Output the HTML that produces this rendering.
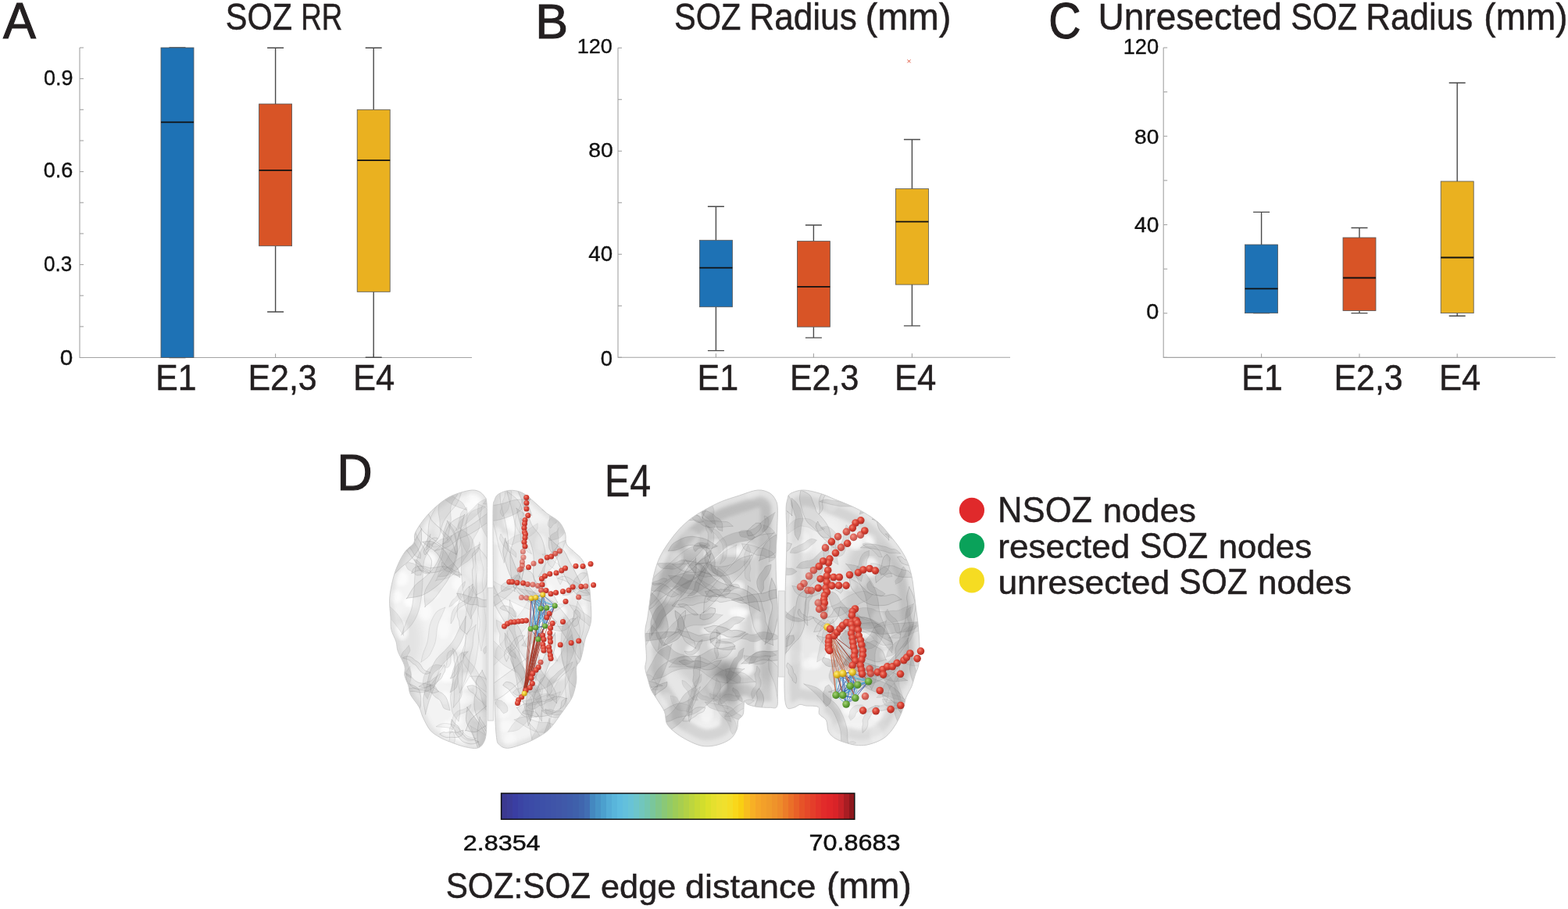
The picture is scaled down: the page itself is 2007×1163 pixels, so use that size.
<!DOCTYPE html>
<html><head><meta charset="utf-8"><title>Figure</title>
<style>html,body{margin:0;padding:0;background:#fff;overflow:hidden}svg{display:block}text{font-family:'Liberation Sans', 'DejaVu Sans', sans-serif;stroke:currentColor;stroke-width:0.5px;paint-order:stroke}</style>
</head><body>
<svg width="2007" height="1163" viewBox="0 0 2007 1163">
<rect width="2007" height="1163" fill="#fff"/>
<defs>
<clipPath id="cb1l"><path d="M601.0 627.4C606.6 626.5 609.3 627.2 612.5 628.5C615.7 629.8 618.2 632.5 620.0 635.0C621.8 637.5 622.4 636.3 623.0 643.6C623.6 650.9 623.5 665.9 623.6 678.6C623.7 691.3 623.6 703.1 623.5 720.0C623.4 736.9 623.1 758.3 623.0 780.0C622.9 801.7 623.0 830.0 623.0 850.0C623.0 870.0 623.1 885.5 623.0 900.0C622.9 914.5 623.1 928.5 622.4 937.0C621.6 945.5 620.5 947.6 618.5 951.0C616.5 954.4 614.6 956.4 610.7 957.2C606.8 958.0 601.0 956.9 595.3 955.6C589.6 954.3 582.1 951.5 576.7 949.4C571.3 947.3 567.2 945.9 562.8 943.3C558.4 940.7 554.0 938.4 550.4 934.0C546.8 929.6 543.3 921.9 541.0 917.0C538.7 912.1 539.0 909.3 536.4 904.6C533.8 899.9 527.9 893.6 525.6 889.0C523.3 884.4 523.8 880.8 522.5 876.7C521.2 872.6 518.7 868.4 517.9 864.3C517.1 860.2 519.3 857.2 517.9 852.0C516.5 846.8 511.1 838.5 509.3 833.3C507.5 828.1 508.4 825.6 507.0 821.0C505.6 816.4 502.0 810.7 500.8 805.5C499.6 800.3 500.4 796.6 500.0 790.0C499.6 783.4 498.2 774.0 498.7 766.0C499.1 758.0 501.0 749.3 502.7 742.2C504.4 735.1 506.4 729.3 509.0 723.2C511.6 717.1 515.1 710.5 518.6 705.7C522.1 700.9 527.7 698.5 529.8 694.5C531.9 690.5 529.0 687.1 531.4 681.8C533.8 676.5 539.0 668.8 544.0 662.7C549.0 656.6 555.8 650.0 561.6 645.2C567.4 640.4 572.4 637.0 579.0 634.0C585.6 631.0 595.4 628.3 601.0 627.4Z"/></clipPath>
<clipPath id="cb1r"><path d="M651.8 627.4C656.8 627.0 662.4 627.7 667.7 630.1C673.0 632.5 678.3 637.6 683.6 642.0C688.9 646.4 694.2 652.1 699.5 656.4C704.8 660.6 711.4 663.3 715.4 667.5C719.4 671.7 721.8 677.0 723.4 681.8C725.0 686.6 723.1 692.1 725.0 696.1C726.9 700.1 731.1 702.2 734.5 705.7C737.9 709.2 742.7 712.0 745.6 716.8C748.5 721.6 750.4 727.4 752.0 734.3C753.6 741.2 754.4 748.8 755.2 758.1C756.0 767.4 757.0 782.3 756.8 790.0C756.6 797.7 755.3 799.9 754.0 804.5C752.7 809.1 750.5 812.7 749.1 817.6C747.7 822.5 746.9 829.4 745.8 834.0C744.7 838.6 744.0 842.1 742.6 845.4C741.2 848.6 738.5 849.1 737.7 853.5C736.9 857.9 738.5 865.2 737.7 871.5C736.9 877.8 735.0 885.5 732.8 891.0C730.6 896.5 727.3 900.1 724.6 904.2C721.9 908.3 719.1 911.8 716.4 915.6C713.7 919.4 711.2 923.4 708.2 927.0C705.2 930.6 702.8 933.7 698.4 937.0C694.0 940.3 687.4 944.0 682.0 946.7C676.6 949.4 671.2 951.4 665.8 953.2C660.4 955.0 653.8 957.3 649.4 957.3C645.0 957.3 641.9 955.5 639.6 953.2C637.3 950.9 636.6 952.3 635.5 943.4C634.4 934.5 633.6 915.6 633.0 900.0C632.4 884.4 632.2 866.7 632.0 850.0C631.8 833.3 631.6 825.0 631.5 800.0C631.4 775.0 631.2 725.0 631.1 700.0C631.0 675.0 630.8 660.0 631.1 650.0C631.4 640.0 631.9 642.9 633.0 640.0C634.1 637.1 634.4 634.6 637.5 632.5C640.6 630.4 646.8 627.8 651.8 627.4Z"/></clipPath>
<clipPath id="cb2l"><path d="M969.8 627.0C976.2 626.5 981.3 628.6 985.2 630.8C989.1 633.0 991.3 636.7 993.0 640.1C994.7 643.5 995.0 644.0 995.3 651.0C995.5 658.0 994.9 671.6 994.5 681.9C994.1 692.2 993.1 702.6 993.0 712.9C992.9 723.2 993.3 733.5 993.7 743.8C994.1 754.1 994.9 762.1 995.3 774.8C995.7 787.5 996.0 802.0 996.0 820.0C996.0 838.0 995.5 868.9 995.3 882.9C995.0 896.9 996.2 900.1 994.5 903.8C992.8 907.5 989.4 905.2 985.3 905.3C981.2 905.4 974.4 905.1 969.8 904.5C965.1 903.9 960.2 902.4 957.4 901.4C954.5 900.4 953.7 896.2 952.7 898.3C951.7 900.4 952.5 909.9 951.2 913.8C949.9 917.7 946.3 918.5 945.0 921.6C943.7 924.7 945.0 928.5 943.5 932.4C942.0 936.3 939.6 941.4 935.7 944.8C931.8 948.1 925.9 950.8 920.2 952.5C914.5 954.2 907.6 955.3 901.7 954.8C895.8 954.3 890.5 952.1 884.6 949.4C878.7 946.7 871.2 942.5 866.1 938.6C861.0 934.7 856.3 930.9 853.7 926.2C851.1 921.6 852.7 915.9 850.6 910.7C848.5 905.5 844.1 899.8 841.3 895.2C838.5 890.6 835.5 887.0 833.6 882.9C831.7 878.8 831.0 875.1 829.7 870.5C828.4 865.9 826.2 859.9 825.8 855.0C825.4 850.1 827.4 848.8 827.4 841.1C827.4 833.4 825.5 817.1 825.8 808.6C826.0 800.1 827.9 796.9 828.9 790.0C829.9 783.1 831.0 774.7 832.0 767.0C833.0 759.3 833.8 750.8 835.1 743.8C836.4 736.8 838.0 730.9 839.8 725.2C841.6 719.5 843.2 715.2 846.0 709.8C848.8 704.4 852.9 698.1 856.8 692.7C860.7 687.3 864.6 682.2 869.2 677.3C873.8 672.4 879.2 667.4 884.6 663.3C890.0 659.2 895.2 656.1 901.7 652.5C908.2 648.9 915.8 644.8 923.3 641.7C930.8 638.6 938.8 636.4 946.5 633.9C954.2 631.4 963.3 627.5 969.8 627.0Z"/></clipPath>
<clipPath id="cb2r"><path d="M1028.3 627.0C1034.8 627.0 1043.7 629.6 1050.5 631.6C1057.3 633.6 1062.8 636.5 1068.9 639.0C1075.1 641.5 1081.2 643.6 1087.4 646.4C1093.6 649.2 1099.7 652.0 1105.9 655.7C1112.1 659.4 1118.9 663.7 1124.4 668.6C1130.0 673.5 1134.6 679.7 1139.2 685.2C1143.8 690.8 1148.4 696.4 1152.1 701.9C1155.8 707.4 1158.9 712.6 1161.4 718.5C1163.9 724.4 1165.5 730.8 1166.9 737.0C1168.3 743.2 1168.8 748.7 1169.7 755.5C1170.6 762.3 1171.5 770.3 1172.4 777.7C1173.3 785.1 1174.4 791.1 1175.2 799.8C1176.0 808.5 1177.0 821.6 1177.1 830.0C1177.2 838.4 1176.9 844.5 1176.0 850.0C1175.1 855.5 1173.0 858.4 1171.5 863.0C1170.0 867.6 1169.0 872.8 1167.1 877.7C1165.1 882.6 1161.5 887.9 1159.8 892.3C1158.1 896.7 1158.4 899.6 1156.9 904.0C1155.4 908.4 1153.4 913.7 1151.0 918.6C1148.6 923.5 1145.7 928.8 1142.3 933.2C1138.9 937.6 1135.5 941.7 1130.6 944.9C1125.7 948.1 1118.5 950.8 1113.1 952.2C1107.7 953.7 1103.3 953.9 1098.4 953.6C1093.5 953.4 1088.7 952.2 1083.8 950.7C1078.9 949.2 1073.1 947.3 1069.2 944.9C1065.3 942.5 1062.5 940.0 1060.5 936.1C1058.5 932.2 1059.5 925.2 1057.5 921.5C1055.5 917.8 1050.4 916.6 1048.7 913.8C1047.0 911.0 1050.0 906.3 1047.2 904.5C1044.4 902.7 1035.6 903.5 1031.7 903.0C1027.8 902.5 1026.5 901.0 1023.9 901.4C1021.3 901.8 1019.0 904.8 1016.2 905.3C1013.4 905.8 1008.9 908.7 1006.9 904.5C1004.9 900.3 1004.3 894.1 1004.0 880.0C1003.7 865.9 1005.0 840.8 1005.2 820.0C1005.4 799.2 1005.1 771.2 1005.2 755.5C1005.4 739.8 1005.8 737.1 1006.1 726.0C1006.4 714.9 1007.0 701.3 1007.0 689.0C1007.0 676.7 1006.0 660.3 1006.1 652.0C1006.2 643.7 1007.0 642.4 1007.9 639.0C1008.8 635.6 1008.2 633.6 1011.6 631.6C1015.0 629.6 1021.8 627.0 1028.3 627.0Z"/></clipPath>
<radialGradient id="gr" cx="0.38" cy="0.35" r="0.7"><stop offset="0" stop-color="#f28a78"/><stop offset="0.45" stop-color="#dc4436"/><stop offset="1" stop-color="#a82a22"/></radialGradient>
<radialGradient id="gg" cx="0.38" cy="0.35" r="0.7"><stop offset="0" stop-color="#a8d47a"/><stop offset="0.5" stop-color="#6aa83c"/><stop offset="1" stop-color="#3f7a22"/></radialGradient>
<radialGradient id="gy" cx="0.38" cy="0.35" r="0.7"><stop offset="0" stop-color="#fff08a"/><stop offset="0.5" stop-color="#e9c42a"/><stop offset="1" stop-color="#b08a10"/></radialGradient>
<filter id="blur1" x="-5%" y="-5%" width="110%" height="110%"><feGaussianBlur stdDeviation="2"/></filter>
<filter id="blur2" x="-10%" y="-10%" width="120%" height="120%"><feGaussianBlur stdDeviation="5"/></filter>
<filter id="blur3" x="-30%" y="-30%" width="160%" height="160%"><feGaussianBlur stdDeviation="6"/></filter>
</defs>
<path d="M601.0 627.4C606.6 626.5 609.3 627.2 612.5 628.5C615.7 629.8 618.2 632.5 620.0 635.0C621.8 637.5 622.4 636.3 623.0 643.6C623.6 650.9 623.5 665.9 623.6 678.6C623.7 691.3 623.6 703.1 623.5 720.0C623.4 736.9 623.1 758.3 623.0 780.0C622.9 801.7 623.0 830.0 623.0 850.0C623.0 870.0 623.1 885.5 623.0 900.0C622.9 914.5 623.1 928.5 622.4 937.0C621.6 945.5 620.5 947.6 618.5 951.0C616.5 954.4 614.6 956.4 610.7 957.2C606.8 958.0 601.0 956.9 595.3 955.6C589.6 954.3 582.1 951.5 576.7 949.4C571.3 947.3 567.2 945.9 562.8 943.3C558.4 940.7 554.0 938.4 550.4 934.0C546.8 929.6 543.3 921.9 541.0 917.0C538.7 912.1 539.0 909.3 536.4 904.6C533.8 899.9 527.9 893.6 525.6 889.0C523.3 884.4 523.8 880.8 522.5 876.7C521.2 872.6 518.7 868.4 517.9 864.3C517.1 860.2 519.3 857.2 517.9 852.0C516.5 846.8 511.1 838.5 509.3 833.3C507.5 828.1 508.4 825.6 507.0 821.0C505.6 816.4 502.0 810.7 500.8 805.5C499.6 800.3 500.4 796.6 500.0 790.0C499.6 783.4 498.2 774.0 498.7 766.0C499.1 758.0 501.0 749.3 502.7 742.2C504.4 735.1 506.4 729.3 509.0 723.2C511.6 717.1 515.1 710.5 518.6 705.7C522.1 700.9 527.7 698.5 529.8 694.5C531.9 690.5 529.0 687.1 531.4 681.8C533.8 676.5 539.0 668.8 544.0 662.7C549.0 656.6 555.8 650.0 561.6 645.2C567.4 640.4 572.4 637.0 579.0 634.0C585.6 631.0 595.4 628.3 601.0 627.4Z" fill="#f3f3f3"/>
<g clip-path="url(#cb1l)">
<ellipse cx="575" cy="705" rx="25" ry="18" fill="#777" opacity="0.12" filter="url(#blur3)"/>
<ellipse cx="525" cy="820" rx="16" ry="35" fill="#777" opacity="0.12" filter="url(#blur3)"/>
<ellipse cx="585" cy="850" rx="20" ry="22" fill="#777" opacity="0.1" filter="url(#blur3)"/>
<ellipse cx="610" cy="905" rx="12" ry="35" fill="#777" opacity="0.15" filter="url(#blur3)"/>
<ellipse cx="571.3" cy="691.6" rx="13.7" ry="13.4" fill="#fff" opacity="0.58" filter="url(#blur1)"/>
<ellipse cx="581.6" cy="698.1" rx="7.8" ry="8.3" fill="#fff" opacity="0.69" filter="url(#blur1)"/>
<ellipse cx="544.5" cy="783.0" rx="8.6" ry="11.1" fill="#fff" opacity="0.55" filter="url(#blur1)"/>
<ellipse cx="524.7" cy="769.3" rx="8.4" ry="6.9" fill="#fff" opacity="0.75" filter="url(#blur1)"/>
<ellipse cx="583.7" cy="846.6" rx="13.1" ry="9.2" fill="#fff" opacity="0.54" filter="url(#blur1)"/>
<ellipse cx="551.5" cy="760.8" rx="11.4" ry="6.1" fill="#fff" opacity="0.58" filter="url(#blur1)"/>
<ellipse cx="565.5" cy="741.4" rx="6.2" ry="11.6" fill="#fff" opacity="0.35" filter="url(#blur1)"/>
<ellipse cx="569.2" cy="678.0" rx="6.3" ry="7.4" fill="#fff" opacity="0.38" filter="url(#blur1)"/>
<ellipse cx="589.7" cy="747.0" rx="11.2" ry="9.8" fill="#fff" opacity="0.59" filter="url(#blur1)"/>
<ellipse cx="608.1" cy="730.1" rx="13.0" ry="11.5" fill="#fff" opacity="0.68" filter="url(#blur1)"/>
<ellipse cx="616.9" cy="916.2" rx="12.7" ry="7.0" fill="#fff" opacity="0.70" filter="url(#blur1)"/>
<ellipse cx="595.4" cy="894.3" rx="12.3" ry="7.1" fill="#fff" opacity="0.44" filter="url(#blur1)"/>
<ellipse cx="597.7" cy="870.9" rx="13.1" ry="9.6" fill="#fff" opacity="0.79" filter="url(#blur1)"/>
<ellipse cx="609.2" cy="738.7" rx="6.5" ry="10.4" fill="#fff" opacity="0.69" filter="url(#blur1)"/>
<ellipse cx="533.5" cy="899.3" rx="6.7" ry="13.5" fill="#fff" opacity="0.47" filter="url(#blur1)"/>
<ellipse cx="621.2" cy="924.6" rx="8.6" ry="6.8" fill="#fff" opacity="0.67" filter="url(#blur1)"/>
<ellipse cx="609.6" cy="631.4" rx="11.1" ry="12.9" fill="#fff" opacity="0.57" filter="url(#blur1)"/>
<ellipse cx="569.8" cy="892.6" rx="7.9" ry="8.2" fill="#fff" opacity="0.67" filter="url(#blur1)"/>
<ellipse cx="567.7" cy="804.0" rx="8.7" ry="13.5" fill="#fff" opacity="0.49" filter="url(#blur1)"/>
<ellipse cx="583.5" cy="922.3" rx="9.2" ry="6.4" fill="#fff" opacity="0.46" filter="url(#blur1)"/>
<ellipse cx="513.7" cy="740.4" rx="9.0" ry="9.6" fill="#fff" opacity="0.68" filter="url(#blur1)"/>
<ellipse cx="583.2" cy="854.1" rx="8.9" ry="11.3" fill="#fff" opacity="0.62" filter="url(#blur1)"/>
<ellipse cx="514.6" cy="807.4" rx="8.5" ry="11.4" fill="#fff" opacity="0.71" filter="url(#blur1)"/>
<ellipse cx="528.8" cy="770.9" rx="9.6" ry="8.4" fill="#fff" opacity="0.37" filter="url(#blur1)"/>
<ellipse cx="591.1" cy="772.1" rx="11.3" ry="8.2" fill="#fff" opacity="0.70" filter="url(#blur1)"/>
<ellipse cx="617.5" cy="882.4" rx="9.7" ry="13.9" fill="#fff" opacity="0.80" filter="url(#blur1)"/>
<ellipse cx="506.0" cy="763.2" rx="9.6" ry="8.2" fill="#fff" opacity="0.65" filter="url(#blur1)"/>
<ellipse cx="605.8" cy="647.7" rx="11.5" ry="8.1" fill="#fff" opacity="0.66" filter="url(#blur1)"/>
<ellipse cx="585.0" cy="949.5" rx="12.4" ry="8.7" fill="#fff" opacity="0.71" filter="url(#blur1)"/>
<ellipse cx="550.8" cy="714.9" rx="7.9" ry="7.7" fill="#fff" opacity="0.74" filter="url(#blur1)"/>
<ellipse cx="589.9" cy="821.1" rx="11.3" ry="13.2" fill="#fff" opacity="0.57" filter="url(#blur1)"/>
<ellipse cx="563.2" cy="863.3" rx="13.3" ry="10.1" fill="#fff" opacity="0.46" filter="url(#blur1)"/>
<ellipse cx="572.7" cy="935.7" rx="8.7" ry="13.4" fill="#fff" opacity="0.79" filter="url(#blur1)"/>
<ellipse cx="570.8" cy="786.0" rx="7.0" ry="6.9" fill="#fff" opacity="0.37" filter="url(#blur1)"/>
<ellipse cx="575.1" cy="862.4" rx="13.9" ry="10.8" fill="#fff" opacity="0.84" filter="url(#blur1)"/>
<ellipse cx="549.0" cy="671.6" rx="6.5" ry="8.3" fill="#fff" opacity="0.61" filter="url(#blur1)"/>
<ellipse cx="621.9" cy="725.4" rx="7.9" ry="11.8" fill="#fff" opacity="0.54" filter="url(#blur1)"/>
<ellipse cx="568.4" cy="677.3" rx="12.8" ry="13.4" fill="#fff" opacity="0.72" filter="url(#blur1)"/>
<ellipse cx="615.6" cy="737.1" rx="6.3" ry="8.4" fill="#fff" opacity="0.79" filter="url(#blur1)"/>
<ellipse cx="557.3" cy="693.5" rx="7.2" ry="7.3" fill="#fff" opacity="0.57" filter="url(#blur1)"/>
<path d="M601.0 627.4C606.6 626.5 609.3 627.2 612.5 628.5C615.7 629.8 618.2 632.5 620.0 635.0C621.8 637.5 622.4 636.3 623.0 643.6C623.6 650.9 623.5 665.9 623.6 678.6C623.7 691.3 623.6 703.1 623.5 720.0C623.4 736.9 623.1 758.3 623.0 780.0C622.9 801.7 623.0 830.0 623.0 850.0C623.0 870.0 623.1 885.5 623.0 900.0C622.9 914.5 623.1 928.5 622.4 937.0C621.6 945.5 620.5 947.6 618.5 951.0C616.5 954.4 614.6 956.4 610.7 957.2C606.8 958.0 601.0 956.9 595.3 955.6C589.6 954.3 582.1 951.5 576.7 949.4C571.3 947.3 567.2 945.9 562.8 943.3C558.4 940.7 554.0 938.4 550.4 934.0C546.8 929.6 543.3 921.9 541.0 917.0C538.7 912.1 539.0 909.3 536.4 904.6C533.8 899.9 527.9 893.6 525.6 889.0C523.3 884.4 523.8 880.8 522.5 876.7C521.2 872.6 518.7 868.4 517.9 864.3C517.1 860.2 519.3 857.2 517.9 852.0C516.5 846.8 511.1 838.5 509.3 833.3C507.5 828.1 508.4 825.6 507.0 821.0C505.6 816.4 502.0 810.7 500.8 805.5C499.6 800.3 500.4 796.6 500.0 790.0C499.6 783.4 498.2 774.0 498.7 766.0C499.1 758.0 501.0 749.3 502.7 742.2C504.4 735.1 506.4 729.3 509.0 723.2C511.6 717.1 515.1 710.5 518.6 705.7C522.1 700.9 527.7 698.5 529.8 694.5C531.9 690.5 529.0 687.1 531.4 681.8C533.8 676.5 539.0 668.8 544.0 662.7C549.0 656.6 555.8 650.0 561.6 645.2C567.4 640.4 572.4 637.0 579.0 634.0C585.6 631.0 595.4 628.3 601.0 627.4Z" fill="none" stroke="#888" stroke-opacity="0.15" stroke-width="10" filter="url(#blur1)"/>
<path d="M614.0 918.9C613.4 921.8 611.3 930.5 611.0 936.0C610.7 941.6 610.8 946.6 612.4 952.2C613.9 957.7 618.5 964.0 620.3 969.1C622.0 974.2 621.0 977.9 622.8 982.9C624.6 988.0 628.6 994.2 631.1 999.3C633.6 1004.4 635.8 1008.8 637.9 1013.5C640.0 1018.3 641.1 1023.1 643.5 1027.9C646.0 1032.6 650.9 1039.7 652.5 1042.0C654.1 1044.4 652.5 1044.9 653.1 1041.9C653.6 1038.9 655.9 1029.9 655.7 1024.2C655.5 1018.4 653.5 1012.9 651.8 1007.5C650.2 1002.1 647.8 996.5 645.7 991.8C643.6 987.2 641.0 984.4 639.2 979.4C637.3 974.3 636.7 966.4 634.8 961.4C632.8 956.5 629.2 954.3 627.4 949.7C625.5 945.1 625.6 938.9 623.5 933.7C621.4 928.6 616.2 921.4 614.6 918.9C613.0 916.4 614.6 916.1 614.0 918.9Z" fill="#8a8a8a" fill-opacity="0.10" stroke="#858585" stroke-opacity="0.41" stroke-width="0.7"/>
<path d="M616.2 831.0C616.9 828.2 618.6 819.5 619.6 813.9C620.7 808.3 622.4 803.3 622.5 797.5C622.6 791.8 620.7 785.2 620.3 779.4C619.8 773.6 620.2 768.5 619.8 762.9C619.3 757.2 617.5 751.1 617.4 745.5C617.3 740.0 619.5 735.3 619.1 729.7C618.7 724.0 615.9 717.5 615.1 711.8C614.2 706.1 614.2 698.3 613.9 695.5C613.6 692.8 614.2 692.5 613.3 695.5C612.3 698.4 608.6 707.6 608.2 713.1C607.8 718.7 610.9 723.1 610.9 728.7C611.0 734.3 608.6 740.9 608.6 746.7C608.5 752.4 610.2 757.5 610.6 763.2C611.1 768.9 610.8 775.2 611.4 780.8C612.1 786.3 614.1 790.9 614.3 796.4C614.5 801.9 612.4 808.1 612.7 813.8C612.9 819.5 615.0 828.0 615.6 830.8C616.2 833.7 615.5 833.8 616.2 831.0Z" fill="#8a8a8a" fill-opacity="0.07" stroke="#858585" stroke-opacity="0.18" stroke-width="0.7"/>
<path d="M602.8 929.9C603.6 932.7 605.6 941.2 608.3 946.0C611.0 950.8 616.1 954.4 619.0 958.6C621.9 962.7 622.7 966.8 625.8 971.1C628.9 975.3 634.0 979.9 637.6 984.0C641.2 988.1 644.8 991.7 647.4 995.7C650.1 999.8 650.6 1003.9 653.7 1008.2C656.8 1012.4 660.9 1018.1 665.8 1021.2C670.7 1024.3 680.2 1026.0 683.2 1026.9C686.2 1027.8 684.8 1028.7 683.6 1026.4C682.3 1024.1 678.2 1017.3 675.5 1013.1C672.8 1009.0 669.8 1006.4 667.3 1001.8C664.7 997.2 662.9 990.3 659.9 985.5C657.0 980.6 653.0 976.5 649.6 972.7C646.2 968.8 642.9 966.6 639.6 962.5C636.2 958.4 633.2 952.1 629.6 948.0C626.0 943.9 622.4 941.1 618.0 938.0C613.6 934.9 605.8 930.9 603.3 929.6C600.7 928.2 601.9 927.2 602.8 929.9Z" fill="#8a8a8a" fill-opacity="0.09" stroke="#858585" stroke-opacity="0.25" stroke-width="0.7"/>
<path d="M608.1 800.6C606.3 802.2 600.3 806.4 598.1 810.4C595.8 814.5 595.9 820.6 594.7 825.0C593.4 829.5 591.6 832.7 590.5 837.1C589.4 841.5 589.1 846.8 588.3 851.2C587.4 855.7 586.5 859.7 585.4 863.9C584.3 868.1 582.3 871.8 581.7 876.3C581.0 880.9 581.5 886.5 581.4 891.1C581.2 895.7 580.6 901.7 580.5 903.8C580.5 906.0 579.5 906.1 581.1 904.0C582.7 902.0 588.4 895.8 590.1 891.7C591.9 887.6 590.5 883.8 591.6 879.6C592.6 875.4 595.0 870.9 596.3 866.5C597.7 862.0 598.8 857.2 599.6 852.9C600.5 848.5 600.4 844.7 601.3 840.4C602.2 836.0 604.2 831.0 605.0 826.7C605.7 822.4 605.2 819.0 605.8 814.7C606.4 810.4 608.3 803.2 608.7 800.8C609.0 798.5 609.9 799.0 608.1 800.6Z" fill="#8a8a8a" fill-opacity="0.07" stroke="#858585" stroke-opacity="0.31" stroke-width="0.7"/>
<path d="M593.5 659.4C590.8 660.9 581.8 664.1 577.7 668.3C573.6 672.5 570.9 678.7 568.8 684.5C566.8 690.4 566.9 698.1 565.5 703.6C564.1 709.1 562.7 713.2 560.6 717.5C558.5 721.8 555.9 725.7 552.9 729.3C549.9 733.0 546.5 736.1 542.8 739.4C539.2 742.7 534.6 745.1 531.0 749.3C527.4 753.5 522.9 762.0 521.4 764.6C519.9 767.3 518.7 765.6 521.7 765.1C524.8 764.7 534.1 763.9 539.7 761.8C545.3 759.7 550.3 756.3 555.3 752.7C560.2 749.0 565.4 744.7 569.5 739.9C573.5 735.1 577.1 729.3 579.7 723.7C582.3 718.0 584.1 711.1 585.0 705.8C586.0 700.5 584.7 696.5 585.5 691.8C586.3 687.1 588.4 682.8 589.9 677.5C591.3 672.1 593.5 662.7 594.1 659.7C594.7 656.7 596.3 658.0 593.5 659.4Z" fill="#8a8a8a" fill-opacity="0.14" stroke="#858585" stroke-opacity="0.40" stroke-width="0.7"/>
<path d="M612.3 645.5C612.1 647.1 611.4 652.2 611.5 654.9C611.6 657.6 612.3 659.3 612.9 661.6C613.5 663.9 614.3 666.5 615.0 668.8C615.8 671.2 616.1 673.4 617.2 675.8C618.2 678.3 620.0 681.3 621.2 683.6C622.5 686.0 623.8 688.1 624.7 690.1C625.5 692.1 625.5 693.7 626.4 695.7C627.4 697.7 629.7 701.2 630.5 702.3C631.3 703.4 629.8 703.8 631.1 702.4C632.3 701.0 636.8 696.9 637.9 693.9C638.9 690.9 637.8 687.3 637.3 684.4C636.7 681.6 635.4 679.1 634.5 676.9C633.6 674.7 632.6 673.3 631.6 671.1C630.7 668.8 630.0 666.0 629.0 663.6C628.0 661.1 627.0 658.9 625.7 656.5C624.4 654.0 623.6 650.9 621.4 649.0C619.3 647.1 614.4 645.9 612.8 645.3C611.3 644.7 612.5 643.9 612.3 645.5Z" fill="#8a8a8a" fill-opacity="0.14" stroke="#858585" stroke-opacity="0.21" stroke-width="0.7"/>
<path d="M516.5 811.8C516.5 809.5 517.3 802.4 516.0 798.1C514.7 793.7 511.7 789.5 508.8 785.7C505.9 782.0 502.0 778.8 498.6 775.7C495.1 772.5 491.2 770.0 488.2 767.1C485.3 764.1 483.9 760.8 480.7 757.8C477.5 754.8 472.5 752.1 469.2 749.2C465.9 746.3 464.6 742.6 460.9 740.4C457.1 738.2 449.1 736.6 446.7 735.9C444.2 735.2 445.1 734.7 446.3 736.4C447.6 738.1 451.4 742.6 454.1 746.1C456.8 749.6 459.7 754.4 462.7 757.5C465.7 760.6 468.9 761.8 471.9 764.9C474.9 768.0 477.7 772.9 480.9 776.1C484.1 779.2 487.7 781.5 490.9 784.1C494.1 786.7 497.3 788.8 500.1 791.6C502.9 794.5 505.0 797.6 507.6 801.0C510.3 804.4 514.5 810.2 515.9 812.0C517.4 813.8 516.5 814.2 516.5 811.8Z" fill="#8a8a8a" fill-opacity="0.13" stroke="#858585" stroke-opacity="0.18" stroke-width="0.7"/>
<path d="M538.6 678.3C537.0 680.9 532.6 689.5 529.2 694.3C525.9 699.0 522.6 703.0 518.6 706.8C514.6 710.5 509.8 713.0 505.3 716.8C500.9 720.5 496.3 725.3 491.7 729.2C487.2 733.0 482.3 735.6 478.0 739.8C473.6 744.1 469.0 749.3 465.6 754.7C462.2 760.1 460.4 766.9 457.6 772.4C454.9 777.9 450.6 784.8 449.3 787.4C448.0 790.0 446.9 789.6 449.8 787.8C452.6 786.0 462.2 781.0 466.2 776.7C470.3 772.4 471.1 766.6 474.3 762.1C477.5 757.6 481.1 753.6 485.4 749.6C489.8 745.7 495.7 742.3 500.3 738.4C504.9 734.5 508.6 730.5 513.1 726.3C517.7 722.2 523.6 718.4 527.8 713.5C532.0 708.7 536.6 702.8 538.5 697.0C540.4 691.1 539.2 681.5 539.2 678.4C539.3 675.3 540.3 675.6 538.6 678.3Z" fill="#8a8a8a" fill-opacity="0.16" stroke="#858585" stroke-opacity="0.43" stroke-width="0.7"/>
<path d="M547.0 702.0C549.5 699.8 557.8 694.1 561.0 688.8C564.3 683.4 564.3 675.1 566.7 669.7C569.0 664.4 571.9 660.9 575.0 656.6C578.1 652.2 582.5 649.0 585.3 643.5C588.2 637.9 590.9 630.1 592.1 623.3C593.2 616.5 592.6 609.2 592.3 602.7C592.1 596.2 591.4 590.2 590.7 584.3C590.0 578.3 588.8 569.9 588.4 567.0C587.9 564.1 589.8 563.9 587.8 566.8C585.8 569.8 578.4 578.6 576.2 584.5C574.1 590.4 575.4 596.6 575.1 602.2C574.8 607.7 575.1 612.7 574.3 617.7C573.4 622.7 572.7 627.0 570.1 632.0C567.5 637.0 562.0 641.9 558.6 647.7C555.3 653.4 551.5 660.4 549.8 666.2C548.0 672.0 548.6 676.6 548.0 682.5C547.4 688.5 546.6 698.7 546.4 701.9C546.3 705.1 544.6 704.2 547.0 702.0Z" fill="#8a8a8a" fill-opacity="0.09" stroke="#858585" stroke-opacity="0.31" stroke-width="0.7"/>
<path d="M614.0 696.4C612.6 697.1 608.6 699.4 606.2 700.9C603.9 702.3 602.0 703.5 599.8 705.1C597.7 706.8 595.4 709.3 593.3 710.9C591.1 712.5 589.0 713.1 586.8 714.7C584.6 716.3 582.1 718.8 579.9 720.6C577.7 722.4 575.7 723.7 573.5 725.5C571.4 727.2 569.1 728.9 567.1 730.8C565.0 732.8 562.3 735.9 561.4 737.1C560.5 738.2 560.0 737.7 561.6 737.6C563.3 737.6 568.4 737.6 571.2 736.7C574.0 735.8 576.0 733.9 578.4 732.4C580.9 730.8 583.6 729.2 585.8 727.6C588.0 725.9 589.5 724.3 591.8 722.6C594.0 720.9 597.3 719.3 599.5 717.5C601.8 715.7 603.1 713.7 605.2 711.7C607.2 709.7 610.2 707.8 611.8 705.3C613.4 702.8 614.2 698.1 614.5 696.7C614.9 695.2 615.4 695.7 614.0 696.4Z" fill="#8a8a8a" fill-opacity="0.14" stroke="#858585" stroke-opacity="0.28" stroke-width="0.7"/>
<path d="M597.5 810.8C598.5 809.3 601.7 804.4 602.8 801.7C603.9 799.0 604.2 797.5 604.2 794.7C604.2 791.9 603.0 787.5 602.9 784.9C602.9 782.3 603.3 781.0 603.7 779.1C604.1 777.2 604.8 775.5 605.5 773.5C606.1 771.5 607.1 769.5 607.8 767.1C608.5 764.6 610.3 762.2 609.9 759.0C609.5 755.9 606.2 750.1 605.3 748.3C604.4 746.5 606.0 747.3 604.7 748.2C603.4 749.0 599.2 751.4 597.2 753.4C595.3 755.4 594.2 757.6 592.8 760.1C591.3 762.6 589.6 765.3 588.3 768.4C587.1 771.4 585.9 774.9 585.4 778.3C584.9 781.7 585.1 786.0 585.4 788.7C585.8 791.4 587.0 792.2 587.6 794.7C588.2 797.3 587.6 801.2 589.1 803.9C590.6 806.6 595.5 809.7 596.9 810.8C598.3 812.0 596.5 812.3 597.5 810.8Z" fill="#8a8a8a" fill-opacity="0.08" stroke="#858585" stroke-opacity="0.32" stroke-width="0.7"/>
<path d="M593.1 837.1C593.1 839.0 592.5 845.0 593.7 848.6C594.9 852.2 598.4 855.5 600.3 858.7C602.2 861.9 603.3 864.8 605.2 867.9C607.2 871.0 610.2 874.2 611.8 877.3C613.5 880.4 614.0 883.2 614.9 886.4C615.8 889.6 616.2 893.0 617.3 896.5C618.3 899.9 619.1 904.1 621.3 907.2C623.6 910.3 629.3 913.9 631.0 915.2C632.7 916.4 632.0 916.5 631.5 914.8C631.0 913.1 629.2 908.3 628.3 905.0C627.3 901.7 626.5 898.4 625.7 894.8C624.9 891.2 624.7 887.2 623.7 883.3C622.6 879.5 621.3 875.1 619.5 871.7C617.8 868.4 615.3 866.3 613.2 863.3C611.2 860.3 609.3 856.4 607.1 853.5C605.0 850.7 602.8 848.9 600.5 846.1C598.3 843.3 594.9 838.4 593.7 836.9C592.5 835.4 593.1 835.1 593.1 837.1Z" fill="#8a8a8a" fill-opacity="0.10" stroke="#858585" stroke-opacity="0.27" stroke-width="0.7"/>
<path d="M600.6 752.0C600.3 755.0 599.8 764.5 599.1 770.0C598.5 775.5 597.4 779.6 596.6 784.8C595.9 790.1 594.9 795.8 594.8 801.7C594.7 807.5 596.0 814.3 595.9 819.8C595.8 825.4 594.8 829.8 594.1 835.1C593.4 840.3 593.1 846.4 591.8 851.4C590.4 856.5 586.7 859.8 586.2 865.3C585.6 870.9 587.9 881.4 588.3 884.7C588.8 887.9 587.3 887.1 588.9 884.8C590.5 882.5 594.7 876.0 597.7 870.9C600.7 865.8 604.7 859.8 606.8 854.1C608.9 848.5 609.5 843.0 610.5 837.1C611.5 831.1 612.6 824.2 612.8 818.5C612.9 812.8 611.4 808.3 611.3 802.9C611.1 797.4 611.9 791.8 611.9 785.8C611.9 779.8 613.3 772.3 611.5 766.7C609.7 761.1 603.0 754.4 601.2 751.9C599.4 749.5 601.0 749.0 600.6 752.0Z" fill="#8a8a8a" fill-opacity="0.06" stroke="#858585" stroke-opacity="0.23" stroke-width="0.7"/>
<path d="M550.8 730.6C551.1 728.2 553.3 721.0 552.3 716.7C551.3 712.5 546.9 708.7 544.7 705.3C542.6 701.8 541.4 699.2 539.6 696.0C537.7 692.8 534.9 689.2 533.5 686.2C532.0 683.1 532.2 680.9 531.0 677.6C529.7 674.3 528.5 670.1 526.1 666.4C523.7 662.8 520.4 658.0 516.5 655.6C512.5 653.2 504.6 652.4 502.2 651.9C499.8 651.3 501.5 650.1 501.8 652.3C502.1 654.5 503.0 661.6 504.1 665.0C505.3 668.5 507.4 669.7 508.7 672.8C509.9 675.8 510.5 679.5 511.8 683.6C513.0 687.7 514.4 693.4 516.2 697.4C518.1 701.3 520.4 703.8 522.9 707.2C525.3 710.5 528.1 714.6 530.6 717.4C533.2 720.1 535.1 721.4 538.3 723.7C541.6 725.9 548.1 729.6 550.2 730.8C552.3 731.9 550.4 732.9 550.8 730.6Z" fill="#8a8a8a" fill-opacity="0.08" stroke="#858585" stroke-opacity="0.40" stroke-width="0.7"/>
<path d="M596.6 651.8C595.9 650.3 593.9 645.5 591.7 643.2C589.4 640.9 585.8 639.6 583.3 637.8C580.8 636.0 578.9 634.2 576.6 632.4C574.3 630.5 572.1 628.5 569.5 626.7C566.8 625.0 563.5 623.5 560.8 621.9C558.0 620.4 556.0 618.6 553.0 617.4C550.0 616.3 546.2 615.2 542.8 615.1C539.4 615.0 534.4 616.5 532.7 616.9C531.1 617.3 531.3 616.6 532.6 617.5C534.0 618.4 538.2 621.1 540.8 622.3C543.4 623.5 545.7 623.6 548.3 624.9C550.8 626.3 553.6 628.7 556.1 630.3C558.6 631.9 561.0 632.8 563.5 634.5C566.0 636.1 568.3 638.2 570.9 640.1C573.5 641.9 576.4 644.1 579.1 645.6C581.7 647.1 584.1 647.9 586.9 649.0C589.7 650.1 594.5 651.6 596.1 652.1C597.7 652.6 597.4 653.3 596.6 651.8Z" fill="#8a8a8a" fill-opacity="0.15" stroke="#858585" stroke-opacity="0.29" stroke-width="0.7"/>
<path d="M588.4 738.0C588.2 736.5 587.8 731.8 586.6 729.1C585.5 726.4 583.2 724.3 581.4 722.0C579.7 719.7 577.6 717.7 576.1 715.6C574.5 713.4 573.6 711.4 572.1 709.1C570.6 706.9 569.0 704.4 566.9 702.3C564.9 700.2 562.2 698.1 559.6 696.4C557.0 694.8 554.3 693.1 551.3 692.6C548.3 692.0 543.3 693.1 541.6 693.3C540.0 693.5 540.4 693.0 541.5 693.9C542.5 694.8 545.7 697.5 547.8 699.0C549.8 700.5 552.1 701.7 554.0 703.1C555.9 704.6 557.7 706.0 559.4 707.9C561.0 709.7 562.4 712.1 564.0 714.4C565.6 716.7 567.3 719.6 569.1 721.9C570.9 724.1 572.9 725.8 574.8 727.7C576.7 729.6 578.3 731.4 580.5 733.1C582.6 734.9 586.5 737.3 587.8 738.2C589.1 739.0 588.6 739.5 588.4 738.0Z" fill="#8a8a8a" fill-opacity="0.15" stroke="#858585" stroke-opacity="0.44" stroke-width="0.7"/>
<path d="M573.0 689.7C573.5 687.4 575.0 680.2 575.7 676.1C576.4 671.9 577.1 669.0 577.3 664.9C577.4 660.8 576.2 655.2 576.6 651.4C577.0 647.5 578.2 644.7 579.6 641.7C581.1 638.6 583.6 636.9 585.3 633.2C586.9 629.4 588.1 623.3 589.5 619.2C591.0 615.1 592.9 612.6 594.1 608.7C595.2 604.7 596.1 597.9 596.5 595.7C596.8 593.4 598.2 594.1 596.0 595.3C593.8 596.5 586.8 599.7 583.4 602.9C580.0 606.1 577.7 611.0 575.8 614.6C573.9 618.3 574.0 621.0 572.0 624.8C570.1 628.7 565.9 633.2 564.1 637.8C562.3 642.5 561.3 648.4 561.0 652.8C560.8 657.3 562.3 660.3 562.8 664.6C563.3 668.9 562.3 674.6 563.9 678.9C565.5 683.1 570.9 688.2 572.5 690.0C574.0 691.8 572.4 692.0 573.0 689.7Z" fill="#8a8a8a" fill-opacity="0.14" stroke="#858585" stroke-opacity="0.26" stroke-width="0.7"/>
<path d="M602.8 865.8C604.0 867.5 607.7 873.1 610.3 875.9C613.0 878.8 615.6 880.6 618.7 882.9C621.7 885.1 625.6 887.2 628.7 889.3C631.7 891.5 633.9 893.7 637.0 895.8C640.0 898.0 643.7 900.2 646.9 902.3C650.2 904.4 653.7 906.2 656.5 908.3C659.3 910.4 660.1 913.6 663.7 915.1C667.2 916.6 675.3 917.0 677.7 917.3C680.1 917.5 678.9 918.4 678.0 916.7C677.1 915.1 674.6 910.7 672.3 907.4C670.0 904.2 667.2 900.0 664.3 897.1C661.5 894.2 658.2 892.2 655.1 890.0C652.1 887.8 649.3 886.0 646.1 883.7C642.9 881.5 639.4 878.6 636.1 876.5C632.8 874.5 629.7 873.3 626.3 871.5C622.9 869.7 619.6 866.8 615.7 865.7C611.8 864.7 605.2 865.2 603.0 865.2C600.9 865.2 601.6 864.0 602.8 865.8Z" fill="#8a8a8a" fill-opacity="0.07" stroke="#858585" stroke-opacity="0.32" stroke-width="0.7"/>
<path d="M589.6 677.3C589.6 680.0 589.7 688.4 589.9 693.2C590.1 698.0 590.9 701.6 591.0 705.9C591.1 710.1 590.5 714.2 590.5 718.7C590.4 723.2 590.2 728.1 590.5 733.0C590.7 737.9 591.4 743.1 591.8 747.9C592.3 752.8 592.6 757.3 593.3 762.1C594.0 766.8 594.4 771.8 595.9 776.5C597.3 781.2 601.0 788.0 602.1 790.3C603.3 792.6 601.4 792.8 602.7 790.3C604.1 787.8 608.8 780.2 610.1 775.4C611.3 770.5 610.3 765.9 610.3 761.1C610.3 756.3 610.4 751.2 610.2 746.5C610.0 741.8 609.5 737.4 609.3 732.7C609.1 728.0 609.1 723.3 608.9 718.2C608.6 713.2 608.7 707.5 607.6 702.3C606.6 697.1 605.6 691.0 602.7 686.8C599.7 682.6 592.3 678.5 590.1 676.9C587.9 675.4 589.6 674.6 589.6 677.3Z" fill="#8a8a8a" fill-opacity="0.13" stroke="#858585" stroke-opacity="0.25" stroke-width="0.7"/>
<path d="M568.9 777.5C567.3 778.2 562.3 779.8 559.8 782.0C557.3 784.2 555.5 787.5 553.9 790.6C552.2 793.6 551.0 797.0 550.1 800.4C549.2 803.8 549.0 807.5 548.6 810.8C548.1 814.1 548.0 817.3 547.3 820.2C546.7 823.1 545.6 825.5 544.6 828.2C543.6 831.0 542.2 833.8 541.3 836.7C540.4 839.7 539.5 844.5 539.2 846.1C538.9 847.8 538.2 847.5 539.7 846.5C541.2 845.5 546.1 842.6 548.3 840.1C550.6 837.6 551.8 834.5 553.3 831.4C554.8 828.3 556.3 824.8 557.2 821.6C558.1 818.3 558.2 815.1 558.6 812.1C559.0 809.1 559.0 806.3 559.5 803.5C560.1 800.7 560.8 797.9 561.8 795.2C562.8 792.5 564.2 790.2 565.5 787.3C566.8 784.4 568.9 779.5 569.4 777.9C570.0 776.2 570.5 776.8 568.9 777.5Z" fill="#8a8a8a" fill-opacity="0.08" stroke="#858585" stroke-opacity="0.25" stroke-width="0.7"/>
<path d="M525.1 876.0C524.5 877.8 522.8 883.7 522.2 886.7C521.7 889.7 522.0 891.5 521.7 893.8C521.3 896.1 520.7 898.2 520.1 900.4C519.4 902.6 518.3 904.2 517.8 907.1C517.2 909.9 516.8 914.1 516.8 917.5C516.8 920.9 516.8 924.1 517.8 927.5C518.8 930.9 520.6 935.1 522.7 937.9C524.8 940.7 529.1 943.1 530.5 944.1C531.9 945.1 530.2 945.9 531.1 944.0C532.0 942.1 535.5 935.8 536.1 932.9C536.8 930.0 535.1 929.1 534.9 926.8C534.7 924.6 535.0 921.8 535.2 919.3C535.3 916.9 535.4 915.2 535.9 912.3C536.5 909.4 538.1 905.6 538.5 902.1C538.9 898.6 539.1 894.8 538.6 891.2C538.1 887.7 537.5 883.6 535.4 881.0C533.2 878.4 527.3 876.5 525.5 875.6C523.8 874.8 525.6 874.1 525.1 876.0Z" fill="#8a8a8a" fill-opacity="0.16" stroke="#858585" stroke-opacity="0.35" stroke-width="0.7"/>
<path d="M598.2 906.3C597.9 909.0 595.8 917.5 596.8 922.8C597.8 928.2 602.0 933.4 604.2 938.2C606.4 943.1 608.4 947.4 610.0 951.9C611.6 956.5 613.0 961.2 613.9 965.8C614.7 970.4 615.3 975.1 615.2 979.6C615.0 984.1 614.0 988.3 612.8 992.6C611.6 997.0 609.2 1000.8 608.0 1005.6C606.8 1010.4 605.9 1018.8 605.5 1021.4C605.2 1024.1 603.8 1023.5 606.1 1021.7C608.3 1020.0 615.6 1015.1 619.1 1010.7C622.6 1006.3 625.2 1000.9 627.1 995.5C629.1 990.1 630.5 983.9 630.8 978.1C631.2 972.4 630.4 966.6 629.3 961.1C628.2 955.6 626.3 950.3 624.2 945.2C622.2 940.2 619.4 935.2 616.8 930.9C614.2 926.6 611.6 923.6 608.6 919.5C605.6 915.4 600.5 908.5 598.8 906.3C597.1 904.1 598.5 903.5 598.2 906.3Z" fill="#8a8a8a" fill-opacity="0.14" stroke="#858585" stroke-opacity="0.44" stroke-width="0.7"/>
<path d="M515.1 811.0C517.1 809.1 523.7 803.5 527.0 799.0C530.3 794.5 533.0 789.3 535.0 783.9C537.0 778.5 538.0 772.4 539.0 766.7C539.9 760.9 540.3 755.2 540.7 749.6C541.1 744.0 541.0 738.3 541.3 732.8C541.7 727.3 541.7 721.7 543.0 716.7C544.2 711.7 547.6 708.0 548.9 702.8C550.1 697.5 550.4 688.3 550.6 685.4C550.8 682.5 551.5 682.9 550.0 685.2C548.5 687.5 544.4 694.4 541.7 699.4C538.9 704.5 535.4 710.1 533.6 715.6C531.9 721.0 531.8 726.8 531.2 732.3C530.7 737.9 530.7 743.3 530.3 748.7C530.0 754.1 529.7 759.4 529.0 764.7C528.4 769.9 527.9 774.9 526.5 779.9C525.0 784.9 522.3 789.6 520.3 794.8C518.3 799.9 515.4 808.1 514.5 810.8C513.6 813.5 513.0 813.0 515.1 811.0Z" fill="#8a8a8a" fill-opacity="0.13" stroke="#858585" stroke-opacity="0.30" stroke-width="0.7"/>
<path d="M591.0 845.7C589.6 847.0 585.3 850.3 583.6 853.3C582.0 856.3 581.9 860.5 581.3 863.8C580.6 867.2 580.3 870.3 579.7 873.5C579.2 876.6 578.7 879.7 578.1 882.8C577.6 885.9 576.6 888.8 576.5 892.2C576.4 895.6 577.2 899.9 577.7 903.4C578.2 906.9 578.2 910.0 579.7 913.1C581.1 916.2 585.2 920.6 586.5 922.0C587.7 923.5 586.7 923.5 587.0 921.9C587.4 920.2 588.5 915.3 588.7 912.1C588.9 908.8 588.6 905.4 588.5 902.5C588.3 899.5 587.7 897.3 588.0 894.3C588.2 891.4 589.4 887.9 589.9 884.7C590.5 881.4 591.0 878.1 591.3 874.8C591.7 871.6 591.9 868.3 592.0 865.2C592.1 862.2 592.2 859.7 592.2 856.5C592.1 853.2 591.8 847.6 591.6 845.8C591.3 844.0 592.3 844.5 591.0 845.7Z" fill="#8a8a8a" fill-opacity="0.11" stroke="#858585" stroke-opacity="0.30" stroke-width="0.7"/>
<path d="M524.2 853.4C523.1 854.9 519.5 859.3 517.8 862.3C516.2 865.3 515.5 868.5 514.1 871.5C512.8 874.4 511.3 877.0 509.8 879.8C508.2 882.6 506.6 885.4 505.0 888.3C503.4 891.2 502.1 894.9 500.3 897.3C498.5 899.7 496.5 901.2 494.3 902.8C492.0 904.3 489.4 905.0 486.7 906.6C484.1 908.2 479.9 911.3 478.5 912.4C477.2 913.4 476.7 912.5 478.6 912.9C480.6 913.3 486.5 915.2 490.2 914.8C494.0 914.4 497.9 912.7 501.3 910.6C504.6 908.6 508.0 905.5 510.3 902.7C512.6 899.9 513.6 896.8 515.2 893.8C516.8 890.8 518.6 887.8 520.1 884.6C521.6 881.4 523.1 877.9 524.2 874.6C525.3 871.2 526.4 867.9 526.5 864.4C526.6 860.9 525.2 855.4 524.8 853.6C524.4 851.8 525.4 852.0 524.2 853.4Z" fill="#8a8a8a" fill-opacity="0.14" stroke="#858585" stroke-opacity="0.19" stroke-width="0.7"/>
<path d="M616.8 858.7C615.5 860.7 610.7 866.4 609.6 870.6C608.4 874.8 610.3 880.3 609.9 884.1C609.5 888.0 607.6 889.7 607.2 893.7C606.8 897.6 606.6 903.2 607.6 907.9C608.6 912.7 611.0 917.9 613.2 922.2C615.4 926.5 618.6 930.0 620.9 933.5C623.1 937.0 624.0 940.2 626.8 943.2C629.6 946.2 635.8 950.3 637.7 951.6C639.7 953.0 638.0 953.8 638.3 951.4C638.6 949.0 639.9 941.8 639.4 937.3C638.8 932.9 636.6 928.5 634.9 924.8C633.3 921.1 631.2 918.2 629.7 915.3C628.2 912.3 626.6 910.0 625.8 906.9C625.0 903.8 624.7 900.8 624.8 896.7C624.9 892.5 626.5 886.3 626.3 882.0C626.0 877.8 624.9 875.1 623.4 871.2C621.9 867.3 618.5 860.7 617.4 858.6C616.3 856.5 618.1 856.7 616.8 858.7Z" fill="#8a8a8a" fill-opacity="0.13" stroke="#858585" stroke-opacity="0.40" stroke-width="0.7"/>
<path d="M616.1 649.2C613.7 650.3 605.4 652.3 602.0 656.0C598.5 659.7 597.7 667.3 595.5 671.4C593.2 675.4 590.5 676.4 588.5 680.6C586.5 684.8 585.5 692.6 583.6 696.7C581.7 700.8 579.5 701.4 577.3 705.1C575.1 708.7 572.9 714.5 570.6 718.4C568.4 722.3 565.8 724.7 563.8 728.6C561.7 732.5 559.3 739.7 558.5 742.0C557.7 744.3 556.1 743.0 558.9 742.4C561.7 741.9 570.9 741.0 575.5 738.5C580.1 736.0 583.6 731.1 586.6 727.4C589.7 723.7 590.8 720.6 593.6 716.4C596.4 712.1 601.3 706.1 603.2 701.9C605.2 697.6 603.8 695.2 605.4 691.0C607.1 686.8 611.6 680.8 613.1 676.5C614.6 672.2 613.8 669.6 614.4 665.1C615.0 660.5 616.4 652.0 616.7 649.3C617.0 646.7 618.6 648.1 616.1 649.2Z" fill="#8a8a8a" fill-opacity="0.11" stroke="#858585" stroke-opacity="0.24" stroke-width="0.7"/>
<path d="M596.8 934.6C598.7 935.0 604.8 937.1 608.3 936.5C611.7 936.0 614.6 932.9 617.3 931.3C620.1 929.7 622.3 928.6 624.8 926.9C627.4 925.1 630.1 922.8 632.6 920.9C635.0 919.0 637.3 916.9 639.5 915.5C641.6 914.1 643.2 913.8 645.5 912.7C647.7 911.6 650.8 911.3 653.1 908.9C655.5 906.5 658.5 900.2 659.5 898.4C660.5 896.5 661.1 898.5 659.3 897.8C657.5 897.2 652.2 894.7 648.8 894.4C645.4 894.1 642.4 895.0 638.9 895.9C635.4 896.8 631.0 898.2 627.8 899.8C624.6 901.4 622.3 903.5 620.0 905.3C617.6 907.2 615.8 908.9 613.5 910.9C611.2 912.9 608.2 915.1 606.0 917.1C603.9 919.2 602.4 920.5 600.8 923.3C599.2 926.2 597.0 932.4 596.3 934.2C595.6 936.1 594.8 934.3 596.8 934.6Z" fill="#8a8a8a" fill-opacity="0.08" stroke="#858585" stroke-opacity="0.46" stroke-width="0.7"/>
<path d="M583.1 708.0C582.3 705.1 580.6 695.9 577.7 690.9C574.7 685.9 569.5 682.1 565.5 678.0C561.4 674.0 556.4 670.5 553.3 666.6C550.2 662.6 549.5 658.7 546.6 654.3C543.8 650.0 538.6 644.9 536.2 640.4C533.8 635.9 533.7 632.1 532.2 627.4C530.7 622.6 529.3 617.0 527.2 612.0C525.0 606.9 520.9 599.5 519.5 597.0C518.1 594.5 519.8 594.0 518.9 597.0C517.9 600.0 514.3 609.3 513.9 615.1C513.5 621.0 515.2 626.1 516.6 632.0C517.9 638.0 519.6 645.5 522.0 650.8C524.5 656.1 528.0 658.8 531.3 663.6C534.5 668.4 537.9 675.4 541.7 679.8C545.6 684.2 550.4 686.9 554.6 690.1C558.8 693.4 562.4 696.5 567.1 699.5C571.7 702.5 579.9 706.8 582.6 708.2C585.2 709.6 583.9 710.9 583.1 708.0Z" fill="#8a8a8a" fill-opacity="0.07" stroke="#858585" stroke-opacity="0.44" stroke-width="0.7"/>
<path d="M572.5 667.8C571.6 670.4 568.3 678.1 567.4 682.9C566.6 687.8 567.5 692.5 567.3 697.1C567.1 701.7 567.2 706.6 566.3 710.6C565.3 714.5 563.2 716.9 561.6 720.8C559.9 724.7 558.3 729.9 556.4 733.9C554.4 737.9 552.1 740.9 550.0 745.0C547.8 749.0 544.5 753.1 543.5 758.1C542.6 763.2 544.0 772.3 544.2 775.2C544.4 778.1 542.8 777.0 544.7 775.4C546.7 773.8 552.6 769.3 556.0 765.7C559.3 762.2 561.7 758.4 564.6 754.3C567.6 750.2 571.2 745.6 573.7 741.1C576.2 736.7 577.7 732.7 579.6 727.6C581.5 722.6 584.2 716.3 585.1 710.9C585.9 705.6 585.1 700.5 584.6 695.6C584.1 690.6 583.8 685.7 581.9 681.0C580.0 676.4 574.6 669.8 573.1 667.6C571.5 665.4 573.5 665.3 572.5 667.8Z" fill="#8a8a8a" fill-opacity="0.15" stroke="#858585" stroke-opacity="0.34" stroke-width="0.7"/>
<path d="M558.1 704.3C560.8 703.6 568.8 702.0 573.5 699.5C578.3 697.1 582.4 692.3 586.9 689.7C591.4 687.1 596.0 686.3 600.6 683.9C605.2 681.4 610.2 678.3 614.7 675.2C619.2 672.2 623.4 668.6 627.7 665.4C632.0 662.2 636.0 658.3 640.4 656.0C644.9 653.7 649.6 653.8 654.3 651.8C659.0 649.8 666.4 645.4 668.7 644.1C671.1 642.7 671.3 643.3 668.6 643.5C665.8 643.6 657.9 644.0 652.4 644.9C646.9 645.8 640.6 646.9 635.6 649.1C630.5 651.3 626.5 655.0 622.2 658.1C617.9 661.1 614.0 664.4 609.8 667.3C605.5 670.3 601.5 673.0 596.8 675.6C592.1 678.2 586.0 680.2 581.6 683.1C577.1 686.0 574.1 689.8 570.1 693.3C566.1 696.8 559.7 702.1 557.7 703.9C555.7 705.8 555.5 705.1 558.1 704.3Z" fill="#8a8a8a" fill-opacity="0.10" stroke="#858585" stroke-opacity="0.34" stroke-width="0.7"/>
<path d="M584.3 678.2C586.0 677.2 591.3 674.1 594.5 671.8C597.7 669.5 600.3 667.2 603.3 664.7C606.2 662.3 609.2 659.7 612.1 657.1C615.0 654.5 617.7 651.1 620.6 649.1C623.6 647.2 626.6 646.4 629.9 645.4C633.2 644.3 636.8 643.4 640.4 642.7C643.9 642.0 647.5 642.1 651.3 641.2C655.0 640.3 660.7 638.0 662.6 637.2C664.5 636.5 664.6 637.2 662.6 636.7C660.6 636.1 654.7 634.3 650.7 633.9C646.7 633.5 642.5 633.8 638.4 634.2C634.3 634.7 630.3 635.5 626.2 636.8C622.2 638.1 617.5 640.0 614.1 642.2C610.7 644.4 608.5 647.5 605.7 650.2C603.0 652.9 600.2 655.5 597.4 658.3C594.6 661.1 591.3 663.7 589.0 666.9C586.8 670.2 584.6 676.0 583.8 677.9C583.0 679.7 582.5 679.2 584.3 678.2Z" fill="#8a8a8a" fill-opacity="0.14" stroke="#858585" stroke-opacity="0.18" stroke-width="0.7"/>
<path d="M612.3 701.3C610.9 702.5 605.9 705.6 604.8 708.5C603.6 711.3 605.3 715.7 605.5 718.5C605.7 721.3 606.1 723.4 605.9 725.3C605.7 727.1 604.7 727.3 604.5 729.6C604.3 731.9 604.6 736.2 604.7 738.9C604.8 741.6 605.1 743.8 605.1 745.9C605.0 747.9 603.8 748.7 604.5 751.2C605.2 753.7 608.3 759.1 609.2 760.7C610.1 762.3 608.2 761.7 609.8 760.9C611.4 760.1 616.5 758.2 618.6 755.8C620.8 753.5 621.9 749.6 622.8 746.7C623.7 743.9 623.7 740.9 623.9 738.6C624.1 736.3 623.7 735.5 623.9 732.7C624.0 730.0 625.0 725.2 624.8 722.1C624.6 718.9 623.6 716.1 622.7 713.9C621.8 711.8 621.2 711.3 619.6 709.2C618.0 707.1 614.1 702.6 612.9 701.2C611.6 699.9 613.6 700.1 612.3 701.3Z" fill="#8a8a8a" fill-opacity="0.06" stroke="#858585" stroke-opacity="0.34" stroke-width="0.7"/>
<path d="M595.6 790.1C594.1 792.6 589.9 800.4 587.3 805.4C584.7 810.4 582.9 815.6 579.9 820.0C577.0 824.5 573.3 828.0 569.7 832.0C566.1 835.9 561.5 839.0 558.2 843.8C555.0 848.6 552.1 854.8 550.1 860.5C548.1 866.2 547.5 872.5 546.1 878.0C544.7 883.6 542.0 888.3 541.7 894.0C541.4 899.7 543.9 909.1 544.4 912.1C545.0 915.2 544.2 914.8 545.0 912.2C545.8 909.6 547.6 901.8 549.3 896.5C551.1 891.2 553.7 885.5 555.4 880.3C557.1 875.0 557.7 869.8 559.4 864.9C561.1 860.1 562.8 855.5 565.8 851.1C568.9 846.6 573.9 842.9 577.7 838.4C581.5 833.9 585.8 829.0 588.7 823.9C591.5 818.8 593.7 813.2 595.0 807.6C596.2 802.0 596.0 793.2 596.1 790.3C596.2 787.4 597.0 787.6 595.6 790.1Z" fill="#8a8a8a" fill-opacity="0.16" stroke="#858585" stroke-opacity="0.32" stroke-width="0.7"/>
<path d="M622.5 903.7C623.1 902.9 625.5 900.6 625.7 898.8C625.9 897.0 624.6 894.6 623.7 892.9C622.8 891.1 621.1 889.7 620.0 888.3C618.9 887.0 617.8 886.1 616.9 885.0C615.9 883.9 615.6 882.9 614.3 881.8C613.0 880.8 610.6 879.4 608.9 878.6C607.3 877.7 606.2 876.9 604.4 876.8C602.7 876.8 599.5 877.8 598.4 878.1C597.4 878.4 597.8 877.8 598.2 878.7C598.6 879.6 599.7 882.2 600.7 883.4C601.7 884.7 603.2 885.5 604.2 886.2C605.2 886.9 605.8 886.8 606.7 887.8C607.6 888.7 608.7 890.7 609.8 891.9C610.9 893.1 612.1 894.2 613.1 895.1C614.1 895.9 615.0 896.4 615.8 897.1C616.7 897.8 617.1 898.2 618.2 899.3C619.2 900.4 621.2 902.8 621.9 903.6C622.6 904.3 621.9 904.5 622.5 903.7Z" fill="#8a8a8a" fill-opacity="0.09" stroke="#858585" stroke-opacity="0.37" stroke-width="0.7"/>
<path d="M578.9 936.0C578.3 936.6 576.3 938.1 575.7 939.4C575.2 940.7 575.6 942.6 575.5 944.0C575.4 945.3 575.4 946.6 575.1 947.5C574.8 948.4 574.1 948.4 573.6 949.3C573.1 950.2 572.3 951.2 571.8 952.6C571.4 953.9 570.8 955.8 570.9 957.4C570.9 959.1 571.6 961.1 572.3 962.5C573.0 963.9 574.5 965.2 575.1 965.8C575.7 966.3 575.3 966.4 575.7 965.7C576.1 964.9 577.4 962.4 577.7 961.2C578.0 960.1 577.3 959.7 577.3 958.8C577.4 958.0 577.5 957.1 578.0 956.1C578.5 955.1 579.3 954.1 580.0 952.7C580.7 951.3 581.9 949.3 582.2 947.7C582.5 946.2 582.2 944.7 582.1 943.5C581.9 942.3 581.7 941.6 581.3 940.4C580.8 939.1 579.9 936.9 579.5 936.1C579.1 935.4 579.5 935.5 578.9 936.0Z" fill="#8a8a8a" fill-opacity="0.06" stroke="#858585" stroke-opacity="0.25" stroke-width="0.7"/>
<path d="M598.1 833.9C596.8 834.1 592.7 834.0 590.6 835.4C588.5 836.8 586.7 839.9 585.4 842.4C584.2 844.8 583.8 847.8 582.9 850.2C582.0 852.5 581.0 854.2 580.2 856.5C579.5 858.9 578.7 861.6 578.5 864.3C578.4 866.9 579.3 870.2 579.2 872.6C579.1 875.0 578.6 876.7 578.1 878.8C577.6 880.9 576.6 884.0 576.3 885.1C576.1 886.3 575.6 886.3 576.8 885.5C578.1 884.7 582.2 882.4 583.8 880.1C585.3 877.9 585.7 874.5 586.1 872.1C586.4 869.7 585.6 868.0 585.8 865.9C585.9 863.7 586.5 861.6 587.2 859.3C588.0 857.1 589.3 854.4 590.0 852.2C590.7 849.9 590.7 847.9 591.3 845.9C591.9 843.9 592.5 842.3 593.7 840.3C594.9 838.4 597.9 835.3 598.6 834.2C599.4 833.1 599.4 833.7 598.1 833.9Z" fill="#8a8a8a" fill-opacity="0.16" stroke="#858585" stroke-opacity="0.31" stroke-width="0.7"/>
<path d="M577.6 797.3C578.3 796.3 580.2 793.2 581.1 791.0C582.1 788.9 582.3 786.3 583.3 784.3C584.3 782.3 585.5 780.6 586.9 779.1C588.3 777.6 590.1 776.5 591.9 775.4C593.7 774.2 595.8 773.6 597.7 772.1C599.5 770.6 601.5 768.4 602.8 766.2C604.1 764.0 604.9 761.3 605.3 758.8C605.7 756.3 605.4 752.6 605.3 751.4C605.2 750.1 605.3 750.2 604.7 751.2C604.1 752.3 602.6 755.5 601.7 757.5C600.8 759.5 600.5 761.5 599.4 763.3C598.4 765.0 597.1 766.6 595.3 767.9C593.6 769.3 590.9 770.1 588.9 771.5C586.8 773.0 584.5 774.6 582.9 776.5C581.2 778.5 579.9 780.9 579.0 783.1C578.1 785.4 577.8 787.6 577.5 789.9C577.2 792.3 577.0 795.9 577.0 797.1C577.0 798.3 576.9 798.3 577.6 797.3Z" fill="#8a8a8a" fill-opacity="0.10" stroke="#858585" stroke-opacity="0.25" stroke-width="0.7"/>
<path d="M578.1 921.2C577.9 922.4 576.8 925.7 577.5 927.8C578.1 929.9 581.1 931.9 582.0 933.6C582.9 935.4 582.1 936.6 583.1 938.4C584.0 940.1 586.3 942.4 587.7 944.1C589.2 945.8 590.1 947.4 592.0 948.6C593.8 949.8 596.8 950.8 599.1 951.4C601.4 951.9 603.7 952.2 605.9 951.9C608.1 951.5 611.3 949.9 612.4 949.4C613.4 948.9 613.3 949.3 612.3 948.8C611.4 948.4 608.4 947.2 606.6 946.6C604.7 946.0 602.9 945.9 601.2 945.5C599.6 945.1 598.3 945.1 596.9 944.1C595.5 943.1 594.1 940.9 592.9 939.6C591.6 938.2 590.5 937.9 589.4 936.2C588.4 934.4 587.7 930.9 586.5 929.3C585.4 927.7 583.9 927.7 582.6 926.3C581.3 925.0 579.4 922.0 578.7 921.1C577.9 920.3 578.3 920.1 578.1 921.2Z" fill="#8a8a8a" fill-opacity="0.12" stroke="#858585" stroke-opacity="0.41" stroke-width="0.7"/>
<path d="M575.5 776.2C576.3 775.8 578.6 774.7 579.8 773.7C581.1 772.7 582.0 771.1 583.1 770.1C584.2 769.1 585.5 768.9 586.6 767.7C587.7 766.5 588.9 764.5 589.6 762.8C590.3 761.1 590.2 759.0 590.7 757.4C591.1 755.8 591.5 754.6 592.2 753.3C592.8 752.1 593.9 751.2 594.4 749.7C595.0 748.3 595.3 745.4 595.4 744.5C595.4 743.6 595.5 743.8 594.8 744.3C594.2 744.8 592.5 746.3 591.4 747.5C590.2 748.8 589.0 750.2 588.1 751.7C587.2 753.2 586.5 755.1 586.0 756.5C585.6 758.0 585.7 759.2 585.4 760.5C585.0 761.7 584.7 762.8 583.7 763.9C582.7 765.1 580.7 766.1 579.6 767.4C578.5 768.6 577.8 769.8 577.0 771.2C576.2 772.7 575.2 775.1 575.0 775.9C574.7 776.7 574.7 776.6 575.5 776.2Z" fill="#8a8a8a" fill-opacity="0.13" stroke="#858585" stroke-opacity="0.19" stroke-width="0.7"/>
<path d="M547.3 893.9C547.9 892.8 549.3 889.1 550.0 887.0C550.8 884.9 551.7 883.7 551.7 881.4C551.6 879.0 549.9 875.1 549.8 873.0C549.7 870.9 550.6 870.2 551.2 868.7C551.8 867.1 552.5 865.2 553.4 863.6C554.3 862.1 555.4 860.6 556.7 859.4C557.9 858.2 559.4 857.6 560.9 856.4C562.4 855.3 564.9 853.1 565.7 852.3C566.5 851.6 567.0 852.1 565.6 851.8C564.2 851.4 560.0 850.0 557.4 850.4C554.9 850.8 552.3 852.5 550.2 854.1C548.2 855.7 546.5 857.9 545.2 860.1C543.8 862.2 542.8 864.5 542.1 867.1C541.5 869.8 541.0 873.7 541.3 875.8C541.5 878.0 543.2 878.1 543.5 880.1C543.8 882.0 542.5 885.2 543.0 887.5C543.6 889.8 546.0 892.7 546.8 893.7C547.5 894.8 546.8 895.0 547.3 893.9Z" fill="#8a8a8a" fill-opacity="0.16" stroke="#858585" stroke-opacity="0.18" stroke-width="0.7"/>
<path d="M550.4 876.2C550.5 877.2 550.9 880.4 551.3 882.1C551.6 883.9 551.6 884.9 552.6 886.5C553.5 888.0 555.1 890.1 556.7 891.5C558.3 892.9 560.8 893.9 562.1 895.0C563.3 896.1 563.6 896.9 564.3 898.0C564.9 899.1 565.2 900.3 565.9 901.7C566.6 903.0 566.9 905.1 568.4 906.3C570.0 907.4 574.2 908.3 575.4 908.6C576.6 909.0 575.9 909.0 575.8 908.2C575.7 907.4 575.2 905.3 574.8 903.7C574.4 902.1 574.0 900.4 573.4 898.6C572.8 896.7 572.2 894.4 571.0 892.5C569.9 890.7 568.0 888.5 566.6 887.4C565.3 886.2 564.1 886.2 563.0 885.4C561.8 884.7 560.9 884.2 559.8 882.9C558.8 881.7 558.1 879.0 556.5 877.8C555.0 876.6 551.8 876.0 550.8 875.7C549.7 875.4 550.3 875.1 550.4 876.2Z" fill="#8a8a8a" fill-opacity="0.14" stroke="#858585" stroke-opacity="0.33" stroke-width="0.7"/>
<path d="M620.5 836.4C621.1 835.9 622.7 833.9 623.5 833.1C624.4 832.3 625.0 831.9 625.7 831.6C626.5 831.3 627.0 831.9 628.1 831.3C629.1 830.7 630.8 828.9 631.8 828.0C632.9 827.1 633.6 826.5 634.4 825.9C635.3 825.3 636.2 824.9 637.1 824.4C638.1 823.8 639.2 823.6 640.2 822.7C641.1 821.8 642.3 819.6 642.7 818.9C643.1 818.1 643.2 818.5 642.4 818.3C641.7 818.2 639.7 817.8 638.3 817.9C637.0 818.0 635.7 818.4 634.4 818.9C633.0 819.4 631.6 820.0 630.4 820.7C629.2 821.5 627.9 822.5 627.1 823.2C626.3 824.0 626.6 824.5 625.6 825.2C624.5 826.0 622.2 826.6 621.0 827.7C619.8 828.9 618.6 830.7 618.5 832.1C618.3 833.4 619.6 835.4 620.0 836.1C620.3 836.8 619.9 836.9 620.5 836.4Z" fill="#8a8a8a" fill-opacity="0.16" stroke="#858585" stroke-opacity="0.20" stroke-width="0.7"/>
<path d="M568.3 851.1C567.7 852.0 566.1 854.7 565.1 856.2C564.0 857.8 563.1 858.7 562.1 860.2C561.2 861.7 560.3 864.0 559.2 865.2C558.1 866.4 556.9 866.5 555.5 867.6C554.1 868.6 552.5 870.5 551.1 871.4C549.6 872.2 548.4 871.9 546.8 872.5C545.2 873.2 543.1 874.2 541.4 875.2C539.7 876.1 537.4 877.4 536.7 878.0C535.9 878.6 535.6 878.3 536.7 878.6C537.8 878.9 541.3 879.8 543.2 879.7C545.2 879.6 546.4 878.7 548.4 878.1C550.4 877.5 553.2 877.0 555.0 876.1C556.9 875.2 557.7 874.0 559.3 872.6C560.9 871.3 563.4 869.7 564.7 868.1C566.0 866.5 566.3 864.9 567.1 863.1C568.0 861.3 569.6 859.2 569.9 857.2C570.2 855.2 569.2 852.2 568.9 851.2C568.6 850.2 568.9 850.3 568.3 851.1Z" fill="#8a8a8a" fill-opacity="0.13" stroke="#858585" stroke-opacity="0.35" stroke-width="0.7"/>
<path d="M538.2 713.8C538.3 712.9 538.8 710.2 538.4 708.7C538.1 707.2 536.5 706.0 535.9 704.8C535.4 703.6 535.7 702.9 535.1 701.7C534.5 700.5 533.2 698.7 532.4 697.5C531.6 696.2 530.8 695.2 530.1 694.0C529.4 692.9 528.9 691.9 528.1 690.7C527.2 689.6 526.0 688.1 524.8 687.1C523.6 686.2 521.8 685.3 521.0 684.9C520.3 684.6 520.7 684.1 520.5 685.1C520.2 686.1 519.5 689.4 519.6 690.9C519.7 692.4 520.7 693.0 521.3 694.2C521.9 695.5 522.5 697.1 523.2 698.4C523.9 699.7 524.7 701.1 525.5 702.2C526.2 703.2 526.8 703.7 527.6 705.0C528.3 706.2 529.2 708.4 530.1 709.6C531.0 710.8 531.7 711.4 533.0 712.2C534.3 713.0 537.0 714.0 537.8 714.3C538.7 714.5 538.1 714.7 538.2 713.8Z" fill="#8a8a8a" fill-opacity="0.12" stroke="#858585" stroke-opacity="0.33" stroke-width="0.7"/>
<path d="M527.5 733.5C528.5 733.1 531.4 731.2 533.1 730.6C534.9 730.0 536.3 729.8 537.9 729.8C539.5 729.9 540.9 730.4 542.5 730.9C544.1 731.4 545.5 732.5 547.5 732.7C549.5 733.0 552.4 732.8 554.7 732.6C556.9 732.3 558.8 731.9 560.9 731.4C562.9 730.8 564.9 730.2 566.8 729.3C568.7 728.5 571.2 726.7 572.1 726.1C572.9 725.4 573.0 725.7 572.0 725.5C570.9 725.2 567.5 724.6 565.5 724.6C563.5 724.6 561.8 725.4 560.0 725.6C558.1 725.9 556.1 726.1 554.4 726.3C552.6 726.5 551.4 727.0 549.6 726.7C547.8 726.4 545.6 725.1 543.3 724.7C541.0 724.3 538.4 723.9 536.1 724.3C533.8 724.7 531.0 725.8 529.5 727.2C528.0 728.7 527.4 732.0 527.0 733.1C526.7 734.1 526.4 733.9 527.5 733.5Z" fill="#8a8a8a" fill-opacity="0.11" stroke="#858585" stroke-opacity="0.39" stroke-width="0.7"/>
<path d="M544.4 709.5C545.0 709.0 546.3 707.3 547.0 706.5C547.7 705.6 548.1 705.2 548.8 704.6C549.4 703.9 550.2 703.3 550.9 702.5C551.6 701.6 552.5 700.6 553.0 699.4C553.6 698.2 553.9 696.2 554.3 695.2C554.8 694.3 555.2 694.3 555.8 693.7C556.4 693.2 557.2 692.8 557.9 692.0C558.6 691.2 559.6 689.6 559.9 689.0C560.2 688.4 560.4 688.6 559.6 688.4C558.9 688.3 556.6 687.7 555.3 688.0C554.0 688.3 552.8 689.1 551.6 690.0C550.5 690.9 549.2 692.6 548.6 693.6C547.9 694.6 548.3 695.1 547.9 696.0C547.6 696.8 547.0 697.6 546.3 698.6C545.6 699.6 544.6 700.6 544.0 701.7C543.3 702.9 542.3 704.5 542.3 705.7C542.3 707.0 543.5 708.8 543.8 709.4C544.2 710.1 543.9 710.0 544.4 709.5Z" fill="#8a8a8a" fill-opacity="0.09" stroke="#858585" stroke-opacity="0.38" stroke-width="0.7"/>
<path d="M602.2 901.8C601.3 902.4 598.9 904.5 597.3 905.5C595.7 906.5 594.2 907.2 592.4 907.8C590.7 908.4 588.8 908.3 587.0 909.3C585.2 910.3 583.0 912.0 581.6 913.8C580.2 915.7 579.4 918.2 578.8 920.4C578.1 922.6 578.3 925.0 577.8 926.9C577.3 928.8 576.0 929.9 575.6 931.9C575.1 933.8 575.2 937.3 575.2 938.4C575.2 939.6 575.1 939.4 575.8 938.6C576.4 937.8 577.9 935.4 579.0 933.6C580.1 931.7 581.5 929.6 582.2 927.7C582.9 925.8 582.8 923.9 583.2 922.2C583.7 920.5 584.0 918.8 584.9 917.5C585.8 916.1 586.9 914.8 588.5 913.8C590.1 912.9 592.7 912.7 594.7 911.7C596.6 910.7 599.0 909.5 600.3 907.9C601.7 906.3 602.5 903.0 602.8 902.0C603.1 901.0 603.2 901.2 602.2 901.8Z" fill="#8a8a8a" fill-opacity="0.11" stroke="#858585" stroke-opacity="0.20" stroke-width="0.7"/>
<path d="M550.3 860.2C549.4 859.8 546.6 859.1 545.1 858.4C543.7 857.6 542.6 856.9 541.6 855.8C540.6 854.8 540.2 853.5 539.4 852.2C538.5 850.9 537.7 849.3 536.3 848.0C534.9 846.8 532.6 845.8 531.1 844.7C529.7 843.6 529.1 842.5 527.6 841.6C526.0 840.7 523.9 839.5 521.9 839.5C520.0 839.5 516.9 841.1 515.9 841.5C514.9 842.0 515.2 841.9 516.0 842.1C516.7 842.4 519.0 842.7 520.4 843.2C521.8 843.7 523.0 844.1 524.4 845.0C525.7 846.0 527.2 848.0 528.5 849.0C529.8 850.0 531.0 850.1 532.2 851.1C533.3 852.2 534.1 853.8 535.3 855.3C536.5 856.8 537.8 858.8 539.4 860.0C541.0 861.2 543.2 862.2 545.0 862.4C546.8 862.5 549.4 861.2 550.3 860.8C551.2 860.5 551.2 860.6 550.3 860.2Z" fill="#8a8a8a" fill-opacity="0.11" stroke="#858585" stroke-opacity="0.38" stroke-width="0.7"/>
<path d="M561.0 884.3C560.1 883.5 557.3 881.1 555.7 879.8C554.1 878.6 553.0 877.7 551.2 876.9C549.4 876.0 547.1 875.0 544.9 874.5C542.7 874.0 539.7 874.2 537.8 873.8C535.8 873.4 534.7 872.8 533.4 872.0C532.0 871.3 530.6 870.3 529.4 869.2C528.2 868.1 527.6 866.8 526.1 865.6C524.7 864.4 521.8 862.6 520.8 862.0C519.9 861.5 520.4 861.0 520.3 862.3C520.2 863.6 519.7 867.5 520.4 869.8C521.0 872.1 522.7 874.2 524.3 876.0C525.9 877.8 528.0 879.4 530.1 880.6C532.2 881.8 535.1 882.7 537.1 883.2C539.2 883.6 540.5 883.0 542.2 883.3C543.9 883.5 545.6 883.9 547.6 884.5C549.6 885.1 552.0 886.8 554.2 886.8C556.4 886.9 559.7 885.3 560.8 884.9C562.0 884.5 561.8 885.1 561.0 884.3Z" fill="#8a8a8a" fill-opacity="0.12" stroke="#858585" stroke-opacity="0.33" stroke-width="0.7"/>
<path d="M585.1 759.8C585.6 761.0 586.9 764.8 588.5 766.6C590.2 768.3 592.8 769.3 595.0 770.5C597.1 771.6 599.0 772.9 601.5 773.4C604.0 774.0 608.0 773.4 610.1 773.8C612.3 774.3 612.2 775.7 614.3 776.1C616.5 776.5 620.5 776.4 623.1 776.2C625.8 776.0 628.1 776.4 630.2 775.0C632.4 773.7 635.1 769.3 636.0 768.0C636.9 766.8 636.7 767.6 635.7 767.5C634.6 767.4 631.8 767.6 629.7 767.6C627.6 767.5 625.1 767.4 623.2 767.3C621.2 767.3 620.5 767.9 618.3 767.4C616.1 766.9 612.2 764.5 610.0 764.1C607.8 763.6 606.9 764.8 605.0 764.6C603.1 764.3 600.8 763.2 598.8 762.5C596.8 761.8 595.2 761.0 592.9 760.5C590.6 759.9 586.5 759.4 585.2 759.2C583.9 759.1 584.5 758.6 585.1 759.8Z" fill="#8a8a8a" fill-opacity="0.14" stroke="#858585" stroke-opacity="0.36" stroke-width="0.7"/>
<path d="M570.9 854.2C571.5 854.1 573.3 853.9 574.2 853.1C575.0 852.4 575.4 850.9 575.9 849.9C576.4 848.9 576.9 848.2 577.0 847.1C577.2 845.9 576.9 844.2 576.9 843.1C576.9 842.0 577.0 841.4 577.0 840.5C577.1 839.6 577.1 838.7 577.3 837.8C577.4 837.0 577.8 836.3 577.9 835.5C578.1 834.6 578.2 833.2 578.2 832.7C578.2 832.2 578.4 832.1 577.8 832.3C577.1 832.5 575.1 833.2 574.3 834.0C573.4 834.9 573.1 836.1 572.8 837.2C572.4 838.2 572.3 839.2 572.1 840.3C572.0 841.4 571.9 842.7 572.0 843.6C572.0 844.4 572.5 844.7 572.4 845.5C572.4 846.2 571.8 847.4 571.6 848.2C571.5 849.1 571.5 849.6 571.3 850.5C571.1 851.4 570.6 853.1 570.6 853.7C570.5 854.3 570.3 854.3 570.9 854.2Z" fill="#8a8a8a" fill-opacity="0.06" stroke="#858585" stroke-opacity="0.27" stroke-width="0.7"/>
<path d="M563.4 861.9C562.4 862.7 559.8 865.3 558.2 867.1C556.7 869.0 555.6 871.2 554.1 873.0C552.7 874.9 551.2 876.8 549.4 878.0C547.7 879.2 545.7 879.7 543.6 880.3C541.6 880.9 539.2 881.5 537.1 881.5C535.0 881.5 533.3 880.2 530.9 880.2C528.6 880.2 525.5 880.3 523.1 881.3C520.8 882.3 517.9 885.4 516.9 886.3C515.9 887.3 516.1 887.1 517.2 886.9C518.3 886.6 521.4 885.4 523.6 885.0C525.7 884.6 527.6 884.3 530.0 884.5C532.4 884.6 535.4 886.0 537.9 886.1C540.5 886.1 543.1 885.5 545.6 884.6C548.0 883.8 550.8 882.6 552.9 881.1C554.9 879.5 556.4 877.3 557.8 875.3C559.2 873.4 560.3 871.3 561.3 869.1C562.3 866.9 563.6 863.4 563.9 862.2C564.2 861.0 564.3 861.1 563.4 861.9Z" fill="#8a8a8a" fill-opacity="0.12" stroke="#858585" stroke-opacity="0.35" stroke-width="0.7"/>
<path d="M522.8 826.4C522.0 827.2 520.1 829.7 519.0 831.0C517.8 832.3 516.9 832.7 515.9 834.2C515.0 835.7 513.8 837.8 513.3 839.9C512.9 842.0 513.0 844.8 513.4 847.0C513.7 849.2 514.8 851.2 515.4 853.1C516.0 854.9 516.4 856.4 517.2 858.1C518.0 859.8 518.9 861.8 520.2 863.3C521.6 864.8 524.4 866.4 525.3 866.9C526.2 867.5 525.8 867.7 525.8 866.6C525.9 865.6 525.9 862.5 525.6 860.7C525.3 859.0 524.4 857.8 523.9 856.1C523.4 854.4 523.0 852.3 522.5 850.7C522.1 849.1 521.4 847.8 521.1 846.4C520.7 845.1 520.2 844.0 520.4 842.6C520.5 841.2 521.0 839.8 521.7 838.1C522.5 836.4 524.5 834.3 524.8 832.3C525.0 830.3 523.7 827.2 523.3 826.2C523.0 825.2 523.5 825.6 522.8 826.4Z" fill="#8a8a8a" fill-opacity="0.16" stroke="#858585" stroke-opacity="0.25" stroke-width="0.7"/>
<path d="M549.7 733.2C549.3 732.6 548.0 731.3 547.1 730.6C546.2 729.9 545.0 729.7 544.2 729.2C543.4 728.6 542.9 728.0 542.2 727.3C541.5 726.6 540.4 725.9 539.9 725.2C539.3 724.5 539.5 723.8 539.0 723.0C538.5 722.1 537.6 720.9 536.9 720.0C536.1 719.1 535.6 718.2 534.7 717.5C533.7 716.8 531.8 716.1 531.1 716.0C530.4 715.8 530.6 715.8 530.7 716.4C530.8 717.0 531.3 718.6 531.7 719.6C532.2 720.6 532.8 721.5 533.4 722.4C533.9 723.3 534.3 723.8 534.9 724.9C535.5 725.9 536.1 727.7 536.8 728.7C537.6 729.7 538.5 730.1 539.4 730.9C540.4 731.6 541.6 732.6 542.7 733.1C543.7 733.6 544.7 733.9 545.9 734.0C547.0 734.1 548.8 733.9 549.5 733.7C550.1 733.6 550.1 733.7 549.7 733.2Z" fill="#8a8a8a" fill-opacity="0.14" stroke="#858585" stroke-opacity="0.34" stroke-width="0.7"/>
<path d="M619.3 644.7C620.6 644.8 624.2 645.4 626.3 644.6C628.4 643.7 630.4 641.4 631.9 639.5C633.5 637.6 634.5 634.9 635.8 633.2C637.0 631.5 638.1 630.6 639.5 629.4C640.8 628.1 642.4 627.6 643.8 625.9C645.2 624.1 647.0 621.4 647.7 618.8C648.4 616.3 647.8 612.9 647.8 610.7C647.8 608.4 647.8 606.1 647.7 605.1C647.6 604.1 648.3 603.9 647.2 604.8C646.1 605.7 642.1 608.7 641.0 610.4C639.9 612.1 641.0 613.5 640.6 614.9C640.2 616.4 639.7 617.6 638.4 619.0C637.1 620.5 634.5 621.8 632.8 623.5C631.1 625.1 629.2 627.4 628.1 629.1C626.9 630.9 626.7 632.5 625.9 634.1C625.1 635.7 624.3 636.8 623.1 638.5C621.9 640.2 619.5 643.3 618.9 644.3C618.2 645.4 618.1 644.7 619.3 644.7Z" fill="#8a8a8a" fill-opacity="0.10" stroke="#858585" stroke-opacity="0.28" stroke-width="0.7"/>
<path d="M519.4 723.2C519.8 723.9 520.9 726.3 521.5 727.3C522.1 728.3 522.1 728.4 522.8 728.9C523.6 729.5 525.3 730.0 526.0 730.5C526.8 731.0 526.7 731.2 527.3 731.7C527.8 732.1 528.8 732.7 529.5 733.2C530.2 733.7 530.7 734.1 531.3 734.6C532.0 735.1 532.4 735.9 533.6 736.1C534.8 736.3 537.6 735.9 538.5 735.8C539.4 735.7 538.7 736.2 538.9 735.4C539.1 734.6 539.7 732.2 539.5 730.9C539.4 729.7 538.6 728.9 537.9 728.0C537.2 727.0 536.4 726.0 535.5 725.2C534.7 724.4 534.1 723.9 533.0 723.2C532.0 722.5 530.4 721.4 529.4 721.0C528.4 720.6 528.1 720.8 527.0 720.6C525.9 720.4 524.3 719.2 523.0 719.6C521.7 719.9 519.9 722.0 519.3 722.6C518.7 723.2 519.1 722.4 519.4 723.2Z" fill="#8a8a8a" fill-opacity="0.14" stroke="#858585" stroke-opacity="0.26" stroke-width="0.7"/>
<path d="M565.6 719.8C565.5 720.5 565.1 722.6 565.5 723.9C565.9 725.3 567.0 726.6 567.9 727.7C568.9 728.8 569.9 729.9 571.3 730.6C572.6 731.3 575.0 731.4 576.1 731.9C577.2 732.4 577.0 733.2 578.0 733.8C579.0 734.4 580.7 735.3 582.1 735.6C583.6 736.0 585.3 736.0 586.7 736.0C588.1 736.0 589.9 735.8 590.5 735.7C591.2 735.5 591.3 735.7 590.7 735.1C590.2 734.5 588.4 732.7 587.3 732.1C586.2 731.4 585.2 731.8 584.2 731.4C583.2 731.0 582.4 730.6 581.2 729.9C580.1 729.1 578.3 727.4 577.2 726.9C576.0 726.3 575.3 727.0 574.4 726.6C573.5 726.3 572.5 725.4 571.6 724.7C570.8 724.0 570.1 723.3 569.2 722.4C568.3 721.5 566.7 719.8 566.1 719.4C565.5 718.9 565.7 719.0 565.6 719.8Z" fill="#8a8a8a" fill-opacity="0.15" stroke="#858585" stroke-opacity="0.34" stroke-width="0.7"/>
<path d="M592.4 934.4C591.6 934.6 589.3 935.4 588.0 935.9C586.8 936.3 586.0 937.0 585.0 937.2C584.1 937.3 583.5 937.0 582.5 936.9C581.5 936.7 580.4 936.5 579.1 936.5C577.9 936.5 576.2 936.6 574.8 936.7C573.4 936.9 571.9 937.3 570.8 937.3C569.6 937.3 569.2 936.5 568.0 936.7C566.7 937.0 564.1 938.3 563.3 938.8C562.5 939.2 562.7 938.8 563.3 939.4C563.8 939.9 565.1 941.1 566.5 941.8C567.8 942.5 569.8 943.2 571.3 943.5C572.7 943.8 573.9 943.5 575.1 943.4C576.3 943.4 577.3 943.3 578.7 943.3C580.0 943.3 581.6 943.7 583.2 943.5C584.8 943.4 587.0 943.1 588.5 942.4C589.9 941.7 591.3 940.6 592.1 939.3C592.8 938.0 592.8 935.6 592.8 934.8C592.9 934.0 593.2 934.2 592.4 934.4Z" fill="#8a8a8a" fill-opacity="0.08" stroke="#858585" stroke-opacity="0.41" stroke-width="0.7"/>
<path d="M597.5 706.1C598.2 704.9 600.5 701.3 601.0 698.7C601.4 696.2 600.8 693.5 600.2 690.8C599.6 688.2 597.8 685.3 597.4 683.1C596.9 680.9 597.6 679.7 597.5 677.6C597.3 675.4 596.5 672.3 596.5 670.2C596.6 668.0 597.5 667.0 597.8 664.8C598.1 662.6 598.2 659.5 598.1 657.1C598.1 654.6 597.5 651.2 597.2 649.9C597.0 648.7 597.8 648.7 596.7 649.7C595.5 650.7 591.7 653.8 590.3 656.0C589.0 658.1 589.4 660.0 588.7 662.6C588.1 665.1 586.8 668.6 586.5 671.3C586.2 673.9 586.9 675.6 587.1 678.2C587.4 680.9 587.5 684.7 588.1 687.1C588.8 689.5 590.2 690.7 591.0 692.6C591.9 694.6 592.1 696.7 593.1 698.9C594.1 701.2 596.2 704.8 596.9 706.0C597.7 707.2 596.8 707.3 597.5 706.1Z" fill="#8a8a8a" fill-opacity="0.11" stroke="#858585" stroke-opacity="0.21" stroke-width="0.7"/>
<path d="M608.6 944.5C607.4 944.2 603.7 944.0 601.7 943.3C599.6 942.6 597.9 941.8 596.4 940.6C594.8 939.4 593.9 937.7 592.3 936.2C590.8 934.7 589.0 933.0 587.0 931.6C585.1 930.2 583.0 928.7 580.7 927.8C578.4 926.8 575.8 926.1 573.3 925.8C570.9 925.5 568.2 925.3 565.8 925.9C563.4 926.4 560.0 928.5 558.9 929.1C557.8 929.7 557.9 929.5 559.0 929.7C560.2 929.9 563.5 930.0 565.7 930.2C567.8 930.4 569.9 930.3 572.0 930.7C574.0 931.1 576.0 931.6 577.9 932.5C579.8 933.3 581.6 934.5 583.4 935.8C585.2 937.1 586.7 938.6 588.6 940.2C590.4 941.8 592.3 944.1 594.5 945.3C596.8 946.6 599.7 947.7 602.1 947.6C604.5 947.6 607.8 945.5 608.9 945.0C610.0 944.5 609.8 944.8 608.6 944.5Z" fill="#8a8a8a" fill-opacity="0.06" stroke="#858585" stroke-opacity="0.24" stroke-width="0.7"/>
<path d="M584.5 708.1C585.0 707.2 586.4 704.6 587.1 703.0C587.9 701.3 588.6 700.2 589.1 698.4C589.5 696.6 589.9 694.3 589.8 692.2C589.7 690.2 589.0 687.9 588.4 685.9C587.9 683.9 587.4 682.2 586.5 680.5C585.7 678.7 584.7 676.8 583.5 675.3C582.2 673.7 580.3 672.3 578.8 671.0C577.4 669.7 575.5 668.2 574.8 667.7C574.0 667.2 574.2 666.9 574.2 668.0C574.3 669.1 574.6 672.8 575.3 674.5C576.0 676.1 577.5 676.7 578.3 678.1C579.2 679.4 579.9 680.9 580.6 682.5C581.2 684.1 581.7 685.9 582.2 687.5C582.7 689.0 583.4 690.3 583.6 691.8C583.8 693.3 583.7 694.8 583.5 696.6C583.3 698.4 582.1 700.6 582.2 702.5C582.3 704.5 583.5 707.4 583.9 708.3C584.3 709.3 583.9 709.0 584.5 708.1Z" fill="#8a8a8a" fill-opacity="0.12" stroke="#858585" stroke-opacity="0.25" stroke-width="0.7"/>
<path d="M577.9 685.4C577.1 685.5 574.9 686.1 573.7 686.7C572.5 687.3 571.7 688.4 570.7 688.8C569.7 689.3 568.8 689.3 567.8 689.5C566.8 689.7 565.7 689.4 564.4 690.1C563.2 690.7 561.4 692.4 560.2 693.2C559.0 694.0 558.3 694.3 557.4 694.6C556.4 695.0 555.5 695.0 554.4 695.2C553.4 695.4 551.7 695.7 551.1 695.9C550.5 696.1 550.3 695.9 550.9 696.5C551.5 697.1 553.4 699.3 554.9 699.8C556.3 700.3 558.2 699.9 559.7 699.6C561.2 699.2 562.9 698.3 563.9 697.7C564.9 697.1 564.6 696.4 565.6 695.9C566.6 695.5 568.4 695.5 569.8 695.0C571.3 694.5 573.1 693.8 574.3 692.9C575.4 692.1 576.3 691.2 577.0 690.0C577.7 688.8 578.2 686.5 578.3 685.8C578.5 685.0 578.6 685.2 577.9 685.4Z" fill="#8a8a8a" fill-opacity="0.12" stroke="#858585" stroke-opacity="0.21" stroke-width="0.7"/>
<path d="M576.9 868.0C577.8 867.7 580.3 866.7 581.6 865.5C583.0 864.4 584.2 862.8 584.9 861.1C585.7 859.5 586.0 857.2 586.3 855.4C586.6 853.5 587.0 851.9 586.9 850.1C586.8 848.3 586.0 846.1 585.7 844.4C585.5 842.6 585.8 841.4 585.5 839.7C585.1 838.0 584.5 835.9 583.6 834.3C582.7 832.7 580.8 830.7 580.1 830.1C579.4 829.4 579.5 829.4 579.5 830.3C579.5 831.2 579.8 833.8 580.1 835.4C580.4 837.0 581.0 838.2 581.2 839.8C581.4 841.5 581.1 843.7 581.2 845.4C581.4 847.0 582.2 848.1 582.3 849.6C582.3 851.2 582.0 853.0 581.8 854.5C581.7 856.1 581.8 857.4 581.4 858.8C580.9 860.2 579.9 861.5 579.1 862.9C578.2 864.4 576.8 866.8 576.5 867.6C576.1 868.5 576.1 868.4 576.9 868.0Z" fill="#8a8a8a" fill-opacity="0.09" stroke="#858585" stroke-opacity="0.38" stroke-width="0.7"/>
</g>
<path d="M601.0 627.4C606.6 626.5 609.3 627.2 612.5 628.5C615.7 629.8 618.2 632.5 620.0 635.0C621.8 637.5 622.4 636.3 623.0 643.6C623.6 650.9 623.5 665.9 623.6 678.6C623.7 691.3 623.6 703.1 623.5 720.0C623.4 736.9 623.1 758.3 623.0 780.0C622.9 801.7 623.0 830.0 623.0 850.0C623.0 870.0 623.1 885.5 623.0 900.0C622.9 914.5 623.1 928.5 622.4 937.0C621.6 945.5 620.5 947.6 618.5 951.0C616.5 954.4 614.6 956.4 610.7 957.2C606.8 958.0 601.0 956.9 595.3 955.6C589.6 954.3 582.1 951.5 576.7 949.4C571.3 947.3 567.2 945.9 562.8 943.3C558.4 940.7 554.0 938.4 550.4 934.0C546.8 929.6 543.3 921.9 541.0 917.0C538.7 912.1 539.0 909.3 536.4 904.6C533.8 899.9 527.9 893.6 525.6 889.0C523.3 884.4 523.8 880.8 522.5 876.7C521.2 872.6 518.7 868.4 517.9 864.3C517.1 860.2 519.3 857.2 517.9 852.0C516.5 846.8 511.1 838.5 509.3 833.3C507.5 828.1 508.4 825.6 507.0 821.0C505.6 816.4 502.0 810.7 500.8 805.5C499.6 800.3 500.4 796.6 500.0 790.0C499.6 783.4 498.2 774.0 498.7 766.0C499.1 758.0 501.0 749.3 502.7 742.2C504.4 735.1 506.4 729.3 509.0 723.2C511.6 717.1 515.1 710.5 518.6 705.7C522.1 700.9 527.7 698.5 529.8 694.5C531.9 690.5 529.0 687.1 531.4 681.8C533.8 676.5 539.0 668.8 544.0 662.7C549.0 656.6 555.8 650.0 561.6 645.2C567.4 640.4 572.4 637.0 579.0 634.0C585.6 631.0 595.4 628.3 601.0 627.4Z" fill="none" stroke="#c8c8c8" stroke-width="0.9"/>
<path d="M651.8 627.4C656.8 627.0 662.4 627.7 667.7 630.1C673.0 632.5 678.3 637.6 683.6 642.0C688.9 646.4 694.2 652.1 699.5 656.4C704.8 660.6 711.4 663.3 715.4 667.5C719.4 671.7 721.8 677.0 723.4 681.8C725.0 686.6 723.1 692.1 725.0 696.1C726.9 700.1 731.1 702.2 734.5 705.7C737.9 709.2 742.7 712.0 745.6 716.8C748.5 721.6 750.4 727.4 752.0 734.3C753.6 741.2 754.4 748.8 755.2 758.1C756.0 767.4 757.0 782.3 756.8 790.0C756.6 797.7 755.3 799.9 754.0 804.5C752.7 809.1 750.5 812.7 749.1 817.6C747.7 822.5 746.9 829.4 745.8 834.0C744.7 838.6 744.0 842.1 742.6 845.4C741.2 848.6 738.5 849.1 737.7 853.5C736.9 857.9 738.5 865.2 737.7 871.5C736.9 877.8 735.0 885.5 732.8 891.0C730.6 896.5 727.3 900.1 724.6 904.2C721.9 908.3 719.1 911.8 716.4 915.6C713.7 919.4 711.2 923.4 708.2 927.0C705.2 930.6 702.8 933.7 698.4 937.0C694.0 940.3 687.4 944.0 682.0 946.7C676.6 949.4 671.2 951.4 665.8 953.2C660.4 955.0 653.8 957.3 649.4 957.3C645.0 957.3 641.9 955.5 639.6 953.2C637.3 950.9 636.6 952.3 635.5 943.4C634.4 934.5 633.6 915.6 633.0 900.0C632.4 884.4 632.2 866.7 632.0 850.0C631.8 833.3 631.6 825.0 631.5 800.0C631.4 775.0 631.2 725.0 631.1 700.0C631.0 675.0 630.8 660.0 631.1 650.0C631.4 640.0 631.9 642.9 633.0 640.0C634.1 637.1 634.4 634.6 637.5 632.5C640.6 630.4 646.8 627.8 651.8 627.4Z" fill="#f3f3f3"/>
<g clip-path="url(#cb1r)">
<ellipse cx="700" cy="690" rx="25" ry="20" fill="#777" opacity="0.1" filter="url(#blur3)"/>
<ellipse cx="730" cy="800" rx="18" ry="40" fill="#777" opacity="0.1" filter="url(#blur3)"/>
<ellipse cx="700" cy="880" rx="25" ry="30" fill="#777" opacity="0.1" filter="url(#blur3)"/>
<ellipse cx="645" cy="660" rx="12" ry="25" fill="#777" opacity="0.12" filter="url(#blur3)"/>
<ellipse cx="649.7" cy="830.6" rx="7.4" ry="11.7" fill="#fff" opacity="0.65" filter="url(#blur1)"/>
<ellipse cx="679.4" cy="831.1" rx="10.5" ry="6.3" fill="#fff" opacity="0.61" filter="url(#blur1)"/>
<ellipse cx="709.0" cy="798.8" rx="13.0" ry="11.9" fill="#fff" opacity="0.53" filter="url(#blur1)"/>
<ellipse cx="659.6" cy="669.6" rx="12.5" ry="11.5" fill="#fff" opacity="0.65" filter="url(#blur1)"/>
<ellipse cx="686.6" cy="792.7" rx="7.8" ry="10.2" fill="#fff" opacity="0.42" filter="url(#blur1)"/>
<ellipse cx="709.2" cy="835.3" rx="11.4" ry="8.0" fill="#fff" opacity="0.40" filter="url(#blur1)"/>
<ellipse cx="673.0" cy="854.2" rx="10.1" ry="12.0" fill="#fff" opacity="0.56" filter="url(#blur1)"/>
<ellipse cx="681.2" cy="926.8" rx="7.3" ry="7.7" fill="#fff" opacity="0.64" filter="url(#blur1)"/>
<ellipse cx="710.5" cy="770.2" rx="10.5" ry="9.5" fill="#fff" opacity="0.68" filter="url(#blur1)"/>
<ellipse cx="711.5" cy="782.5" rx="13.6" ry="9.6" fill="#fff" opacity="0.66" filter="url(#blur1)"/>
<ellipse cx="680.2" cy="872.5" rx="10.8" ry="13.3" fill="#fff" opacity="0.66" filter="url(#blur1)"/>
<ellipse cx="697.4" cy="758.8" rx="13.5" ry="13.6" fill="#fff" opacity="0.43" filter="url(#blur1)"/>
<ellipse cx="640.2" cy="910.5" rx="13.1" ry="9.1" fill="#fff" opacity="0.47" filter="url(#blur1)"/>
<ellipse cx="657.9" cy="775.1" rx="11.3" ry="7.8" fill="#fff" opacity="0.55" filter="url(#blur1)"/>
<ellipse cx="649.1" cy="785.7" rx="7.8" ry="6.6" fill="#fff" opacity="0.54" filter="url(#blur1)"/>
<ellipse cx="650.0" cy="666.6" rx="7.2" ry="9.3" fill="#fff" opacity="0.51" filter="url(#blur1)"/>
<ellipse cx="722.6" cy="764.1" rx="7.9" ry="7.5" fill="#fff" opacity="0.50" filter="url(#blur1)"/>
<ellipse cx="724.5" cy="693.9" rx="9.7" ry="12.5" fill="#fff" opacity="0.76" filter="url(#blur1)"/>
<ellipse cx="689.2" cy="905.4" rx="11.1" ry="7.8" fill="#fff" opacity="0.40" filter="url(#blur1)"/>
<ellipse cx="652.5" cy="888.1" rx="9.1" ry="12.7" fill="#fff" opacity="0.82" filter="url(#blur1)"/>
<ellipse cx="746.7" cy="782.2" rx="6.1" ry="8.2" fill="#fff" opacity="0.46" filter="url(#blur1)"/>
<ellipse cx="712.7" cy="859.0" rx="13.4" ry="11.6" fill="#fff" opacity="0.82" filter="url(#blur1)"/>
<ellipse cx="711.3" cy="784.0" rx="12.7" ry="8.2" fill="#fff" opacity="0.73" filter="url(#blur1)"/>
<ellipse cx="638.7" cy="689.6" rx="13.6" ry="7.1" fill="#fff" opacity="0.57" filter="url(#blur1)"/>
<ellipse cx="706.7" cy="786.4" rx="13.0" ry="13.6" fill="#fff" opacity="0.52" filter="url(#blur1)"/>
<ellipse cx="648.0" cy="929.1" rx="9.6" ry="8.0" fill="#fff" opacity="0.42" filter="url(#blur1)"/>
<ellipse cx="632.2" cy="819.6" rx="8.2" ry="10.5" fill="#fff" opacity="0.80" filter="url(#blur1)"/>
<ellipse cx="639.5" cy="877.5" rx="12.0" ry="13.7" fill="#fff" opacity="0.37" filter="url(#blur1)"/>
<ellipse cx="694.8" cy="810.9" rx="10.8" ry="9.8" fill="#fff" opacity="0.48" filter="url(#blur1)"/>
<ellipse cx="725.5" cy="841.4" rx="7.7" ry="7.2" fill="#fff" opacity="0.38" filter="url(#blur1)"/>
<ellipse cx="653.3" cy="950.1" rx="7.8" ry="13.1" fill="#fff" opacity="0.42" filter="url(#blur1)"/>
<ellipse cx="673.7" cy="783.2" rx="8.9" ry="13.7" fill="#fff" opacity="0.47" filter="url(#blur1)"/>
<ellipse cx="691.9" cy="695.1" rx="6.9" ry="11.5" fill="#fff" opacity="0.52" filter="url(#blur1)"/>
<ellipse cx="692.3" cy="855.9" rx="6.7" ry="6.4" fill="#fff" opacity="0.69" filter="url(#blur1)"/>
<ellipse cx="638.1" cy="783.1" rx="12.8" ry="9.1" fill="#fff" opacity="0.57" filter="url(#blur1)"/>
<ellipse cx="687.5" cy="752.7" rx="12.5" ry="13.8" fill="#fff" opacity="0.46" filter="url(#blur1)"/>
<ellipse cx="671.6" cy="892.6" rx="12.0" ry="12.5" fill="#fff" opacity="0.68" filter="url(#blur1)"/>
<ellipse cx="710.8" cy="721.0" rx="6.7" ry="12.9" fill="#fff" opacity="0.77" filter="url(#blur1)"/>
<ellipse cx="743.2" cy="714.8" rx="11.9" ry="13.4" fill="#fff" opacity="0.45" filter="url(#blur1)"/>
<ellipse cx="634.1" cy="684.8" rx="7.8" ry="11.4" fill="#fff" opacity="0.75" filter="url(#blur1)"/>
<path d="M651.8 627.4C656.8 627.0 662.4 627.7 667.7 630.1C673.0 632.5 678.3 637.6 683.6 642.0C688.9 646.4 694.2 652.1 699.5 656.4C704.8 660.6 711.4 663.3 715.4 667.5C719.4 671.7 721.8 677.0 723.4 681.8C725.0 686.6 723.1 692.1 725.0 696.1C726.9 700.1 731.1 702.2 734.5 705.7C737.9 709.2 742.7 712.0 745.6 716.8C748.5 721.6 750.4 727.4 752.0 734.3C753.6 741.2 754.4 748.8 755.2 758.1C756.0 767.4 757.0 782.3 756.8 790.0C756.6 797.7 755.3 799.9 754.0 804.5C752.7 809.1 750.5 812.7 749.1 817.6C747.7 822.5 746.9 829.4 745.8 834.0C744.7 838.6 744.0 842.1 742.6 845.4C741.2 848.6 738.5 849.1 737.7 853.5C736.9 857.9 738.5 865.2 737.7 871.5C736.9 877.8 735.0 885.5 732.8 891.0C730.6 896.5 727.3 900.1 724.6 904.2C721.9 908.3 719.1 911.8 716.4 915.6C713.7 919.4 711.2 923.4 708.2 927.0C705.2 930.6 702.8 933.7 698.4 937.0C694.0 940.3 687.4 944.0 682.0 946.7C676.6 949.4 671.2 951.4 665.8 953.2C660.4 955.0 653.8 957.3 649.4 957.3C645.0 957.3 641.9 955.5 639.6 953.2C637.3 950.9 636.6 952.3 635.5 943.4C634.4 934.5 633.6 915.6 633.0 900.0C632.4 884.4 632.2 866.7 632.0 850.0C631.8 833.3 631.6 825.0 631.5 800.0C631.4 775.0 631.2 725.0 631.1 700.0C631.0 675.0 630.8 660.0 631.1 650.0C631.4 640.0 631.9 642.9 633.0 640.0C634.1 637.1 634.4 634.6 637.5 632.5C640.6 630.4 646.8 627.8 651.8 627.4Z" fill="none" stroke="#888" stroke-opacity="0.15" stroke-width="10" filter="url(#blur1)"/>
<path d="M733.8 854.6C731.2 856.3 722.9 860.8 718.7 865.3C714.5 869.7 711.9 876.1 708.6 881.2C705.3 886.3 701.6 890.3 698.8 895.7C696.1 901.2 694.0 907.9 692.2 913.9C690.3 919.9 689.5 926.3 687.5 931.7C685.5 937.1 681.8 940.6 680.2 946.4C678.6 952.1 678.1 959.9 678.1 966.2C678.0 972.6 679.6 981.5 680.0 984.6C680.5 987.6 679.2 987.5 680.6 984.6C682.0 981.8 686.7 973.1 688.5 967.7C690.2 962.3 689.3 957.6 691.3 952.2C693.3 946.8 698.2 940.8 700.6 935.2C702.9 929.6 703.6 923.9 705.2 918.5C706.8 913.1 707.9 908.1 710.3 902.9C712.7 897.7 716.8 892.4 719.6 887.3C722.3 882.1 724.4 877.3 726.8 871.9C729.3 866.5 733.1 857.8 734.3 854.9C735.4 852.0 736.4 852.9 733.8 854.6Z" fill="#8a8a8a" fill-opacity="0.09" stroke="#858585" stroke-opacity="0.20" stroke-width="0.7"/>
<path d="M696.6 737.5C695.0 739.9 690.3 747.8 687.4 752.1C684.4 756.5 681.6 759.3 678.9 763.7C676.1 768.1 673.6 773.9 670.7 778.3C667.9 782.7 664.7 786.0 661.6 790.1C658.5 794.3 654.8 798.4 652.0 803.3C649.2 808.2 647.4 815.1 644.6 819.6C641.9 824.0 637.5 825.2 635.6 830.1C633.6 835.1 633.4 846.0 633.0 849.3C632.7 852.5 631.6 851.2 633.6 849.5C635.5 847.8 640.6 842.9 644.7 839.0C648.8 835.2 654.9 830.5 658.4 826.2C661.8 821.9 662.4 817.5 665.2 813.1C668.0 808.8 671.8 804.7 675.1 800.2C678.5 795.6 682.6 790.6 685.4 785.8C688.2 781.0 689.7 776.5 692.1 771.3C694.5 766.2 699.0 760.3 699.9 754.7C700.7 749.0 697.7 740.3 697.2 737.4C696.6 734.5 698.2 735.0 696.6 737.5Z" fill="#8a8a8a" fill-opacity="0.07" stroke="#858585" stroke-opacity="0.18" stroke-width="0.7"/>
<path d="M738.4 790.2C736.7 791.8 731.1 796.2 729.0 799.8C726.9 803.5 727.1 808.6 725.8 812.1C724.5 815.6 722.4 817.2 721.3 820.9C720.1 824.7 718.7 829.9 718.7 834.6C718.7 839.3 720.3 844.8 721.2 849.2C722.1 853.5 722.7 856.8 724.1 860.7C725.5 864.6 727.1 869.1 729.6 872.6C732.1 876.1 737.2 880.3 738.9 881.8C740.5 883.3 738.9 883.9 739.5 881.6C740.0 879.3 742.3 872.0 742.3 868.0C742.4 864.1 740.6 861.3 739.9 857.6C739.3 854.0 739.0 849.3 738.4 845.9C737.8 842.5 736.5 840.3 736.4 837.3C736.2 834.2 736.5 831.4 737.4 827.6C738.3 823.8 741.0 818.5 741.8 814.5C742.6 810.4 742.6 807.4 742.1 803.4C741.6 799.3 739.6 792.4 739.0 790.2C738.3 788.0 740.0 788.6 738.4 790.2Z" fill="#8a8a8a" fill-opacity="0.06" stroke="#858585" stroke-opacity="0.32" stroke-width="0.7"/>
<path d="M677.8 926.4C678.1 929.1 679.1 937.5 680.2 942.7C681.3 947.9 683.1 952.6 684.5 957.6C686.0 962.5 687.2 967.6 688.9 972.6C690.7 977.6 692.7 982.8 695.3 987.7C697.8 992.6 701.5 997.4 704.2 1002.0C706.8 1006.6 709.5 1010.9 711.2 1015.5C712.9 1020.0 712.1 1024.7 714.3 1029.4C716.5 1034.1 722.6 1041.2 724.3 1043.5C726.1 1045.8 725.0 1045.9 724.9 1043.3C724.8 1040.7 724.5 1033.2 724.0 1027.7C723.4 1022.2 723.2 1015.8 721.7 1010.4C720.2 1005.0 717.3 1000.0 714.9 995.4C712.5 990.7 709.4 987.1 707.1 982.6C704.8 978.2 702.8 973.5 700.9 968.7C699.0 963.9 697.5 958.6 695.5 953.6C693.5 948.6 692.0 943.2 689.1 938.6C686.3 934.1 680.2 928.2 678.4 926.2C676.5 924.1 677.5 923.6 677.8 926.4Z" fill="#8a8a8a" fill-opacity="0.08" stroke="#858585" stroke-opacity="0.29" stroke-width="0.7"/>
<path d="M680.2 658.2C679.7 656.1 677.5 649.9 676.5 646.1C675.6 642.2 675.5 638.8 674.4 634.9C673.3 631.1 671.2 626.9 669.7 623.0C668.2 619.1 666.3 615.4 665.3 611.7C664.3 607.9 664.3 604.4 663.7 600.6C663.0 596.7 661.6 592.3 661.3 588.4C660.9 584.5 661.8 581.1 661.5 577.1C661.2 573.2 659.9 566.8 659.5 564.7C659.0 562.7 659.6 562.7 658.9 564.7C658.1 566.7 655.8 572.5 654.9 576.7C654.0 580.9 653.4 585.6 653.5 589.8C653.5 594.0 654.6 597.6 655.3 601.8C655.9 606.0 656.1 610.8 657.2 614.9C658.3 619.0 660.3 622.7 661.9 626.3C663.5 630.0 665.3 633.1 666.8 636.9C668.3 640.8 668.7 645.9 670.8 649.5C673.0 653.1 678.1 657.0 679.7 658.4C681.2 659.9 680.7 660.2 680.2 658.2Z" fill="#8a8a8a" fill-opacity="0.14" stroke="#858585" stroke-opacity="0.44" stroke-width="0.7"/>
<path d="M677.8 638.9C674.6 638.9 664.7 638.8 658.8 639.7C652.9 640.7 647.7 643.4 642.3 644.6C636.9 645.7 631.5 646.8 626.5 646.8C621.4 646.8 617.8 644.5 612.1 644.4C606.4 644.3 598.8 645.0 592.4 646.3C586.0 647.6 579.6 650.7 573.9 652.1C568.1 653.6 563.5 652.8 558.1 654.9C552.7 657.1 544.1 663.2 541.3 665.0C538.6 666.7 538.4 664.7 541.4 665.6C544.5 666.5 553.3 669.6 559.5 670.3C565.8 671.0 573.1 670.6 578.9 669.9C584.7 669.2 589.2 667.0 594.3 666.1C599.4 665.3 603.7 664.6 609.7 664.7C615.7 664.7 623.8 666.9 630.4 666.4C636.9 665.9 643.2 663.9 649.1 661.8C654.9 659.6 660.6 657.4 665.4 653.7C670.3 650.0 676.1 641.8 678.2 639.4C680.3 636.9 681.1 638.8 677.8 638.9Z" fill="#8a8a8a" fill-opacity="0.15" stroke="#858585" stroke-opacity="0.33" stroke-width="0.7"/>
<path d="M650.9 829.5C651.3 831.7 652.3 838.5 653.5 842.6C654.6 846.8 655.8 850.6 657.8 854.5C659.9 858.3 663.9 862.2 666.0 865.9C668.1 869.6 668.4 873.0 670.7 876.6C672.9 880.3 677.2 884.2 679.3 887.8C681.5 891.4 682.7 894.6 683.7 898.3C684.7 901.9 683.7 905.7 685.2 909.6C686.7 913.5 691.5 919.7 692.8 921.6C694.2 923.6 693.3 923.6 693.4 921.5C693.5 919.3 693.7 913.4 693.6 908.9C693.5 904.4 694.0 899.2 693.0 894.6C692.0 889.9 689.9 884.9 687.8 881.1C685.8 877.4 682.9 875.6 680.7 872.0C678.4 868.4 676.8 862.9 674.5 859.3C672.2 855.7 669.2 853.8 667.0 850.4C664.7 847.0 663.5 842.3 660.9 838.7C658.3 835.2 653.0 830.6 651.4 829.1C649.7 827.5 650.6 827.2 650.9 829.5Z" fill="#8a8a8a" fill-opacity="0.14" stroke="#858585" stroke-opacity="0.31" stroke-width="0.7"/>
<path d="M678.5 875.3C679.7 873.4 684.2 867.8 685.2 863.4C686.3 859.1 684.7 853.5 684.8 849.1C685.0 844.8 685.5 841.2 686.2 837.3C686.8 833.3 688.5 829.8 688.7 825.4C688.8 821.0 687.0 814.9 687.1 810.7C687.2 806.4 688.3 803.6 689.2 799.9C690.0 796.1 691.6 792.2 692.3 788.0C692.9 783.8 692.8 776.9 692.8 774.6C692.8 772.4 693.8 772.7 692.2 774.4C690.7 776.1 685.7 781.2 683.4 785.0C681.1 788.9 679.7 793.1 678.3 797.7C676.9 802.2 675.5 807.9 675.2 812.1C675.0 816.3 676.8 819.0 676.7 823.0C676.5 827.1 674.7 831.9 674.2 836.4C673.7 841.0 673.5 846.1 673.8 850.3C674.1 854.5 675.4 857.5 676.1 861.6C676.8 865.8 677.5 872.8 677.9 875.1C678.3 877.4 677.3 877.3 678.5 875.3Z" fill="#8a8a8a" fill-opacity="0.12" stroke="#858585" stroke-opacity="0.42" stroke-width="0.7"/>
<path d="M708.5 707.3C709.6 705.3 713.6 699.6 714.6 695.2C715.5 690.9 714.1 685.6 714.1 681.3C714.1 676.9 714.4 673.2 714.7 669.1C715.0 665.1 716.2 661.3 715.9 656.9C715.7 652.5 714.3 647.2 713.2 642.7C712.1 638.3 710.9 634.2 709.3 630.1C707.7 626.0 705.8 621.8 703.6 618.0C701.4 614.2 697.5 609.1 696.2 607.3C694.8 605.6 695.8 605.1 695.6 607.5C695.4 609.8 694.5 617.1 695.1 621.4C695.6 625.6 697.7 629.1 698.8 633.0C699.9 636.9 700.8 641.2 701.6 645.0C702.5 648.8 703.7 651.8 703.9 655.9C704.1 659.9 703.0 664.6 702.9 669.1C702.8 673.5 702.8 678.3 703.2 682.5C703.7 686.6 704.7 689.8 705.5 693.9C706.3 698.0 707.4 704.9 707.9 707.1C708.4 709.3 707.3 709.3 708.5 707.3Z" fill="#8a8a8a" fill-opacity="0.15" stroke="#858585" stroke-opacity="0.26" stroke-width="0.7"/>
<path d="M721.7 792.4C721.1 795.5 719.3 805.1 718.7 811.1C718.1 817.0 718.0 822.1 718.2 828.0C718.3 833.9 718.3 840.2 719.8 846.4C721.3 852.6 725.7 859.6 727.2 865.2C728.7 870.9 727.8 874.9 728.6 880.4C729.4 886.0 730.6 892.5 732.2 898.4C733.9 904.4 735.8 910.6 738.6 916.1C741.4 921.7 747.2 929.1 749.0 931.7C750.9 934.2 749.2 934.7 749.6 931.5C750.0 928.3 751.7 918.4 751.5 912.5C751.2 906.5 748.9 901.5 748.0 895.8C747.1 890.2 746.5 884.9 745.8 878.6C745.0 872.4 744.9 864.1 743.5 858.3C742.0 852.6 738.5 849.5 736.9 844.3C735.4 839.1 735.0 833.2 734.1 827.3C733.3 821.3 733.9 814.4 731.9 808.6C729.9 802.8 724.0 794.9 722.3 792.2C720.6 789.5 722.3 789.2 721.7 792.4Z" fill="#8a8a8a" fill-opacity="0.15" stroke="#858585" stroke-opacity="0.21" stroke-width="0.7"/>
<path d="M702.7 920.8C701.7 923.3 699.3 931.3 697.3 936.1C695.3 940.8 692.8 944.7 690.6 949.4C688.4 954.1 686.3 959.2 684.3 964.2C682.3 969.2 679.9 973.9 678.7 979.3C677.5 984.7 678.2 991.2 677.2 996.4C676.2 1001.6 673.8 1005.4 672.6 1010.5C671.5 1015.6 670.0 1021.5 670.4 1027.0C670.9 1032.5 674.4 1040.8 675.4 1043.5C676.3 1046.3 675.5 1046.0 676.0 1043.5C676.4 1040.9 677.0 1033.3 677.8 1028.3C678.7 1023.3 679.6 1018.5 681.1 1013.4C682.5 1008.2 685.6 1002.4 686.8 997.2C687.9 992.1 686.9 987.5 687.9 982.6C689.0 977.7 691.4 972.7 693.2 967.8C695.0 962.8 696.8 958.1 698.8 952.9C700.7 947.8 704.0 942.4 704.7 937.0C705.5 931.6 703.6 923.4 703.3 920.7C702.9 918.0 703.7 918.2 702.7 920.8Z" fill="#8a8a8a" fill-opacity="0.16" stroke="#858585" stroke-opacity="0.30" stroke-width="0.7"/>
<path d="M691.3 873.4C690.2 874.8 687.1 879.4 685.4 882.2C683.7 884.9 682.9 887.6 681.3 889.8C679.6 892.1 677.4 893.0 675.7 895.7C674.0 898.4 672.4 902.9 671.0 906.0C669.6 909.1 668.6 911.9 667.1 914.4C665.5 916.8 663.8 918.3 661.9 920.5C660.0 922.7 657.7 924.9 655.8 927.5C654.0 930.0 651.5 934.2 650.7 935.7C649.9 937.1 649.1 936.4 651.0 936.2C652.9 935.9 659.0 935.6 662.2 934.2C665.4 932.8 667.5 930.3 670.1 927.8C672.7 925.4 675.7 922.4 677.8 919.6C679.8 916.7 681.1 913.4 682.3 910.6C683.5 907.9 683.4 905.9 685.0 903.1C686.5 900.3 689.9 897.2 691.5 894.0C693.1 890.7 694.5 887.1 694.6 883.7C694.6 880.3 692.4 875.2 691.9 873.5C691.4 871.8 692.4 872.0 691.3 873.4Z" fill="#8a8a8a" fill-opacity="0.11" stroke="#858585" stroke-opacity="0.18" stroke-width="0.7"/>
<path d="M731.2 813.2C729.8 814.7 725.3 819.1 723.4 822.3C721.6 825.5 721.4 829.5 720.1 832.5C718.8 835.5 717.3 837.7 715.6 840.3C714.0 842.9 712.2 845.9 710.2 848.3C708.3 850.7 706.1 851.9 703.9 854.6C701.8 857.4 699.7 862.2 697.6 864.8C695.5 867.5 693.0 867.4 691.4 870.4C689.7 873.4 688.3 880.8 687.8 883.0C687.2 885.1 686.4 883.9 688.2 883.4C690.0 882.9 695.0 881.7 698.5 879.9C702.0 878.1 706.6 875.2 709.3 872.8C712.0 870.3 712.4 868.1 714.8 865.4C717.1 862.7 721.0 859.8 723.4 856.7C725.8 853.6 727.7 850.3 729.4 846.8C731.2 843.2 733.0 839.0 733.9 835.4C734.9 831.7 735.4 828.5 735.0 824.8C734.7 821.1 732.4 815.1 731.8 813.2C731.1 811.2 732.6 811.6 731.2 813.2Z" fill="#8a8a8a" fill-opacity="0.17" stroke="#858585" stroke-opacity="0.27" stroke-width="0.7"/>
<path d="M697.6 760.6C697.6 757.9 697.5 749.7 697.3 744.8C697.1 739.9 696.3 735.7 696.5 731.3C696.7 726.9 698.2 723.2 698.4 718.3C698.5 713.5 698.2 707.6 697.2 702.3C696.2 697.0 694.8 691.5 692.2 686.6C689.5 681.7 684.2 677.2 681.5 673.0C678.7 668.8 678.9 665.0 675.6 661.4C672.4 657.8 664.4 652.9 662.1 651.3C659.8 649.7 661.2 649.2 661.6 651.6C662.1 654.1 663.3 660.9 664.8 665.9C666.2 670.9 668.2 677.3 670.3 681.6C672.5 685.8 675.8 687.6 677.7 691.3C679.6 695.0 680.8 699.4 681.7 703.7C682.6 708.0 683.1 712.1 683.2 717.1C683.4 722.0 682.1 728.2 682.6 733.5C683.1 738.9 683.9 744.6 686.3 749.2C688.8 753.7 695.1 758.9 697.0 760.8C698.9 762.7 697.5 763.3 697.6 760.6Z" fill="#8a8a8a" fill-opacity="0.12" stroke="#858585" stroke-opacity="0.37" stroke-width="0.7"/>
<path d="M652.4 769.5C652.1 772.6 651.6 782.4 651.0 788.4C650.4 794.5 648.6 799.8 648.9 806.0C649.3 812.2 652.2 819.5 653.1 825.7C654.0 831.9 653.0 837.2 654.3 843.3C655.6 849.4 658.4 856.2 661.1 862.2C663.8 868.1 666.5 873.9 670.3 879.1C674.1 884.3 679.8 888.7 683.9 893.5C688.0 898.2 693.0 905.2 694.9 907.5C696.8 909.8 696.2 910.5 695.4 907.2C694.6 903.9 692.9 893.3 690.2 887.8C687.6 882.4 682.4 879.3 679.3 874.4C676.1 869.5 673.7 863.8 671.3 858.4C669.0 853.1 666.7 848.3 665.4 842.4C664.2 836.5 664.8 829.0 663.7 823.1C662.6 817.1 659.7 812.7 659.0 806.7C658.3 800.8 660.5 793.5 659.5 787.3C658.5 781.1 654.2 772.5 653.0 769.5C651.9 766.5 652.8 766.3 652.4 769.5Z" fill="#8a8a8a" fill-opacity="0.14" stroke="#858585" stroke-opacity="0.23" stroke-width="0.7"/>
<path d="M724.8 893.6C723.0 893.1 717.4 891.2 714.4 891.1C711.3 891.0 709.2 891.9 706.5 892.9C703.8 893.9 700.4 896.3 698.0 897.0C695.7 897.8 694.6 897.4 692.5 897.6C690.5 897.8 688.2 897.9 685.6 898.3C683.0 898.8 679.7 899.6 677.1 900.1C674.5 900.6 672.5 900.3 670.0 901.2C667.5 902.1 663.4 904.6 662.1 905.4C660.7 906.2 660.6 904.3 661.9 906.0C663.1 907.7 666.7 913.8 669.6 915.6C672.5 917.5 676.2 917.0 679.2 917.2C682.1 917.4 684.2 917.1 687.2 916.9C690.1 916.7 693.4 916.9 696.8 916.2C700.2 915.6 704.8 914.3 707.5 913.1C710.3 911.8 711.2 910.3 713.4 908.8C715.6 907.2 718.8 906.4 720.8 904.0C722.8 901.5 724.5 895.8 725.2 894.1C725.9 892.3 726.6 894.1 724.8 893.6Z" fill="#8a8a8a" fill-opacity="0.10" stroke="#858585" stroke-opacity="0.40" stroke-width="0.7"/>
<path d="M659.1 754.9C660.3 752.2 664.2 744.3 665.4 738.9C666.6 733.4 665.9 727.6 666.3 722.1C666.6 716.7 666.6 711.2 667.5 706.3C668.5 701.3 671.0 697.7 672.0 692.4C673.0 687.1 673.8 680.6 673.4 674.7C673.1 668.7 671.5 662.5 669.8 656.9C668.2 651.3 666.9 645.6 663.5 640.9C660.1 636.2 651.9 630.9 649.5 628.9C647.0 627.0 648.4 626.7 649.0 629.3C649.6 631.8 651.7 639.3 653.1 644.3C654.4 649.3 655.9 654.4 656.9 659.3C658.0 664.2 659.1 668.7 659.3 673.5C659.5 678.4 659.1 682.9 658.1 688.3C657.1 693.6 654.2 700.0 653.4 705.6C652.6 711.3 653.0 716.9 653.2 722.3C653.4 727.7 653.6 732.7 654.5 738.1C655.3 743.5 657.8 751.8 658.6 754.6C659.3 757.4 658.0 757.5 659.1 754.9Z" fill="#8a8a8a" fill-opacity="0.11" stroke="#858585" stroke-opacity="0.38" stroke-width="0.7"/>
<path d="M659.3 858.6C658.4 856.0 655.9 847.7 653.1 843.1C650.3 838.4 646.2 834.6 642.5 830.6C638.9 826.6 634.7 823.0 631.1 819.1C627.4 815.3 624.8 811.3 620.7 807.7C616.6 804.2 610.6 801.0 606.6 797.6C602.7 794.2 601.2 790.3 597.0 787.1C592.7 783.9 586.3 780.9 581.2 778.5C576.2 776.0 569.2 773.3 566.7 772.4C564.3 771.5 564.9 770.2 566.3 772.8C567.8 775.5 571.9 784.3 575.4 788.1C578.8 792.0 583.0 792.5 586.8 796.0C590.6 799.6 594.3 805.8 598.1 809.4C601.9 813.1 606.0 814.5 609.8 817.9C613.6 821.3 617.3 826.1 621.1 829.8C624.9 833.5 629.0 836.6 632.9 840.0C636.7 843.5 640.1 847.2 644.5 850.4C648.8 853.6 656.4 857.6 658.8 859.0C661.3 860.4 660.3 861.3 659.3 858.6Z" fill="#8a8a8a" fill-opacity="0.09" stroke="#858585" stroke-opacity="0.25" stroke-width="0.7"/>
<path d="M665.3 680.8C665.6 678.9 665.9 672.9 666.6 669.3C667.2 665.8 667.8 662.7 669.0 659.7C670.3 656.6 672.4 654.3 673.9 651.0C675.4 647.8 676.6 643.7 678.0 640.3C679.4 636.8 680.9 633.6 682.2 630.2C683.5 626.8 684.6 623.0 686.0 619.6C687.3 616.2 688.7 613.0 690.2 609.8C691.8 606.7 694.6 602.4 695.4 600.8C696.2 599.3 696.8 599.4 695.0 600.4C693.1 601.4 686.8 604.0 684.0 606.7C681.2 609.4 680.0 613.3 678.3 616.6C676.6 620.0 675.5 623.3 674.0 626.7C672.5 630.1 670.9 633.7 669.5 637.1C668.2 640.5 667.3 643.6 665.9 647.1C664.5 650.6 662.0 654.4 660.9 658.3C659.9 662.2 659.1 666.7 659.7 670.5C660.3 674.3 663.8 679.1 664.7 680.9C665.6 682.6 665.0 682.8 665.3 680.8Z" fill="#8a8a8a" fill-opacity="0.06" stroke="#858585" stroke-opacity="0.21" stroke-width="0.7"/>
<path d="M659.3 921.3C661.0 922.4 666.3 925.6 669.3 927.4C672.3 929.2 674.2 930.8 677.3 932.3C680.4 933.9 684.0 935.7 687.8 936.6C691.7 937.5 697.0 937.0 700.5 937.7C703.9 938.5 705.4 940.1 708.5 941.1C711.7 942.2 716.2 942.9 719.6 944.0C722.9 945.0 725.1 947.3 728.8 947.5C732.5 947.7 739.5 945.6 741.6 945.1C743.8 944.6 743.1 945.7 741.7 944.6C740.3 943.4 736.4 940.4 733.3 938.4C730.1 936.4 726.4 934.0 723.0 932.4C719.7 930.8 716.9 930.3 713.3 929.0C709.7 927.7 704.7 925.2 701.2 924.5C697.7 923.7 695.4 924.9 692.2 924.3C689.1 923.8 685.9 922.5 682.3 921.3C678.7 920.2 674.5 917.5 670.6 917.3C666.7 917.2 661.0 920.0 659.1 920.7C657.3 921.4 657.6 920.2 659.3 921.3Z" fill="#8a8a8a" fill-opacity="0.12" stroke="#858585" stroke-opacity="0.25" stroke-width="0.7"/>
<path d="M679.0 920.8C679.5 918.3 680.7 910.9 681.5 906.1C682.2 901.4 682.4 896.8 683.5 892.4C684.7 888.0 686.4 883.8 688.4 879.9C690.4 875.9 693.6 872.9 695.6 868.5C697.7 864.2 699.0 858.4 700.8 853.8C702.6 849.2 704.8 845.5 706.4 840.9C708.1 836.3 709.9 831.4 710.6 826.4C711.2 821.5 710.5 813.7 710.4 811.1C710.3 808.5 711.0 808.8 709.8 811.0C708.6 813.1 705.2 819.6 703.2 824.0C701.3 828.3 700.0 832.6 698.1 837.0C696.1 841.5 693.3 846.2 691.5 850.5C689.7 854.9 689.1 858.9 687.0 863.2C684.9 867.6 681.1 871.9 679.0 876.6C676.9 881.3 675.3 886.5 674.4 891.5C673.5 896.6 673.1 901.8 673.8 906.7C674.4 911.6 677.6 918.7 678.5 921.0C679.3 923.4 678.5 923.3 679.0 920.8Z" fill="#8a8a8a" fill-opacity="0.14" stroke="#858585" stroke-opacity="0.45" stroke-width="0.7"/>
<path d="M739.2 771.2C738.3 774.1 735.8 782.9 734.5 788.3C733.2 793.6 732.8 798.3 731.4 803.2C730.0 808.0 727.0 811.7 726.1 817.2C725.2 822.8 726.2 830.8 726.1 836.7C725.9 842.5 725.8 847.2 725.4 852.5C725.0 857.7 723.9 862.5 723.6 868.0C723.3 873.5 723.5 879.8 723.9 885.4C724.2 891.0 725.3 898.9 725.7 901.6C726.1 904.3 724.4 904.4 726.3 901.8C728.2 899.2 734.9 891.3 737.1 886.1C739.2 880.9 738.3 875.9 739.2 870.5C740.1 865.0 741.8 859.0 742.5 853.3C743.2 847.6 743.5 841.2 743.5 836.1C743.5 830.9 741.7 827.6 742.3 822.4C742.9 817.2 746.2 810.9 747.1 805.0C748.0 799.1 748.9 792.6 747.7 787.0C746.5 781.3 741.2 773.7 739.8 771.1C738.3 768.5 740.0 768.4 739.2 771.2Z" fill="#8a8a8a" fill-opacity="0.07" stroke="#858585" stroke-opacity="0.29" stroke-width="0.7"/>
<path d="M631.9 751.0C631.7 753.8 630.3 762.4 631.5 767.9C632.6 773.4 636.1 778.8 638.8 783.9C641.5 788.9 644.7 793.5 647.6 798.2C650.5 802.9 653.9 807.4 656.2 812.1C658.5 816.8 659.0 821.5 661.4 826.3C663.8 831.2 667.6 836.4 670.6 841.1C673.6 845.9 676.7 850.3 679.1 854.9C681.6 859.5 684.3 866.6 685.4 869.0C686.6 871.3 685.8 871.9 686.0 868.9C686.3 865.8 687.9 856.2 686.8 850.7C685.7 845.2 682.0 840.5 679.5 835.8C677.1 831.1 674.2 827.5 671.9 822.5C669.7 817.5 668.4 811.0 665.9 805.9C663.4 800.9 660.0 796.6 657.0 792.1C654.0 787.6 650.8 783.3 648.0 779.0C645.2 774.7 642.6 770.7 640.0 766.0C637.4 761.3 633.9 753.5 632.5 750.9C631.2 748.4 632.1 748.2 631.9 751.0Z" fill="#8a8a8a" fill-opacity="0.12" stroke="#858585" stroke-opacity="0.38" stroke-width="0.7"/>
<path d="M729.5 774.4C730.3 775.8 733.1 779.9 734.9 782.3C736.7 784.7 738.0 786.8 740.1 788.9C742.3 791.1 745.4 793.1 747.8 795.1C750.1 797.1 752.6 798.8 754.4 800.9C756.3 802.9 756.9 805.3 759.1 807.4C761.3 809.4 765.3 811.4 767.8 813.3C770.3 815.2 771.4 817.4 774.1 818.7C776.9 820.1 782.5 820.8 784.2 821.2C785.9 821.5 785.4 821.9 784.5 820.6C783.6 819.4 781.0 816.2 778.9 813.9C776.9 811.6 774.5 808.5 772.4 806.6C770.3 804.6 768.2 804.3 766.2 802.2C764.1 800.2 762.4 796.4 760.2 794.0C758.0 791.7 755.3 789.9 753.0 788.1C750.6 786.3 748.4 785.3 746.1 783.4C743.7 781.5 741.7 778.4 739.0 776.8C736.3 775.2 731.4 774.3 729.8 773.9C728.2 773.5 728.6 773.0 729.5 774.4Z" fill="#8a8a8a" fill-opacity="0.11" stroke="#858585" stroke-opacity="0.29" stroke-width="0.7"/>
<path d="M680.5 837.3C678.0 839.0 670.3 844.8 666.0 848.3C661.6 851.7 658.5 854.6 654.5 857.7C650.5 860.8 646.2 863.8 641.9 866.9C637.6 870.0 633.1 873.7 628.7 876.3C624.2 878.9 620.0 879.8 615.3 882.4C610.6 885.0 605.2 888.9 600.4 891.9C595.7 894.9 590.6 896.3 586.7 900.6C582.7 904.8 578.4 914.6 576.9 917.5C575.3 920.4 574.5 918.5 577.3 917.9C580.0 917.3 588.2 915.7 593.5 914.0C598.9 912.3 604.5 909.8 609.5 907.5C614.5 905.2 618.3 902.7 623.4 900.1C628.6 897.6 635.4 895.4 640.5 892.4C645.6 889.4 649.6 885.7 654.1 882.0C658.6 878.3 663.3 874.6 667.5 870.2C671.6 865.8 676.9 861.1 679.1 855.7C681.4 850.2 680.8 840.6 681.0 837.6C681.2 834.5 683.0 835.5 680.5 837.3Z" fill="#8a8a8a" fill-opacity="0.06" stroke="#858585" stroke-opacity="0.37" stroke-width="0.7"/>
<path d="M669.6 727.3C668.0 729.1 663.2 734.6 660.2 738.1C657.1 741.6 654.6 745.1 651.6 748.2C648.5 751.3 645.1 754.0 641.6 756.8C638.1 759.5 634.4 762.1 630.7 764.6C627.0 767.1 623.2 769.5 619.3 771.9C615.5 774.4 611.3 776.2 607.6 779.2C604.0 782.3 600.0 786.1 597.4 790.3C594.7 794.4 592.5 801.7 591.7 804.1C590.8 806.4 590.3 805.8 592.1 804.4C594.0 803.0 599.4 798.6 602.8 795.7C606.1 792.8 608.6 789.6 612.3 787.1C615.9 784.5 620.5 782.6 624.5 780.2C628.6 777.8 632.7 775.4 636.7 772.7C640.6 770.0 644.5 767.2 648.2 764.0C651.9 760.8 655.7 757.4 658.8 753.7C662.0 750.0 665.1 746.0 667.0 741.6C668.9 737.2 669.8 730.0 670.2 727.6C670.6 725.2 671.3 725.6 669.6 727.3Z" fill="#8a8a8a" fill-opacity="0.12" stroke="#858585" stroke-opacity="0.35" stroke-width="0.7"/>
<path d="M659.1 752.4C661.2 754.9 667.1 762.9 672.1 766.7C677.1 770.6 684.1 772.4 689.2 775.6C694.3 778.8 698.9 782.1 702.8 786.0C706.8 789.9 709.7 794.3 713.0 798.9C716.4 803.5 719.5 808.6 722.9 813.5C726.2 818.5 729.9 823.6 733.2 828.7C736.4 833.8 737.8 839.8 742.4 844.1C747.0 848.4 757.6 852.9 760.7 854.5C763.8 856.2 762.4 856.8 761.1 854.1C759.8 851.4 755.8 844.0 753.1 838.5C750.5 833.0 748.2 826.6 745.3 821.0C742.4 815.4 739.2 810.3 735.8 804.9C732.5 799.6 729.3 794.0 725.2 788.7C721.2 783.5 716.8 777.6 711.7 773.2C706.7 768.9 700.6 765.3 695.0 762.5C689.5 759.6 684.2 758.1 678.3 756.3C672.4 754.6 662.6 752.5 659.5 751.9C656.3 751.2 657.0 749.9 659.1 752.4Z" fill="#8a8a8a" fill-opacity="0.15" stroke="#858585" stroke-opacity="0.39" stroke-width="0.7"/>
<path d="M671.1 728.2C670.6 729.9 668.8 735.2 668.4 738.0C668.0 740.8 668.1 742.4 668.8 745.0C669.4 747.7 670.7 751.3 672.5 754.1C674.3 756.9 677.5 759.8 679.7 762.0C681.9 764.2 683.5 765.7 686.0 767.4C688.4 769.0 691.2 770.9 694.4 771.9C697.5 772.9 701.6 773.6 704.7 773.4C707.8 773.2 711.7 771.3 713.2 770.8C714.6 770.3 714.3 772.0 713.4 770.3C712.5 768.6 709.5 762.5 707.7 760.5C705.9 758.5 704.3 759.4 702.6 758.4C700.9 757.4 699.2 756.2 697.4 754.7C695.6 753.2 693.5 750.8 691.9 749.4C690.3 748.0 689.0 747.6 687.7 746.2C686.4 744.9 685.3 743.4 684.1 741.2C682.9 739.0 682.7 735.0 680.6 732.8C678.5 730.6 673.3 728.8 671.7 728.0C670.1 727.2 671.7 726.5 671.1 728.2Z" fill="#8a8a8a" fill-opacity="0.13" stroke="#858585" stroke-opacity="0.43" stroke-width="0.7"/>
<path d="M723.3 772.8C720.3 772.7 711.0 773.1 705.4 772.8C699.8 772.4 694.8 772.1 689.8 770.7C684.9 769.3 680.5 766.8 675.7 764.5C670.8 762.2 665.9 759.4 660.7 757.0C655.5 754.6 649.4 752.7 644.3 750.3C639.2 747.8 634.1 745.5 629.9 742.3C625.8 739.1 624.3 734.1 619.5 731.1C614.7 728.2 604.3 725.8 601.2 724.8C598.1 723.8 599.1 723.1 600.8 725.3C602.6 727.5 607.7 733.3 611.5 738.0C615.3 742.6 619.0 749.0 623.6 753.1C628.2 757.2 633.9 760.0 639.1 762.7C644.3 765.4 649.4 767.0 654.7 769.4C660.0 771.8 665.1 774.8 670.9 777.1C676.7 779.4 683.0 782.2 689.2 783.2C695.4 784.1 702.5 784.5 708.2 782.8C714.0 781.2 721.1 775.0 723.6 773.3C726.1 771.7 726.4 772.9 723.3 772.8Z" fill="#8a8a8a" fill-opacity="0.07" stroke="#858585" stroke-opacity="0.21" stroke-width="0.7"/>
<path d="M702.7 689.2C702.8 691.5 701.9 698.6 703.5 702.7C705.2 706.8 710.4 710.4 712.5 713.8C714.6 717.3 714.5 720.1 716.0 723.6C717.6 727.2 719.8 731.3 721.7 735.1C723.6 738.9 725.6 742.6 727.7 746.2C729.9 749.9 731.6 753.7 734.6 757.0C737.7 760.4 742.1 763.8 746.2 766.1C750.3 768.3 756.8 769.7 759.0 770.3C761.3 771.0 760.4 772.0 759.4 769.9C758.5 767.8 755.5 761.0 753.3 757.8C751.0 754.6 748.0 753.5 745.8 750.5C743.6 747.5 742.0 743.4 740.1 739.7C738.2 736.1 736.3 732.3 734.5 728.6C732.6 725.0 730.9 721.7 728.7 717.8C726.6 713.8 724.4 708.1 721.8 704.8C719.2 701.5 716.4 700.6 713.3 698.0C710.2 695.3 705.0 690.4 703.2 688.9C701.5 687.5 702.7 686.9 702.7 689.2Z" fill="#8a8a8a" fill-opacity="0.15" stroke="#858585" stroke-opacity="0.46" stroke-width="0.7"/>
<path d="M712.4 898.9C712.4 897.2 712.6 891.8 711.9 888.6C711.3 885.4 709.7 882.6 708.3 879.7C706.8 876.8 705.1 873.8 703.1 871.1C701.1 868.4 698.2 865.9 696.3 863.4C694.4 860.9 693.0 858.7 691.9 856.2C690.8 853.8 690.2 851.2 689.9 848.6C689.5 846.0 690.8 843.5 689.9 840.6C688.9 837.7 685.0 832.6 683.9 831.1C682.9 829.5 683.7 829.7 683.4 831.2C683.0 832.7 682.2 836.8 681.8 840.1C681.3 843.4 680.3 847.3 680.5 850.9C680.8 854.5 681.7 858.4 683.1 861.6C684.4 864.9 686.6 868.0 688.5 870.6C690.4 873.1 692.6 874.6 694.5 876.8C696.3 879.1 698.0 881.5 699.7 884.0C701.4 886.5 702.5 889.4 704.5 891.9C706.6 894.4 710.5 897.8 711.8 899.0C713.1 900.1 712.3 900.6 712.4 898.9Z" fill="#8a8a8a" fill-opacity="0.11" stroke="#858585" stroke-opacity="0.40" stroke-width="0.7"/>
<path d="M646.5 811.6C646.5 814.2 646.0 822.4 647.4 827.4C648.9 832.3 653.5 837.0 655.3 841.5C657.1 846.1 657.0 850.0 658.0 854.6C658.9 859.3 660.1 864.4 661.1 869.2C662.0 874.1 662.3 878.9 663.8 883.8C665.3 888.7 668.4 894.0 669.9 898.8C671.5 903.6 672.3 907.9 673.3 912.5C674.3 917.2 675.5 924.3 676.1 926.7C676.7 929.1 675.6 929.4 676.7 926.8C677.7 924.1 681.8 916.2 682.4 910.8C683.0 905.5 681.4 899.7 680.3 894.9C679.1 890.0 676.8 886.4 675.5 881.7C674.3 877.0 674.0 871.6 673.0 866.6C672.0 861.5 670.9 856.8 669.5 851.6C668.1 846.5 666.8 840.1 664.6 835.5C662.4 831.0 659.1 828.3 656.2 824.3C653.3 820.3 648.7 813.7 647.1 811.5C645.5 809.4 646.4 809.0 646.5 811.6Z" fill="#8a8a8a" fill-opacity="0.14" stroke="#858585" stroke-opacity="0.38" stroke-width="0.7"/>
<path d="M700.4 795.0C700.0 792.4 698.5 784.6 696.9 779.8C695.3 774.9 693.5 770.3 690.6 766.0C687.8 761.7 683.4 757.5 679.7 753.7C676.1 749.8 671.6 746.8 668.7 743.0C665.8 739.2 664.2 735.3 662.3 731.1C660.3 726.9 658.5 722.4 656.8 717.8C655.0 713.3 653.2 708.6 651.6 704.0C650.0 699.3 648.0 692.4 647.2 690.1C646.3 687.8 647.1 687.4 646.6 690.1C646.0 692.8 643.6 701.2 643.8 706.4C644.0 711.6 646.2 716.4 647.7 721.3C649.2 726.3 650.8 731.3 653.1 736.2C655.4 741.1 658.1 746.6 661.3 750.7C664.5 754.9 668.7 757.6 672.1 760.9C675.6 764.2 679.1 766.7 682.0 770.5C684.9 774.2 686.6 779.4 689.6 783.5C692.6 787.6 698.1 793.3 699.9 795.2C701.7 797.1 700.9 797.5 700.4 795.0Z" fill="#8a8a8a" fill-opacity="0.14" stroke="#858585" stroke-opacity="0.46" stroke-width="0.7"/>
<path d="M645.5 718.0C646.4 714.8 649.9 705.4 650.5 699.1C651.1 692.8 649.9 686.2 649.1 679.9C648.2 673.5 646.5 667.1 645.2 660.9C643.8 654.7 641.7 648.6 640.9 642.7C640.0 636.8 639.9 631.3 640.1 625.6C640.3 619.9 641.6 614.5 642.0 608.5C642.5 602.4 643.5 595.8 642.7 589.5C641.9 583.1 638.2 573.4 637.2 570.2C636.1 567.0 637.6 567.2 636.6 570.2C635.5 573.2 632.1 582.3 630.6 588.3C629.2 594.4 628.7 600.1 627.7 606.5C626.7 612.8 624.9 619.6 624.5 626.3C624.1 633.0 624.4 640.1 625.4 646.5C626.3 652.9 628.4 658.6 630.0 664.5C631.5 670.4 633.3 676.0 634.7 681.8C636.1 687.7 636.7 693.6 638.4 699.6C640.1 705.6 643.7 714.9 644.9 718.0C646.0 721.1 644.5 721.1 645.5 718.0Z" fill="#8a8a8a" fill-opacity="0.08" stroke="#858585" stroke-opacity="0.32" stroke-width="0.7"/>
<path d="M668.6 826.0C669.7 826.3 673.1 827.9 675.1 827.3C677.2 826.7 679.3 823.5 680.9 822.4C682.5 821.3 683.5 821.1 684.9 820.6C686.3 820.1 687.7 819.7 689.2 819.4C690.7 819.1 692.5 818.8 693.9 818.9C695.2 819.0 695.3 820.1 697.1 820.2C698.9 820.3 702.6 820.5 704.7 819.3C706.7 818.0 708.7 814.0 709.5 812.8C710.2 811.7 710.1 812.6 709.2 812.3C708.3 812.1 705.5 811.5 704.0 811.4C702.5 811.2 702.1 811.8 700.2 811.4C698.4 811.0 695.1 809.2 692.7 808.9C690.3 808.6 688.2 809.1 686.0 809.6C683.8 810.1 681.5 810.9 679.5 812.0C677.5 813.1 675.0 815.0 673.8 816.3C672.6 817.6 673.1 818.5 672.2 820.0C671.2 821.6 668.7 824.6 668.1 825.6C667.5 826.6 667.4 825.7 668.6 826.0Z" fill="#8a8a8a" fill-opacity="0.16" stroke="#858585" stroke-opacity="0.19" stroke-width="0.7"/>
<path d="M689.3 915.7C689.1 915.1 687.8 913.7 687.3 913.1C686.7 912.4 686.8 912.0 686.0 911.5C685.3 911.0 683.8 910.5 682.7 910.2C681.7 909.9 680.3 910.0 679.5 909.8C678.7 909.6 678.8 909.2 677.9 909.1C677.1 908.9 675.4 908.9 674.4 908.9C673.4 908.8 672.9 908.5 672.0 908.8C671.0 909.2 669.4 910.6 668.9 911.1C668.5 911.6 668.7 911.4 669.0 911.7C669.4 912.1 670.4 912.8 671.3 913.1C672.1 913.5 673.3 913.8 674.0 914.0C674.8 914.1 675.0 913.9 675.8 914.2C676.7 914.4 678.2 915.2 679.1 915.4C680.0 915.6 680.5 915.4 681.2 915.5C681.8 915.5 682.2 915.3 683.0 915.6C683.8 915.9 685.0 917.1 686.0 917.2C687.0 917.3 688.5 916.4 689.0 916.2C689.6 915.9 689.6 916.2 689.3 915.7Z" fill="#8a8a8a" fill-opacity="0.12" stroke="#858585" stroke-opacity="0.36" stroke-width="0.7"/>
<path d="M680.3 708.2C679.9 707.2 678.3 704.3 677.3 702.5C676.3 700.7 675.4 699.1 674.4 697.4C673.4 695.7 671.8 693.9 671.3 692.2C670.8 690.5 671.3 689.0 671.3 687.2C671.3 685.4 671.3 683.3 671.4 681.4C671.6 679.4 672.4 677.6 672.1 675.6C671.9 673.5 671.0 670.8 670.1 668.8C669.2 666.8 667.4 664.3 666.7 663.4C666.1 662.6 666.2 662.5 666.1 663.6C666.1 664.7 666.1 668.0 666.4 669.9C666.7 671.8 667.7 673.0 667.7 674.9C667.7 676.8 666.9 679.1 666.6 681.2C666.4 683.3 666.3 685.3 666.4 687.6C666.5 689.8 666.5 692.7 667.3 694.8C668.0 696.8 669.4 698.2 670.7 699.9C671.9 701.6 673.0 703.7 674.5 705.1C676.0 706.5 678.8 707.8 679.8 708.3C680.7 708.8 680.8 709.1 680.3 708.2Z" fill="#8a8a8a" fill-opacity="0.08" stroke="#858585" stroke-opacity="0.29" stroke-width="0.7"/>
<path d="M736.4 791.3C735.3 791.4 731.9 791.2 730.1 792.2C728.3 793.3 726.9 796.1 725.4 797.6C723.9 799.0 722.6 800.1 721.2 800.7C719.7 801.4 718.1 801.6 716.5 801.6C715.0 801.6 713.4 801.1 711.8 800.7C710.1 800.4 708.0 800.0 706.4 799.4C704.7 798.7 703.8 797.2 701.9 796.8C700.0 796.4 696.1 796.7 694.9 796.8C693.7 796.9 694.0 796.8 694.8 797.4C695.5 798.0 697.6 799.5 699.3 800.7C701.0 801.9 702.9 803.7 704.8 804.6C706.8 805.6 708.7 806.1 710.9 806.6C713.1 807.0 715.7 807.6 718.0 807.4C720.3 807.2 723.0 806.4 724.9 805.3C726.9 804.1 728.6 802.2 729.9 800.8C731.1 799.3 731.1 797.9 732.2 796.4C733.3 794.9 735.9 792.8 736.6 791.9C737.3 791.1 737.5 791.3 736.4 791.3Z" fill="#8a8a8a" fill-opacity="0.15" stroke="#858585" stroke-opacity="0.29" stroke-width="0.7"/>
<path d="M660.0 841.8C660.0 840.5 660.3 836.3 659.4 833.9C658.5 831.6 656.3 829.7 654.8 827.7C653.3 825.8 651.4 824.1 650.4 822.4C649.4 820.7 648.9 819.0 648.8 817.4C648.6 815.8 650.0 815.1 649.7 812.9C649.4 810.8 648.2 807.0 647.0 804.5C645.9 802.0 644.8 799.7 642.9 797.9C641.1 796.1 637.3 794.3 636.0 793.7C634.8 793.0 635.5 792.7 635.5 794.0C635.5 795.3 635.6 799.3 636.0 801.5C636.5 803.7 637.6 805.5 638.2 807.2C638.9 809.0 639.6 809.7 639.8 812.0C639.9 814.3 638.8 818.5 639.4 821.3C639.9 824.2 641.6 827.0 643.0 829.1C644.5 831.2 646.4 832.5 648.0 834.0C649.6 835.5 650.9 836.7 652.8 838.0C654.7 839.3 658.2 841.3 659.4 841.9C660.6 842.5 660.0 843.1 660.0 841.8Z" fill="#8a8a8a" fill-opacity="0.13" stroke="#858585" stroke-opacity="0.24" stroke-width="0.7"/>
<path d="M704.1 691.5C705.1 691.4 708.1 690.8 709.6 690.4C711.1 690.1 711.8 689.9 713.1 689.4C714.4 688.9 715.9 688.7 717.3 687.6C718.7 686.4 720.4 684.3 721.6 682.7C722.7 681.1 723.6 679.9 724.1 678.0C724.5 676.1 724.4 673.2 724.3 671.3C724.2 669.4 723.7 667.9 723.3 666.5C723.0 665.0 722.3 663.3 722.0 662.6C721.7 661.9 722.4 661.7 721.4 662.4C720.5 663.1 717.2 665.4 716.3 666.9C715.4 668.4 716.0 670.1 716.0 671.3C715.9 672.4 716.4 672.8 716.2 673.7C715.9 674.7 714.8 676.2 714.2 677.2C713.7 678.1 713.9 678.8 713.0 679.6C712.2 680.5 710.5 681.1 709.1 682.1C707.7 683.1 705.4 684.0 704.5 685.5C703.6 687.0 703.7 690.1 703.6 691.1C703.6 692.1 703.1 691.6 704.1 691.5Z" fill="#8a8a8a" fill-opacity="0.17" stroke="#858585" stroke-opacity="0.20" stroke-width="0.7"/>
<path d="M716.9 885.2C715.7 885.5 712.1 887.2 710.1 887.8C708.1 888.4 706.5 888.9 704.8 888.9C703.0 888.8 701.9 887.7 699.9 887.7C697.8 887.7 694.6 887.9 692.2 888.8C689.8 889.8 687.3 892.4 685.3 893.4C683.3 894.3 682.1 894.2 680.3 894.6C678.4 895.1 676.1 895.8 674.2 896.2C672.2 896.5 669.5 896.6 668.5 896.8C667.5 897.0 667.2 896.5 668.3 897.4C669.4 898.3 672.8 901.5 675.1 902.2C677.4 902.9 679.6 902.0 682.0 901.6C684.5 901.2 687.8 900.5 689.8 899.7C691.7 898.9 692.1 897.3 693.7 896.6C695.2 895.9 696.7 895.5 699.0 895.4C701.2 895.2 704.7 896.1 707.2 895.6C709.7 895.1 712.6 893.9 714.3 892.2C715.9 890.6 716.7 886.9 717.1 885.8C717.5 884.6 718.1 884.9 716.9 885.2Z" fill="#8a8a8a" fill-opacity="0.08" stroke="#858585" stroke-opacity="0.23" stroke-width="0.7"/>
<path d="M714.6 740.3C715.7 740.7 719.2 741.5 721.1 742.2C723.0 742.9 724.6 743.5 726.1 744.5C727.7 745.5 728.7 746.9 730.4 748.1C732.1 749.2 734.4 750.3 736.2 751.5C738.0 752.6 739.4 753.8 741.1 754.9C742.9 756.1 744.6 757.6 746.9 758.2C749.1 758.9 752.1 759.4 754.5 758.8C756.8 758.3 759.8 755.7 760.9 754.9C761.9 754.2 761.7 754.5 760.7 754.3C759.7 754.2 756.7 754.2 754.9 754.1C753.1 753.9 751.5 754.1 749.8 753.4C748.1 752.8 746.4 751.3 744.7 750.0C742.9 748.8 741.0 747.2 739.3 746.1C737.5 744.9 735.8 744.3 734.0 743.2C732.1 742.0 730.1 740.1 727.9 739.2C725.8 738.2 723.1 737.3 720.9 737.4C718.7 737.5 715.6 739.2 714.6 739.7C713.5 740.2 713.6 739.9 714.6 740.3Z" fill="#8a8a8a" fill-opacity="0.06" stroke="#858585" stroke-opacity="0.38" stroke-width="0.7"/>
<path d="M694.4 709.6C695.0 710.6 697.1 713.4 698.2 715.0C699.3 716.6 699.8 717.6 700.7 719.1C701.6 720.6 702.0 722.3 703.5 723.8C704.9 725.3 708.2 726.9 709.5 728.2C710.8 729.6 710.8 730.5 711.2 731.9C711.6 733.2 711.4 734.4 711.8 736.2C712.3 737.9 713.3 740.4 714.2 742.2C715.0 744.0 716.3 746.4 716.9 747.2C717.4 748.0 716.9 748.3 717.5 747.2C718.1 746.1 720.0 742.4 720.4 740.4C720.7 738.4 719.7 737.2 719.4 735.1C719.1 733.0 719.2 730.1 718.3 727.7C717.5 725.4 715.5 722.6 714.1 721.2C712.8 719.7 711.6 720.4 710.3 719.2C709.0 718.0 708.0 715.7 706.5 714.1C705.0 712.4 703.2 710.1 701.2 709.3C699.3 708.5 695.8 709.1 694.7 709.1C693.5 709.2 693.8 708.6 694.4 709.6Z" fill="#8a8a8a" fill-opacity="0.07" stroke="#858585" stroke-opacity="0.22" stroke-width="0.7"/>
<path d="M671.3 813.3C670.3 813.2 667.2 813.0 665.4 813.5C663.5 814.0 661.9 815.0 660.3 816.3C658.8 817.5 657.4 819.6 656.2 821.3C655.1 822.9 654.4 825.1 653.4 826.2C652.4 827.3 651.3 826.7 650.1 827.9C648.9 829.1 647.1 831.4 646.3 833.4C645.6 835.5 645.4 838.1 645.7 840.2C646.0 842.3 647.5 844.9 648.0 845.8C648.5 846.8 648.1 846.7 648.6 845.8C649.1 845.0 650.5 842.3 651.0 840.8C651.5 839.3 651.1 838.1 651.5 836.9C652.0 835.8 652.4 834.8 653.8 833.6C655.1 832.4 658.1 830.9 659.4 829.5C660.8 828.1 661.0 826.5 661.7 825.2C662.4 823.8 662.8 822.6 663.8 821.5C664.8 820.3 666.4 819.6 667.7 818.3C668.9 817.1 670.7 814.7 671.3 813.9C671.9 813.1 672.3 813.4 671.3 813.3Z" fill="#8a8a8a" fill-opacity="0.07" stroke="#858585" stroke-opacity="0.38" stroke-width="0.7"/>
<path d="M712.3 795.3C711.7 794.6 709.3 792.7 708.5 791.8C707.7 791.0 707.7 790.7 707.4 790.2C707.2 789.6 707.6 789.2 706.9 788.5C706.1 787.8 704.2 786.6 703.1 785.9C702.1 785.2 701.7 784.7 700.4 784.2C699.0 783.8 696.3 783.4 695.2 783.2C694.0 782.9 694.2 782.6 693.3 782.6C692.3 782.6 690.2 783.0 689.5 783.2C688.8 783.4 689.0 782.5 689.0 783.6C689.0 784.6 688.5 788.1 689.3 789.6C690.0 791.0 692.3 791.9 693.3 792.5C694.2 793.0 694.0 792.4 694.7 792.8C695.4 793.2 696.8 794.3 697.6 794.8C698.4 795.3 698.6 795.1 699.7 795.8C700.7 796.5 702.3 798.3 703.9 799.0C705.5 799.6 707.8 800.3 709.1 799.8C710.5 799.3 711.6 796.6 712.1 795.9C712.6 795.1 712.9 796.0 712.3 795.3Z" fill="#8a8a8a" fill-opacity="0.07" stroke="#858585" stroke-opacity="0.41" stroke-width="0.7"/>
<path d="M644.1 876.9C644.8 877.5 646.9 879.0 647.9 879.7C648.8 880.4 649.4 880.5 650.0 880.9C650.6 881.4 651.2 881.9 651.7 882.4C652.2 882.9 652.4 883.4 652.9 884.1C653.3 884.7 653.8 885.5 654.4 886.3C655.0 887.1 655.8 888.0 656.5 888.9C657.2 889.7 657.7 890.7 658.7 891.3C659.7 892.0 661.6 892.6 662.4 892.9C663.1 893.1 662.5 893.6 662.9 892.7C663.3 891.9 664.6 889.1 664.7 887.7C664.7 886.3 663.9 885.4 663.4 884.3C662.9 883.3 662.4 882.4 661.7 881.3C661.1 880.2 660.4 878.9 659.4 877.8C658.5 876.7 657.2 875.4 655.9 874.6C654.6 873.7 653.1 873.1 651.6 872.8C650.1 872.5 648.3 872.2 647.1 872.8C645.8 873.3 644.5 875.6 644.0 876.3C643.5 877.0 643.5 876.3 644.1 876.9Z" fill="#8a8a8a" fill-opacity="0.13" stroke="#858585" stroke-opacity="0.38" stroke-width="0.7"/>
<path d="M665.3 737.6C664.4 737.2 661.9 735.4 660.3 735.7C658.8 736.0 656.9 738.8 655.9 739.4C654.8 740.0 654.9 738.8 653.9 739.5C652.9 740.1 650.8 742.2 649.7 743.1C648.7 744.1 648.2 744.5 647.4 745.0C646.6 745.5 646.1 745.5 645.1 746.2C644.1 747.0 642.1 748.0 641.5 749.6C641.0 751.2 641.7 755.0 641.9 756.1C642.0 757.2 641.7 756.4 642.4 756.4C643.1 756.4 645.2 756.3 646.3 756.1C647.3 755.9 647.6 755.5 648.9 755.0C650.1 754.5 652.2 754.0 653.6 753.2C655.0 752.5 656.5 751.2 657.3 750.5C658.1 749.7 657.4 749.5 658.5 748.7C659.5 747.8 662.5 746.3 663.3 745.3C664.2 744.4 663.2 744.3 663.6 743.1C664.0 741.9 665.3 739.0 665.6 738.1C665.9 737.2 666.2 738.0 665.3 737.6Z" fill="#8a8a8a" fill-opacity="0.16" stroke="#858585" stroke-opacity="0.29" stroke-width="0.7"/>
<path d="M661.0 788.6C660.9 787.9 660.7 785.9 660.5 784.8C660.3 783.8 660.2 783.3 659.5 782.4C658.9 781.5 657.8 780.3 656.8 779.5C655.9 778.6 654.9 778.0 653.9 777.4C652.9 776.8 651.9 776.3 650.8 775.9C649.6 775.5 648.2 775.2 647.1 775.1C645.9 774.9 644.9 774.5 643.7 774.9C642.6 775.3 640.7 777.1 640.1 777.7C639.6 778.2 639.8 777.9 640.2 778.3C640.7 778.6 641.9 779.5 642.8 779.9C643.7 780.3 644.7 780.6 645.6 780.9C646.4 781.2 647.1 781.3 647.9 781.6C648.6 782.0 649.5 782.5 650.3 782.9C651.1 783.3 651.8 783.8 652.5 784.3C653.2 784.7 653.7 784.8 654.4 785.5C655.2 786.2 655.8 787.7 656.8 788.3C657.8 788.9 659.9 789.0 660.6 789.1C661.3 789.1 661.0 789.3 661.0 788.6Z" fill="#8a8a8a" fill-opacity="0.15" stroke="#858585" stroke-opacity="0.33" stroke-width="0.7"/>
<path d="M687.7 669.9C686.6 670.5 683.5 672.4 681.8 673.5C680.2 674.6 679.1 675.6 677.6 676.6C676.1 677.5 674.5 678.1 672.9 679.1C671.3 680.1 669.4 681.5 667.7 682.3C666.1 683.2 664.6 683.5 662.9 684.3C661.2 685.0 659.2 685.7 657.4 686.8C655.6 687.9 653.5 689.6 651.9 690.7C650.3 691.9 648.3 693.1 647.6 693.7C646.9 694.3 646.3 693.8 647.6 694.3C648.9 694.8 653.3 696.6 655.4 696.7C657.6 696.7 658.6 695.1 660.4 694.4C662.2 693.7 664.1 693.2 666.2 692.4C668.2 691.7 670.7 690.9 672.6 689.9C674.6 688.9 675.9 687.7 677.7 686.5C679.4 685.3 681.6 684.0 683.2 682.5C684.9 680.9 686.9 679.1 687.7 677.1C688.6 675.1 688.2 671.5 688.2 670.3C688.2 669.1 688.7 669.4 687.7 669.9Z" fill="#8a8a8a" fill-opacity="0.10" stroke="#858585" stroke-opacity="0.16" stroke-width="0.7"/>
<path d="M689.8 737.8C691.2 737.7 695.5 738.2 697.7 736.8C699.9 735.4 701.5 731.6 703.2 729.6C704.9 727.7 706.4 727.1 707.8 725.0C709.2 722.9 710.4 719.5 711.6 717.1C712.7 714.8 713.5 712.6 714.7 710.8C715.9 709.1 717.6 708.8 718.8 706.7C719.9 704.5 720.9 700.5 721.7 698.0C722.6 695.6 723.6 693.1 723.9 692.0C724.2 691.0 725.0 691.0 723.5 691.6C722.0 692.1 716.7 694.0 714.8 695.4C713.0 696.9 714.1 698.6 712.7 700.5C711.3 702.3 708.0 704.4 706.3 706.5C704.7 708.7 703.7 711.2 702.8 713.3C701.8 715.3 701.9 716.8 700.7 718.8C699.5 720.8 696.9 723.2 695.7 725.2C694.5 727.2 694.8 728.6 693.7 730.6C692.7 732.6 690.0 736.2 689.3 737.4C688.7 738.6 688.4 737.9 689.8 737.8Z" fill="#8a8a8a" fill-opacity="0.11" stroke="#858585" stroke-opacity="0.30" stroke-width="0.7"/>
<path d="M674.6 903.7C675.3 904.4 677.3 906.9 679.1 907.4C680.9 907.8 683.4 907.0 685.3 906.2C687.2 905.5 689.3 903.3 690.6 902.7C692.0 902.0 692.2 903.0 693.5 902.4C694.9 901.8 697.5 899.8 698.9 899.0C700.4 898.1 701.1 897.9 702.3 897.5C703.5 897.0 704.8 897.6 706.1 896.4C707.3 895.2 709.3 891.5 709.9 890.4C710.4 889.3 710.3 890.1 709.5 889.9C708.7 889.7 706.8 889.2 705.1 889.1C703.4 889.0 701.2 888.9 699.3 889.2C697.4 889.6 695.0 890.5 693.6 891.1C692.3 891.8 692.5 892.4 691.0 893.1C689.5 893.8 686.0 894.6 684.6 895.4C683.2 896.2 683.3 897.2 682.5 898.0C681.6 898.7 680.9 899.1 679.6 900.0C678.2 900.8 675.3 902.5 674.4 903.1C673.6 903.7 673.8 902.9 674.6 903.7Z" fill="#8a8a8a" fill-opacity="0.12" stroke="#858585" stroke-opacity="0.29" stroke-width="0.7"/>
<path d="M721.0 761.4C722.1 761.4 725.3 761.6 727.1 761.1C728.9 760.6 730.4 759.4 732.0 758.3C733.5 757.3 735.0 756.2 736.5 754.9C737.9 753.6 739.4 752.2 740.5 750.4C741.6 748.6 742.2 745.8 743.1 744.3C744.0 742.8 744.7 742.6 745.8 741.5C746.8 740.4 748.1 739.0 749.1 737.7C750.2 736.5 751.7 734.7 752.2 734.0C752.7 733.3 753.3 733.7 752.0 733.5C750.8 733.3 746.8 732.4 744.9 732.9C742.9 733.3 741.8 734.8 740.2 736.2C738.6 737.6 736.5 739.7 735.5 741.2C734.5 742.6 734.8 743.7 734.0 745.0C733.3 746.2 732.2 747.4 731.1 748.6C730.0 749.8 728.7 751.0 727.5 752.1C726.2 753.3 724.8 754.2 723.7 755.6C722.5 757.1 721.0 760.0 720.6 761.0C720.2 761.9 720.0 761.4 721.0 761.4Z" fill="#8a8a8a" fill-opacity="0.14" stroke="#858585" stroke-opacity="0.31" stroke-width="0.7"/>
<path d="M693.7 909.4C694.5 910.0 696.8 912.3 698.7 912.8C700.6 913.4 703.4 912.5 705.1 912.8C706.8 913.2 707.2 914.6 709.0 915.0C710.8 915.3 713.9 914.6 715.8 914.8C717.7 914.9 719.2 915.2 720.5 915.9C721.8 916.6 722.5 917.7 723.6 918.9C724.7 920.0 726.0 921.4 727.0 922.7C727.9 924.1 728.8 926.3 729.3 927.0C729.8 927.7 729.8 928.1 729.9 926.9C730.1 925.8 730.9 922.1 730.4 920.2C729.9 918.2 728.4 916.7 726.9 915.1C725.5 913.5 723.6 911.6 721.7 910.7C719.8 909.7 717.2 909.4 715.4 909.3C713.6 909.2 712.9 910.2 711.1 910.0C709.3 909.7 706.5 908.0 704.7 907.8C702.8 907.6 701.7 908.5 699.9 908.7C698.2 908.9 695.2 908.8 694.1 909.0C693.1 909.1 693.0 908.7 693.7 909.4Z" fill="#8a8a8a" fill-opacity="0.14" stroke="#858585" stroke-opacity="0.32" stroke-width="0.7"/>
<path d="M694.5 652.6C695.6 653.4 698.9 655.7 700.9 656.7C702.8 657.8 704.0 658.7 706.3 659.0C708.5 659.4 712.1 658.8 714.5 658.9C716.8 658.9 717.9 659.7 720.2 659.3C722.6 658.8 726.4 656.7 728.5 656.2C730.5 655.8 731.0 656.5 732.7 656.7C734.3 656.9 736.1 658.0 738.3 657.5C740.5 657.0 744.6 654.5 745.8 653.8C747.1 653.1 746.7 653.9 745.8 653.2C744.9 652.6 742.4 650.8 740.3 649.8C738.2 648.8 736.0 647.8 733.3 647.3C730.7 646.8 726.6 646.6 724.5 646.9C722.4 647.1 722.5 648.6 720.7 648.9C718.9 649.2 715.5 648.6 713.5 648.7C711.5 648.9 710.7 649.9 708.7 649.9C706.7 649.9 703.8 648.4 701.4 648.8C699.1 649.2 695.9 651.4 694.8 652.0C693.6 652.7 693.5 651.8 694.5 652.6Z" fill="#8a8a8a" fill-opacity="0.08" stroke="#858585" stroke-opacity="0.28" stroke-width="0.7"/>
<path d="M705.2 675.3C705.8 674.6 707.4 672.2 708.2 671.3C709.0 670.4 709.4 670.1 710.0 669.7C710.7 669.2 711.2 669.7 712.0 668.8C712.8 667.8 714.1 665.4 714.8 664.0C715.5 662.6 715.8 661.4 716.3 660.4C716.8 659.3 717.5 659.2 717.9 657.8C718.2 656.4 719.2 653.8 718.5 652.1C717.9 650.5 714.9 648.5 714.1 647.9C713.2 647.2 713.9 647.5 713.5 648.0C713.1 648.6 711.9 650.2 711.5 651.0C711.1 651.8 711.6 652.0 711.0 652.9C710.4 653.9 708.8 655.4 708.1 656.6C707.3 657.8 706.8 659.1 706.4 660.0C706.1 660.9 706.6 661.0 705.9 662.1C705.2 663.2 703.1 664.8 702.3 666.4C701.5 668.0 700.7 670.3 701.1 671.8C701.5 673.3 704.0 674.9 704.6 675.5C705.3 676.1 704.6 676.0 705.2 675.3Z" fill="#8a8a8a" fill-opacity="0.14" stroke="#858585" stroke-opacity="0.21" stroke-width="0.7"/>
<path d="M723.7 893.9C722.8 894.4 720.1 895.7 719.1 897.3C718.2 899.0 718.5 901.9 718.1 903.7C717.6 905.5 717.2 906.9 716.5 908.0C715.8 909.2 714.7 909.9 713.7 910.5C712.6 911.1 711.3 911.4 710.1 911.5C708.9 911.5 707.8 911.2 706.5 910.8C705.3 910.4 703.9 909.8 702.5 909.2C701.1 908.6 699.0 907.6 698.3 907.3C697.5 907.1 697.5 906.6 697.8 907.7C698.1 908.8 698.9 912.5 700.2 914.0C701.5 915.6 703.6 916.4 705.7 917.0C707.7 917.7 710.3 918.1 712.5 917.8C714.7 917.5 717.0 916.5 718.8 915.1C720.6 913.8 722.1 911.7 723.0 909.8C724.0 908.0 724.2 905.7 724.3 904.0C724.5 902.4 723.8 901.5 723.8 899.9C723.8 898.2 724.3 895.0 724.3 894.0C724.3 893.0 724.6 893.3 723.7 893.9Z" fill="#8a8a8a" fill-opacity="0.09" stroke="#858585" stroke-opacity="0.36" stroke-width="0.7"/>
<path d="M660.6 712.4C660.6 711.5 661.0 709.1 660.4 707.6C659.8 706.2 658.2 704.8 657.0 703.6C655.7 702.4 654.0 701.6 653.1 700.6C652.2 699.6 652.3 698.7 651.4 697.5C650.6 696.4 648.9 695.1 647.9 693.9C647.0 692.8 646.6 691.8 645.8 690.6C645.0 689.5 644.0 688.2 643.2 687.0C642.5 685.8 641.8 684.1 641.3 683.5C640.9 683.0 641.0 682.6 640.7 683.6C640.5 684.5 639.4 687.5 639.6 689.1C639.7 690.7 640.8 691.8 641.5 693.2C642.3 694.7 643.2 696.4 644.1 697.7C644.9 698.9 645.8 699.3 646.8 700.5C647.8 701.7 648.9 703.9 650.0 705.0C651.1 706.1 652.4 706.5 653.5 707.2C654.6 708.0 655.4 708.5 656.6 709.5C657.7 710.4 659.6 712.3 660.2 712.8C660.9 713.3 660.6 713.2 660.6 712.4Z" fill="#8a8a8a" fill-opacity="0.11" stroke="#858585" stroke-opacity="0.24" stroke-width="0.7"/>
<path d="M736.9 780.1C736.4 780.6 734.6 782.1 734.2 783.1C733.8 784.2 734.4 785.5 734.4 786.5C734.5 787.5 734.6 788.4 734.5 788.9C734.4 789.4 734.0 789.0 733.7 789.5C733.4 790.0 733.0 790.9 732.9 792.0C732.7 793.1 732.9 795.1 732.8 796.0C732.8 797.0 732.3 796.7 732.7 797.5C733.0 798.4 734.4 800.7 734.8 801.4C735.3 802.0 734.7 801.7 735.4 801.5C736.1 801.3 738.0 800.8 738.8 800.0C739.7 799.1 740.4 797.2 740.7 796.3C741.0 795.5 740.7 795.5 740.9 794.8C741.1 794.2 741.6 793.4 741.9 792.2C742.2 791.0 742.8 788.8 742.8 787.5C742.8 786.3 742.3 785.3 742.0 784.5C741.7 783.6 741.6 783.2 740.8 782.5C740.1 781.8 738.2 780.5 737.5 780.1C736.9 779.7 737.5 779.6 736.9 780.1Z" fill="#8a8a8a" fill-opacity="0.13" stroke="#858585" stroke-opacity="0.33" stroke-width="0.7"/>
<path d="M643.8 660.2C644.5 659.4 646.3 656.8 647.3 655.6C648.3 654.3 649.0 654.2 649.7 652.8C650.4 651.5 651.1 649.4 651.6 647.6C652.1 645.9 652.2 643.8 652.7 642.4C653.1 640.9 653.8 640.5 654.2 638.8C654.5 637.2 654.5 634.4 654.6 632.6C654.6 630.7 655.2 629.4 654.4 627.8C653.5 626.1 650.5 623.5 649.6 622.7C648.8 621.9 649.4 622.2 649.1 622.9C648.7 623.7 647.8 625.6 647.4 627.1C646.9 628.6 646.5 630.6 646.3 631.9C646.0 633.3 646.4 633.9 645.9 635.4C645.5 636.8 644.1 639.2 643.6 640.8C643.2 642.4 643.3 643.7 643.0 645.1C642.8 646.5 642.7 647.5 642.2 649.2C641.8 650.8 640.1 653.3 640.3 655.1C640.5 657.0 642.6 659.4 643.2 660.2C643.8 661.1 643.1 660.9 643.8 660.2Z" fill="#8a8a8a" fill-opacity="0.09" stroke="#858585" stroke-opacity="0.22" stroke-width="0.7"/>
<path d="M691.6 884.2C691.3 883.2 690.2 880.1 689.1 878.8C687.9 877.5 686.7 876.7 684.9 876.3C683.0 875.8 680.0 876.0 678.0 876.0C676.1 876.1 675.1 875.9 673.4 876.5C671.6 877.1 669.1 878.8 667.5 879.5C666.0 880.3 665.2 880.7 664.2 881.1C663.1 881.4 662.6 880.7 661.3 881.4C660.0 882.2 657.4 884.8 656.6 885.6C655.9 886.4 656.0 885.6 656.7 886.2C657.5 886.8 659.3 888.7 661.1 889.4C662.9 890.0 665.5 890.1 667.4 889.9C669.3 889.8 671.4 888.9 672.6 888.3C673.8 887.8 673.6 887.2 674.7 886.8C675.7 886.4 677.9 886.4 679.0 886.1C680.1 885.8 680.2 885.0 681.3 885.0C682.4 885.0 683.9 886.0 685.5 885.9C687.2 885.9 690.2 884.9 691.2 884.6C692.2 884.3 692.0 885.1 691.6 884.2Z" fill="#8a8a8a" fill-opacity="0.12" stroke="#858585" stroke-opacity="0.27" stroke-width="0.7"/>
<path d="M700.7 891.1C701.6 890.2 704.6 887.9 705.7 885.7C706.7 883.5 706.2 880.0 706.9 877.9C707.7 875.8 708.8 874.4 710.1 873.0C711.3 871.7 713.0 871.2 714.7 869.8C716.3 868.3 718.1 865.8 719.8 864.2C721.4 862.6 723.1 861.6 724.7 860.1C726.4 858.5 728.5 857.0 729.9 854.9C731.2 852.9 732.4 848.9 732.8 847.6C733.2 846.4 733.4 846.7 732.3 847.3C731.2 847.8 728.1 849.4 726.2 850.7C724.2 852.0 722.6 853.4 720.6 854.8C718.7 856.3 716.3 857.8 714.5 859.3C712.8 860.9 711.8 862.4 710.0 864.1C708.2 865.8 705.3 867.5 703.7 869.7C702.1 871.9 700.9 875.0 700.3 877.3C699.8 879.7 700.5 881.3 700.4 883.6C700.4 885.9 700.1 889.9 700.1 891.2C700.2 892.4 699.8 892.1 700.7 891.1Z" fill="#8a8a8a" fill-opacity="0.17" stroke="#858585" stroke-opacity="0.25" stroke-width="0.7"/>
<path d="M636.2 895.5C635.8 896.2 634.2 898.2 634.1 899.4C634.1 900.6 635.4 901.8 635.9 902.7C636.3 903.6 636.1 904.0 636.9 904.8C637.7 905.5 639.9 906.9 640.5 907.5C641.1 908.0 640.5 907.8 640.7 908.2C640.9 908.5 641.4 909.2 641.6 909.5C641.8 909.8 641.4 909.6 641.8 910.1C642.3 910.6 643.7 912.0 644.2 912.4C644.7 912.8 643.9 913.0 644.8 912.7C645.6 912.3 648.5 911.5 649.4 910.3C650.2 909.2 649.9 907.1 649.7 905.7C649.6 904.4 649.1 903.5 648.4 902.4C647.7 901.3 646.2 899.5 645.5 899.0C644.9 898.4 645.2 899.4 644.7 899.0C644.2 898.7 643.3 897.4 642.7 896.9C642.1 896.5 642.0 896.6 641.0 896.3C640.1 896.1 637.6 895.6 636.8 895.4C636.0 895.3 636.7 894.9 636.2 895.5Z" fill="#8a8a8a" fill-opacity="0.16" stroke="#858585" stroke-opacity="0.24" stroke-width="0.7"/>
<path d="M738.4 760.7C739.0 761.1 740.6 762.0 741.6 762.2C742.6 762.4 743.6 761.8 744.4 761.8C745.1 761.9 745.0 762.4 745.9 762.3C746.8 762.3 748.6 761.8 749.5 761.7C750.4 761.6 750.6 761.8 751.5 761.6C752.3 761.5 753.9 760.9 754.6 760.8C755.3 760.7 755.1 761.2 755.8 761.0C756.5 760.8 758.5 759.9 759.0 759.6C759.6 759.2 759.5 759.6 759.2 759.0C758.9 758.4 758.3 756.6 757.3 755.9C756.4 755.2 754.4 754.8 753.4 754.6C752.4 754.4 752.2 754.7 751.2 754.8C750.3 754.9 748.7 754.8 747.8 754.9C747.0 755.0 747.1 755.4 746.2 755.5C745.3 755.7 743.4 755.5 742.4 755.8C741.4 756.1 740.7 756.4 740.0 757.1C739.3 757.8 738.4 759.6 738.1 760.2C737.9 760.8 737.8 760.4 738.4 760.7Z" fill="#8a8a8a" fill-opacity="0.15" stroke="#858585" stroke-opacity="0.33" stroke-width="0.7"/>
<path d="M713.5 845.1C713.1 844.0 711.6 840.9 710.6 839.1C709.6 837.3 709.3 835.8 707.7 834.3C706.1 832.9 702.9 831.6 701.0 830.4C699.1 829.2 697.5 828.3 696.5 827.1C695.5 825.9 695.4 824.6 694.9 823.0C694.4 821.5 693.9 819.7 693.3 817.8C692.8 816.0 693.0 813.9 691.7 812.1C690.5 810.3 686.8 808.0 685.8 807.3C684.7 806.5 685.2 806.6 685.3 807.6C685.3 808.6 685.7 811.2 686.0 813.2C686.2 815.2 686.3 817.4 686.6 819.6C687.0 821.8 687.3 824.1 688.2 826.4C689.1 828.6 690.6 831.5 692.1 833.3C693.7 835.1 696.1 836.3 697.8 837.1C699.5 838.0 700.7 837.5 702.2 838.5C703.7 839.6 705.0 842.4 706.8 843.6C708.7 844.7 712.2 845.4 713.3 845.6C714.4 845.9 714.0 846.2 713.5 845.1Z" fill="#8a8a8a" fill-opacity="0.11" stroke="#858585" stroke-opacity="0.20" stroke-width="0.7"/>
</g>
<path d="M651.8 627.4C656.8 627.0 662.4 627.7 667.7 630.1C673.0 632.5 678.3 637.6 683.6 642.0C688.9 646.4 694.2 652.1 699.5 656.4C704.8 660.6 711.4 663.3 715.4 667.5C719.4 671.7 721.8 677.0 723.4 681.8C725.0 686.6 723.1 692.1 725.0 696.1C726.9 700.1 731.1 702.2 734.5 705.7C737.9 709.2 742.7 712.0 745.6 716.8C748.5 721.6 750.4 727.4 752.0 734.3C753.6 741.2 754.4 748.8 755.2 758.1C756.0 767.4 757.0 782.3 756.8 790.0C756.6 797.7 755.3 799.9 754.0 804.5C752.7 809.1 750.5 812.7 749.1 817.6C747.7 822.5 746.9 829.4 745.8 834.0C744.7 838.6 744.0 842.1 742.6 845.4C741.2 848.6 738.5 849.1 737.7 853.5C736.9 857.9 738.5 865.2 737.7 871.5C736.9 877.8 735.0 885.5 732.8 891.0C730.6 896.5 727.3 900.1 724.6 904.2C721.9 908.3 719.1 911.8 716.4 915.6C713.7 919.4 711.2 923.4 708.2 927.0C705.2 930.6 702.8 933.7 698.4 937.0C694.0 940.3 687.4 944.0 682.0 946.7C676.6 949.4 671.2 951.4 665.8 953.2C660.4 955.0 653.8 957.3 649.4 957.3C645.0 957.3 641.9 955.5 639.6 953.2C637.3 950.9 636.6 952.3 635.5 943.4C634.4 934.5 633.6 915.6 633.0 900.0C632.4 884.4 632.2 866.7 632.0 850.0C631.8 833.3 631.6 825.0 631.5 800.0C631.4 775.0 631.2 725.0 631.1 700.0C631.0 675.0 630.8 660.0 631.1 650.0C631.4 640.0 631.9 642.9 633.0 640.0C634.1 637.1 634.4 634.6 637.5 632.5C640.6 630.4 646.8 627.8 651.8 627.4Z" fill="none" stroke="#c8c8c8" stroke-width="0.9"/>
<rect x="624.5" y="752" width="7" height="170" fill="#ededed" stroke="#cfcfcf" stroke-width="0.8"/>
<path d="M969.8 627.0C976.2 626.5 981.3 628.6 985.2 630.8C989.1 633.0 991.3 636.7 993.0 640.1C994.7 643.5 995.0 644.0 995.3 651.0C995.5 658.0 994.9 671.6 994.5 681.9C994.1 692.2 993.1 702.6 993.0 712.9C992.9 723.2 993.3 733.5 993.7 743.8C994.1 754.1 994.9 762.1 995.3 774.8C995.7 787.5 996.0 802.0 996.0 820.0C996.0 838.0 995.5 868.9 995.3 882.9C995.0 896.9 996.2 900.1 994.5 903.8C992.8 907.5 989.4 905.2 985.3 905.3C981.2 905.4 974.4 905.1 969.8 904.5C965.1 903.9 960.2 902.4 957.4 901.4C954.5 900.4 953.7 896.2 952.7 898.3C951.7 900.4 952.5 909.9 951.2 913.8C949.9 917.7 946.3 918.5 945.0 921.6C943.7 924.7 945.0 928.5 943.5 932.4C942.0 936.3 939.6 941.4 935.7 944.8C931.8 948.1 925.9 950.8 920.2 952.5C914.5 954.2 907.6 955.3 901.7 954.8C895.8 954.3 890.5 952.1 884.6 949.4C878.7 946.7 871.2 942.5 866.1 938.6C861.0 934.7 856.3 930.9 853.7 926.2C851.1 921.6 852.7 915.9 850.6 910.7C848.5 905.5 844.1 899.8 841.3 895.2C838.5 890.6 835.5 887.0 833.6 882.9C831.7 878.8 831.0 875.1 829.7 870.5C828.4 865.9 826.2 859.9 825.8 855.0C825.4 850.1 827.4 848.8 827.4 841.1C827.4 833.4 825.5 817.1 825.8 808.6C826.0 800.1 827.9 796.9 828.9 790.0C829.9 783.1 831.0 774.7 832.0 767.0C833.0 759.3 833.8 750.8 835.1 743.8C836.4 736.8 838.0 730.9 839.8 725.2C841.6 719.5 843.2 715.2 846.0 709.8C848.8 704.4 852.9 698.1 856.8 692.7C860.7 687.3 864.6 682.2 869.2 677.3C873.8 672.4 879.2 667.4 884.6 663.3C890.0 659.2 895.2 656.1 901.7 652.5C908.2 648.9 915.8 644.8 923.3 641.7C930.8 638.6 938.8 636.4 946.5 633.9C954.2 631.4 963.3 627.5 969.8 627.0Z" fill="#e6e6e6"/>
<g clip-path="url(#cb2l)">
<path d="M849.0 699.0C855.7 687.8 866.8 678.3 878.0 670.0C889.2 661.7 903.3 654.0 916.0 649.0C928.7 644.0 942.7 641.0 954.0 640.0C965.3 639.0 977.7 636.7 984.0 643.0C990.3 649.3 990.7 657.5 992.0 678.0C993.3 698.5 992.0 736.7 992.0 766.0C992.0 795.3 993.3 834.5 992.0 854.0C990.7 873.5 990.8 876.2 984.0 883.0C977.2 889.8 962.3 892.2 951.0 895.0C939.7 897.8 925.7 902.0 916.0 900.0C906.3 898.0 901.7 890.7 893.0 883.0C884.3 875.3 873.2 863.7 864.0 854.0C854.8 844.3 843.3 837.2 838.0 825.0C832.7 812.8 832.0 795.7 832.0 781.0C832.0 766.3 835.2 750.7 838.0 737.0C840.8 723.3 842.3 710.2 849.0 699.0Z" fill="#9a9a9a" opacity="0.28" filter="url(#blur2)"/>
<ellipse cx="928" cy="870" rx="15" ry="28" fill="#555" opacity="0.45" filter="url(#blur3)"/>
<ellipse cx="930" cy="790" rx="22" ry="55" fill="#fff" opacity="0.6" filter="url(#blur3)"/>
<ellipse cx="982" cy="760" rx="10" ry="90" fill="#fff" opacity="0.35" filter="url(#blur3)"/>
<ellipse cx="905" cy="935" rx="35" ry="16" fill="#fff" opacity="0.45" filter="url(#blur3)"/>
<ellipse cx="850" cy="830" rx="14" ry="30" fill="#fff" opacity="0.35" filter="url(#blur3)"/>
<ellipse cx="970" cy="880" rx="18" ry="10" fill="#fff" opacity="0.4" filter="url(#blur3)"/>
<ellipse cx="880" cy="740" rx="25" ry="30" fill="#666" opacity="0.2" filter="url(#blur3)"/>
<ellipse cx="953.9" cy="854.5" rx="9.8" ry="12.0" fill="#fff" opacity="0.49" filter="url(#blur1)"/>
<ellipse cx="973.0" cy="827.0" rx="7.1" ry="10.5" fill="#fff" opacity="0.50" filter="url(#blur1)"/>
<ellipse cx="917.0" cy="697.5" rx="11.6" ry="7.5" fill="#fff" opacity="0.43" filter="url(#blur1)"/>
<ellipse cx="866.6" cy="714.5" rx="7.4" ry="12.0" fill="#fff" opacity="0.58" filter="url(#blur1)"/>
<ellipse cx="831.0" cy="815.6" rx="6.6" ry="11.1" fill="#fff" opacity="0.47" filter="url(#blur1)"/>
<ellipse cx="917.5" cy="876.7" rx="12.2" ry="11.5" fill="#fff" opacity="0.42" filter="url(#blur1)"/>
<ellipse cx="841.9" cy="818.3" rx="10.3" ry="13.1" fill="#fff" opacity="0.67" filter="url(#blur1)"/>
<ellipse cx="857.7" cy="761.8" rx="11.7" ry="9.3" fill="#fff" opacity="0.71" filter="url(#blur1)"/>
<ellipse cx="911.9" cy="709.5" rx="10.7" ry="8.6" fill="#fff" opacity="0.59" filter="url(#blur1)"/>
<ellipse cx="884.1" cy="689.9" rx="10.7" ry="12.2" fill="#fff" opacity="0.51" filter="url(#blur1)"/>
<ellipse cx="926.7" cy="814.0" rx="10.2" ry="6.0" fill="#fff" opacity="0.46" filter="url(#blur1)"/>
<ellipse cx="974.5" cy="794.7" rx="12.3" ry="13.6" fill="#fff" opacity="0.32" filter="url(#blur1)"/>
<ellipse cx="949.7" cy="787.3" rx="6.0" ry="7.8" fill="#fff" opacity="0.51" filter="url(#blur1)"/>
<ellipse cx="904.3" cy="912.4" rx="8.8" ry="12.3" fill="#fff" opacity="0.47" filter="url(#blur1)"/>
<ellipse cx="853.3" cy="895.0" rx="6.9" ry="8.7" fill="#fff" opacity="0.67" filter="url(#blur1)"/>
<ellipse cx="883.8" cy="727.0" rx="11.5" ry="6.4" fill="#fff" opacity="0.55" filter="url(#blur1)"/>
<ellipse cx="954.6" cy="705.0" rx="13.9" ry="11.4" fill="#fff" opacity="0.55" filter="url(#blur1)"/>
<ellipse cx="935.2" cy="705.4" rx="13.7" ry="6.3" fill="#fff" opacity="0.68" filter="url(#blur1)"/>
<ellipse cx="916.5" cy="824.4" rx="10.4" ry="9.1" fill="#fff" opacity="0.37" filter="url(#blur1)"/>
<ellipse cx="885.7" cy="836.9" rx="8.5" ry="12.4" fill="#fff" opacity="0.59" filter="url(#blur1)"/>
<ellipse cx="969.9" cy="802.3" rx="7.1" ry="10.2" fill="#fff" opacity="0.53" filter="url(#blur1)"/>
<ellipse cx="946.3" cy="783.3" rx="13.4" ry="6.1" fill="#fff" opacity="0.67" filter="url(#blur1)"/>
<ellipse cx="946.1" cy="750.5" rx="6.8" ry="7.2" fill="#fff" opacity="0.60" filter="url(#blur1)"/>
<ellipse cx="939.1" cy="800.7" rx="6.7" ry="6.8" fill="#fff" opacity="0.50" filter="url(#blur1)"/>
<ellipse cx="844.2" cy="723.6" rx="6.2" ry="7.8" fill="#fff" opacity="0.53" filter="url(#blur1)"/>
<ellipse cx="962.7" cy="631.5" rx="8.4" ry="8.7" fill="#fff" opacity="0.39" filter="url(#blur1)"/>
<ellipse cx="857.9" cy="713.8" rx="12.8" ry="8.4" fill="#fff" opacity="0.59" filter="url(#blur1)"/>
<ellipse cx="955.9" cy="854.4" rx="9.5" ry="8.5" fill="#fff" opacity="0.52" filter="url(#blur1)"/>
<ellipse cx="887.0" cy="727.4" rx="9.0" ry="6.5" fill="#fff" opacity="0.55" filter="url(#blur1)"/>
<ellipse cx="911.0" cy="807.3" rx="13.8" ry="7.2" fill="#fff" opacity="0.54" filter="url(#blur1)"/>
<path d="M969.8 627.0C976.2 626.5 981.3 628.6 985.2 630.8C989.1 633.0 991.3 636.7 993.0 640.1C994.7 643.5 995.0 644.0 995.3 651.0C995.5 658.0 994.9 671.6 994.5 681.9C994.1 692.2 993.1 702.6 993.0 712.9C992.9 723.2 993.3 733.5 993.7 743.8C994.1 754.1 994.9 762.1 995.3 774.8C995.7 787.5 996.0 802.0 996.0 820.0C996.0 838.0 995.5 868.9 995.3 882.9C995.0 896.9 996.2 900.1 994.5 903.8C992.8 907.5 989.4 905.2 985.3 905.3C981.2 905.4 974.4 905.1 969.8 904.5C965.1 903.9 960.2 902.4 957.4 901.4C954.5 900.4 953.7 896.2 952.7 898.3C951.7 900.4 952.5 909.9 951.2 913.8C949.9 917.7 946.3 918.5 945.0 921.6C943.7 924.7 945.0 928.5 943.5 932.4C942.0 936.3 939.6 941.4 935.7 944.8C931.8 948.1 925.9 950.8 920.2 952.5C914.5 954.2 907.6 955.3 901.7 954.8C895.8 954.3 890.5 952.1 884.6 949.4C878.7 946.7 871.2 942.5 866.1 938.6C861.0 934.7 856.3 930.9 853.7 926.2C851.1 921.6 852.7 915.9 850.6 910.7C848.5 905.5 844.1 899.8 841.3 895.2C838.5 890.6 835.5 887.0 833.6 882.9C831.7 878.8 831.0 875.1 829.7 870.5C828.4 865.9 826.2 859.9 825.8 855.0C825.4 850.1 827.4 848.8 827.4 841.1C827.4 833.4 825.5 817.1 825.8 808.6C826.0 800.1 827.9 796.9 828.9 790.0C829.9 783.1 831.0 774.7 832.0 767.0C833.0 759.3 833.8 750.8 835.1 743.8C836.4 736.8 838.0 730.9 839.8 725.2C841.6 719.5 843.2 715.2 846.0 709.8C848.8 704.4 852.9 698.1 856.8 692.7C860.7 687.3 864.6 682.2 869.2 677.3C873.8 672.4 879.2 667.4 884.6 663.3C890.0 659.2 895.2 656.1 901.7 652.5C908.2 648.9 915.8 644.8 923.3 641.7C930.8 638.6 938.8 636.4 946.5 633.9C954.2 631.4 963.3 627.5 969.8 627.0Z" fill="none" stroke="#888" stroke-opacity="0.28" stroke-width="44" filter="url(#blur1)"/>
<path d="M969.8 627.0C976.2 626.5 981.3 628.6 985.2 630.8C989.1 633.0 991.3 636.7 993.0 640.1C994.7 643.5 995.0 644.0 995.3 651.0C995.5 658.0 994.9 671.6 994.5 681.9C994.1 692.2 993.1 702.6 993.0 712.9C992.9 723.2 993.3 733.5 993.7 743.8C994.1 754.1 994.9 762.1 995.3 774.8C995.7 787.5 996.0 802.0 996.0 820.0C996.0 838.0 995.5 868.9 995.3 882.9C995.0 896.9 996.2 900.1 994.5 903.8C992.8 907.5 989.4 905.2 985.3 905.3C981.2 905.4 974.4 905.1 969.8 904.5C965.1 903.9 960.2 902.4 957.4 901.4C954.5 900.4 953.7 896.2 952.7 898.3C951.7 900.4 952.5 909.9 951.2 913.8C949.9 917.7 946.3 918.5 945.0 921.6C943.7 924.7 945.0 928.5 943.5 932.4C942.0 936.3 939.6 941.4 935.7 944.8C931.8 948.1 925.9 950.8 920.2 952.5C914.5 954.2 907.6 955.3 901.7 954.8C895.8 954.3 890.5 952.1 884.6 949.4C878.7 946.7 871.2 942.5 866.1 938.6C861.0 934.7 856.3 930.9 853.7 926.2C851.1 921.6 852.7 915.9 850.6 910.7C848.5 905.5 844.1 899.8 841.3 895.2C838.5 890.6 835.5 887.0 833.6 882.9C831.7 878.8 831.0 875.1 829.7 870.5C828.4 865.9 826.2 859.9 825.8 855.0C825.4 850.1 827.4 848.8 827.4 841.1C827.4 833.4 825.5 817.1 825.8 808.6C826.0 800.1 827.9 796.9 828.9 790.0C829.9 783.1 831.0 774.7 832.0 767.0C833.0 759.3 833.8 750.8 835.1 743.8C836.4 736.8 838.0 730.9 839.8 725.2C841.6 719.5 843.2 715.2 846.0 709.8C848.8 704.4 852.9 698.1 856.8 692.7C860.7 687.3 864.6 682.2 869.2 677.3C873.8 672.4 879.2 667.4 884.6 663.3C890.0 659.2 895.2 656.1 901.7 652.5C908.2 648.9 915.8 644.8 923.3 641.7C930.8 638.6 938.8 636.4 946.5 633.9C954.2 631.4 963.3 627.5 969.8 627.0Z" fill="none" stroke="#fff" stroke-opacity="0.45" stroke-width="16" filter="url(#blur1)"/>
<path d="M961.5 710.3C959.3 710.9 952.1 712.4 948.0 714.4C943.8 716.3 940.4 720.1 936.7 721.8C932.9 723.6 929.3 724.4 925.5 724.8C921.7 725.2 917.8 725.0 914.1 724.3C910.5 723.6 907.8 721.0 903.5 720.5C899.1 720.0 892.6 721.3 887.9 721.4C883.2 721.5 879.6 721.2 875.3 721.3C871.0 721.4 864.3 721.9 862.1 722.2C859.9 722.4 859.9 721.4 862.0 722.8C864.0 724.2 870.1 729.0 874.5 730.7C879.0 732.3 884.4 732.4 888.5 732.6C892.7 732.8 895.3 731.2 899.5 731.9C903.8 732.6 909.1 736.0 914.1 736.7C919.1 737.4 924.5 737.3 929.4 736.3C934.3 735.3 939.4 733.1 943.4 730.7C947.4 728.4 950.3 725.4 953.4 722.1C956.4 718.8 960.4 712.9 961.7 710.9C963.1 708.9 963.8 709.8 961.5 710.3Z" fill="#707070" fill-opacity="0.11" stroke="#666" stroke-opacity="0.31" stroke-width="0.7"/>
<path d="M890.4 878.5C887.9 880.1 880.1 884.4 876.2 888.4C872.3 892.4 870.2 898.3 867.0 902.5C863.9 906.7 860.9 910.7 857.3 913.7C853.8 916.7 849.9 918.5 845.8 920.6C841.6 922.7 837.0 923.8 832.4 926.4C827.8 929.1 822.2 932.4 817.9 936.6C813.7 940.8 809.8 946.5 806.9 951.6C804.1 956.7 801.8 964.7 800.8 967.4C799.9 970.1 798.5 969.0 801.3 967.8C804.0 966.6 813.1 963.0 817.4 960.1C821.6 957.1 823.1 952.9 826.8 950.0C830.4 947.0 834.5 944.8 839.3 942.3C844.1 939.9 850.3 938.4 855.6 935.4C860.8 932.4 866.7 928.6 870.9 924.4C875.2 920.2 878.4 914.9 881.2 910.1C883.9 905.4 885.7 901.0 887.4 895.8C889.0 890.6 890.5 881.6 891.0 878.8C891.5 875.9 892.9 876.9 890.4 878.5Z" fill="#707070" fill-opacity="0.16" stroke="#666" stroke-opacity="0.21" stroke-width="0.7"/>
<path d="M939.5 826.8C936.9 827.2 928.8 828.9 924.2 829.4C919.6 829.9 916.4 828.5 911.8 830.0C907.3 831.5 901.2 836.6 896.7 838.2C892.3 839.9 889.3 839.6 885.2 839.9C881.1 840.2 876.9 839.3 872.1 840.2C867.3 841.2 861.2 843.1 856.3 845.6C851.5 848.1 846.7 851.4 843.1 855.3C839.6 859.3 836.4 866.9 835.1 869.3C833.8 871.7 833.0 870.4 835.4 869.7C837.9 869.1 845.6 867.2 849.8 865.5C854.0 863.7 857.0 861.0 860.8 859.3C864.6 857.7 867.9 856.5 872.5 855.8C877.1 855.2 882.9 856.3 888.3 855.6C893.8 854.8 900.7 853.3 905.1 851.4C909.4 849.6 910.2 846.2 914.4 844.3C918.6 842.3 926.2 842.6 930.5 839.8C934.7 836.9 938.4 829.5 939.9 827.3C941.4 825.2 942.1 826.5 939.5 826.8Z" fill="#707070" fill-opacity="0.15" stroke="#666" stroke-opacity="0.25" stroke-width="0.7"/>
<path d="M972.3 780.9C971.6 778.3 970.5 770.2 967.7 766.0C964.8 761.8 959.9 758.3 955.2 755.6C950.4 753.0 944.2 751.7 939.1 750.1C934.1 748.6 929.1 748.0 924.9 746.3C920.8 744.7 917.4 742.6 914.2 740.1C911.0 737.7 909.0 734.5 905.9 731.4C902.8 728.3 900.2 723.7 895.7 721.3C891.2 719.0 881.8 717.8 879.0 717.2C876.2 716.6 877.5 715.7 878.7 717.7C879.9 719.7 883.6 725.5 886.3 729.4C889.0 733.4 891.7 737.3 895.1 741.4C898.4 745.5 902.1 750.5 906.4 754.0C910.7 757.4 916.2 760.2 920.9 762.1C925.7 764.0 930.6 764.5 934.9 765.4C939.2 766.4 942.9 766.3 946.8 767.7C950.7 769.1 953.9 771.6 958.1 773.9C962.3 776.2 969.6 780.2 972.0 781.4C974.3 782.5 973.0 783.4 972.3 780.9Z" fill="#707070" fill-opacity="0.19" stroke="#666" stroke-opacity="0.33" stroke-width="0.7"/>
<path d="M908.9 709.3C906.6 710.7 899.7 714.8 895.8 718.0C891.9 721.2 889.0 725.7 885.3 728.3C881.7 731.0 877.8 732.3 873.7 734.0C869.5 735.7 865.0 736.2 860.5 738.5C856.1 740.9 851.0 744.9 846.8 748.3C842.6 751.6 838.8 754.8 835.3 758.7C831.8 762.5 828.8 767.6 825.6 771.4C822.4 775.2 817.6 779.6 816.1 781.4C814.6 783.1 813.5 782.5 816.4 781.9C819.3 781.4 829.0 780.5 833.5 778.2C838.0 775.9 839.8 771.3 843.3 768.1C846.8 765.0 851.0 761.9 854.6 759.2C858.3 756.4 861.0 753.7 865.2 751.4C869.5 749.2 875.4 748.1 880.3 745.7C885.2 743.2 890.7 740.1 894.7 736.5C898.6 733.0 901.5 728.9 904.0 724.4C906.4 719.9 908.6 712.0 909.4 709.5C910.2 707.0 911.1 707.9 908.9 709.3Z" fill="#707070" fill-opacity="0.11" stroke="#666" stroke-opacity="0.35" stroke-width="0.7"/>
<path d="M987.6 740.8C987.1 742.6 985.8 748.4 985.2 751.9C984.7 755.5 983.9 758.5 984.4 762.2C984.9 765.9 987.8 770.5 988.3 774.0C988.9 777.4 988.2 779.8 987.6 782.8C987.1 785.8 985.7 788.5 985.0 791.8C984.3 795.2 983.9 799.3 983.3 802.9C982.7 806.4 982.0 809.7 981.4 813.1C980.7 816.5 979.7 821.5 979.5 823.2C979.2 824.9 978.4 824.9 980.0 823.5C981.5 822.1 986.7 818.2 988.8 815.0C990.8 811.9 991.3 808.0 992.2 804.5C993.2 801.1 993.5 798.1 994.4 794.5C995.3 790.9 997.1 787.0 997.6 783.0C998.1 779.0 998.1 773.9 997.4 770.4C996.7 766.9 994.3 765.5 993.5 762.3C992.7 759.0 993.7 754.6 992.8 751.1C992.0 747.5 989.0 742.7 988.2 741.0C987.3 739.2 988.1 739.0 987.6 740.8Z" fill="#707070" fill-opacity="0.17" stroke="#666" stroke-opacity="0.36" stroke-width="0.7"/>
<path d="M917.0 868.7C916.7 870.1 916.2 874.5 915.7 876.9C915.1 879.2 914.2 880.5 913.7 882.8C913.3 885.1 913.1 888.2 913.1 890.8C913.1 893.5 913.0 896.2 913.8 898.9C914.5 901.7 916.2 904.7 917.5 907.2C918.8 909.7 920.1 911.8 921.8 913.8C923.5 915.9 925.6 918.1 927.8 919.7C930.0 921.2 933.9 922.6 935.2 923.1C936.5 923.6 936.0 924.1 935.6 922.7C935.2 921.4 934.0 917.2 932.9 915.0C931.8 912.9 930.1 911.6 928.8 909.7C927.6 907.8 926.5 905.3 925.4 903.4C924.4 901.4 923.3 900.1 922.7 898.0C922.1 896.0 922.0 893.5 921.9 891.2C921.7 888.9 921.7 886.8 921.8 884.2C921.9 881.5 923.1 877.9 922.4 875.3C921.7 872.7 918.5 869.8 917.6 868.7C916.7 867.7 917.3 867.4 917.0 868.7Z" fill="#707070" fill-opacity="0.09" stroke="#666" stroke-opacity="0.15" stroke-width="0.7"/>
<path d="M983.9 843.7C983.8 845.7 983.4 851.8 984.0 855.4C984.6 858.9 986.3 862.0 987.6 865.2C988.9 868.5 990.6 871.8 991.6 874.9C992.6 878.0 993.1 880.8 993.7 883.9C994.4 887.0 994.1 890.1 995.4 893.5C996.8 897.0 1000.0 901.4 1002.0 904.6C1004.0 907.9 1004.4 910.9 1007.4 913.2C1010.3 915.4 1017.5 917.3 1019.6 918.1C1021.7 918.8 1020.5 919.2 1020.0 917.6C1019.5 916.0 1017.9 911.7 1016.7 908.5C1015.5 905.3 1014.1 901.2 1012.7 898.3C1011.4 895.4 1009.6 894.3 1008.7 891.3C1007.7 888.4 1007.8 884.1 1007.0 880.4C1006.2 876.7 1005.1 872.6 1003.7 869.2C1002.4 865.7 1000.6 862.9 998.8 859.9C997.1 856.8 995.8 853.6 993.4 850.9C991.0 848.2 986.1 844.8 984.5 843.6C982.9 842.4 984.0 841.8 983.9 843.7Z" fill="#707070" fill-opacity="0.08" stroke="#666" stroke-opacity="0.24" stroke-width="0.7"/>
<path d="M859.0 824.9C856.5 826.1 847.9 828.9 843.9 832.6C839.9 836.3 837.8 842.3 835.1 847.0C832.4 851.6 830.1 855.9 827.8 860.4C825.5 865.0 822.8 869.0 821.3 874.4C819.8 879.7 819.8 887.2 819.0 892.6C818.2 897.9 817.4 901.8 816.6 906.6C815.8 911.4 814.8 916.3 814.3 921.3C813.8 926.2 813.7 933.6 813.7 936.2C813.7 938.7 811.7 938.3 814.2 936.5C816.8 934.7 825.8 929.5 829.1 925.2C832.5 920.9 833.0 915.6 834.6 910.5C836.1 905.4 837.8 899.4 838.7 894.8C839.6 890.2 838.6 887.0 839.8 882.7C841.0 878.4 843.8 873.6 845.7 869.0C847.7 864.3 849.9 859.5 851.6 855.0C853.3 850.5 854.8 846.9 856.1 841.9C857.4 837.0 858.9 828.3 859.4 825.4C859.9 822.6 861.6 823.8 859.0 824.9Z" fill="#707070" fill-opacity="0.18" stroke="#666" stroke-opacity="0.22" stroke-width="0.7"/>
<path d="M937.8 767.8C940.1 768.6 946.7 771.5 951.4 771.9C956.0 772.3 961.1 770.4 965.7 770.0C970.3 769.5 974.2 770.1 978.7 769.3C983.3 768.4 988.5 765.6 992.8 765.1C997.2 764.5 1000.8 764.9 1004.6 765.7C1008.4 766.5 1011.4 769.0 1015.7 769.8C1020.1 770.7 1026.0 770.2 1030.5 770.8C1035.0 771.3 1040.7 772.9 1042.8 773.3C1044.9 773.6 1045.0 774.5 1043.1 772.7C1041.2 771.0 1035.4 764.6 1031.4 762.6C1027.4 760.6 1023.6 761.9 1019.2 760.7C1014.8 759.5 1009.9 756.2 1005.0 755.2C1000.1 754.2 994.1 754.2 989.6 754.8C985.1 755.4 982.1 757.8 977.8 758.8C973.5 759.7 968.2 759.6 963.8 760.4C959.5 761.2 955.9 762.6 951.6 763.7C947.2 764.8 940.3 766.5 938.0 767.2C935.7 767.9 935.6 767.0 937.8 767.8Z" fill="#707070" fill-opacity="0.16" stroke="#666" stroke-opacity="0.36" stroke-width="0.7"/>
<path d="M887.8 846.2C886.4 844.9 882.2 840.8 879.2 839.1C876.3 837.5 872.7 837.5 869.9 836.4C867.1 835.4 864.7 834.2 862.6 832.7C860.5 831.2 859.7 829.4 857.4 827.5C855.2 825.7 851.1 823.5 849.2 821.6C847.2 819.6 846.9 817.9 845.7 815.7C844.5 813.5 843.7 810.7 841.9 808.2C840.2 805.7 836.3 801.8 835.1 800.6C833.9 799.3 835.2 798.8 834.5 800.7C833.8 802.6 831.1 808.4 831.0 812.1C830.9 815.8 832.3 819.2 833.8 822.8C835.4 826.4 838.0 830.8 840.3 833.5C842.5 836.3 844.7 837.0 847.5 839.1C850.3 841.3 853.6 844.7 857.0 846.5C860.3 848.3 864.2 849.4 867.6 850.1C871.0 850.7 874.0 851.1 877.3 850.6C880.7 850.0 886.1 847.5 887.8 846.8C889.6 846.0 889.2 847.4 887.8 846.2Z" fill="#707070" fill-opacity="0.18" stroke="#666" stroke-opacity="0.18" stroke-width="0.7"/>
<path d="M857.8 853.3C860.4 853.3 868.5 853.1 873.2 853.2C877.8 853.3 881.6 853.1 885.6 853.9C889.5 854.7 893.4 856.1 896.9 857.9C900.3 859.7 902.5 862.5 906.3 864.9C910.1 867.2 914.5 870.4 919.5 872.0C924.5 873.6 931.2 874.0 936.5 874.3C941.9 874.6 946.8 874.1 951.6 873.7C956.4 873.4 963.0 872.6 965.4 872.3C967.7 871.9 967.8 873.5 965.6 871.7C963.3 869.9 956.6 863.3 952.1 861.3C947.6 859.3 942.7 860.2 938.6 859.7C934.4 859.1 931.1 859.4 927.2 858.0C923.4 856.6 919.7 853.9 915.4 851.3C911.0 848.7 906.1 844.5 900.9 842.4C895.8 840.4 890.0 839.2 884.5 839.1C879.1 839.0 872.9 839.5 868.4 841.8C863.8 844.1 859.1 850.9 857.4 852.8C855.6 854.7 855.1 853.2 857.8 853.3Z" fill="#707070" fill-opacity="0.09" stroke="#666" stroke-opacity="0.21" stroke-width="0.7"/>
<path d="M899.5 661.9C900.4 659.9 902.8 653.8 904.4 650.0C905.9 646.2 907.3 642.9 908.6 639.1C909.9 635.3 911.6 631.2 912.2 626.9C912.8 622.6 912.3 617.5 912.4 613.2C912.6 608.9 912.2 604.7 913.1 601.1C914.0 597.5 915.9 594.8 917.7 591.6C919.6 588.5 922.9 586.1 924.4 582.2C925.8 578.3 926.3 570.8 926.5 568.5C926.8 566.2 927.4 566.8 926.0 568.2C924.6 569.7 921.0 574.2 918.2 577.4C915.5 580.6 912.0 583.7 909.5 587.5C906.9 591.4 904.3 596.2 903.1 600.5C901.9 604.7 902.3 609.2 902.2 613.2C902.1 617.2 903.0 620.5 902.6 624.4C902.2 628.2 900.8 632.2 899.8 636.3C898.8 640.4 896.7 644.9 896.6 649.2C896.5 653.5 898.5 659.9 899.0 662.1C899.5 664.2 898.6 663.9 899.5 661.9Z" fill="#707070" fill-opacity="0.10" stroke="#666" stroke-opacity="0.27" stroke-width="0.7"/>
<path d="M846.5 876.8C844.5 875.9 838.4 873.1 834.1 872.1C829.8 871.2 825.2 871.5 821.0 871.0C816.7 870.6 813.0 869.1 808.6 869.3C804.1 869.6 798.6 872.2 794.4 872.5C790.2 872.8 786.7 872.3 783.2 871.2C779.7 870.1 776.4 868.2 773.5 865.9C770.5 863.7 768.9 860.2 765.7 857.7C762.5 855.1 756.3 851.6 754.3 850.5C752.4 849.3 752.9 848.9 753.9 850.9C754.9 852.9 757.6 858.7 760.2 862.5C762.8 866.3 765.7 870.6 769.4 873.6C773.1 876.6 777.7 879.1 782.3 880.5C786.9 881.9 792.6 882.1 796.8 881.8C801.0 881.4 803.6 878.9 807.5 878.6C811.5 878.2 816.4 879.5 820.7 879.7C825.0 879.8 829.0 879.8 833.4 879.4C837.7 879.0 844.3 877.8 846.5 877.4C848.7 876.9 848.6 877.7 846.5 876.8Z" fill="#707070" fill-opacity="0.09" stroke="#666" stroke-opacity="0.28" stroke-width="0.7"/>
<path d="M901.3 782.8C903.5 780.7 910.1 774.2 914.0 770.2C917.9 766.1 920.9 762.4 924.6 758.5C928.3 754.7 932.2 750.7 936.0 746.8C939.9 742.9 944.0 739.4 947.8 735.1C951.6 730.8 955.5 726.1 958.7 721.1C962.0 716.0 964.0 709.2 967.2 704.9C970.4 700.6 974.1 699.0 977.7 695.3C981.4 691.7 987.1 685.1 988.9 683.0C990.8 680.8 991.9 682.0 988.7 682.4C985.5 682.9 975.5 683.1 969.8 685.7C964.0 688.2 958.1 693.4 954.2 697.6C950.2 701.8 949.1 706.7 946.1 711.0C943.1 715.4 939.7 719.4 936.0 723.6C932.3 727.7 927.9 731.7 924.0 736.0C920.2 740.3 916.3 744.7 912.8 749.5C909.2 754.3 904.8 759.2 902.7 764.7C900.7 770.3 901.0 779.6 900.7 782.6C900.5 785.6 899.1 784.9 901.3 782.8Z" fill="#707070" fill-opacity="0.08" stroke="#666" stroke-opacity="0.34" stroke-width="0.7"/>
<path d="M886.6 739.9C884.4 741.3 877.8 745.5 873.7 748.5C869.7 751.5 865.6 754.1 862.3 758.1C859.0 762.1 857.0 768.1 854.1 772.3C851.1 776.5 847.6 778.9 844.8 783.1C842.1 787.3 840.3 793.2 837.5 797.4C834.8 801.6 831.3 804.1 828.5 808.3C825.8 812.4 823.2 817.5 821.2 822.3C819.1 827.0 817.0 834.4 816.3 836.8C815.5 839.3 815.0 839.0 816.8 837.1C818.6 835.3 824.0 829.5 826.9 825.6C829.9 821.6 831.5 817.4 834.5 813.4C837.5 809.3 842.3 805.4 845.1 801.3C847.9 797.1 848.7 792.8 851.5 788.7C854.2 784.5 858.8 780.4 861.5 776.3C864.2 772.2 864.8 767.8 867.6 763.9C870.4 760.1 875.2 757.1 878.4 753.2C881.7 749.3 885.6 742.7 886.9 740.5C888.3 738.2 888.8 738.6 886.6 739.9Z" fill="#707070" fill-opacity="0.11" stroke="#666" stroke-opacity="0.16" stroke-width="0.7"/>
<path d="M867.2 754.1C869.4 755.0 876.0 758.7 880.3 759.3C884.6 759.8 888.9 758.9 893.2 757.2C897.6 755.6 902.4 751.9 906.3 749.3C910.1 746.7 913.0 744.5 916.2 741.7C919.4 739.0 922.6 735.8 925.5 732.7C928.4 729.6 931.0 726.1 933.6 723.0C936.2 719.9 939.7 718.2 941.1 714.0C942.5 709.9 942.1 700.9 942.2 698.3C942.3 695.6 943.5 697.1 941.6 698.0C939.8 698.8 934.4 701.2 931.0 703.3C927.5 705.5 923.9 708.4 920.8 711.0C917.7 713.6 915.2 716.3 912.4 718.9C909.6 721.5 907.0 724.0 904.1 726.5C901.2 729.0 897.7 731.6 895.1 733.9C892.5 736.2 891.3 738.5 888.5 740.3C885.7 742.1 881.7 742.5 878.1 744.7C874.6 746.9 869.1 751.9 867.3 753.5C865.5 755.0 865.0 753.1 867.2 754.1Z" fill="#707070" fill-opacity="0.10" stroke="#666" stroke-opacity="0.15" stroke-width="0.7"/>
<path d="M951.0 856.1C947.9 855.8 938.3 854.0 932.4 855.3C926.4 856.5 920.5 859.7 915.4 863.7C910.4 867.7 906.2 874.8 901.9 879.1C897.7 883.4 894.2 886.3 890.1 889.5C885.9 892.7 881.4 896.1 876.9 898.1C872.4 900.1 868.1 899.5 863.0 901.6C857.9 903.6 851.5 907.9 846.3 910.4C841.1 913.0 834.2 915.9 831.8 917.1C829.4 918.3 828.5 916.6 831.9 917.7C835.2 918.8 846.3 923.5 852.1 923.6C858.0 923.7 861.2 920.0 867.0 918.3C872.8 916.7 881.0 916.2 887.0 913.8C893.0 911.3 898.0 907.4 902.9 903.6C907.9 899.7 913.1 894.7 916.7 890.5C920.3 886.3 921.0 882.1 924.4 878.5C927.8 874.9 932.7 872.5 937.1 868.9C941.6 865.2 948.9 858.8 951.2 856.6C953.5 854.5 954.1 856.3 951.0 856.1Z" fill="#707070" fill-opacity="0.14" stroke="#666" stroke-opacity="0.23" stroke-width="0.7"/>
<path d="M866.5 808.8C863.7 808.6 855.4 808.2 850.0 808.4C844.7 808.6 839.6 809.5 834.3 810.1C829.1 810.6 823.8 810.2 818.5 811.8C813.3 813.4 807.3 816.2 802.7 819.7C798.2 823.3 794.9 829.2 791.1 833.2C787.3 837.2 783.9 840.8 779.9 843.6C775.8 846.4 771.1 847.2 766.8 849.9C762.4 852.6 755.8 858.0 753.7 859.8C751.5 861.5 751.2 860.8 753.9 860.3C756.6 859.8 764.5 858.6 769.9 857.0C775.2 855.3 781.2 853.3 786.0 850.4C790.8 847.5 795.0 843.2 798.6 839.6C802.2 835.9 803.9 831.6 807.5 828.6C811.0 825.6 815.1 823.1 819.8 821.6C824.5 820.0 830.4 820.0 835.7 819.1C841.0 818.2 846.4 817.6 851.5 815.9C856.6 814.3 863.9 810.6 866.4 809.4C868.9 808.2 869.2 809.0 866.5 808.8Z" fill="#707070" fill-opacity="0.20" stroke="#666" stroke-opacity="0.23" stroke-width="0.7"/>
<path d="M889.9 715.2C888.2 717.0 882.8 722.8 880.0 726.6C877.2 730.4 875.5 734.3 873.0 738.0C870.6 741.7 868.0 745.4 865.3 748.8C862.5 752.2 859.3 754.5 856.5 758.2C853.6 762.0 851.2 767.7 848.4 771.3C845.6 774.9 842.2 775.8 839.7 779.8C837.2 783.7 834.1 789.9 833.2 795.1C832.3 800.3 833.9 808.3 834.1 811.0C834.4 813.6 833.1 812.9 834.7 811.1C836.3 809.3 841.4 803.6 843.8 800.0C846.2 796.5 846.3 793.4 849.2 789.9C852.0 786.4 857.9 782.8 861.0 779.2C864.2 775.6 865.1 772.2 867.9 768.5C870.7 764.7 874.9 761.0 877.8 756.9C880.8 752.9 883.2 748.6 885.4 744.2C887.6 739.8 890.2 735.3 891.0 730.4C891.8 725.6 890.7 717.9 890.5 715.4C890.3 712.8 891.6 713.3 889.9 715.2Z" fill="#707070" fill-opacity="0.20" stroke="#666" stroke-opacity="0.34" stroke-width="0.7"/>
<path d="M990.7 656.6C988.4 658.0 981.5 662.4 977.5 665.5C973.4 668.7 970.2 673.1 966.3 675.5C962.3 677.8 958.2 678.6 953.8 679.7C949.4 680.7 944.8 680.4 939.9 681.9C935.1 683.4 929.2 685.5 924.5 688.7C919.8 691.8 915.8 697.0 912.0 700.9C908.2 704.8 904.9 708.3 901.4 711.8C897.9 715.4 892.6 720.3 890.8 722.1C889.1 723.9 888.3 723.1 891.1 722.6C894.0 722.1 903.1 721.2 907.9 718.9C912.7 716.7 916.4 712.3 920.0 709.1C923.6 705.9 925.8 702.4 929.5 700.0C933.2 697.5 937.3 695.8 942.2 694.3C947.0 692.8 953.2 692.9 958.5 691.1C963.9 689.3 970.0 686.8 974.4 683.5C978.8 680.3 982.1 676.1 984.9 671.7C987.7 667.3 990.2 659.5 991.2 657.0C992.2 654.5 993.0 655.2 990.7 656.6Z" fill="#707070" fill-opacity="0.19" stroke="#666" stroke-opacity="0.20" stroke-width="0.7"/>
<path d="M847.7 824.6C848.7 822.5 851.7 816.2 853.0 812.4C854.3 808.6 855.5 805.9 855.4 801.7C855.2 797.6 853.5 791.6 852.3 787.3C851.1 782.9 850.1 779.4 848.1 775.5C846.0 771.6 843.0 767.4 839.9 764.0C836.8 760.6 833.3 757.6 829.6 755.2C825.9 752.7 822.0 750.0 817.6 749.1C813.3 748.3 805.8 749.7 803.4 749.9C800.9 750.2 801.9 748.8 803.1 750.5C804.4 752.2 808.3 757.5 810.9 760.1C813.6 762.8 816.7 764.2 819.3 766.5C821.8 768.7 824.3 771.2 826.5 773.7C828.6 776.2 830.6 778.5 832.2 781.5C833.9 784.5 835.1 788.8 836.4 792.0C837.7 795.1 839.5 796.7 840.1 800.3C840.7 803.8 839.0 809.2 840.2 813.3C841.4 817.4 845.9 822.9 847.1 824.8C848.4 826.7 846.7 826.7 847.7 824.6Z" fill="#707070" fill-opacity="0.21" stroke="#666" stroke-opacity="0.21" stroke-width="0.7"/>
<path d="M923.8 786.9C921.6 786.4 914.8 784.9 910.7 784.9C906.5 784.8 902.5 786.4 898.8 786.5C895.1 786.6 892.5 784.9 888.5 785.3C884.4 785.6 878.9 786.4 874.5 788.4C870.1 790.3 865.8 793.9 862.3 797.0C858.7 800.2 856.2 804.2 853.4 807.3C850.6 810.4 847.3 811.7 845.5 815.4C843.7 819.2 843.0 827.5 842.6 830.0C842.2 832.4 841.4 831.3 843.1 830.3C844.8 829.3 849.5 826.4 852.9 824.1C856.3 821.8 860.4 819.0 863.4 816.4C866.5 813.9 868.5 811.0 871.0 808.8C873.5 806.5 875.4 804.3 878.3 802.9C881.1 801.4 883.9 800.4 887.8 799.9C891.8 799.3 897.5 800.4 901.8 799.7C906.1 799.0 910.0 797.9 913.6 795.9C917.3 793.8 922.2 789.0 923.9 787.5C925.6 786.0 926.0 787.3 923.8 786.9Z" fill="#707070" fill-opacity="0.13" stroke="#666" stroke-opacity="0.19" stroke-width="0.7"/>
<path d="M950.3 848.9C952.6 848.9 959.6 848.9 963.9 848.1C968.2 847.3 972.4 844.7 976.3 844.3C980.2 843.8 983.1 845.4 987.2 845.4C991.3 845.3 996.4 844.8 1000.9 844.0C1005.4 843.3 1009.9 841.7 1014.3 840.7C1018.6 839.6 1022.6 838.5 1026.7 837.5C1030.8 836.6 1035.2 837.0 1039.1 834.7C1042.9 832.5 1048.1 825.9 1049.9 824.1C1051.6 822.2 1051.6 823.3 1049.6 823.6C1047.5 823.8 1041.9 825.1 1037.7 825.6C1033.5 826.2 1028.8 826.2 1024.4 826.8C1020.0 827.4 1015.6 828.3 1011.4 829.2C1007.3 830.0 1003.6 831.3 999.6 832.0C995.6 832.7 992.0 833.2 987.4 833.5C982.9 833.8 976.8 833.0 972.3 834.0C967.8 835.0 964.2 837.1 960.4 839.5C956.7 841.9 951.7 846.8 950.0 848.4C948.3 850.0 948.0 849.0 950.3 848.9Z" fill="#707070" fill-opacity="0.17" stroke="#666" stroke-opacity="0.34" stroke-width="0.7"/>
<path d="M902.7 697.5C899.8 697.8 890.8 697.9 885.5 699.7C880.2 701.6 875.5 705.3 870.9 708.7C866.3 712.1 862.1 716.5 858.0 720.2C853.8 723.8 849.9 726.8 846.0 730.5C842.0 734.1 837.4 737.2 834.1 742.1C830.8 747.0 828.9 755.0 826.1 759.7C823.4 764.4 819.2 765.4 817.4 770.4C815.7 775.4 815.7 786.3 815.4 789.5C815.2 792.8 814.1 791.5 816.0 789.8C817.9 788.1 823.0 783.2 827.1 779.3C831.1 775.3 837.2 770.3 840.3 766.2C843.5 762.0 843.0 758.1 845.9 754.3C848.7 750.5 853.4 747.1 857.4 743.4C861.3 739.8 865.9 736.0 869.7 732.3C873.5 728.6 876.4 724.8 880.1 721.3C883.8 717.8 887.9 715.1 891.7 711.2C895.6 707.4 901.2 700.3 903.1 698.0C904.9 695.7 905.7 697.3 902.7 697.5Z" fill="#707070" fill-opacity="0.12" stroke="#666" stroke-opacity="0.23" stroke-width="0.7"/>
<path d="M856.2 736.8C857.0 738.1 859.4 742.5 861.6 744.4C863.9 746.3 867.4 747.0 869.8 748.3C872.2 749.6 873.3 751.4 876.0 752.4C878.8 753.5 883.4 753.8 886.1 754.6C888.9 755.4 890.5 756.2 892.5 757.4C894.6 758.5 896.0 760.2 898.5 761.3C901.1 762.4 904.8 763.7 907.9 764.0C911.0 764.4 915.5 763.5 917.0 763.3C918.6 763.1 918.3 763.9 917.3 762.7C916.2 761.5 913.0 757.5 910.8 755.9C908.7 754.3 906.8 754.4 904.5 752.9C902.2 751.5 899.7 748.8 896.9 747.2C894.1 745.6 890.5 744.1 888.0 743.4C885.4 742.7 884.0 743.6 881.6 742.9C879.1 742.1 876.0 739.7 873.3 738.7C870.7 737.7 868.6 737.2 865.8 736.8C863.0 736.4 858.3 736.4 856.6 736.4C855.0 736.4 855.4 735.4 856.2 736.8Z" fill="#707070" fill-opacity="0.21" stroke="#666" stroke-opacity="0.15" stroke-width="0.7"/>
<path d="M910.8 681.2C911.7 679.5 915.3 674.7 915.6 671.2C916.0 667.7 913.1 663.2 912.8 660.3C912.6 657.3 914.4 656.5 914.0 653.4C913.5 650.3 911.0 644.9 909.9 641.6C908.8 638.3 908.3 636.2 907.5 633.4C906.7 630.6 906.4 627.9 905.3 624.8C904.1 621.8 902.3 618.1 900.6 615.2C898.9 612.4 896.1 609.0 895.1 607.8C894.1 606.6 895.4 605.9 894.5 607.8C893.6 609.8 890.0 616.1 889.5 619.4C889.0 622.6 890.9 624.5 891.5 627.5C892.0 630.5 892.2 634.2 892.8 637.5C893.5 640.9 894.5 644.9 895.5 647.6C896.5 650.2 898.0 650.3 898.7 653.3C899.4 656.3 898.9 662.3 899.7 665.4C900.6 668.5 902.1 669.5 903.8 672.1C905.6 674.7 909.0 679.5 910.2 681.0C911.3 682.5 909.8 682.8 910.8 681.2Z" fill="#707070" fill-opacity="0.15" stroke="#666" stroke-opacity="0.16" stroke-width="0.7"/>
<path d="M917.3 698.4C916.0 697.5 912.1 694.8 909.8 693.4C907.5 692.0 906.0 690.9 903.5 689.9C901.0 689.0 897.8 688.2 894.9 687.6C892.0 687.0 889.2 686.4 886.2 686.4C883.2 686.4 879.9 686.6 876.8 687.5C873.8 688.4 870.6 690.2 867.9 691.7C865.3 693.1 862.8 694.2 860.8 696.3C858.8 698.4 856.6 702.9 855.8 704.3C855.0 705.7 854.6 704.9 856.1 704.8C857.6 704.8 862.1 704.6 864.8 704.0C867.5 703.4 869.9 702.0 872.2 701.1C874.4 700.2 876.0 699.1 878.1 698.6C880.3 698.0 882.5 697.8 884.9 697.7C887.3 697.7 890.0 698.2 892.5 698.5C895.0 698.8 897.1 699.0 899.8 699.5C902.5 700.1 905.8 702.1 908.7 702.0C911.7 701.9 916.0 699.6 917.4 699.0C918.9 698.4 918.6 699.4 917.3 698.4Z" fill="#707070" fill-opacity="0.18" stroke="#666" stroke-opacity="0.33" stroke-width="0.7"/>
<path d="M989.3 824.5C989.2 822.5 989.3 816.1 988.4 812.7C987.5 809.2 985.1 806.6 983.8 803.7C982.4 800.8 980.7 797.9 980.0 795.2C979.3 792.5 979.9 790.6 979.3 787.6C978.7 784.6 977.2 780.3 976.2 777.0C975.3 773.7 974.9 770.9 973.7 767.7C972.4 764.4 971.2 760.3 968.6 757.4C966.0 754.5 960.0 751.6 958.1 750.4C956.3 749.3 957.9 748.8 957.6 750.7C957.3 752.6 956.2 758.6 956.3 762.0C956.5 765.3 957.8 767.6 958.4 770.8C959.0 774.1 959.3 778.2 960.0 781.5C960.6 784.8 961.4 786.9 962.3 790.5C963.2 794.1 963.7 799.4 965.1 803.1C966.5 806.7 968.8 809.7 970.9 812.6C973.0 815.4 974.8 818.3 977.8 820.4C980.8 822.5 987.0 824.3 988.9 825.0C990.8 825.7 989.4 826.6 989.3 824.5Z" fill="#707070" fill-opacity="0.11" stroke="#666" stroke-opacity="0.30" stroke-width="0.7"/>
<path d="M973.0 716.4C975.6 715.5 983.7 713.0 988.0 710.5C992.3 708.0 995.3 703.6 998.9 701.7C1002.5 699.7 1005.8 699.6 1009.6 698.8C1013.4 698.0 1018.0 696.9 1022.0 696.9C1025.9 696.8 1029.6 697.5 1033.1 698.6C1036.7 699.7 1038.6 702.5 1043.1 703.5C1047.7 704.6 1055.0 706.2 1060.5 705.0C1066.0 703.8 1073.4 697.8 1076.0 696.3C1078.5 694.7 1078.1 696.7 1075.9 695.7C1073.7 694.6 1066.7 691.4 1062.6 690.0C1058.5 688.6 1055.9 689.2 1051.4 687.4C1046.9 685.6 1041.2 680.9 1035.7 679.2C1030.1 677.5 1023.8 676.9 1018.2 677.2C1012.6 677.4 1007.5 678.7 1002.1 680.7C996.8 682.6 990.4 685.5 986.1 688.8C981.8 692.1 978.9 695.9 976.6 700.4C974.3 705.0 973.0 713.5 972.4 716.2C971.9 718.8 970.4 717.4 973.0 716.4Z" fill="#707070" fill-opacity="0.17" stroke="#666" stroke-opacity="0.36" stroke-width="0.7"/>
<path d="M869.7 846.5C870.7 847.3 874.2 849.5 876.2 850.7C878.3 851.8 879.6 853.1 882.0 853.5C884.4 854.0 888.3 853.2 890.7 853.4C893.1 853.6 894.5 854.2 896.4 854.8C898.4 855.3 900.0 856.6 902.4 856.8C904.9 857.1 908.4 857.1 911.1 856.2C913.8 855.4 916.5 853.5 918.5 851.6C920.5 849.8 922.2 846.4 922.9 845.3C923.6 844.1 923.9 844.6 922.6 844.8C921.3 844.9 917.2 845.4 915.2 846.1C913.2 846.7 912.2 848.1 910.5 848.6C908.9 849.1 907.3 849.4 905.2 849.0C903.1 848.7 900.5 847.1 898.0 846.4C895.4 845.8 892.2 845.2 889.9 845.2C887.7 845.2 886.8 846.5 884.7 846.3C882.6 846.2 879.7 844.3 877.3 844.3C874.8 844.2 871.3 845.7 870.0 846.1C868.7 846.4 868.6 845.8 869.7 846.5Z" fill="#707070" fill-opacity="0.13" stroke="#666" stroke-opacity="0.34" stroke-width="0.7"/>
<path d="M960.4 743.3C960.3 742.2 959.3 738.8 959.2 737.0C959.0 735.2 959.4 734.0 959.6 732.4C959.9 730.8 960.8 729.5 960.8 727.5C960.8 725.5 959.6 722.3 959.5 720.4C959.4 718.4 960.2 717.7 960.2 715.8C960.1 714.0 959.2 711.0 959.2 709.2C959.3 707.4 960.9 706.9 960.6 705.0C960.4 703.2 958.4 699.3 957.8 698.2C957.2 697.1 957.6 697.4 957.2 698.3C956.8 699.1 956.1 701.2 955.4 703.1C954.6 705.1 953.1 708.0 952.7 710.0C952.3 711.9 953.2 712.9 953.2 715.0C953.1 717.0 952.3 720.2 952.4 722.1C952.5 724.0 953.7 724.5 953.8 726.3C953.9 728.2 953.0 730.7 953.1 733.0C953.2 735.3 953.4 738.3 954.5 740.1C955.6 741.8 958.8 743.0 959.8 743.5C960.8 744.1 960.5 744.4 960.4 743.3Z" fill="#707070" fill-opacity="0.09" stroke="#666" stroke-opacity="0.16" stroke-width="0.7"/>
<path d="M876.9 781.6C875.9 782.4 872.7 784.6 871.3 786.5C869.9 788.3 868.8 790.4 868.3 792.9C867.7 795.3 867.6 798.5 868.1 801.2C868.6 803.9 870.2 806.7 871.2 809.0C872.2 811.3 872.9 813.0 874.0 815.1C875.1 817.1 875.9 819.4 877.7 821.2C879.5 823.0 882.8 824.6 884.8 825.9C886.9 827.2 889.1 828.7 890.0 829.2C891.0 829.6 890.8 830.3 890.5 828.8C890.3 827.4 889.6 822.4 888.6 820.5C887.6 818.6 885.7 819.0 884.5 817.5C883.4 816.0 882.6 813.7 881.7 811.7C880.8 809.7 879.8 807.2 879.0 805.4C878.1 803.6 877.0 802.4 876.4 800.8C875.8 799.2 875.4 797.5 875.5 795.6C875.7 793.7 876.9 791.5 877.3 789.2C877.6 787.0 877.5 783.1 877.4 781.8C877.4 780.5 877.9 780.8 876.9 781.6Z" fill="#707070" fill-opacity="0.09" stroke="#666" stroke-opacity="0.31" stroke-width="0.7"/>
<path d="M914.8 778.5C914.0 778.3 911.5 777.6 910.4 777.6C909.2 777.5 908.9 777.6 908.0 778.2C907.0 778.9 905.5 780.9 904.8 781.5C904.0 782.1 904.0 781.7 903.5 781.9C903.0 782.1 902.4 782.5 901.7 782.8C901.1 783.1 900.6 783.1 899.7 783.7C898.9 784.2 897.4 784.8 896.7 786.0C896.1 787.2 896.0 789.9 896.0 790.8C895.9 791.7 895.6 790.9 896.3 791.3C897.0 791.6 899.3 792.7 900.3 792.9C901.3 793.1 901.5 792.8 902.4 792.6C903.4 792.4 904.8 792.2 905.9 791.9C907.1 791.5 908.2 791.0 909.4 790.3C910.5 789.6 912.2 788.1 912.8 787.4C913.5 786.7 912.6 786.7 913.0 786.0C913.5 785.4 915.1 784.7 915.4 783.5C915.8 782.3 915.4 779.7 915.3 778.8C915.2 778.0 915.7 778.7 914.8 778.5Z" fill="#707070" fill-opacity="0.10" stroke="#666" stroke-opacity="0.36" stroke-width="0.7"/>
<path d="M919.0 735.3C918.6 734.3 917.0 731.4 916.4 729.6C915.7 727.8 915.2 726.3 915.0 724.6C914.8 722.9 915.4 721.3 915.2 719.4C915.0 717.5 914.6 715.1 913.9 713.0C913.1 711.0 911.8 709.0 910.7 707.1C909.7 705.2 909.1 703.4 907.6 701.9C906.1 700.4 903.7 699.0 901.7 698.0C899.8 697.0 897.0 696.2 895.9 695.9C894.9 695.6 895.0 695.5 895.6 696.4C896.1 697.3 898.0 700.2 899.3 701.5C900.6 702.9 902.1 703.0 903.2 704.4C904.4 705.8 905.1 708.0 906.0 709.7C906.9 711.3 907.9 712.6 908.5 714.2C909.2 715.9 909.5 717.5 909.8 719.5C910.1 721.6 909.7 724.2 910.3 726.4C910.9 728.5 911.8 730.9 913.2 732.5C914.6 734.0 917.6 735.3 918.5 735.7C919.5 736.2 919.3 736.3 919.0 735.3Z" fill="#707070" fill-opacity="0.18" stroke="#666" stroke-opacity="0.30" stroke-width="0.7"/>
<path d="M905.7 766.7C906.8 767.2 909.9 768.9 911.9 769.3C913.9 769.7 916.3 768.7 918.0 768.9C919.6 769.1 919.9 770.5 921.9 770.5C923.9 770.6 927.5 769.8 929.7 769.4C931.9 769.0 933.6 768.4 935.3 768.1C937.1 767.9 938.6 767.9 940.2 768.0C941.9 768.1 943.1 768.8 945.0 768.7C946.8 768.7 950.2 767.8 951.3 767.5C952.4 767.3 952.3 768.0 951.6 767.0C950.8 766.0 948.8 763.0 946.9 761.7C945.1 760.4 942.6 759.7 940.3 759.3C938.1 758.8 935.6 758.9 933.5 759.0C931.4 759.1 929.2 759.6 927.6 760.0C926.1 760.4 925.8 761.4 924.0 761.4C922.1 761.5 918.6 760.3 916.5 760.4C914.3 760.5 912.8 761.1 911.0 762.0C909.2 763.0 906.4 765.4 905.5 766.1C904.7 766.9 904.6 766.2 905.7 766.7Z" fill="#707070" fill-opacity="0.10" stroke="#666" stroke-opacity="0.27" stroke-width="0.7"/>
<path d="M957.9 685.6C958.7 685.6 961.4 685.5 962.5 685.2C963.6 685.0 964.0 684.3 964.6 684.1C965.2 683.8 965.3 684.3 966.1 683.9C966.9 683.4 968.3 682.0 969.2 681.3C970.0 680.5 970.4 680.1 971.0 679.4C971.7 678.7 972.3 678.1 972.9 677.1C973.5 676.1 974.4 674.7 974.5 673.5C974.6 672.2 973.7 670.4 973.5 669.8C973.3 669.1 974.0 669.4 973.1 669.3C972.2 669.2 969.0 669.1 967.9 669.3C966.8 669.4 967.1 669.9 966.5 670.4C965.9 670.8 965.0 671.4 964.2 672.0C963.5 672.5 962.5 673.3 962.0 673.9C961.4 674.4 961.7 674.5 961.0 675.2C960.3 675.8 958.5 676.9 957.7 677.8C956.8 678.8 956.0 679.6 956.0 680.9C955.9 682.1 957.2 684.4 957.5 685.2C957.8 685.9 957.1 685.6 957.9 685.6Z" fill="#707070" fill-opacity="0.12" stroke="#666" stroke-opacity="0.36" stroke-width="0.7"/>
<path d="M909.9 764.5C908.7 764.1 904.9 763.0 902.8 762.6C900.7 762.2 899.4 761.9 897.4 761.9C895.3 761.9 892.7 762.1 890.4 762.6C888.1 763.1 885.4 764.4 883.6 764.7C881.7 765.0 881.2 763.7 879.1 764.2C877.1 764.7 873.3 766.8 871.1 767.7C869.0 768.5 867.9 768.1 866.1 769.2C864.4 770.4 861.6 773.5 860.7 774.5C859.8 775.5 859.7 774.7 860.8 775.1C862.0 775.5 865.2 776.7 867.6 776.9C870.0 777.0 873.2 776.5 875.1 776.0C876.9 775.6 876.6 774.4 878.5 774.1C880.5 773.9 884.6 774.7 886.8 774.4C889.0 774.1 890.2 773.0 892.0 772.4C893.8 771.9 895.5 771.5 897.6 771.1C899.7 770.8 902.7 771.1 904.8 770.1C906.9 769.1 909.2 766.0 910.0 765.1C910.9 764.1 911.1 764.9 909.9 764.5Z" fill="#707070" fill-opacity="0.08" stroke="#666" stroke-opacity="0.31" stroke-width="0.7"/>
<path d="M904.4 707.2C903.9 708.3 901.9 711.6 901.8 714.1C901.7 716.6 903.0 719.6 904.0 722.1C905.0 724.6 906.3 726.9 908.1 728.9C909.9 730.9 912.6 732.5 914.7 734.0C916.9 735.5 919.2 736.5 921.1 737.9C923.0 739.3 924.5 740.8 926.3 742.4C928.0 743.9 929.5 745.8 931.6 747.1C933.7 748.5 937.4 750.0 938.6 750.5C939.9 750.9 939.6 751.1 939.0 750.0C938.4 748.9 936.3 745.9 934.8 743.9C933.3 742.0 931.6 740.2 929.8 738.4C928.1 736.6 926.1 734.6 924.2 733.0C922.2 731.5 920.0 730.4 918.1 729.2C916.3 728.0 914.4 727.3 912.9 725.8C911.4 724.3 910.1 722.2 909.0 720.3C907.9 718.4 907.0 716.8 906.3 714.5C905.7 712.3 905.3 708.2 905.0 706.9C904.7 705.7 905.0 706.0 904.4 707.2Z" fill="#707070" fill-opacity="0.20" stroke="#666" stroke-opacity="0.20" stroke-width="0.7"/>
<path d="M984.6 718.8C985.7 718.2 989.7 716.9 991.2 715.0C992.7 713.1 992.7 709.5 993.4 707.2C994.0 704.9 994.6 703.4 995.1 701.2C995.5 699.1 996.2 696.8 996.0 694.2C995.8 691.7 994.7 688.4 993.8 685.9C992.9 683.5 992.1 681.5 990.5 679.5C988.9 677.5 986.4 675.4 984.2 674.1C982.0 672.8 978.5 672.2 977.3 671.9C976.1 671.7 976.6 671.0 976.9 672.3C977.1 673.7 977.9 678.0 978.7 679.9C979.5 681.7 981.0 682.0 981.9 683.5C982.7 685.0 983.4 687.3 984.0 688.9C984.6 690.5 985.4 691.4 985.6 693.1C985.8 694.8 985.3 696.9 985.1 699.0C984.8 701.2 984.1 703.9 984.0 705.8C983.9 707.8 984.3 708.8 984.3 710.9C984.4 713.0 984.2 717.0 984.3 718.3C984.3 719.6 983.4 719.3 984.6 718.8Z" fill="#707070" fill-opacity="0.14" stroke="#666" stroke-opacity="0.15" stroke-width="0.7"/>
<path d="M895.6 839.0C894.7 839.5 892.0 840.8 891.0 842.3C889.9 843.8 889.8 846.2 889.4 848.0C889.1 849.8 889.0 851.5 888.7 853.1C888.4 854.6 887.6 855.5 887.5 857.3C887.3 859.0 887.8 861.8 887.8 863.5C887.7 865.2 887.3 866.0 887.2 867.5C887.1 869.0 886.5 870.8 887.0 872.6C887.5 874.3 889.6 877.1 890.3 878.1C890.9 879.0 890.4 878.7 890.9 878.0C891.4 877.2 892.6 875.1 893.2 873.6C893.9 872.0 894.2 870.6 894.6 868.8C895.0 867.1 895.7 864.6 895.8 863.0C896.0 861.4 895.3 860.8 895.5 859.3C895.6 857.8 896.5 855.5 896.7 853.8C897.0 852.1 896.9 850.5 896.9 849.0C896.9 847.5 896.9 846.5 896.8 844.8C896.6 843.2 896.4 840.0 896.2 839.0C896.0 838.0 896.4 838.5 895.6 839.0Z" fill="#707070" fill-opacity="0.17" stroke="#666" stroke-opacity="0.28" stroke-width="0.7"/>
<path d="M941.0 829.9C940.8 828.8 940.6 825.7 939.4 824.4C938.2 823.1 935.7 822.7 934.1 822.1C932.5 821.5 931.1 821.2 929.5 820.9C928.0 820.7 926.2 820.6 924.9 820.4C923.5 820.1 922.3 819.9 921.4 819.6C920.5 819.2 920.5 818.7 919.6 818.1C918.7 817.5 917.7 816.1 916.0 816.1C914.2 816.0 910.3 817.6 909.2 818.0C908.0 818.4 908.8 817.9 909.0 818.6C909.3 819.3 910.0 821.1 910.8 822.3C911.5 823.5 912.4 824.6 913.8 825.8C915.2 827.0 917.2 828.8 918.9 829.6C920.6 830.5 922.4 830.7 923.9 830.9C925.4 831.2 926.5 831.1 927.9 831.2C929.2 831.2 930.7 831.4 931.9 831.4C933.1 831.4 933.6 831.4 935.0 831.2C936.5 831.0 939.7 830.6 940.7 830.4C941.7 830.2 941.2 830.9 941.0 829.9Z" fill="#707070" fill-opacity="0.13" stroke="#666" stroke-opacity="0.30" stroke-width="0.7"/>
<path d="M908.6 714.0C908.8 713.0 909.3 709.7 909.7 707.9C910.1 706.2 910.2 704.9 910.7 703.4C911.2 701.9 912.0 700.8 912.4 699.0C912.9 697.3 913.1 694.8 913.3 692.9C913.5 690.9 913.8 689.3 913.8 687.4C913.7 685.4 913.7 683.2 912.9 681.2C912.1 679.2 910.6 676.8 909.0 675.4C907.5 673.9 904.6 672.7 903.6 672.3C902.6 671.8 903.0 671.6 903.1 672.7C903.2 673.7 903.7 676.9 904.2 678.4C904.7 679.9 905.8 680.5 906.2 681.9C906.5 683.3 906.5 684.9 906.5 686.6C906.5 688.3 906.0 690.4 905.9 692.1C905.7 693.8 905.8 695.0 905.5 696.8C905.2 698.6 904.2 700.8 903.9 702.9C903.7 705.0 903.5 707.5 904.1 709.3C904.8 711.2 907.2 713.1 908.0 713.9C908.7 714.7 908.3 715.0 908.6 714.0Z" fill="#707070" fill-opacity="0.10" stroke="#666" stroke-opacity="0.18" stroke-width="0.7"/>
<path d="M868.4 773.8C868.8 774.3 870.0 775.9 871.1 776.5C872.2 777.1 873.9 777.0 875.0 777.4C876.1 777.7 877.0 778.1 877.7 778.7C878.4 779.2 878.7 779.9 879.4 780.6C880.2 781.4 881.1 782.3 882.1 783.1C883.1 783.8 884.6 784.4 885.6 785.1C886.7 785.7 887.3 786.5 888.5 786.8C889.7 787.1 892.1 787.0 892.9 786.9C893.6 786.8 893.4 786.8 893.1 786.3C892.8 785.8 891.7 784.5 890.9 783.7C890.0 782.8 889.0 781.8 888.1 781.1C887.2 780.4 886.3 780.1 885.5 779.4C884.6 778.7 883.9 777.9 882.9 777.0C881.9 776.1 880.7 774.7 879.5 774.0C878.3 773.3 876.7 772.9 875.5 772.7C874.3 772.5 873.6 772.7 872.4 772.8C871.2 772.9 869.0 773.0 868.4 773.2C867.7 773.3 867.9 773.2 868.4 773.8Z" fill="#707070" fill-opacity="0.11" stroke="#666" stroke-opacity="0.32" stroke-width="0.7"/>
<path d="M906.6 674.5C907.4 675.5 909.8 678.4 911.5 680.1C913.2 681.8 915.5 682.9 916.9 684.6C918.4 686.2 918.9 688.1 920.2 690.0C921.4 691.8 923.5 693.8 924.4 695.8C925.2 697.8 925.3 699.6 925.4 701.7C925.6 703.8 925.7 706.1 925.5 708.2C925.3 710.4 924.8 712.6 924.2 714.7C923.6 716.8 922.2 719.7 921.9 720.8C921.6 721.8 921.3 722.0 922.4 721.1C923.4 720.2 926.9 717.8 928.2 715.6C929.5 713.5 929.9 710.8 930.2 708.3C930.6 705.8 930.7 703.2 930.4 700.7C930.2 698.1 929.6 695.0 928.6 692.7C927.6 690.5 925.9 689.1 924.4 687.1C922.9 685.1 921.5 682.5 919.8 680.7C918.0 679.0 915.9 677.9 913.8 676.8C911.7 675.7 908.3 674.5 907.1 674.2C905.9 673.8 905.9 673.5 906.6 674.5Z" fill="#707070" fill-opacity="0.08" stroke="#666" stroke-opacity="0.16" stroke-width="0.7"/>
<path d="M968.8 852.6C968.6 853.6 968.3 856.9 967.8 858.5C967.3 860.2 966.1 860.7 965.9 862.5C965.8 864.3 966.5 867.3 966.9 869.3C967.2 871.3 967.9 873.1 967.9 874.6C967.8 876.2 967.2 877.3 966.6 878.4C965.9 879.6 964.6 879.9 963.8 881.4C963.0 882.9 961.7 885.4 961.6 887.5C961.5 889.5 962.7 892.7 963.0 893.8C963.3 894.9 963.0 894.6 963.6 893.9C964.1 893.1 965.5 890.8 966.2 889.4C967.0 887.9 967.1 886.9 968.2 885.3C969.3 883.8 971.7 882.1 972.7 880.1C973.7 878.1 974.2 875.4 974.2 873.3C974.3 871.3 973.5 869.5 973.0 867.9C972.6 866.4 971.6 865.8 971.6 864.1C971.5 862.4 973.0 859.4 972.7 857.5C972.3 855.6 970.1 853.5 969.4 852.7C968.8 851.9 969.1 851.7 968.8 852.6Z" fill="#707070" fill-opacity="0.13" stroke="#666" stroke-opacity="0.17" stroke-width="0.7"/>
<path d="M947.0 751.1C946.7 750.6 946.0 748.8 945.1 748.1C944.2 747.5 942.8 747.4 941.6 747.3C940.5 747.3 939.3 747.3 938.1 747.6C937.0 748.0 935.5 749.1 934.6 749.6C933.6 750.2 933.1 750.6 932.4 750.8C931.8 751.1 931.5 750.8 930.7 751.1C929.9 751.4 928.4 751.7 927.6 752.6C926.9 753.5 926.4 755.9 926.3 756.6C926.1 757.3 926.2 756.9 926.7 757.0C927.2 757.1 928.5 757.1 929.3 757.1C930.1 757.0 930.4 756.8 931.4 756.7C932.4 756.5 934.2 756.5 935.3 756.2C936.4 755.9 937.4 755.2 938.1 754.8C938.7 754.3 938.6 753.9 939.2 753.6C939.7 753.3 940.5 753.1 941.2 753.0C941.9 752.8 942.4 752.8 943.3 752.6C944.3 752.4 946.0 751.9 946.6 751.6C947.3 751.4 947.3 751.7 947.0 751.1Z" fill="#707070" fill-opacity="0.17" stroke="#666" stroke-opacity="0.16" stroke-width="0.7"/>
<path d="M974.5 758.4C975.0 757.5 976.9 755.1 977.4 753.4C977.9 751.6 977.3 749.7 977.3 748.0C977.4 746.4 977.4 744.8 977.7 743.6C978.1 742.5 978.8 742.0 979.5 740.9C980.2 739.9 981.0 738.8 981.9 737.5C982.7 736.2 983.7 734.8 984.4 733.2C985.2 731.6 985.9 729.6 986.4 727.9C986.8 726.2 986.9 723.9 986.9 723.0C986.9 722.1 987.6 722.3 986.5 722.6C985.3 722.9 981.6 723.8 980.1 724.8C978.6 725.8 978.5 727.3 977.6 728.5C976.7 729.8 975.6 731.0 974.6 732.4C973.5 733.9 972.1 735.3 971.2 737.2C970.2 739.0 969.2 741.6 968.8 743.6C968.5 745.6 968.9 747.5 969.2 749.2C969.4 750.9 969.7 752.1 970.5 753.7C971.3 755.3 973.3 757.9 973.9 758.7C974.6 759.5 973.9 759.3 974.5 758.4Z" fill="#707070" fill-opacity="0.19" stroke="#666" stroke-opacity="0.29" stroke-width="0.7"/>
<path d="M924.7 679.2C924.8 678.2 924.8 675.1 924.8 673.5C924.7 672.0 925.0 671.3 924.5 669.8C923.9 668.3 922.9 666.1 921.5 664.6C920.0 663.2 917.1 662.1 915.8 661.1C914.6 660.1 915.0 659.6 913.8 658.7C912.7 657.8 910.5 656.5 909.0 655.7C907.4 654.9 906.1 654.1 904.4 653.8C902.7 653.6 899.8 654.1 898.9 654.2C897.9 654.4 898.2 653.8 898.6 654.7C898.9 655.7 900.0 658.5 901.0 659.8C902.0 661.0 903.5 661.7 904.6 662.5C905.6 663.3 906.3 663.5 907.5 664.6C908.7 665.7 910.6 668.1 911.8 669.0C912.9 669.8 913.5 669.1 914.4 669.7C915.2 670.2 916.0 670.8 916.7 672.1C917.5 673.3 917.8 676.0 919.1 677.2C920.3 678.4 923.2 679.0 924.2 679.3C925.1 679.7 924.6 680.2 924.7 679.2Z" fill="#707070" fill-opacity="0.16" stroke="#666" stroke-opacity="0.25" stroke-width="0.7"/>
<path d="M928.9 857.4C928.9 858.3 929.2 861.1 929.1 862.2C929.1 863.2 928.3 862.9 928.6 863.8C929.0 864.7 930.2 866.4 931.3 867.5C932.4 868.5 934.1 869.4 935.3 870.0C936.6 870.7 938.0 870.9 938.8 871.3C939.6 871.6 939.4 871.7 940.1 872.1C940.8 872.5 941.7 873.2 942.8 873.4C944.0 873.6 946.1 873.2 946.8 873.1C947.6 873.0 947.2 873.7 947.3 872.8C947.5 871.8 948.2 868.7 947.9 867.3C947.7 866.0 946.8 865.6 945.9 864.7C945.0 863.8 943.3 862.4 942.4 861.7C941.4 861.1 940.7 861.0 940.1 860.8C939.5 860.6 939.2 860.7 938.7 860.5C938.2 860.3 937.9 860.5 937.1 859.7C936.3 858.9 935.2 856.3 933.9 855.8C932.6 855.3 930.0 856.6 929.2 856.9C928.3 857.1 928.9 856.5 928.9 857.4Z" fill="#707070" fill-opacity="0.15" stroke="#666" stroke-opacity="0.21" stroke-width="0.7"/>
<path d="M952.4 791.1C951.2 790.7 947.3 789.3 944.8 789.1C942.4 788.9 940.3 789.0 937.9 790.0C935.5 791.0 932.5 793.7 930.4 795.1C928.3 796.4 926.9 797.0 925.0 798.1C923.2 799.1 921.2 799.7 919.2 801.2C917.2 802.6 914.9 804.8 913.2 806.8C911.5 808.9 909.7 810.8 909.0 813.4C908.4 815.9 909.2 820.6 909.3 822.1C909.4 823.6 908.9 823.0 909.9 822.3C910.8 821.7 913.6 819.6 915.2 818.1C916.8 816.7 918.0 815.0 919.4 813.7C920.9 812.3 921.9 811.2 923.7 810.0C925.5 808.9 928.1 808.0 930.2 806.8C932.4 805.6 935.1 804.0 936.8 802.7C938.4 801.4 938.4 800.0 940.0 799.0C941.6 798.0 944.4 797.9 946.5 796.7C948.6 795.5 951.4 792.6 952.4 791.7C953.4 790.8 953.7 791.5 952.4 791.1Z" fill="#707070" fill-opacity="0.16" stroke="#666" stroke-opacity="0.22" stroke-width="0.7"/>
<path d="M956.9 810.4C955.9 810.1 953.1 809.2 951.2 809.5C949.3 809.9 947.4 811.7 945.7 812.5C944.0 813.3 942.7 813.6 941.1 814.3C939.6 815.0 937.8 816.0 936.2 816.5C934.7 817.0 933.2 817.2 931.6 817.4C930.1 817.6 928.6 817.4 926.9 817.5C925.2 817.7 923.2 817.5 921.4 818.2C919.7 819.0 917.2 821.4 916.4 822.2C915.6 822.9 915.8 822.6 916.7 822.7C917.5 822.8 920.0 822.8 921.7 822.8C923.4 822.8 925.0 822.9 926.9 822.9C928.7 823.0 930.8 823.3 932.8 823.1C934.8 822.9 936.9 822.4 938.7 821.9C940.5 821.3 941.9 820.4 943.5 819.6C945.2 818.8 947.2 817.9 948.7 817.0C950.1 816.1 950.8 815.0 952.2 814.0C953.5 813.0 956.1 811.6 956.9 811.0C957.7 810.4 957.8 810.6 956.9 810.4Z" fill="#707070" fill-opacity="0.16" stroke="#666" stroke-opacity="0.19" stroke-width="0.7"/>
<path d="M933.2 753.3C933.8 752.7 935.9 751.0 936.2 749.5C936.6 748.1 935.7 746.0 935.4 744.5C935.0 743.0 934.6 741.9 934.1 740.6C933.6 739.3 933.1 738.0 932.2 736.8C931.3 735.5 929.6 734.2 928.6 733.2C927.5 732.2 926.6 731.5 925.6 730.7C924.6 729.9 923.6 729.1 922.6 728.4C921.5 727.7 920.1 727.0 919.5 726.7C918.9 726.5 919.1 726.0 918.9 726.9C918.8 727.9 918.1 731.1 918.4 732.6C918.7 734.0 920.0 734.7 920.8 735.7C921.6 736.7 922.7 737.9 923.4 738.7C924.2 739.4 924.8 739.6 925.5 740.4C926.1 741.2 926.6 742.3 927.2 743.4C927.7 744.4 928.3 745.7 928.8 746.7C929.3 747.6 929.7 747.9 930.4 749.0C931.0 750.0 932.2 752.3 932.7 753.0C933.1 753.7 932.6 753.8 933.2 753.3Z" fill="#707070" fill-opacity="0.10" stroke="#666" stroke-opacity="0.22" stroke-width="0.7"/>
<path d="M992.9 837.7C992.2 837.1 990.1 835.3 988.5 834.6C986.8 834.0 984.8 834.2 983.2 833.9C981.6 833.6 980.5 832.9 978.8 832.7C977.1 832.6 974.7 832.7 972.8 833.1C970.9 833.4 969.1 833.8 967.3 834.8C965.6 835.9 963.8 837.7 962.6 839.4C961.4 841.0 960.7 843.1 960.1 844.7C959.4 846.3 958.8 848.4 958.6 849.2C958.4 850.1 958.0 850.0 959.0 849.7C960.0 849.4 963.4 848.3 964.7 847.3C966.1 846.3 966.3 844.8 967.1 843.8C967.8 842.9 968.3 841.9 969.4 841.3C970.5 840.7 972.1 840.3 973.5 840.0C974.8 839.7 975.9 839.4 977.5 839.4C979.0 839.4 981.2 840.1 982.9 840.2C984.6 840.3 986.0 840.2 987.7 839.9C989.4 839.6 992.2 838.7 993.1 838.3C994.0 837.9 993.7 838.3 992.9 837.7Z" fill="#707070" fill-opacity="0.15" stroke="#666" stroke-opacity="0.17" stroke-width="0.7"/>
<path d="M911.3 737.2C910.8 736.5 909.5 734.2 908.1 733.5C906.7 732.8 904.1 733.4 902.7 733.1C901.3 732.7 900.9 732.1 899.7 731.6C898.5 731.1 896.6 730.8 895.6 730.1C894.6 729.5 894.5 728.7 893.5 727.8C892.6 727.0 891.1 725.9 889.8 725.1C888.5 724.3 887.3 723.2 885.7 723.0C884.2 722.7 881.2 723.5 880.3 723.7C879.4 723.9 879.7 723.8 880.2 724.3C880.7 724.8 882.2 726.0 883.3 726.8C884.3 727.6 885.4 728.5 886.5 729.3C887.5 730.2 888.3 730.9 889.5 732.0C890.7 733.1 892.3 734.9 893.7 735.7C895.1 736.6 896.3 736.6 897.8 737.1C899.3 737.5 901.5 738.3 902.9 738.4C904.3 738.5 904.9 737.8 906.2 737.7C907.5 737.6 910.1 737.7 910.9 737.6C911.8 737.5 911.8 737.8 911.3 737.2Z" fill="#707070" fill-opacity="0.11" stroke="#666" stroke-opacity="0.28" stroke-width="0.7"/>
<path d="M949.8 696.3C950.2 697.4 951.0 700.9 952.5 702.4C953.9 704.0 956.5 704.8 958.5 705.7C960.4 706.6 962.3 707.2 964.0 708.0C965.7 708.7 966.8 709.8 968.9 710.3C971.0 710.7 974.7 710.3 976.6 710.7C978.5 711.0 978.5 711.9 980.1 712.4C981.7 712.9 984.3 713.6 986.4 713.7C988.4 713.8 991.4 713.3 992.5 713.2C993.6 713.0 993.4 713.7 992.8 712.6C992.1 711.5 990.1 708.0 988.6 706.7C987.1 705.3 985.8 705.3 983.8 704.4C981.8 703.5 978.6 701.7 976.8 701.2C974.9 700.7 974.4 701.8 972.8 701.4C971.2 701.1 969.0 699.7 967.1 699.0C965.3 698.4 963.4 697.9 961.7 697.5C960.0 697.1 958.8 696.8 956.8 696.5C954.9 696.2 951.3 695.8 950.1 695.8C949.0 695.8 949.4 695.2 949.8 696.3Z" fill="#707070" fill-opacity="0.12" stroke="#666" stroke-opacity="0.25" stroke-width="0.7"/>
<path d="M853.3 872.7C852.4 873.0 849.8 873.8 848.4 874.3C847.0 874.8 846.3 875.1 845.1 875.6C843.9 876.1 842.6 876.6 841.3 877.4C839.9 878.2 838.5 879.2 837.2 880.2C835.9 881.1 834.8 882.4 833.6 883.2C832.5 883.9 831.6 883.9 830.5 884.9C829.4 886.0 827.4 887.7 826.9 889.4C826.3 891.2 827.2 894.5 827.4 895.6C827.5 896.6 827.2 896.1 827.9 895.8C828.6 895.4 830.5 894.3 831.4 893.5C832.4 892.8 832.5 892.2 833.7 891.4C834.9 890.7 837.2 890.1 838.5 889.3C839.9 888.5 840.8 887.5 841.9 886.7C843.0 885.8 843.9 885.1 845.0 884.3C846.2 883.4 847.7 882.7 849.0 881.7C850.3 880.7 852.3 879.7 853.1 878.2C853.9 876.8 853.8 873.9 853.9 873.0C853.9 872.1 854.2 872.5 853.3 872.7Z" fill="#707070" fill-opacity="0.16" stroke="#666" stroke-opacity="0.35" stroke-width="0.7"/>
<path d="M908.3 698.1C907.9 697.5 907.1 695.4 906.0 694.9C904.9 694.4 902.8 695.1 901.8 695.0C900.8 694.9 900.9 694.4 900.0 694.3C899.1 694.1 897.7 694.0 896.6 694.1C895.4 694.2 894.3 694.2 893.1 694.7C891.9 695.2 890.3 696.0 889.4 697.1C888.4 698.1 887.3 699.7 887.4 701.1C887.4 702.4 889.0 704.6 889.5 705.3C889.9 706.0 889.6 705.6 890.1 705.3C890.5 705.0 891.7 704.1 892.2 703.6C892.7 703.2 892.6 702.8 892.9 702.4C893.3 702.1 893.6 701.8 894.2 701.5C894.7 701.3 895.7 701.3 896.5 701.2C897.3 701.1 897.9 701.1 898.9 701.1C900.0 701.1 902.1 701.5 903.0 701.3C904.0 701.1 903.7 700.6 904.5 700.2C905.4 699.7 907.4 699.0 908.0 698.6C908.6 698.3 908.6 698.7 908.3 698.1Z" fill="#707070" fill-opacity="0.21" stroke="#666" stroke-opacity="0.21" stroke-width="0.7"/>
<path d="M887.8 738.4C888.3 739.4 889.3 742.5 890.7 744.1C892.2 745.7 894.8 746.6 896.6 747.8C898.3 749.0 899.5 750.3 901.3 751.3C903.1 752.4 905.5 753.2 907.4 754.2C909.2 755.2 910.6 756.2 912.4 757.2C914.2 758.2 916.4 759.0 918.0 760.2C919.5 761.3 919.8 763.2 921.6 764.0C923.5 764.9 927.7 765.0 929.0 765.1C930.3 765.2 929.9 765.3 929.2 764.6C928.6 763.9 926.5 762.6 925.1 761.1C923.6 759.6 922.2 757.0 920.6 755.5C919.0 754.1 917.2 753.4 915.4 752.3C913.6 751.2 911.6 749.8 909.8 748.9C908.0 747.9 906.3 747.6 904.5 746.6C902.8 745.7 900.8 744.0 899.1 743.1C897.3 742.1 895.8 741.8 893.9 740.9C892.1 740.0 889.1 738.2 888.0 737.8C887.0 737.4 887.4 737.3 887.8 738.4Z" fill="#707070" fill-opacity="0.09" stroke="#666" stroke-opacity="0.21" stroke-width="0.7"/>
<path d="M938.0 880.3C937.9 880.9 937.3 882.4 937.6 883.4C937.9 884.4 939.1 885.3 939.7 886.1C940.4 886.9 941.0 887.4 941.3 888.0C941.6 888.6 941.2 889.0 941.6 889.7C942.0 890.5 943.1 891.7 943.6 892.5C944.1 893.3 944.2 893.7 944.8 894.4C945.3 895.1 946.3 896.1 947.2 896.6C948.0 897.2 949.2 897.6 949.7 897.7C950.2 897.8 950.2 898.0 950.2 897.4C950.3 896.8 950.3 894.8 950.0 894.0C949.8 893.1 949.2 893.0 948.8 892.3C948.4 891.6 948.0 890.2 947.5 889.5C947.1 888.8 946.8 888.8 946.3 888.0C945.9 887.2 945.5 885.6 944.9 884.7C944.3 883.8 943.5 883.2 942.9 882.8C942.3 882.3 941.9 882.3 941.2 881.8C940.4 881.4 939.1 880.3 938.6 880.0C938.0 879.8 938.2 879.8 938.0 880.3Z" fill="#707070" fill-opacity="0.17" stroke="#666" stroke-opacity="0.19" stroke-width="0.7"/>
<path d="M952.3 839.1C952.4 840.1 952.5 843.2 953.5 844.6C954.5 846.1 956.6 847.1 958.4 847.7C960.2 848.4 962.8 848.3 964.4 848.7C966.0 849.0 966.5 849.5 968.1 849.7C969.6 849.9 971.8 850.1 973.7 849.8C975.5 849.5 977.6 849.0 979.3 848.0C981.0 847.1 982.8 845.6 983.9 844.2C985.1 842.7 985.8 840.5 986.1 839.6C986.5 838.8 986.9 839.3 985.9 839.1C984.8 838.9 981.3 838.3 979.8 838.5C978.3 838.7 978.0 839.7 977.0 840.1C976.0 840.5 974.9 840.7 973.8 840.9C972.7 841.0 971.7 841.0 970.2 840.8C968.7 840.6 966.3 839.8 964.9 839.7C963.5 839.6 962.9 840.2 961.8 840.1C960.7 840.1 959.8 839.7 958.3 839.5C956.8 839.3 953.8 838.8 952.8 838.7C951.8 838.7 952.2 838.1 952.3 839.1Z" fill="#707070" fill-opacity="0.11" stroke="#666" stroke-opacity="0.18" stroke-width="0.7"/>
<path d="M951.8 829.4C950.8 830.0 947.7 831.6 946.4 833.4C945.0 835.1 944.9 838.3 943.8 839.8C942.8 841.4 941.3 841.1 940.1 842.7C938.9 844.2 937.7 847.0 936.7 849.0C935.7 851.1 934.9 852.8 934.2 854.8C933.5 856.8 933.2 859.3 932.5 861.2C931.8 863.0 930.5 864.1 930.2 866.1C929.9 868.2 930.4 872.1 930.6 873.3C930.8 874.5 930.5 874.2 931.2 873.5C931.9 872.7 933.7 870.5 934.9 868.8C936.1 867.0 937.7 864.9 938.6 863.0C939.5 861.2 939.8 859.4 940.5 857.6C941.2 855.8 942.2 853.8 943.0 852.1C943.7 850.5 943.8 849.2 945.0 847.5C946.2 845.7 949.0 843.5 950.0 841.6C950.9 839.8 950.6 838.2 950.9 836.3C951.3 834.3 952.0 831.0 952.1 829.9C952.3 828.8 952.8 828.8 951.8 829.4Z" fill="#707070" fill-opacity="0.20" stroke="#666" stroke-opacity="0.18" stroke-width="0.7"/>
<path d="M899.7 667.3C899.1 666.4 897.2 663.6 896.0 662.2C894.8 660.8 894.1 659.8 892.3 658.9C890.6 658.0 887.5 657.5 885.4 657.0C883.3 656.6 881.4 656.7 879.8 656.3C878.2 655.9 877.6 654.9 875.7 654.7C873.8 654.6 870.3 655.3 868.5 655.2C866.6 655.2 866.3 654.2 864.6 654.4C862.9 654.6 859.3 656.2 858.2 656.7C857.2 657.2 857.4 656.6 858.2 657.3C858.9 658.0 860.8 659.9 862.6 660.9C864.4 661.8 867.4 662.9 869.1 663.2C870.8 663.5 871.1 662.5 872.7 662.8C874.3 663.1 876.9 664.6 878.8 665.0C880.7 665.5 882.5 665.5 884.0 665.5C885.5 665.6 886.3 665.0 887.8 665.5C889.3 666.0 891.2 667.9 893.1 668.3C895.0 668.7 898.2 668.0 899.3 667.8C900.4 667.7 900.2 668.3 899.7 667.3Z" fill="#707070" fill-opacity="0.13" stroke="#666" stroke-opacity="0.29" stroke-width="0.7"/>
<path d="M867.5 805.3C868.0 806.5 869.0 810.7 871.0 812.4C872.9 814.1 876.9 814.5 879.2 815.5C881.6 816.5 883.0 817.5 885.2 818.4C887.3 819.3 889.6 820.7 892.3 821.0C895.0 821.2 898.7 820.3 901.4 819.9C904.1 819.5 906.1 819.3 908.5 818.6C910.9 817.8 913.6 816.7 915.8 815.4C918.0 814.0 920.8 811.4 921.7 810.5C922.7 809.6 922.9 810.1 921.5 809.9C920.2 809.7 916.0 809.1 913.6 809.3C911.3 809.5 909.6 810.7 907.4 811.1C905.1 811.5 902.2 811.5 900.1 811.9C898.1 812.2 896.9 813.2 895.0 813.1C893.0 812.9 890.7 811.8 888.4 810.9C886.1 810.1 883.3 808.7 881.1 808.2C878.9 807.6 877.5 808.2 875.3 807.7C873.1 807.2 869.3 805.5 868.0 805.1C866.7 804.7 867.0 804.1 867.5 805.3Z" fill="#707070" fill-opacity="0.15" stroke="#666" stroke-opacity="0.29" stroke-width="0.7"/>
<path d="M949.2 816.9C950.4 817.2 954.2 817.8 956.0 818.3C957.9 818.9 958.3 819.9 960.2 820.3C962.1 820.8 964.9 821.2 967.3 820.8C969.8 820.4 972.8 818.6 974.9 818.1C977.0 817.5 978.0 817.7 979.7 817.7C981.3 817.8 982.6 818.3 984.5 818.5C986.4 818.7 988.8 819.1 991.0 818.7C993.2 818.3 996.5 816.7 997.6 816.1C998.8 815.6 998.7 816.3 997.7 815.5C996.8 814.8 993.9 812.4 992.0 811.5C990.1 810.6 988.3 810.6 986.1 810.1C983.9 809.6 981.3 808.7 978.8 808.5C976.3 808.4 973.1 808.9 971.2 809.4C969.3 809.9 968.9 811.1 967.3 811.5C965.8 812.0 964.2 812.0 962.0 812.0C959.8 811.9 956.2 810.7 954.0 811.4C951.8 812.1 949.7 815.5 948.9 816.4C948.1 817.3 948.0 816.6 949.2 816.9Z" fill="#707070" fill-opacity="0.18" stroke="#666" stroke-opacity="0.18" stroke-width="0.7"/>
<path d="M908.8 718.9C907.7 719.3 904.3 720.5 902.6 722.1C900.9 723.6 899.7 726.0 898.6 728.1C897.4 730.2 896.7 732.5 895.8 734.6C894.9 736.7 894.0 738.6 893.1 740.6C892.1 742.5 890.8 744.1 890.0 746.2C889.3 748.4 889.4 751.6 888.6 753.6C887.8 755.5 886.6 756.5 885.3 757.9C884.0 759.3 881.5 761.0 880.8 761.8C880.1 762.5 879.7 762.5 881.1 762.3C882.4 762.1 886.6 761.9 888.7 760.7C890.8 759.4 892.7 756.6 893.7 754.6C894.8 752.7 894.2 750.9 895.0 748.9C895.7 747.0 897.3 744.9 898.3 742.9C899.3 740.8 900.2 738.7 901.0 736.7C901.8 734.6 902.3 732.7 903.1 730.8C903.9 728.9 904.7 727.2 905.7 725.3C906.7 723.4 908.6 720.4 909.1 719.4C909.7 718.3 909.9 718.4 908.8 718.9Z" fill="#707070" fill-opacity="0.19" stroke="#666" stroke-opacity="0.32" stroke-width="0.7"/>
<path d="M902.7 757.2C903.1 758.0 904.1 760.8 905.4 761.7C906.7 762.7 908.8 762.8 910.5 763.0C912.2 763.2 914.1 762.8 915.4 762.9C916.8 763.0 917.0 763.7 918.5 763.6C920.0 763.5 923.1 762.3 924.5 762.1C925.9 761.9 925.6 762.7 927.0 762.3C928.3 761.9 931.1 760.8 932.5 759.8C933.9 758.7 934.8 756.7 935.3 756.0C935.7 755.3 936.1 755.8 935.1 755.4C934.2 755.0 931.0 753.7 929.8 753.5C928.6 753.4 929.0 754.3 927.7 754.3C926.3 754.4 923.2 753.7 921.9 753.8C920.5 753.9 921.0 754.8 919.8 754.8C918.6 754.9 916.1 754.3 914.6 754.3C913.2 754.3 912.4 754.8 911.3 755.0C910.2 755.2 909.4 755.2 908.1 755.5C906.7 755.8 904.0 756.5 903.1 756.7C902.2 757.0 902.3 756.4 902.7 757.2Z" fill="#707070" fill-opacity="0.17" stroke="#666" stroke-opacity="0.32" stroke-width="0.7"/>
<path d="M903.0 899.0C903.7 900.0 905.6 903.2 907.5 904.7C909.4 906.1 912.1 906.7 914.3 907.6C916.6 908.5 918.6 909.3 920.9 909.8C923.3 910.4 926.1 910.4 928.3 911.0C930.4 911.5 932.3 912.1 933.8 913.1C935.3 914.1 935.3 915.8 937.1 917.0C938.9 918.2 942.0 919.9 944.6 920.3C947.1 920.8 951.1 919.8 952.4 919.6C953.8 919.4 953.5 919.8 952.6 919.0C951.7 918.2 949.0 915.9 947.3 914.8C945.6 913.6 944.3 913.5 942.5 912.0C940.7 910.5 938.8 907.2 936.6 905.7C934.4 904.2 931.6 903.6 929.4 903.0C927.1 902.4 925.3 902.7 923.2 902.3C921.0 901.9 918.8 901.1 916.6 900.6C914.5 900.1 912.8 899.6 910.5 899.2C908.2 898.9 904.3 898.4 903.0 898.4C901.8 898.3 902.2 897.9 903.0 899.0Z" fill="#707070" fill-opacity="0.15" stroke="#666" stroke-opacity="0.21" stroke-width="0.7"/>
<path d="M917.7 842.2C918.1 841.5 919.6 839.2 919.7 837.6C919.9 836.0 918.8 833.9 918.7 832.4C918.6 830.8 918.8 829.6 919.2 828.4C919.5 827.2 920.6 826.6 921.0 825.2C921.4 823.7 921.6 821.5 921.7 819.8C921.9 818.1 922.2 816.8 922.1 815.1C922.0 813.5 922.0 811.6 921.3 810.0C920.5 808.5 918.3 806.6 917.5 806.0C916.8 805.3 917.0 805.5 917.0 806.2C917.0 807.0 917.4 809.1 917.5 810.5C917.6 811.8 917.8 813.2 917.7 814.6C917.6 816.1 917.2 817.8 917.0 819.2C916.8 820.6 917.1 821.6 916.6 823.1C916.2 824.6 914.8 826.4 914.4 828.2C914.1 829.9 914.2 832.0 914.4 833.6C914.7 835.1 915.5 835.9 916.0 837.3C916.4 838.7 916.9 841.1 917.2 841.9C917.5 842.8 917.3 842.9 917.7 842.2Z" fill="#707070" fill-opacity="0.14" stroke="#666" stroke-opacity="0.22" stroke-width="0.7"/>
<path d="M901.6 804.0C902.5 804.9 905.2 807.9 907.5 808.7C909.7 809.5 913.2 808.5 915.3 808.9C917.4 809.2 918.3 810.1 920.1 810.8C922.0 811.4 924.6 811.9 926.5 812.6C928.4 813.4 929.4 814.7 931.8 815.1C934.1 815.5 938.1 815.1 940.6 814.9C943.2 814.8 944.9 815.2 947.1 814.2C949.3 813.3 952.6 810.2 953.6 809.3C954.7 808.4 954.6 809.1 953.5 808.7C952.4 808.3 949.3 807.3 947.1 806.9C944.9 806.5 942.1 806.3 940.2 806.3C938.3 806.2 937.6 807.2 935.8 806.7C933.9 806.2 931.2 804.3 929.0 803.5C926.8 802.6 924.9 802.3 922.5 801.8C920.1 801.3 916.7 800.3 914.5 800.3C912.2 800.2 911.2 801.1 909.1 801.6C907.0 802.2 903.1 803.1 901.9 803.4C900.7 803.8 900.7 803.1 901.6 804.0Z" fill="#707070" fill-opacity="0.17" stroke="#666" stroke-opacity="0.36" stroke-width="0.7"/>
<path d="M873.1 870.7C873.1 871.5 873.2 874.1 873.7 875.5C874.1 876.9 874.8 877.9 875.6 879.0C876.5 880.2 877.9 881.4 878.7 882.4C879.6 883.5 880.3 884.3 880.8 885.3C881.2 886.2 880.9 886.9 881.5 888.1C882.1 889.2 883.3 891.0 884.4 892.2C885.4 893.4 886.2 894.6 887.6 895.2C889.0 895.9 891.9 895.9 892.8 895.9C893.7 896.0 893.4 896.1 893.1 895.4C892.9 894.7 892.2 892.9 891.6 891.8C891.0 890.6 890.1 889.6 889.5 888.7C888.9 887.8 888.4 887.4 887.9 886.1C887.3 884.9 887.0 882.6 886.2 881.2C885.5 879.8 884.3 878.5 883.4 877.6C882.5 876.6 881.6 876.3 880.7 875.4C879.8 874.5 879.1 873.1 877.9 872.4C876.7 871.6 874.5 870.9 873.7 870.6C872.9 870.4 873.1 869.9 873.1 870.7Z" fill="#707070" fill-opacity="0.10" stroke="#666" stroke-opacity="0.16" stroke-width="0.7"/>
<path d="M867.8 760.2C866.8 759.4 863.2 757.3 861.4 756.0C859.7 754.8 858.7 754.0 857.2 752.8C855.8 751.6 854.5 750.2 852.5 749.1C850.5 748.0 847.7 746.6 845.0 746.2C842.4 745.7 838.6 746.5 836.5 746.2C834.4 745.9 834.1 745.0 832.3 744.4C830.5 743.8 828.2 742.3 825.8 742.6C823.3 742.8 819.0 745.3 817.7 746.0C816.3 746.7 816.8 746.0 817.7 746.6C818.5 747.3 821.0 748.8 822.9 749.9C824.7 750.9 826.4 751.9 828.7 753.0C831.1 754.0 834.7 755.8 836.9 756.3C839.0 756.8 840.0 755.7 841.7 755.9C843.3 756.1 844.9 756.5 846.8 757.3C848.7 758.2 850.7 760.0 853.1 761.1C855.4 762.2 858.4 763.9 860.8 763.9C863.2 763.8 866.5 761.4 867.7 760.8C868.9 760.2 868.9 761.0 867.8 760.2Z" fill="#707070" fill-opacity="0.15" stroke="#666" stroke-opacity="0.26" stroke-width="0.7"/>
<path d="M937.5 672.7C936.5 671.8 933.8 668.8 931.4 667.9C929.0 667.0 925.6 667.6 923.1 667.3C920.6 667.0 918.7 666.4 916.2 666.3C913.8 666.2 910.6 666.9 908.3 666.7C906.0 666.5 904.2 665.9 902.5 665.0C900.7 664.1 900.0 662.4 897.9 661.4C895.8 660.3 892.5 659.3 889.9 658.7C887.4 658.1 883.7 657.9 882.4 657.9C881.1 657.8 881.3 657.3 882.2 658.4C883.0 659.5 885.8 663.0 887.7 664.4C889.5 665.9 891.3 665.8 893.4 667.1C895.5 668.5 897.8 671.3 900.4 672.6C903.0 673.8 906.3 674.4 908.8 674.7C911.3 675.0 913.1 674.2 915.5 674.2C917.9 674.1 920.9 674.7 923.2 674.6C925.6 674.5 927.2 674.0 929.6 673.8C932.0 673.5 936.2 673.5 937.5 673.3C938.8 673.2 938.5 673.6 937.5 672.7Z" fill="#707070" fill-opacity="0.10" stroke="#666" stroke-opacity="0.26" stroke-width="0.7"/>
<path d="M853.6 740.9C853.1 740.7 851.6 740.2 850.7 740.1C849.9 739.9 849.5 739.7 848.6 739.9C847.7 740.1 846.2 740.9 845.3 741.3C844.4 741.8 843.8 742.2 843.1 742.6C842.4 742.9 841.8 743.1 841.1 743.3C840.5 743.5 839.9 743.5 839.1 743.7C838.3 744.0 837.3 744.3 836.5 744.7C835.7 745.1 834.8 745.8 834.5 746.1C834.1 746.4 833.9 746.3 834.4 746.7C834.9 747.1 836.6 748.3 837.5 748.5C838.4 748.8 838.9 748.3 839.8 748.2C840.7 748.1 841.9 748.1 842.8 747.9C843.8 747.7 844.8 747.3 845.6 746.9C846.4 746.5 847.2 746.0 847.8 745.6C848.4 745.2 848.3 744.7 849.0 744.4C849.6 744.2 851.1 744.3 851.9 743.8C852.7 743.3 853.5 742.0 853.8 741.5C854.1 741.0 854.1 741.2 853.6 740.9Z" fill="#707070" fill-opacity="0.15" stroke="#666" stroke-opacity="0.27" stroke-width="0.7"/>
<path d="M876.4 833.6C876.8 834.3 877.6 836.4 878.7 837.1C879.9 837.8 882.0 838.1 883.5 838.1C885.1 838.1 886.8 837.8 888.2 837.0C889.7 836.3 891.0 834.8 892.1 833.7C893.2 832.6 894.2 831.9 894.9 830.6C895.6 829.3 895.8 827.0 896.3 825.8C896.8 824.5 897.5 824.2 898.0 823.1C898.5 821.9 899.0 819.7 899.1 818.9C899.2 818.2 899.3 818.3 898.6 818.6C897.9 818.9 895.9 819.8 894.8 820.8C893.7 821.8 892.5 823.4 891.9 824.5C891.3 825.6 891.7 826.4 891.2 827.3C890.6 828.2 889.3 829.3 888.6 830.1C887.9 830.9 887.6 831.7 886.8 832.3C886.1 832.9 884.9 833.3 883.9 833.5C882.9 833.7 882.1 833.9 880.8 833.8C879.6 833.7 877.2 833.1 876.5 833.0C875.7 833.0 876.0 832.9 876.4 833.6Z" fill="#707070" fill-opacity="0.17" stroke="#666" stroke-opacity="0.24" stroke-width="0.7"/>
<path d="M876.7 716.7C875.8 716.7 873.0 716.3 871.4 716.7C869.8 717.1 868.4 718.5 867.0 719.1C865.6 719.8 864.4 720.2 863.1 720.5C861.9 720.8 860.6 720.9 859.4 720.9C858.2 720.8 857.4 720.2 855.9 720.2C854.4 720.2 851.9 720.7 850.3 720.8C848.7 720.9 847.8 720.5 846.4 720.6C845.0 720.6 842.6 720.9 841.8 721.0C841.0 721.2 841.0 720.7 841.6 721.6C842.2 722.5 843.9 725.3 845.4 726.3C847.0 727.3 849.4 727.4 850.9 727.6C852.4 727.8 853.1 727.3 854.7 727.4C856.3 727.6 858.6 728.4 860.5 728.3C862.5 728.3 864.4 727.8 866.1 727.2C867.9 726.6 869.6 725.7 870.9 724.7C872.2 723.8 873.2 723.0 874.2 721.8C875.3 720.5 876.8 718.0 877.2 717.1C877.6 716.3 877.7 716.8 876.7 716.7Z" fill="#707070" fill-opacity="0.19" stroke="#666" stroke-opacity="0.22" stroke-width="0.7"/>
<path d="M965.9 686.6C965.4 686.0 963.9 684.1 963.2 683.3C962.6 682.6 962.4 682.5 962.1 682.0C961.9 681.6 962.4 681.4 961.7 680.8C961.1 680.3 959.4 679.3 958.1 678.9C956.8 678.5 955.0 678.5 953.8 678.5C952.7 678.4 951.9 678.6 951.1 678.7C950.2 678.8 949.8 678.6 949.0 678.9C948.2 679.2 946.8 680.2 946.2 680.6C945.7 680.9 945.7 680.2 945.9 681.0C946.1 681.9 946.8 684.8 947.6 685.8C948.4 686.8 949.8 686.8 950.7 687.1C951.7 687.4 952.7 687.5 953.3 687.5C953.9 687.6 954.0 687.4 954.4 687.4C954.8 687.4 954.9 687.1 955.7 687.6C956.5 688.0 958.1 689.5 959.3 690.0C960.6 690.4 962.1 690.9 963.2 690.4C964.4 690.0 965.6 687.8 966.0 687.2C966.4 686.5 966.3 687.2 965.9 686.6Z" fill="#707070" fill-opacity="0.20" stroke="#666" stroke-opacity="0.17" stroke-width="0.7"/>
<path d="M971.4 881.1C970.8 882.0 968.7 884.7 968.3 886.7C968.0 888.6 969.1 891.0 969.2 892.8C969.2 894.5 969.1 895.8 968.7 897.1C968.4 898.4 967.5 899.1 967.1 900.6C966.6 902.2 966.3 904.7 966.1 906.7C965.8 908.6 965.4 910.2 965.7 912.2C966.0 914.2 966.8 916.9 967.8 918.8C968.8 920.6 971.1 922.5 971.9 923.2C972.7 923.9 972.0 924.1 972.5 923.1C972.9 922.0 974.2 918.6 974.4 917.0C974.7 915.3 973.7 914.7 973.8 913.2C973.8 911.7 974.4 909.7 974.7 908.2C975.0 906.6 975.0 905.5 975.5 903.7C976.0 901.8 977.2 899.3 977.5 897.1C977.7 895.0 977.4 892.5 977.0 890.8C976.6 889.0 976.0 888.1 975.2 886.6C974.4 885.0 972.6 882.3 972.0 881.4C971.3 880.5 972.0 880.3 971.4 881.1Z" fill="#707070" fill-opacity="0.14" stroke="#666" stroke-opacity="0.33" stroke-width="0.7"/>
<path d="M849.8 825.7C851.0 825.4 854.8 824.1 856.9 823.2C859.0 822.3 860.6 821.6 862.5 820.5C864.4 819.4 866.7 818.5 868.5 816.7C870.3 814.9 872.1 812.0 873.3 809.5C874.4 807.1 875.4 804.7 875.6 802.0C875.8 799.3 875.3 796.1 874.5 793.5C873.8 790.9 872.6 788.3 870.9 786.4C869.2 784.4 865.7 782.4 864.6 781.7C863.4 781.0 864.0 780.8 864.0 782.0C864.1 783.2 864.4 787.0 864.8 789.1C865.3 791.2 866.3 792.8 866.7 794.5C867.2 796.2 867.6 797.8 867.5 799.5C867.3 801.3 866.4 803.4 865.8 805.1C865.1 806.8 864.8 808.3 863.6 809.7C862.4 811.2 860.2 812.4 858.3 813.8C856.4 815.2 853.8 816.5 852.3 818.4C850.9 820.3 849.9 824.0 849.5 825.2C849.0 826.4 848.5 826.1 849.8 825.7Z" fill="#707070" fill-opacity="0.19" stroke="#666" stroke-opacity="0.35" stroke-width="0.7"/>
<path d="M976.7 680.5C977.2 680.2 978.5 679.0 979.2 678.5C979.9 678.0 980.4 678.2 981.0 677.5C981.5 676.7 982.2 675.0 982.6 673.9C983.0 672.9 983.3 672.2 983.5 671.3C983.7 670.3 983.7 669.0 983.8 668.0C983.8 666.9 984.0 666.1 983.7 665.0C983.4 664.0 982.8 662.4 982.0 661.6C981.1 660.8 979.3 660.3 978.7 660.1C978.0 660.0 978.2 660.0 978.2 660.5C978.2 661.1 978.4 662.6 978.6 663.3C978.7 664.0 979.2 664.2 979.3 664.9C979.3 665.6 979.1 666.7 979.0 667.5C978.9 668.3 979.0 669.0 978.8 669.8C978.6 670.6 978.2 671.7 978.0 672.4C977.9 673.2 978.3 673.5 977.9 674.2C977.5 675.0 975.9 676.1 975.6 677.1C975.4 678.1 976.0 679.7 976.1 680.3C976.3 680.9 976.2 680.8 976.7 680.5Z" fill="#707070" fill-opacity="0.09" stroke="#666" stroke-opacity="0.15" stroke-width="0.7"/>
<path d="M842.0 881.8C842.0 881.0 842.0 878.7 841.7 877.6C841.5 876.5 840.8 875.9 840.5 875.1C840.1 874.3 840.0 873.7 839.7 872.9C839.3 872.0 838.6 870.9 838.1 870.1C837.7 869.2 837.7 868.5 836.9 867.6C836.1 866.6 834.5 865.1 833.2 864.4C831.9 863.7 830.2 863.2 828.8 863.2C827.5 863.2 826.0 864.0 825.4 864.2C824.7 864.5 824.8 863.9 825.0 864.7C825.2 865.6 826.1 868.5 826.7 869.4C827.2 870.3 827.8 870.0 828.2 870.3C828.6 870.6 828.9 870.5 829.3 871.2C829.7 871.8 830.2 873.4 830.7 874.4C831.2 875.3 831.7 876.0 832.3 876.9C833.0 877.9 833.7 879.2 834.6 880.2C835.4 881.1 836.2 882.1 837.4 882.5C838.6 882.8 841.0 882.5 841.8 882.4C842.5 882.3 842.0 882.6 842.0 881.8Z" fill="#808080" fill-opacity="0.08" stroke="#777" stroke-opacity="0.19" stroke-width="0.7"/>
<path d="M908.5 887.7C908.6 888.5 908.7 890.9 909.5 892.0C910.4 893.2 912.6 893.7 913.6 894.5C914.6 895.3 914.5 896.0 915.3 896.7C916.1 897.5 917.6 898.5 918.6 899.3C919.6 900.1 920.2 900.9 921.4 901.6C922.5 902.3 924.3 902.9 925.2 903.5C926.2 904.2 925.8 905.0 926.8 905.5C927.8 906.1 930.6 906.7 931.5 906.8C932.3 906.9 932.0 907.0 931.8 906.3C931.7 905.7 931.3 904.1 930.7 902.8C930.0 901.6 928.8 899.6 927.9 898.7C927.0 897.7 926.2 897.7 925.2 897.0C924.3 896.3 923.2 895.2 922.2 894.4C921.3 893.7 920.6 893.3 919.5 892.5C918.4 891.7 916.9 890.0 915.8 889.4C914.8 888.8 914.2 889.2 913.0 888.9C911.9 888.6 909.8 887.8 909.1 887.6C908.3 887.4 908.4 887.0 908.5 887.7Z" fill="#808080" fill-opacity="0.09" stroke="#777" stroke-opacity="0.15" stroke-width="0.7"/>
<path d="M945.9 890.4C945.1 890.3 942.5 890.4 941.3 890.3C940.1 890.1 939.7 889.9 938.8 889.6C938.0 889.4 937.3 889.0 936.2 888.7C935.1 888.5 933.8 888.1 932.3 888.1C930.8 888.2 928.8 888.4 927.3 889.1C925.7 889.9 924.1 891.6 923.0 892.7C921.9 893.8 921.1 894.5 920.5 895.8C920.0 897.0 919.7 899.4 919.6 900.2C919.5 901.0 919.2 900.7 920.0 900.7C920.9 900.7 923.4 900.6 924.7 900.1C926.0 899.7 927.0 898.6 927.7 898.0C928.4 897.4 928.4 896.9 929.0 896.6C929.6 896.2 930.3 895.9 931.3 895.9C932.3 895.8 933.5 896.1 934.8 896.3C936.2 896.4 938.0 896.9 939.6 896.7C941.2 896.5 943.5 896.2 944.6 895.3C945.7 894.3 946.1 891.7 946.3 890.9C946.5 890.1 946.7 890.5 945.9 890.4Z" fill="#808080" fill-opacity="0.14" stroke="#777" stroke-opacity="0.22" stroke-width="0.7"/>
<path d="M928.7 916.5C929.7 916.6 932.8 916.9 934.6 916.5C936.4 916.2 937.9 915.4 939.6 914.5C941.2 913.6 942.8 912.4 944.3 911.3C945.8 910.2 947.1 909.0 948.5 908.1C949.9 907.2 951.2 906.9 952.6 905.8C954.0 904.6 955.6 902.4 956.9 901.5C958.2 900.5 959.1 900.9 960.5 900.1C961.8 899.4 964.1 897.6 964.8 897.0C965.5 896.4 965.7 896.7 964.7 896.4C963.7 896.1 960.8 894.9 958.8 895.0C956.7 895.1 954.1 896.1 952.5 896.9C950.9 897.7 950.6 898.8 949.2 899.8C947.9 900.8 945.7 901.6 944.2 902.6C942.7 903.6 941.5 904.8 940.2 905.8C939.0 906.9 937.9 907.9 936.6 908.8C935.3 909.8 933.7 910.4 932.4 911.6C931.0 912.8 929.3 915.1 928.7 915.9C928.1 916.7 927.7 916.4 928.7 916.5Z" fill="#808080" fill-opacity="0.09" stroke="#777" stroke-opacity="0.23" stroke-width="0.7"/>
<path d="M882.4 917.1C882.7 915.8 883.1 911.6 883.8 909.5C884.5 907.3 886.0 906.3 886.6 904.1C887.2 901.8 886.7 898.1 887.3 895.9C887.9 893.7 889.5 893.0 890.2 890.8C891.0 888.6 891.3 885.3 891.9 882.9C892.4 880.4 892.8 878.1 893.7 876.2C894.6 874.3 896.7 873.7 897.4 871.5C898.1 869.3 897.9 864.5 897.9 863.0C897.8 861.6 898.0 862.0 897.3 862.8C896.6 863.7 895.1 866.2 893.5 868.2C892.0 870.1 889.2 872.2 887.9 874.4C886.6 876.7 886.1 879.4 885.5 881.6C884.9 883.8 885.1 885.5 884.3 887.9C883.5 890.2 881.4 893.3 880.8 895.7C880.3 898.0 881.3 899.6 881.0 902.0C880.6 904.4 878.6 907.6 878.7 910.1C878.8 912.6 881.2 915.7 881.8 916.9C882.4 918.0 882.0 918.3 882.4 917.1Z" fill="#808080" fill-opacity="0.14" stroke="#777" stroke-opacity="0.13" stroke-width="0.7"/>
<path d="M888.7 877.4C888.5 878.3 887.4 880.6 887.6 882.3C887.8 884.0 889.2 885.9 890.2 887.4C891.1 888.9 892.0 890.2 893.2 891.5C894.5 892.7 896.0 894.0 897.7 894.8C899.4 895.6 901.8 895.6 903.4 896.1C905.0 896.6 905.7 897.5 907.3 897.8C909.0 898.0 911.4 897.8 913.2 897.5C915.0 897.2 917.2 896.2 918.0 895.8C918.8 895.5 918.8 895.7 918.0 895.2C917.2 894.8 914.6 893.6 913.1 893.3C911.7 893.0 910.8 893.6 909.4 893.2C907.9 892.9 905.9 891.4 904.5 890.9C903.1 890.4 902.0 890.8 900.8 890.3C899.6 889.9 898.4 889.1 897.4 888.1C896.3 887.2 895.3 885.8 894.4 884.7C893.4 883.7 892.6 883.0 891.8 881.7C890.9 880.4 889.7 877.8 889.2 877.1C888.7 876.3 889.0 876.5 888.7 877.4Z" fill="#808080" fill-opacity="0.16" stroke="#777" stroke-opacity="0.15" stroke-width="0.7"/>
<path d="M882.7 922.9C883.2 921.9 884.3 919.2 884.8 917.3C885.3 915.4 885.4 913.5 885.7 911.5C885.9 909.6 885.8 907.4 886.2 905.7C886.7 903.9 887.5 902.6 888.3 901.0C889.0 899.4 890.0 897.7 890.8 895.9C891.5 894.1 891.9 891.9 892.5 890.0C893.1 888.1 893.7 886.3 894.3 884.6C895.0 882.8 896.1 880.3 896.3 879.4C896.6 878.5 896.8 878.4 895.9 879.1C894.9 879.7 892.1 881.6 890.9 883.2C889.6 884.8 889.1 886.9 888.4 888.7C887.7 890.4 887.3 892.1 886.6 893.8C885.8 895.6 884.7 897.3 883.9 899.2C883.0 901.1 882.0 903.4 881.6 905.3C881.2 907.3 881.4 909.2 881.3 911.1C881.3 913.0 881.0 915.0 881.1 917.0C881.2 918.9 881.9 922.0 882.1 923.0C882.4 924.0 882.3 923.8 882.7 922.9Z" fill="#808080" fill-opacity="0.12" stroke="#777" stroke-opacity="0.26" stroke-width="0.7"/>
<path d="M929.3 911.5C928.9 912.3 927.5 914.5 927.4 915.9C927.2 917.3 927.7 918.6 928.4 919.9C929.0 921.3 930.5 922.9 931.2 924.0C931.9 925.2 932.1 925.8 932.5 926.7C933.0 927.6 933.5 928.7 933.9 929.6C934.2 930.5 934.4 931.4 934.6 932.3C934.7 933.2 934.4 933.9 934.9 935.0C935.3 936.1 936.9 938.2 937.4 938.9C937.9 939.6 937.2 939.6 938.0 939.0C938.7 938.4 941.0 936.9 941.8 935.5C942.6 934.1 942.6 932.4 942.7 930.8C942.7 929.2 942.4 927.5 942.0 926.1C941.6 924.6 941.0 923.4 940.4 922.1C939.7 920.8 938.7 919.2 937.9 918.3C937.2 917.4 936.6 917.5 935.9 916.7C935.3 916.0 935.0 914.8 934.0 913.8C933.0 912.9 930.6 911.5 929.8 911.1C929.0 910.7 929.7 910.7 929.3 911.5Z" fill="#808080" fill-opacity="0.11" stroke="#777" stroke-opacity="0.14" stroke-width="0.7"/>
<path d="M902.3 905.2C901.4 905.0 898.6 904.8 897.2 904.8C895.8 904.8 895.1 904.8 893.8 905.0C892.6 905.2 891.0 905.4 889.5 906.3C888.1 907.1 886.3 909.0 885.1 909.9C883.9 910.8 883.3 910.7 882.3 911.5C881.2 912.4 879.8 913.9 878.7 915.0C877.7 916.1 876.8 916.7 876.0 917.9C875.2 919.1 874.4 921.3 874.2 922.1C873.9 922.8 873.5 922.4 874.4 922.6C875.4 922.7 878.4 923.2 880.0 922.9C881.6 922.6 882.7 921.4 883.8 920.6C884.8 919.9 885.2 919.4 886.4 918.6C887.6 917.8 889.8 916.8 890.8 916.0C891.8 915.2 891.5 914.6 892.4 913.9C893.2 913.3 894.5 912.9 895.9 912.3C897.2 911.7 899.4 911.4 900.5 910.3C901.6 909.2 902.3 906.5 902.6 905.7C902.9 904.8 903.2 905.3 902.3 905.2Z" fill="#808080" fill-opacity="0.08" stroke="#777" stroke-opacity="0.32" stroke-width="0.7"/>
<path d="M886.1 911.7C886.1 910.7 886.3 907.6 885.5 906.0C884.7 904.5 882.9 903.3 881.3 902.4C879.6 901.5 877.2 901.0 875.5 900.6C873.8 900.1 872.0 900.1 870.9 899.6C869.9 899.2 869.8 898.5 869.2 897.8C868.7 897.1 868.3 896.3 867.7 895.4C867.1 894.4 867.0 892.8 865.5 892.0C864.0 891.1 860.0 890.6 858.8 890.4C857.6 890.2 858.4 890.1 858.5 890.9C858.5 891.6 858.6 893.4 859.0 894.9C859.3 896.4 859.7 898.1 860.5 899.8C861.3 901.5 862.2 903.6 863.7 905.1C865.1 906.6 867.6 908.1 869.2 908.8C870.9 909.6 872.4 909.4 873.6 909.5C874.9 909.7 875.6 909.4 876.7 909.6C877.8 909.8 878.7 910.4 880.2 910.8C881.6 911.2 884.6 911.8 885.6 912.0C886.6 912.1 886.1 912.7 886.1 911.7Z" fill="#808080" fill-opacity="0.09" stroke="#777" stroke-opacity="0.16" stroke-width="0.7"/>
</g>
<path d="M969.8 627.0C976.2 626.5 981.3 628.6 985.2 630.8C989.1 633.0 991.3 636.7 993.0 640.1C994.7 643.5 995.0 644.0 995.3 651.0C995.5 658.0 994.9 671.6 994.5 681.9C994.1 692.2 993.1 702.6 993.0 712.9C992.9 723.2 993.3 733.5 993.7 743.8C994.1 754.1 994.9 762.1 995.3 774.8C995.7 787.5 996.0 802.0 996.0 820.0C996.0 838.0 995.5 868.9 995.3 882.9C995.0 896.9 996.2 900.1 994.5 903.8C992.8 907.5 989.4 905.2 985.3 905.3C981.2 905.4 974.4 905.1 969.8 904.5C965.1 903.9 960.2 902.4 957.4 901.4C954.5 900.4 953.7 896.2 952.7 898.3C951.7 900.4 952.5 909.9 951.2 913.8C949.9 917.7 946.3 918.5 945.0 921.6C943.7 924.7 945.0 928.5 943.5 932.4C942.0 936.3 939.6 941.4 935.7 944.8C931.8 948.1 925.9 950.8 920.2 952.5C914.5 954.2 907.6 955.3 901.7 954.8C895.8 954.3 890.5 952.1 884.6 949.4C878.7 946.7 871.2 942.5 866.1 938.6C861.0 934.7 856.3 930.9 853.7 926.2C851.1 921.6 852.7 915.9 850.6 910.7C848.5 905.5 844.1 899.8 841.3 895.2C838.5 890.6 835.5 887.0 833.6 882.9C831.7 878.8 831.0 875.1 829.7 870.5C828.4 865.9 826.2 859.9 825.8 855.0C825.4 850.1 827.4 848.8 827.4 841.1C827.4 833.4 825.5 817.1 825.8 808.6C826.0 800.1 827.9 796.9 828.9 790.0C829.9 783.1 831.0 774.7 832.0 767.0C833.0 759.3 833.8 750.8 835.1 743.8C836.4 736.8 838.0 730.9 839.8 725.2C841.6 719.5 843.2 715.2 846.0 709.8C848.8 704.4 852.9 698.1 856.8 692.7C860.7 687.3 864.6 682.2 869.2 677.3C873.8 672.4 879.2 667.4 884.6 663.3C890.0 659.2 895.2 656.1 901.7 652.5C908.2 648.9 915.8 644.8 923.3 641.7C930.8 638.6 938.8 636.4 946.5 633.9C954.2 631.4 963.3 627.5 969.8 627.0Z" fill="none" stroke="#c8c8c8" stroke-width="0.9"/>
<path d="M1028.3 627.0C1034.8 627.0 1043.7 629.6 1050.5 631.6C1057.3 633.6 1062.8 636.5 1068.9 639.0C1075.1 641.5 1081.2 643.6 1087.4 646.4C1093.6 649.2 1099.7 652.0 1105.9 655.7C1112.1 659.4 1118.9 663.7 1124.4 668.6C1130.0 673.5 1134.6 679.7 1139.2 685.2C1143.8 690.8 1148.4 696.4 1152.1 701.9C1155.8 707.4 1158.9 712.6 1161.4 718.5C1163.9 724.4 1165.5 730.8 1166.9 737.0C1168.3 743.2 1168.8 748.7 1169.7 755.5C1170.6 762.3 1171.5 770.3 1172.4 777.7C1173.3 785.1 1174.4 791.1 1175.2 799.8C1176.0 808.5 1177.0 821.6 1177.1 830.0C1177.2 838.4 1176.9 844.5 1176.0 850.0C1175.1 855.5 1173.0 858.4 1171.5 863.0C1170.0 867.6 1169.0 872.8 1167.1 877.7C1165.1 882.6 1161.5 887.9 1159.8 892.3C1158.1 896.7 1158.4 899.6 1156.9 904.0C1155.4 908.4 1153.4 913.7 1151.0 918.6C1148.6 923.5 1145.7 928.8 1142.3 933.2C1138.9 937.6 1135.5 941.7 1130.6 944.9C1125.7 948.1 1118.5 950.8 1113.1 952.2C1107.7 953.7 1103.3 953.9 1098.4 953.6C1093.5 953.4 1088.7 952.2 1083.8 950.7C1078.9 949.2 1073.1 947.3 1069.2 944.9C1065.3 942.5 1062.5 940.0 1060.5 936.1C1058.5 932.2 1059.5 925.2 1057.5 921.5C1055.5 917.8 1050.4 916.6 1048.7 913.8C1047.0 911.0 1050.0 906.3 1047.2 904.5C1044.4 902.7 1035.6 903.5 1031.7 903.0C1027.8 902.5 1026.5 901.0 1023.9 901.4C1021.3 901.8 1019.0 904.8 1016.2 905.3C1013.4 905.8 1008.9 908.7 1006.9 904.5C1004.9 900.3 1004.3 894.1 1004.0 880.0C1003.7 865.9 1005.0 840.8 1005.2 820.0C1005.4 799.2 1005.1 771.2 1005.2 755.5C1005.4 739.8 1005.8 737.1 1006.1 726.0C1006.4 714.9 1007.0 701.3 1007.0 689.0C1007.0 676.7 1006.0 660.3 1006.1 652.0C1006.2 643.7 1007.0 642.4 1007.9 639.0C1008.8 635.6 1008.2 633.6 1011.6 631.6C1015.0 629.6 1021.8 627.0 1028.3 627.0Z" fill="#e9e9e9"/>
<g clip-path="url(#cb2r)">
<path d="M1090.0 705.0C1098.0 695.0 1118.3 694.2 1130.0 700.0C1141.7 705.8 1153.3 723.3 1160.0 740.0C1166.7 756.7 1169.2 780.0 1170.0 800.0C1170.8 820.0 1170.0 845.8 1165.0 860.0C1160.0 874.2 1150.8 881.7 1140.0 885.0C1129.2 888.3 1109.2 887.5 1100.0 880.0C1090.8 872.5 1088.0 860.0 1085.0 840.0C1082.0 820.0 1081.2 782.5 1082.0 760.0C1082.8 737.5 1082.0 715.0 1090.0 705.0Z" fill="#a0a0a0" opacity="0.33" filter="url(#blur2)"/>
<ellipse cx="1040" cy="760" rx="20" ry="50" fill="#666" opacity="0.12" filter="url(#blur3)"/>
<ellipse cx="1060" cy="690" rx="20" ry="30" fill="#fff" opacity="0.35" filter="url(#blur3)"/>
<ellipse cx="1016" cy="760" rx="10" ry="100" fill="#fff" opacity="0.3" filter="url(#blur3)"/>
<ellipse cx="1100" cy="930" rx="35" ry="16" fill="#fff" opacity="0.45" filter="url(#blur3)"/>
<ellipse cx="1136.2" cy="837.6" rx="9.3" ry="7.6" fill="#fff" opacity="0.58" filter="url(#blur1)"/>
<ellipse cx="1095.4" cy="692.8" rx="10.0" ry="10.9" fill="#fff" opacity="0.66" filter="url(#blur1)"/>
<ellipse cx="1094.5" cy="910.8" rx="8.6" ry="7.0" fill="#fff" opacity="0.50" filter="url(#blur1)"/>
<ellipse cx="1127.8" cy="858.2" rx="6.3" ry="8.0" fill="#fff" opacity="0.41" filter="url(#blur1)"/>
<ellipse cx="1085.6" cy="908.4" rx="8.2" ry="6.4" fill="#fff" opacity="0.68" filter="url(#blur1)"/>
<ellipse cx="1154.5" cy="878.7" rx="6.3" ry="8.1" fill="#fff" opacity="0.37" filter="url(#blur1)"/>
<ellipse cx="1026.1" cy="699.1" rx="12.3" ry="7.6" fill="#fff" opacity="0.71" filter="url(#blur1)"/>
<ellipse cx="1057.3" cy="839.3" rx="7.5" ry="8.3" fill="#fff" opacity="0.66" filter="url(#blur1)"/>
<ellipse cx="1064.5" cy="645.7" rx="7.6" ry="9.1" fill="#fff" opacity="0.52" filter="url(#blur1)"/>
<ellipse cx="1103.2" cy="741.1" rx="7.3" ry="10.4" fill="#fff" opacity="0.45" filter="url(#blur1)"/>
<ellipse cx="1121.3" cy="940.0" rx="8.4" ry="11.2" fill="#fff" opacity="0.70" filter="url(#blur1)"/>
<ellipse cx="1026.3" cy="687.5" rx="10.5" ry="7.1" fill="#fff" opacity="0.32" filter="url(#blur1)"/>
<ellipse cx="1006.7" cy="740.3" rx="11.2" ry="9.7" fill="#fff" opacity="0.55" filter="url(#blur1)"/>
<ellipse cx="1008.6" cy="660.1" rx="10.5" ry="7.3" fill="#fff" opacity="0.31" filter="url(#blur1)"/>
<ellipse cx="1014.7" cy="839.9" rx="13.7" ry="10.0" fill="#fff" opacity="0.30" filter="url(#blur1)"/>
<ellipse cx="1037.7" cy="849.5" rx="12.3" ry="7.6" fill="#fff" opacity="0.50" filter="url(#blur1)"/>
<ellipse cx="1010.3" cy="803.4" rx="12.0" ry="10.0" fill="#fff" opacity="0.63" filter="url(#blur1)"/>
<ellipse cx="1044.5" cy="844.5" rx="9.8" ry="10.8" fill="#fff" opacity="0.33" filter="url(#blur1)"/>
<ellipse cx="1082.6" cy="829.5" rx="7.9" ry="10.4" fill="#fff" opacity="0.31" filter="url(#blur1)"/>
<ellipse cx="1076.3" cy="934.4" rx="11.2" ry="10.0" fill="#fff" opacity="0.67" filter="url(#blur1)"/>
<ellipse cx="1124.1" cy="793.2" rx="9.0" ry="13.0" fill="#fff" opacity="0.54" filter="url(#blur1)"/>
<ellipse cx="1088.4" cy="748.3" rx="7.2" ry="7.5" fill="#fff" opacity="0.55" filter="url(#blur1)"/>
<ellipse cx="1097.0" cy="880.0" rx="9.6" ry="9.1" fill="#fff" opacity="0.53" filter="url(#blur1)"/>
<ellipse cx="1114.0" cy="725.2" rx="9.9" ry="12.7" fill="#fff" opacity="0.70" filter="url(#blur1)"/>
<ellipse cx="1125.1" cy="913.6" rx="12.5" ry="8.9" fill="#fff" opacity="0.48" filter="url(#blur1)"/>
<ellipse cx="1106.4" cy="807.4" rx="12.3" ry="8.7" fill="#fff" opacity="0.71" filter="url(#blur1)"/>
<ellipse cx="1131.9" cy="816.1" rx="7.8" ry="13.5" fill="#fff" opacity="0.59" filter="url(#blur1)"/>
<ellipse cx="1113.7" cy="690.3" rx="7.6" ry="7.6" fill="#fff" opacity="0.69" filter="url(#blur1)"/>
<ellipse cx="1080.7" cy="856.0" rx="11.5" ry="12.5" fill="#fff" opacity="0.42" filter="url(#blur1)"/>
<ellipse cx="1056.1" cy="877.3" rx="9.2" ry="7.1" fill="#fff" opacity="0.33" filter="url(#blur1)"/>
<path d="M1028.3 627.0C1034.8 627.0 1043.7 629.6 1050.5 631.6C1057.3 633.6 1062.8 636.5 1068.9 639.0C1075.1 641.5 1081.2 643.6 1087.4 646.4C1093.6 649.2 1099.7 652.0 1105.9 655.7C1112.1 659.4 1118.9 663.7 1124.4 668.6C1130.0 673.5 1134.6 679.7 1139.2 685.2C1143.8 690.8 1148.4 696.4 1152.1 701.9C1155.8 707.4 1158.9 712.6 1161.4 718.5C1163.9 724.4 1165.5 730.8 1166.9 737.0C1168.3 743.2 1168.8 748.7 1169.7 755.5C1170.6 762.3 1171.5 770.3 1172.4 777.7C1173.3 785.1 1174.4 791.1 1175.2 799.8C1176.0 808.5 1177.0 821.6 1177.1 830.0C1177.2 838.4 1176.9 844.5 1176.0 850.0C1175.1 855.5 1173.0 858.4 1171.5 863.0C1170.0 867.6 1169.0 872.8 1167.1 877.7C1165.1 882.6 1161.5 887.9 1159.8 892.3C1158.1 896.7 1158.4 899.6 1156.9 904.0C1155.4 908.4 1153.4 913.7 1151.0 918.6C1148.6 923.5 1145.7 928.8 1142.3 933.2C1138.9 937.6 1135.5 941.7 1130.6 944.9C1125.7 948.1 1118.5 950.8 1113.1 952.2C1107.7 953.7 1103.3 953.9 1098.4 953.6C1093.5 953.4 1088.7 952.2 1083.8 950.7C1078.9 949.2 1073.1 947.3 1069.2 944.9C1065.3 942.5 1062.5 940.0 1060.5 936.1C1058.5 932.2 1059.5 925.2 1057.5 921.5C1055.5 917.8 1050.4 916.6 1048.7 913.8C1047.0 911.0 1050.0 906.3 1047.2 904.5C1044.4 902.7 1035.6 903.5 1031.7 903.0C1027.8 902.5 1026.5 901.0 1023.9 901.4C1021.3 901.8 1019.0 904.8 1016.2 905.3C1013.4 905.8 1008.9 908.7 1006.9 904.5C1004.9 900.3 1004.3 894.1 1004.0 880.0C1003.7 865.9 1005.0 840.8 1005.2 820.0C1005.4 799.2 1005.1 771.2 1005.2 755.5C1005.4 739.8 1005.8 737.1 1006.1 726.0C1006.4 714.9 1007.0 701.3 1007.0 689.0C1007.0 676.7 1006.0 660.3 1006.1 652.0C1006.2 643.7 1007.0 642.4 1007.9 639.0C1008.8 635.6 1008.2 633.6 1011.6 631.6C1015.0 629.6 1021.8 627.0 1028.3 627.0Z" fill="none" stroke="#888" stroke-opacity="0.22" stroke-width="40" filter="url(#blur1)"/>
<path d="M1028.3 627.0C1034.8 627.0 1043.7 629.6 1050.5 631.6C1057.3 633.6 1062.8 636.5 1068.9 639.0C1075.1 641.5 1081.2 643.6 1087.4 646.4C1093.6 649.2 1099.7 652.0 1105.9 655.7C1112.1 659.4 1118.9 663.7 1124.4 668.6C1130.0 673.5 1134.6 679.7 1139.2 685.2C1143.8 690.8 1148.4 696.4 1152.1 701.9C1155.8 707.4 1158.9 712.6 1161.4 718.5C1163.9 724.4 1165.5 730.8 1166.9 737.0C1168.3 743.2 1168.8 748.7 1169.7 755.5C1170.6 762.3 1171.5 770.3 1172.4 777.7C1173.3 785.1 1174.4 791.1 1175.2 799.8C1176.0 808.5 1177.0 821.6 1177.1 830.0C1177.2 838.4 1176.9 844.5 1176.0 850.0C1175.1 855.5 1173.0 858.4 1171.5 863.0C1170.0 867.6 1169.0 872.8 1167.1 877.7C1165.1 882.6 1161.5 887.9 1159.8 892.3C1158.1 896.7 1158.4 899.6 1156.9 904.0C1155.4 908.4 1153.4 913.7 1151.0 918.6C1148.6 923.5 1145.7 928.8 1142.3 933.2C1138.9 937.6 1135.5 941.7 1130.6 944.9C1125.7 948.1 1118.5 950.8 1113.1 952.2C1107.7 953.7 1103.3 953.9 1098.4 953.6C1093.5 953.4 1088.7 952.2 1083.8 950.7C1078.9 949.2 1073.1 947.3 1069.2 944.9C1065.3 942.5 1062.5 940.0 1060.5 936.1C1058.5 932.2 1059.5 925.2 1057.5 921.5C1055.5 917.8 1050.4 916.6 1048.7 913.8C1047.0 911.0 1050.0 906.3 1047.2 904.5C1044.4 902.7 1035.6 903.5 1031.7 903.0C1027.8 902.5 1026.5 901.0 1023.9 901.4C1021.3 901.8 1019.0 904.8 1016.2 905.3C1013.4 905.8 1008.9 908.7 1006.9 904.5C1004.9 900.3 1004.3 894.1 1004.0 880.0C1003.7 865.9 1005.0 840.8 1005.2 820.0C1005.4 799.2 1005.1 771.2 1005.2 755.5C1005.4 739.8 1005.8 737.1 1006.1 726.0C1006.4 714.9 1007.0 701.3 1007.0 689.0C1007.0 676.7 1006.0 660.3 1006.1 652.0C1006.2 643.7 1007.0 642.4 1007.9 639.0C1008.8 635.6 1008.2 633.6 1011.6 631.6C1015.0 629.6 1021.8 627.0 1028.3 627.0Z" fill="none" stroke="#fff" stroke-opacity="0.4" stroke-width="14" filter="url(#blur1)"/>
<path d="M1016.0 777.0C1014.2 778.8 1008.1 783.8 1005.6 788.0C1003.0 792.3 1002.2 797.8 1000.6 802.4C999.0 807.0 997.2 810.9 996.0 815.6C994.7 820.3 994.4 826.0 993.3 830.6C992.1 835.2 990.1 838.5 989.2 843.2C988.2 847.9 988.4 854.0 987.6 858.6C986.7 863.3 985.0 866.8 984.1 871.3C983.3 875.8 982.6 883.2 982.4 885.6C982.2 888.0 981.0 887.7 983.0 885.9C984.9 884.0 991.1 878.9 993.9 874.6C996.7 870.3 998.4 864.8 999.7 860.2C1001.0 855.7 1000.6 851.9 1001.7 847.3C1002.9 842.8 1005.5 837.4 1006.6 832.8C1007.8 828.2 1007.6 824.1 1008.6 819.6C1009.6 815.1 1011.4 810.1 1012.5 805.6C1013.5 801.0 1014.3 797.1 1014.9 792.4C1015.6 787.7 1016.3 780.0 1016.5 777.4C1016.7 774.9 1017.8 775.3 1016.0 777.0Z" fill="#707070" fill-opacity="0.16" stroke="#666" stroke-opacity="0.22" stroke-width="0.7"/>
<path d="M1161.4 817.9C1159.6 820.1 1154.5 827.2 1151.2 831.3C1148.0 835.4 1145.2 838.7 1141.8 842.2C1138.4 845.8 1134.8 849.7 1130.9 852.3C1127.0 854.9 1122.8 855.8 1118.4 857.8C1113.9 859.8 1108.8 861.7 1104.1 864.4C1099.3 867.0 1094.5 871.0 1089.8 873.5C1085.2 876.1 1080.9 877.7 1076.4 879.6C1071.8 881.5 1064.7 883.8 1062.3 884.8C1060.0 885.8 1059.3 884.5 1062.3 885.4C1065.3 886.3 1074.6 890.2 1080.3 890.2C1086.1 890.1 1091.9 887.2 1096.8 885.1C1101.8 883.0 1105.3 880.0 1110.0 877.7C1114.7 875.4 1119.7 873.7 1124.9 871.2C1130.1 868.7 1136.5 866.1 1141.2 862.6C1145.8 859.1 1149.4 854.7 1152.8 850.1C1156.3 845.4 1160.4 840.3 1162.0 834.9C1163.5 829.6 1162.1 820.8 1162.0 818.0C1161.9 815.2 1163.2 815.7 1161.4 817.9Z" fill="#707070" fill-opacity="0.16" stroke="#666" stroke-opacity="0.28" stroke-width="0.7"/>
<path d="M1063.7 687.9C1063.4 686.0 1062.1 680.0 1061.2 677.0C1060.2 674.0 1059.4 672.4 1057.8 669.9C1056.3 667.4 1053.9 664.5 1051.8 662.0C1049.8 659.5 1046.7 657.0 1045.3 654.9C1043.9 652.8 1044.2 651.5 1043.4 649.2C1042.5 647.0 1041.2 644.0 1040.1 641.3C1038.9 638.6 1038.7 635.5 1036.3 633.2C1033.8 630.8 1027.3 628.0 1025.4 627.0C1023.6 626.1 1025.3 625.7 1024.9 627.4C1024.6 629.0 1023.5 633.8 1023.5 637.0C1023.5 640.2 1024.3 643.3 1025.0 646.4C1025.6 649.5 1026.2 652.4 1027.5 655.9C1028.8 659.3 1030.8 664.2 1032.7 667.1C1034.6 670.0 1036.8 671.2 1038.9 673.2C1040.9 675.2 1042.7 676.9 1044.9 679.1C1047.1 681.4 1049.2 685.4 1052.3 686.9C1055.3 688.5 1061.4 688.2 1063.3 688.3C1065.2 688.5 1064.1 689.8 1063.7 687.9Z" fill="#707070" fill-opacity="0.12" stroke="#666" stroke-opacity="0.30" stroke-width="0.7"/>
<path d="M1167.0 839.6C1166.5 842.5 1164.1 850.9 1164.5 856.5C1164.9 862.2 1166.6 868.3 1169.2 873.6C1171.8 878.9 1176.1 883.9 1180.2 888.3C1184.2 892.7 1189.4 896.0 1193.6 899.8C1197.9 903.6 1201.5 907.3 1205.6 911.1C1209.7 914.8 1213.2 919.4 1218.2 922.3C1223.2 925.2 1230.4 926.0 1235.6 928.3C1240.8 930.6 1247.0 934.9 1249.4 936.1C1251.7 937.4 1251.6 938.1 1249.8 935.7C1247.9 933.3 1242.4 924.9 1238.1 921.6C1233.8 918.3 1228.4 918.9 1224.0 916.0C1219.6 913.2 1216.0 908.3 1212.0 904.4C1207.9 900.5 1203.8 896.2 1199.7 892.5C1195.5 888.9 1191.0 886.1 1187.3 882.6C1183.6 879.0 1179.9 875.4 1177.3 871.0C1174.7 866.6 1173.3 861.4 1171.7 856.2C1170.1 850.9 1168.3 842.3 1167.6 839.5C1166.8 836.8 1167.5 836.8 1167.0 839.6Z" fill="#707070" fill-opacity="0.18" stroke="#666" stroke-opacity="0.25" stroke-width="0.7"/>
<path d="M1141.7 834.3C1141.9 832.2 1143.3 826.0 1142.4 822.1C1141.6 818.3 1139.0 814.5 1136.7 811.1C1134.4 807.7 1132.0 804.3 1128.7 801.6C1125.3 799.0 1120.5 797.0 1116.6 795.4C1112.7 793.7 1108.4 793.1 1105.3 791.6C1102.1 790.0 1100.3 788.1 1097.8 786.1C1095.3 784.0 1093.7 780.6 1090.2 779.1C1086.7 777.5 1079.1 777.2 1076.8 776.9C1074.5 776.6 1075.4 776.0 1076.5 777.4C1077.5 778.9 1080.7 782.7 1083.1 785.6C1085.5 788.6 1087.8 792.3 1090.8 795.2C1093.8 798.2 1097.8 801.4 1101.3 803.3C1104.7 805.3 1108.2 805.7 1111.2 806.9C1114.3 808.0 1117.0 808.4 1119.6 810.1C1122.2 811.9 1124.7 814.7 1127.0 817.2C1129.2 819.7 1130.9 822.3 1133.3 825.2C1135.6 828.1 1139.8 833.0 1141.2 834.5C1142.6 836.0 1141.5 836.3 1141.7 834.3Z" fill="#707070" fill-opacity="0.13" stroke="#666" stroke-opacity="0.26" stroke-width="0.7"/>
<path d="M1092.9 841.1C1092.4 843.6 1089.7 851.0 1090.6 855.8C1091.5 860.6 1095.3 865.8 1098.5 869.9C1101.8 874.0 1105.8 877.7 1110.2 880.5C1114.7 883.4 1120.6 884.9 1125.0 887.0C1129.5 889.0 1133.4 890.6 1136.8 892.9C1140.3 895.2 1143.1 897.8 1145.6 900.8C1148.1 903.8 1149.6 907.3 1152.0 910.8C1154.4 914.3 1158.6 919.8 1160.0 921.6C1161.4 923.4 1160.2 924.2 1160.6 921.5C1160.9 918.7 1163.0 910.3 1162.1 905.2C1161.2 900.1 1158.1 895.1 1155.0 890.9C1152.0 886.6 1147.7 882.7 1143.6 879.7C1139.5 876.7 1134.7 874.7 1130.7 872.9C1126.7 871.1 1123.1 870.8 1119.6 869.0C1116.2 867.2 1112.8 864.7 1109.8 862.1C1106.8 859.4 1104.6 856.8 1101.9 853.3C1099.1 849.8 1095.0 842.9 1093.5 840.9C1092.0 838.9 1093.4 838.6 1092.9 841.1Z" fill="#707070" fill-opacity="0.15" stroke="#666" stroke-opacity="0.29" stroke-width="0.7"/>
<path d="M1057.6 756.5C1058.3 758.4 1060.9 764.5 1062.0 767.7C1063.2 771.0 1063.0 773.2 1064.7 776.3C1066.3 779.3 1069.7 783.2 1072.1 786.2C1074.5 789.3 1075.9 792.1 1079.0 794.6C1082.1 797.1 1086.4 799.9 1090.5 801.4C1094.7 802.9 1099.7 803.0 1103.7 803.4C1107.7 803.9 1110.8 804.5 1114.5 804.2C1118.2 803.9 1123.9 802.1 1125.9 801.6C1127.8 801.0 1127.6 802.4 1126.0 801.0C1124.4 799.6 1119.8 794.9 1116.4 793.1C1113.1 791.3 1109.0 790.9 1105.9 790.1C1102.7 789.4 1100.3 789.6 1097.7 788.7C1095.1 787.8 1092.7 786.9 1090.3 784.9C1087.9 782.9 1085.5 779.3 1083.2 776.9C1081.0 774.4 1079.0 773.1 1076.7 770.2C1074.5 767.3 1072.8 761.8 1069.7 759.4C1066.6 757.0 1060.1 756.6 1058.1 756.1C1056.1 755.6 1057.0 754.5 1057.6 756.5Z" fill="#707070" fill-opacity="0.19" stroke="#666" stroke-opacity="0.25" stroke-width="0.7"/>
<path d="M1112.3 850.5C1114.2 852.3 1120.6 857.3 1124.0 860.8C1127.5 864.4 1130.4 867.8 1133.1 871.7C1135.8 875.6 1138.2 879.8 1140.1 884.2C1142.0 888.5 1143.6 893.1 1144.4 897.7C1145.2 902.2 1143.6 906.7 1144.8 911.5C1145.9 916.4 1148.3 922.5 1151.3 927.0C1154.3 931.6 1158.6 935.7 1162.7 939.1C1166.9 942.5 1173.8 946.2 1176.1 947.5C1178.4 948.9 1177.8 949.3 1176.5 947.1C1175.2 944.9 1171.0 938.2 1168.1 934.3C1165.2 930.4 1161.5 927.6 1159.2 923.7C1156.8 919.9 1154.9 916.1 1154.0 911.2C1153.0 906.4 1154.3 900.0 1153.3 894.7C1152.3 889.4 1150.3 884.2 1148.0 879.4C1145.6 874.6 1142.7 870.0 1139.3 865.9C1135.9 861.7 1132.0 857.2 1127.5 854.6C1123.1 851.9 1115.3 850.7 1112.7 850.1C1110.2 849.4 1110.4 848.7 1112.3 850.5Z" fill="#707070" fill-opacity="0.18" stroke="#666" stroke-opacity="0.18" stroke-width="0.7"/>
<path d="M1046.6 814.3C1048.4 816.5 1053.7 823.3 1057.6 827.0C1061.6 830.8 1066.7 833.2 1070.3 836.7C1073.9 840.2 1075.1 844.6 1079.2 848.1C1083.3 851.6 1089.5 855.2 1094.9 857.7C1100.3 860.2 1106.0 861.7 1111.5 863.2C1117.0 864.7 1122.8 865.1 1127.9 866.5C1133.0 867.9 1136.9 870.8 1142.2 871.4C1147.5 872.1 1156.8 870.8 1159.8 870.5C1162.7 870.3 1162.2 871.4 1159.9 869.9C1157.7 868.5 1151.0 864.4 1146.1 861.8C1141.3 859.2 1135.7 856.3 1130.7 854.4C1125.6 852.6 1120.5 852.0 1115.7 850.5C1110.9 849.1 1106.1 847.7 1101.7 845.8C1097.3 844.0 1093.4 842.7 1089.4 839.4C1085.3 836.2 1081.6 830.0 1077.2 826.4C1072.9 822.9 1068.2 820.3 1063.2 818.2C1058.1 816.1 1049.7 814.5 1047.0 813.8C1044.2 813.1 1044.8 812.1 1046.6 814.3Z" fill="#707070" fill-opacity="0.10" stroke="#666" stroke-opacity="0.27" stroke-width="0.7"/>
<path d="M1077.9 795.9C1079.6 797.5 1084.2 802.9 1088.2 805.1C1092.2 807.2 1097.2 808.0 1101.8 808.6C1106.5 809.3 1111.8 808.4 1116.1 808.9C1120.4 809.3 1123.2 811.2 1127.6 811.4C1132.0 811.6 1137.8 810.6 1142.4 810.2C1147.0 809.7 1151.0 809.4 1155.3 808.6C1159.7 807.9 1164.4 807.8 1168.5 805.7C1172.6 803.6 1178.0 797.6 1179.9 795.9C1181.7 794.2 1181.8 795.3 1179.6 795.4C1177.5 795.4 1171.3 795.9 1167.1 796.2C1162.9 796.6 1158.7 797.0 1154.4 797.3C1150.1 797.6 1145.3 797.6 1141.3 797.9C1137.2 798.2 1134.2 799.3 1130.0 799.1C1125.8 798.8 1120.2 796.8 1115.8 796.6C1111.5 796.3 1107.9 797.5 1103.9 797.5C1099.9 797.4 1096.2 796.6 1091.9 796.2C1087.5 795.9 1080.3 795.4 1077.9 795.3C1075.6 795.3 1076.2 794.3 1077.9 795.9Z" fill="#707070" fill-opacity="0.17" stroke="#666" stroke-opacity="0.28" stroke-width="0.7"/>
<path d="M1049.7 782.1C1051.0 783.4 1054.5 788.0 1057.7 789.2C1060.9 790.3 1065.1 789.5 1068.6 789.0C1072.1 788.6 1075.4 787.8 1078.7 786.3C1082.0 784.8 1085.4 781.8 1088.2 780.0C1090.9 778.1 1092.9 776.6 1095.3 775.2C1097.7 773.7 1100.0 772.4 1102.4 771.2C1104.8 770.0 1107.2 769.8 1109.7 768.0C1112.1 766.3 1115.8 762.0 1117.0 760.7C1118.2 759.4 1118.6 760.8 1116.8 760.1C1115.1 759.4 1109.8 756.8 1106.4 756.5C1102.9 756.2 1099.4 757.4 1096.2 758.3C1093.0 759.3 1089.8 760.7 1086.9 762.2C1084.0 763.7 1081.0 765.7 1078.8 767.2C1076.6 768.8 1075.7 770.4 1073.7 771.7C1071.6 773.0 1069.0 773.9 1066.6 774.9C1064.2 775.8 1062.4 776.2 1059.5 777.3C1056.7 778.4 1051.3 780.7 1049.6 781.5C1048.0 782.3 1048.3 780.9 1049.7 782.1Z" fill="#707070" fill-opacity="0.09" stroke="#666" stroke-opacity="0.20" stroke-width="0.7"/>
<path d="M1030.2 876.0C1032.3 877.8 1039.1 882.8 1042.9 886.3C1046.7 889.9 1049.4 893.7 1053.1 897.4C1056.7 901.1 1061.9 904.4 1065.0 908.4C1068.0 912.3 1069.6 916.7 1071.5 921.3C1073.3 925.9 1075.0 930.8 1076.0 935.7C1077.0 940.7 1075.9 945.6 1077.4 950.7C1078.9 955.8 1082.6 961.4 1085.2 966.3C1087.8 971.2 1091.4 977.9 1092.8 980.2C1094.1 982.5 1093.6 982.8 1093.3 980.0C1093.1 977.2 1092.7 968.4 1091.4 963.4C1090.1 958.4 1086.7 955.1 1085.5 950.1C1084.3 945.0 1085.4 938.6 1084.3 933.2C1083.3 927.7 1081.6 922.3 1079.4 917.1C1077.1 911.8 1074.2 906.1 1070.8 901.8C1067.3 897.6 1062.9 895.2 1058.8 891.6C1054.6 888.0 1050.8 882.9 1046.1 880.3C1041.4 877.6 1033.2 876.2 1030.5 875.5C1027.9 874.8 1028.2 874.2 1030.2 876.0Z" fill="#707070" fill-opacity="0.15" stroke="#666" stroke-opacity="0.23" stroke-width="0.7"/>
<path d="M1032.2 753.6C1030.4 755.0 1024.4 758.5 1022.2 762.2C1019.9 765.9 1019.6 771.4 1018.7 775.6C1017.7 779.9 1017.0 783.7 1016.4 787.8C1015.9 792.0 1016.2 796.8 1015.3 800.4C1014.4 804.0 1013.0 806.8 1011.2 809.5C1009.4 812.2 1006.7 813.6 1004.5 816.7C1002.3 819.9 999.3 824.2 998.0 828.5C996.7 832.7 996.9 839.8 996.8 842.2C996.7 844.5 995.6 843.8 997.3 842.4C999.0 841.1 1004.3 837.1 1007.0 834.3C1009.8 831.4 1011.0 828.7 1013.8 825.5C1016.6 822.2 1021.2 818.9 1023.8 814.9C1026.4 810.9 1028.3 805.7 1029.4 801.5C1030.4 797.3 1029.8 793.7 1030.1 789.7C1030.4 785.8 1031.0 781.5 1031.2 777.7C1031.5 773.9 1031.5 771.0 1031.7 767.0C1032.0 763.1 1032.7 756.1 1032.8 753.8C1032.8 751.6 1034.0 752.2 1032.2 753.6Z" fill="#707070" fill-opacity="0.11" stroke="#666" stroke-opacity="0.35" stroke-width="0.7"/>
<path d="M1147.0 841.6C1148.4 840.1 1152.5 835.0 1154.7 831.8C1157.0 828.7 1159.1 826.2 1160.7 822.6C1162.3 819.0 1163.0 813.8 1164.4 810.1C1165.7 806.4 1167.9 804.3 1168.9 800.4C1169.9 796.6 1169.9 791.2 1170.5 787.1C1171.0 783.0 1172.1 779.9 1171.9 775.8C1171.7 771.8 1170.5 766.8 1169.2 762.8C1167.9 758.8 1165.1 753.7 1164.1 751.9C1163.2 750.0 1164.1 749.9 1163.5 751.9C1162.9 754.0 1160.9 760.5 1160.6 764.2C1160.3 767.9 1161.9 770.6 1161.7 774.2C1161.5 777.8 1159.9 782.3 1159.4 785.9C1158.8 789.5 1159.4 792.2 1158.4 795.8C1157.5 799.4 1154.7 803.8 1153.5 807.5C1152.4 811.1 1152.8 814.1 1151.6 817.7C1150.4 821.3 1147.4 825.1 1146.5 829.0C1145.7 832.9 1146.5 839.1 1146.6 841.2C1146.7 843.3 1145.7 843.2 1147.0 841.6Z" fill="#707070" fill-opacity="0.08" stroke="#666" stroke-opacity="0.33" stroke-width="0.7"/>
<path d="M1133.4 795.1C1131.3 795.9 1124.5 797.5 1121.4 800.2C1118.2 802.9 1116.7 808.1 1114.5 811.3C1112.2 814.5 1109.9 815.9 1108.0 819.5C1106.2 823.1 1104.3 828.3 1103.5 832.9C1102.7 837.4 1102.9 842.3 1103.3 846.7C1103.6 851.1 1104.8 855.3 1105.6 859.3C1106.5 863.3 1106.9 866.9 1108.5 870.5C1110.1 874.1 1114.1 879.3 1115.4 881.1C1116.6 882.9 1115.0 883.1 1116.0 881.1C1117.0 879.0 1120.5 872.7 1121.3 868.7C1122.2 864.7 1121.2 860.7 1121.0 857.0C1120.7 853.4 1120.1 850.1 1120.0 846.9C1119.8 843.6 1119.7 840.6 1120.0 837.6C1120.3 834.6 1120.5 832.1 1121.9 828.9C1123.3 825.6 1126.8 821.4 1128.4 818.0C1130.0 814.6 1130.6 812.1 1131.5 808.3C1132.5 804.5 1133.6 797.6 1133.9 795.4C1134.2 793.2 1135.5 794.3 1133.4 795.1Z" fill="#707070" fill-opacity="0.14" stroke="#666" stroke-opacity="0.24" stroke-width="0.7"/>
<path d="M1153.1 766.5C1151.5 765.4 1147.4 761.4 1144.0 760.7C1140.6 760.0 1135.9 762.1 1132.6 762.3C1129.3 762.5 1127.2 762.0 1124.4 761.7C1121.5 761.4 1118.1 761.3 1115.6 760.4C1113.2 759.5 1111.6 758.1 1109.7 756.5C1107.7 754.9 1106.2 753.0 1104.0 751.0C1101.9 749.0 1099.4 746.5 1096.7 744.6C1094.0 742.8 1089.4 740.7 1087.8 740.0C1086.2 739.3 1087.0 738.4 1087.3 740.3C1087.6 742.3 1088.0 748.4 1089.4 751.6C1090.7 754.7 1093.1 756.6 1095.4 759.3C1097.7 762.0 1100.1 765.4 1103.2 767.7C1106.3 770.1 1110.4 772.4 1114.0 773.5C1117.5 774.7 1120.8 774.6 1124.4 774.7C1128.0 774.7 1132.5 774.6 1135.6 773.9C1138.6 773.3 1140.0 771.9 1142.9 770.8C1145.8 769.6 1151.4 767.8 1153.1 767.1C1154.8 766.4 1154.6 767.6 1153.1 766.5Z" fill="#707070" fill-opacity="0.11" stroke="#666" stroke-opacity="0.35" stroke-width="0.7"/>
<path d="M1074.5 812.6C1075.4 814.3 1078.1 820.0 1080.0 822.3C1082.0 824.7 1084.4 825.4 1086.3 826.9C1088.1 828.5 1089.4 830.0 1091.1 831.6C1092.8 833.2 1094.0 835.1 1096.6 836.8C1099.2 838.5 1103.7 840.4 1106.7 841.7C1109.7 843.0 1112.0 843.8 1114.7 844.6C1117.4 845.5 1119.8 847.0 1122.9 846.9C1126.0 846.8 1131.7 844.8 1133.5 844.3C1135.3 843.8 1134.4 845.6 1133.8 843.8C1133.1 841.9 1131.5 835.6 1129.6 833.0C1127.7 830.3 1124.9 829.5 1122.5 827.9C1120.1 826.4 1117.3 824.8 1115.2 823.7C1113.2 822.6 1112.1 822.8 1110.0 821.4C1108.0 820.0 1105.5 817.4 1102.8 815.5C1100.2 813.6 1097.0 811.5 1094.0 810.2C1091.0 808.9 1088.2 807.4 1084.9 807.7C1081.7 808.0 1076.2 811.2 1074.5 812.0C1072.7 812.9 1073.5 810.9 1074.5 812.6Z" fill="#707070" fill-opacity="0.13" stroke="#666" stroke-opacity="0.30" stroke-width="0.7"/>
<path d="M1117.6 664.6C1119.4 665.7 1125.0 668.6 1128.3 670.5C1131.6 672.4 1133.7 674.4 1137.1 676.1C1140.6 677.7 1145.2 678.9 1148.9 680.3C1152.6 681.7 1155.9 683.0 1159.2 684.7C1162.5 686.3 1165.8 688.0 1168.8 690.0C1171.9 691.9 1174.1 694.5 1177.4 696.5C1180.7 698.4 1184.7 701.0 1188.8 701.8C1192.9 702.6 1199.8 701.4 1202.0 701.2C1204.2 701.0 1203.7 701.8 1202.2 700.6C1200.6 699.5 1195.9 696.4 1192.8 694.4C1189.7 692.4 1186.8 691.0 1183.7 688.7C1180.6 686.4 1177.5 682.9 1174.1 680.5C1170.7 678.2 1167.0 676.2 1163.4 674.4C1159.7 672.7 1155.8 671.2 1152.2 670.0C1148.5 668.8 1145.4 668.4 1141.7 667.1C1137.9 665.8 1133.8 662.7 1129.7 662.2C1125.7 661.7 1119.5 663.6 1117.5 664.1C1115.5 664.5 1115.8 663.6 1117.6 664.6Z" fill="#707070" fill-opacity="0.12" stroke="#666" stroke-opacity="0.35" stroke-width="0.7"/>
<path d="M1078.2 796.9C1079.9 798.0 1085.5 801.2 1088.1 802.7C1090.8 804.3 1091.4 805.2 1094.1 806.1C1096.7 807.0 1101.2 807.3 1103.9 808.1C1106.6 808.9 1108.4 809.8 1110.4 810.9C1112.5 812.0 1114.8 813.3 1116.3 814.6C1117.8 816.0 1117.3 817.4 1119.6 819.2C1121.8 821.0 1126.0 824.5 1129.7 825.4C1133.4 826.2 1139.7 824.5 1141.7 824.2C1143.8 823.9 1142.6 825.5 1142.0 823.7C1141.4 821.9 1139.6 816.1 1138.2 813.6C1136.8 811.2 1135.6 811.6 1133.6 809.1C1131.7 806.7 1129.1 801.6 1126.3 798.9C1123.5 796.2 1120.2 794.4 1116.9 792.9C1113.5 791.3 1109.4 790.1 1106.3 789.5C1103.2 788.9 1101.4 789.5 1098.1 789.3C1094.8 789.1 1089.7 787.2 1086.4 788.3C1083.1 789.5 1079.6 794.9 1078.2 796.3C1076.9 797.8 1076.6 795.9 1078.2 796.9Z" fill="#707070" fill-opacity="0.11" stroke="#666" stroke-opacity="0.18" stroke-width="0.7"/>
<path d="M1137.4 689.3C1137.9 686.5 1139.2 677.6 1139.4 672.4C1139.7 667.2 1139.7 663.2 1138.9 658.0C1138.0 652.9 1135.7 646.7 1134.4 641.5C1133.0 636.4 1131.9 631.8 1130.8 627.0C1129.7 622.1 1129.5 617.5 1128.0 612.4C1126.4 607.4 1123.0 601.3 1121.3 596.5C1119.7 591.6 1119.5 587.7 1118.2 583.1C1117.0 578.6 1114.7 571.3 1113.8 568.9C1113.0 566.5 1115.0 566.1 1113.2 568.8C1111.5 571.5 1104.9 579.6 1103.4 585.2C1102.0 590.9 1103.7 597.6 1104.7 602.7C1105.6 607.8 1107.8 611.0 1109.0 615.9C1110.2 620.7 1110.5 626.7 1111.7 632.0C1112.9 637.2 1114.5 642.8 1116.0 647.5C1117.6 652.3 1119.7 655.7 1121.2 660.6C1122.8 665.5 1122.6 672.2 1125.2 677.0C1127.8 681.9 1134.9 687.6 1136.9 689.6C1139.0 691.7 1137.0 692.2 1137.4 689.3Z" fill="#707070" fill-opacity="0.13" stroke="#666" stroke-opacity="0.30" stroke-width="0.7"/>
<path d="M1168.7 772.9C1166.8 773.6 1160.8 776.1 1157.6 777.4C1154.4 778.8 1152.0 780.5 1149.3 781.1C1146.6 781.8 1144.4 781.1 1141.3 781.4C1138.3 781.6 1134.2 782.5 1131.0 782.6C1127.9 782.6 1125.0 782.3 1122.3 781.6C1119.6 780.8 1118.1 778.9 1114.7 778.3C1111.2 777.7 1105.7 777.1 1101.7 778.1C1097.7 779.0 1092.5 782.8 1090.7 783.8C1088.9 784.9 1089.0 783.5 1090.7 784.4C1092.4 785.4 1097.8 788.4 1100.9 789.5C1104.0 790.5 1105.7 789.6 1109.0 790.7C1112.3 791.8 1116.7 795.1 1120.7 796.2C1124.7 797.3 1129.2 797.5 1133.0 797.5C1136.9 797.4 1139.8 796.7 1143.8 795.9C1147.7 795.1 1152.9 794.5 1156.6 792.6C1160.4 790.8 1164.2 788.1 1166.3 785.0C1168.3 781.8 1168.6 775.5 1169.0 773.5C1169.4 771.5 1170.6 772.3 1168.7 772.9Z" fill="#707070" fill-opacity="0.15" stroke="#666" stroke-opacity="0.18" stroke-width="0.7"/>
<path d="M1084.0 722.5C1085.5 724.6 1090.9 730.9 1093.6 734.8C1096.3 738.8 1098.0 742.0 1100.1 745.9C1102.2 749.9 1104.8 754.2 1106.3 758.4C1107.9 762.5 1108.6 766.7 1109.4 771.1C1110.3 775.4 1110.1 779.9 1111.5 784.7C1112.8 789.5 1115.2 795.2 1117.7 799.9C1120.1 804.7 1122.3 809.6 1126.2 813.2C1130.1 816.8 1138.5 820.1 1141.0 821.4C1143.5 822.7 1142.3 823.3 1141.4 821.0C1140.6 818.7 1137.9 812.0 1136.0 807.7C1134.1 803.4 1131.9 799.3 1130.1 795.1C1128.4 791.0 1126.8 787.4 1125.8 782.7C1124.7 778.1 1124.8 772.4 1123.7 767.1C1122.6 761.9 1121.1 756.2 1118.9 751.3C1116.8 746.5 1114.0 742.2 1110.8 737.9C1107.6 733.6 1104.0 728.0 1099.6 725.4C1095.1 722.7 1086.8 722.4 1084.2 721.9C1081.6 721.4 1082.4 720.3 1084.0 722.5Z" fill="#707070" fill-opacity="0.17" stroke="#666" stroke-opacity="0.26" stroke-width="0.7"/>
<path d="M1013.5 658.4C1013.6 655.8 1015.0 648.0 1013.8 643.3C1012.6 638.6 1009.5 634.3 1006.5 630.3C1003.4 626.3 998.5 622.8 995.4 619.4C992.3 615.9 991.2 612.9 987.9 609.7C984.7 606.5 979.9 602.9 976.0 600.0C972.0 597.1 967.7 594.8 964.2 592.2C960.7 589.6 959.4 585.8 955.1 584.1C950.7 582.5 941.1 582.3 938.3 582.0C935.4 581.8 936.9 580.6 938.0 582.5C939.1 584.4 942.4 589.6 945.2 593.4C948.0 597.2 951.4 601.9 954.7 605.3C958.0 608.6 961.7 610.9 964.9 613.5C968.2 616.2 970.9 617.9 974.1 621.0C977.2 624.2 980.7 629.4 983.8 632.5C987.0 635.6 990.3 636.8 993.2 639.6C996.1 642.3 998.2 645.7 1001.5 648.9C1004.8 652.1 1011.0 657.1 1013.0 658.7C1015.0 660.2 1013.4 660.9 1013.5 658.4Z" fill="#707070" fill-opacity="0.10" stroke="#666" stroke-opacity="0.33" stroke-width="0.7"/>
<path d="M1139.4 816.0C1142.3 816.0 1151.2 817.0 1156.8 815.6C1162.4 814.2 1167.8 809.6 1173.1 807.7C1178.4 805.8 1183.2 806.4 1188.5 804.3C1193.7 802.1 1199.7 798.4 1204.5 794.6C1209.2 790.7 1212.8 784.8 1217.2 781.3C1221.5 777.7 1225.9 776.4 1230.4 773.2C1234.9 770.0 1239.6 765.7 1244.1 762.2C1248.5 758.8 1255.1 754.0 1257.2 752.3C1259.4 750.5 1260.0 751.2 1257.0 751.7C1253.9 752.2 1244.3 753.1 1238.9 755.2C1233.6 757.3 1230.1 761.3 1225.1 764.3C1220.2 767.4 1213.6 770.2 1209.1 773.6C1204.6 777.0 1202.3 781.6 1198.4 785.0C1194.5 788.3 1190.7 791.2 1185.6 793.5C1180.6 795.8 1173.3 796.4 1168.1 798.7C1162.9 801.0 1159.5 804.4 1154.6 807.2C1149.8 810.0 1141.6 814.0 1139.1 815.4C1136.6 816.9 1136.4 815.9 1139.4 816.0Z" fill="#707070" fill-opacity="0.08" stroke="#666" stroke-opacity="0.15" stroke-width="0.7"/>
<path d="M1155.8 847.8C1157.9 848.6 1164.2 851.2 1168.5 851.7C1172.8 852.2 1177.2 851.7 1181.5 850.7C1185.9 849.6 1190.6 847.6 1194.7 845.3C1198.8 843.1 1202.4 839.8 1206.0 837.3C1209.5 834.8 1212.7 832.7 1216.1 830.4C1219.4 828.0 1223.2 826.4 1226.2 823.2C1229.3 820.0 1232.5 815.3 1234.5 811.2C1236.5 807.1 1237.7 800.6 1238.3 798.4C1238.9 796.2 1239.8 796.9 1237.8 798.0C1235.9 799.2 1229.6 802.7 1226.6 805.3C1223.6 807.8 1222.8 810.9 1219.8 813.4C1216.9 815.8 1212.6 817.6 1209.0 819.9C1205.4 822.1 1201.5 824.6 1198.3 826.9C1195.0 829.3 1192.4 831.8 1189.4 833.9C1186.3 835.9 1183.3 837.7 1179.7 839.1C1176.2 840.4 1172.0 840.5 1168.0 841.9C1163.9 843.2 1157.7 846.2 1155.6 847.2C1153.6 848.2 1153.6 847.1 1155.8 847.8Z" fill="#707070" fill-opacity="0.07" stroke="#666" stroke-opacity="0.15" stroke-width="0.7"/>
<path d="M1068.5 877.2C1069.9 875.5 1074.2 869.8 1076.4 867.0C1078.5 864.3 1079.7 863.3 1081.4 860.7C1083.1 858.1 1085.2 855.1 1086.3 851.2C1087.4 847.3 1087.2 840.8 1087.9 837.2C1088.6 833.6 1089.5 832.3 1090.5 829.6C1091.5 826.9 1092.6 823.7 1093.9 821.1C1095.3 818.6 1097.2 817.1 1098.5 814.2C1099.8 811.3 1101.2 805.3 1101.7 803.5C1102.2 801.6 1103.8 802.9 1101.3 803.0C1098.9 803.1 1091.0 802.4 1087.0 804.1C1083.0 805.8 1080.1 809.8 1077.6 813.1C1075.0 816.3 1073.3 819.8 1071.7 823.6C1070.1 827.4 1068.4 832.9 1067.8 836.1C1067.2 839.4 1068.8 840.5 1068.2 843.3C1067.7 846.2 1065.9 849.4 1064.7 853.2C1063.6 857.0 1060.6 862.2 1061.1 866.2C1061.6 870.2 1066.6 875.4 1067.9 877.2C1069.1 879.0 1067.1 878.9 1068.5 877.2Z" fill="#707070" fill-opacity="0.17" stroke="#666" stroke-opacity="0.19" stroke-width="0.7"/>
<path d="M1012.9 695.8C1012.1 695.5 1009.4 694.4 1007.9 694.6C1006.4 694.9 1005.0 696.5 1003.8 697.1C1002.7 697.8 1002.0 697.7 1000.9 698.5C999.8 699.3 998.2 700.9 997.2 702.0C996.1 703.1 995.3 703.6 994.5 705.1C993.8 706.5 993.1 709.0 992.6 710.4C992.1 711.9 991.9 712.7 991.7 713.9C991.6 715.1 991.7 717.0 991.8 717.7C991.9 718.4 991.1 718.3 992.2 718.2C993.3 718.0 996.9 717.7 998.3 716.9C999.7 716.1 1000.2 714.2 1000.7 713.3C1001.2 712.3 1000.8 712.1 1001.4 711.3C1001.9 710.5 1003.2 709.4 1004.0 708.6C1004.7 707.7 1004.8 707.2 1005.7 706.4C1006.7 705.6 1008.5 704.5 1009.4 703.6C1010.4 702.8 1010.7 702.3 1011.3 701.0C1011.9 699.8 1012.9 697.2 1013.2 696.3C1013.5 695.4 1013.8 696.0 1012.9 695.8Z" fill="#707070" fill-opacity="0.11" stroke="#666" stroke-opacity="0.31" stroke-width="0.7"/>
<path d="M1146.8 747.3C1147.5 747.1 1149.4 746.0 1150.3 745.5C1151.3 745.1 1151.7 745.1 1152.4 744.5C1153.2 743.9 1154.2 743.0 1154.9 741.9C1155.6 740.8 1156.1 739.0 1156.6 738.1C1157.1 737.1 1157.5 737.0 1158.0 736.1C1158.4 735.2 1159.1 734.0 1159.3 732.7C1159.5 731.4 1159.7 729.7 1159.2 728.4C1158.7 727.2 1157.1 725.7 1156.6 725.2C1156.0 724.7 1156.4 724.8 1156.0 725.3C1155.6 725.8 1154.5 727.4 1154.1 728.3C1153.8 729.1 1154.1 729.5 1153.8 730.3C1153.6 731.0 1153.2 731.6 1152.6 732.5C1152.1 733.5 1150.9 734.9 1150.5 735.8C1150.0 736.6 1150.3 737.1 1150.0 737.8C1149.6 738.5 1149.2 739.1 1148.5 740.0C1147.8 740.9 1146.2 742.0 1145.9 743.1C1145.5 744.2 1146.3 746.1 1146.4 746.8C1146.6 747.5 1146.2 747.5 1146.8 747.3Z" fill="#707070" fill-opacity="0.15" stroke="#666" stroke-opacity="0.16" stroke-width="0.7"/>
<path d="M1165.6 776.7C1164.9 777.1 1162.6 778.3 1161.7 779.7C1160.9 781.1 1160.8 783.4 1160.6 785.2C1160.5 787.0 1160.5 788.6 1160.9 790.4C1161.2 792.1 1162.2 793.9 1162.7 795.4C1163.3 797.0 1163.9 798.5 1164.0 799.8C1164.1 801.1 1163.5 802.0 1163.3 803.4C1163.0 804.7 1162.6 806.4 1162.6 808.0C1162.5 809.6 1162.8 812.1 1163.0 812.9C1163.1 813.8 1163.0 813.8 1163.6 813.1C1164.1 812.4 1165.6 810.3 1166.3 808.8C1167.0 807.3 1167.3 805.9 1167.7 804.2C1168.0 802.5 1168.7 800.2 1168.6 798.4C1168.6 796.7 1167.8 795.1 1167.3 793.7C1166.8 792.2 1166.0 791.3 1165.7 789.9C1165.3 788.6 1165.2 787.0 1165.1 785.7C1165.0 784.3 1164.8 783.2 1165.0 781.7C1165.2 780.2 1166.1 777.6 1166.2 776.7C1166.3 775.9 1166.4 776.2 1165.6 776.7Z" fill="#707070" fill-opacity="0.16" stroke="#666" stroke-opacity="0.15" stroke-width="0.7"/>
<path d="M1041.2 790.4C1040.7 790.0 1039.3 788.8 1038.1 788.6C1037.0 788.4 1035.3 789.4 1034.2 789.4C1033.2 789.4 1032.6 789.2 1032.0 788.8C1031.3 788.5 1031.1 787.9 1030.4 787.4C1029.6 786.9 1028.3 786.4 1027.5 785.8C1026.6 785.3 1026.0 784.7 1025.5 784.1C1025.0 783.4 1024.8 782.8 1024.5 782.0C1024.1 781.3 1023.5 780.0 1023.2 779.5C1022.9 779.1 1023.0 778.9 1022.6 779.5C1022.3 780.2 1021.1 782.1 1021.1 783.4C1021.1 784.7 1021.8 786.2 1022.5 787.2C1023.2 788.3 1024.3 789.1 1025.2 789.8C1026.1 790.5 1026.8 790.8 1027.8 791.4C1028.9 792.0 1030.2 793.1 1031.5 793.4C1032.8 793.8 1034.6 793.7 1035.6 793.5C1036.7 793.3 1036.9 792.7 1037.8 792.2C1038.7 791.8 1040.4 791.3 1041.0 791.0C1041.6 790.7 1041.7 790.8 1041.2 790.4Z" fill="#707070" fill-opacity="0.09" stroke="#666" stroke-opacity="0.29" stroke-width="0.7"/>
<path d="M1148.9 713.1C1149.4 713.8 1151.0 715.8 1151.7 716.9C1152.4 718.0 1152.2 718.8 1153.3 719.6C1154.3 720.5 1156.6 721.6 1158.1 722.2C1159.7 722.8 1161.1 723.2 1162.7 723.3C1164.3 723.4 1166.2 723.3 1167.9 722.8C1169.5 722.3 1171.2 721.3 1172.5 720.4C1173.9 719.5 1175.0 718.4 1176.0 717.4C1177.0 716.3 1178.1 714.8 1178.5 714.2C1178.9 713.5 1179.2 713.8 1178.3 713.6C1177.4 713.4 1174.4 713.0 1173.0 713.2C1171.6 713.5 1170.8 714.5 1169.8 715.1C1168.8 715.6 1168.1 716.1 1167.1 716.4C1166.2 716.7 1165.2 716.9 1164.1 716.8C1163.0 716.8 1161.6 716.4 1160.6 716.2C1159.5 716.0 1158.9 716.3 1157.8 715.7C1156.7 715.0 1155.3 712.8 1153.9 712.2C1152.4 711.7 1150.0 712.4 1149.2 712.5C1148.3 712.7 1148.5 712.4 1148.9 713.1Z" fill="#707070" fill-opacity="0.08" stroke="#666" stroke-opacity="0.33" stroke-width="0.7"/>
<path d="M1011.6 707.3C1012.6 707.4 1015.6 707.7 1017.2 707.7C1018.8 707.6 1019.8 707.5 1021.3 707.1C1022.7 706.6 1024.6 705.6 1026.1 705.1C1027.6 704.5 1028.7 704.5 1030.1 703.7C1031.6 703.0 1033.4 701.9 1034.8 700.8C1036.2 699.7 1037.5 698.2 1038.6 697.2C1039.8 696.3 1040.7 696.1 1041.8 695.1C1042.8 694.2 1044.4 692.2 1044.9 691.5C1045.4 690.7 1045.8 691.2 1044.8 690.9C1043.8 690.5 1040.7 689.3 1038.9 689.4C1037.1 689.5 1035.1 690.7 1033.7 691.4C1032.3 692.1 1031.5 693.1 1030.4 693.8C1029.4 694.6 1028.6 695.2 1027.2 695.8C1025.9 696.5 1023.9 697.0 1022.5 697.7C1021.1 698.3 1020.4 699.1 1019.0 699.8C1017.6 700.5 1015.4 700.8 1014.2 702.0C1012.9 703.1 1011.9 705.8 1011.5 706.7C1011.1 707.6 1010.7 707.1 1011.6 707.3Z" fill="#707070" fill-opacity="0.16" stroke="#666" stroke-opacity="0.19" stroke-width="0.7"/>
<path d="M1046.4 667.6C1045.9 668.5 1044.1 671.2 1044.2 673.1C1044.2 675.1 1045.7 677.4 1046.6 679.2C1047.5 681.0 1048.5 682.5 1049.7 684.0C1050.8 685.6 1052.1 687.0 1053.5 688.4C1054.8 689.7 1056.6 690.9 1057.7 692.1C1058.8 693.4 1058.8 694.5 1060.1 695.8C1061.3 697.1 1063.4 698.6 1065.1 699.6C1066.7 700.7 1069.0 701.6 1069.9 702.0C1070.7 702.3 1070.5 702.7 1070.3 701.6C1070.1 700.5 1069.5 697.0 1068.7 695.4C1067.9 693.9 1066.7 693.8 1065.6 692.3C1064.6 690.9 1063.6 688.4 1062.4 687.0C1061.3 685.5 1060.0 684.7 1058.8 683.5C1057.6 682.4 1056.5 681.2 1055.4 680.0C1054.4 678.7 1053.3 677.3 1052.4 676.1C1051.4 674.9 1050.6 674.2 1049.7 672.9C1048.8 671.5 1047.5 668.6 1047.0 667.8C1046.4 666.9 1046.9 666.7 1046.4 667.6Z" fill="#707070" fill-opacity="0.10" stroke="#666" stroke-opacity="0.33" stroke-width="0.7"/>
<path d="M1076.0 758.7C1076.6 758.1 1078.5 756.5 1078.7 755.2C1078.8 753.9 1077.5 752.0 1076.8 750.7C1076.1 749.5 1075.3 748.6 1074.5 747.7C1073.7 746.8 1072.8 746.1 1071.9 745.3C1071.0 744.6 1070.3 743.8 1069.0 743.2C1067.7 742.7 1065.2 742.4 1064.2 742.1C1063.1 741.9 1063.7 741.3 1062.6 741.5C1061.6 741.6 1058.6 742.7 1057.8 743.1C1056.9 743.4 1057.4 743.0 1057.6 743.7C1057.8 744.3 1058.0 745.9 1058.8 747.0C1059.7 748.0 1061.7 749.4 1062.5 749.9C1063.4 750.4 1063.3 749.8 1063.9 750.1C1064.5 750.5 1065.4 751.3 1066.1 751.8C1066.8 752.4 1067.6 753.1 1068.3 753.6C1069.0 754.2 1069.6 754.8 1070.3 755.2C1070.9 755.6 1071.1 755.4 1072.0 756.0C1072.9 756.6 1074.8 758.4 1075.4 758.8C1076.1 759.3 1075.5 759.3 1076.0 758.7Z" fill="#707070" fill-opacity="0.08" stroke="#666" stroke-opacity="0.30" stroke-width="0.7"/>
<path d="M1112.1 704.7C1111.0 705.0 1107.8 706.0 1106.2 707.1C1104.6 708.2 1103.7 709.6 1102.7 711.3C1101.7 712.9 1100.9 715.3 1100.3 717.2C1099.7 719.2 1099.8 721.7 1099.2 723.0C1098.7 724.4 1097.7 723.9 1097.1 725.5C1096.6 727.1 1096.0 730.4 1095.9 732.6C1095.8 734.8 1095.5 736.7 1096.5 738.5C1097.5 740.3 1100.8 742.7 1101.8 743.5C1102.8 744.3 1102.0 744.1 1102.4 743.3C1102.7 742.4 1103.4 740.1 1103.7 738.6C1104.1 737.0 1104.2 735.3 1104.4 734.0C1104.6 732.6 1104.1 732.3 1104.8 730.7C1105.5 729.2 1107.9 726.3 1108.6 724.5C1109.3 722.7 1109.0 721.4 1109.2 720.0C1109.4 718.6 1109.4 717.4 1109.9 716.0C1110.4 714.5 1111.7 713.1 1112.1 711.3C1112.5 709.5 1112.3 706.3 1112.3 705.2C1112.3 704.1 1113.1 704.4 1112.1 704.7Z" fill="#707070" fill-opacity="0.13" stroke="#666" stroke-opacity="0.21" stroke-width="0.7"/>
<path d="M1134.7 840.6C1136.0 840.3 1140.2 839.4 1142.3 838.3C1144.5 837.2 1146.0 835.3 1147.8 833.9C1149.6 832.4 1151.3 830.7 1153.1 829.5C1154.8 828.3 1156.4 828.0 1158.2 826.6C1160.1 825.2 1162.5 823.4 1164.1 821.1C1165.7 818.9 1166.9 815.8 1168.0 813.4C1169.1 811.0 1169.7 808.9 1170.4 806.7C1171.1 804.6 1171.9 801.6 1172.2 800.5C1172.4 799.3 1173.2 799.6 1171.8 800.0C1170.3 800.5 1165.3 801.7 1163.3 803.2C1161.2 804.7 1160.6 807.3 1159.5 809.0C1158.5 810.8 1158.2 812.2 1157.1 813.6C1156.0 815.1 1154.6 816.3 1152.8 817.7C1151.0 819.0 1148.0 820.4 1146.0 822.0C1144.1 823.6 1142.7 825.4 1141.1 827.1C1139.6 828.9 1137.8 830.4 1136.7 832.5C1135.6 834.7 1134.8 838.7 1134.5 840.0C1134.1 841.3 1133.4 840.8 1134.7 840.6Z" fill="#707070" fill-opacity="0.16" stroke="#666" stroke-opacity="0.13" stroke-width="0.7"/>
<path d="M1121.9 744.9C1123.0 744.1 1126.2 741.3 1128.0 739.8C1129.8 738.4 1130.9 737.1 1132.6 736.0C1134.2 735.0 1136.1 733.9 1137.7 733.6C1139.4 733.3 1141.0 733.6 1142.5 734.1C1144.0 734.5 1144.7 735.7 1146.7 736.4C1148.6 737.1 1151.7 737.8 1154.3 738.2C1156.8 738.6 1159.6 738.5 1162.0 738.6C1164.4 738.6 1167.4 738.6 1168.6 738.5C1169.7 738.4 1169.8 739.2 1168.8 738.0C1167.9 736.7 1165.1 732.3 1163.1 730.8C1161.1 729.4 1158.9 729.8 1156.8 729.2C1154.7 728.6 1153.2 728.1 1150.7 727.2C1148.3 726.3 1145.0 724.2 1142.0 723.8C1138.9 723.5 1135.3 724.0 1132.5 725.0C1129.8 726.0 1127.5 727.9 1125.6 729.9C1123.6 731.9 1121.5 734.3 1120.8 736.8C1120.1 739.2 1121.1 743.4 1121.3 744.7C1121.5 746.1 1120.8 745.7 1121.9 744.9Z" fill="#707070" fill-opacity="0.11" stroke="#666" stroke-opacity="0.33" stroke-width="0.7"/>
<path d="M1101.1 657.5C1102.2 657.1 1105.7 656.0 1107.6 655.0C1109.5 654.0 1110.9 652.8 1112.4 651.2C1114.0 649.6 1115.6 647.6 1116.7 645.5C1117.8 643.3 1118.5 640.5 1119.0 638.1C1119.6 635.8 1119.9 633.6 1119.9 631.3C1119.8 628.9 1119.4 626.3 1118.9 624.0C1118.4 621.7 1118.2 619.5 1116.8 617.6C1115.4 615.7 1111.8 613.4 1110.6 612.7C1109.5 611.9 1110.2 611.9 1110.1 613.0C1110.0 614.0 1110.1 617.1 1110.2 619.0C1110.3 621.0 1110.7 623.1 1110.9 624.9C1111.1 626.8 1111.4 628.4 1111.3 630.2C1111.3 632.0 1110.8 634.1 1110.5 635.8C1110.2 637.6 1110.2 639.1 1109.6 640.7C1108.9 642.3 1108.0 643.8 1106.9 645.4C1105.7 647.1 1103.7 648.4 1102.6 650.4C1101.6 652.3 1100.8 656.0 1100.5 657.2C1100.3 658.3 1099.9 657.8 1101.1 657.5Z" fill="#707070" fill-opacity="0.18" stroke="#666" stroke-opacity="0.25" stroke-width="0.7"/>
<path d="M1009.1 682.4C1010.2 681.8 1013.6 679.3 1015.5 678.1C1017.3 676.8 1018.5 675.8 1020.1 674.9C1021.7 674.1 1023.5 673.2 1025.1 673.0C1026.7 672.8 1027.9 673.3 1029.6 673.6C1031.3 673.9 1033.7 674.1 1035.3 674.7C1036.9 675.3 1037.6 676.4 1039.5 677.3C1041.4 678.1 1043.9 679.8 1046.5 679.7C1049.1 679.6 1053.5 677.2 1054.9 676.6C1056.3 676.0 1055.8 676.7 1054.9 676.0C1054.1 675.3 1051.5 673.6 1049.8 672.5C1048.1 671.4 1046.6 670.6 1044.5 669.3C1042.4 668.0 1039.7 665.7 1037.2 664.7C1034.7 663.7 1032.3 663.4 1029.6 663.2C1026.8 663.1 1023.2 663.1 1020.5 664.0C1017.8 664.8 1015.6 666.4 1013.5 668.2C1011.5 669.9 1009.2 672.1 1008.4 674.4C1007.6 676.8 1008.5 680.8 1008.6 682.1C1008.7 683.5 1007.9 683.1 1009.1 682.4Z" fill="#707070" fill-opacity="0.08" stroke="#666" stroke-opacity="0.13" stroke-width="0.7"/>
<path d="M1079.5 850.2C1080.5 850.4 1083.7 851.5 1085.6 851.1C1087.4 850.7 1089.1 848.4 1090.4 847.6C1091.8 846.8 1092.5 847.1 1093.8 846.5C1095.1 845.8 1096.8 845.1 1098.2 843.9C1099.7 842.6 1101.3 840.5 1102.5 839.1C1103.7 837.6 1104.5 836.6 1105.3 834.9C1106.1 833.3 1106.9 831.1 1107.3 829.4C1107.7 827.7 1107.7 825.6 1107.7 824.8C1107.6 823.9 1108.5 824.1 1107.3 824.3C1106.0 824.5 1101.8 825.2 1100.2 825.9C1098.7 826.7 1098.9 828.0 1098.0 829.1C1097.1 830.2 1095.7 831.5 1094.8 832.5C1093.9 833.5 1093.8 834.2 1092.8 835.1C1091.9 835.9 1090.6 836.5 1089.1 837.5C1087.6 838.5 1085.1 839.8 1083.9 840.9C1082.7 842.0 1082.6 842.7 1081.9 844.1C1081.1 845.6 1079.8 848.6 1079.4 849.6C1079.0 850.6 1078.5 849.9 1079.5 850.2Z" fill="#707070" fill-opacity="0.19" stroke="#666" stroke-opacity="0.27" stroke-width="0.7"/>
<path d="M1129.0 712.4C1128.8 711.7 1127.8 709.5 1127.3 708.4C1126.8 707.2 1126.6 706.5 1126.0 705.5C1125.3 704.4 1124.3 703.2 1123.4 702.2C1122.5 701.2 1121.7 700.2 1120.7 699.3C1119.6 698.4 1118.2 697.6 1116.9 696.9C1115.6 696.2 1114.5 695.6 1113.1 695.2C1111.7 694.9 1109.8 694.8 1108.4 694.9C1106.9 695.0 1105.2 695.7 1104.5 695.9C1103.8 696.2 1103.8 695.9 1104.4 696.5C1104.9 697.1 1106.8 698.9 1107.8 699.5C1108.9 700.2 1109.7 699.8 1110.7 700.2C1111.7 700.5 1112.8 701.3 1113.7 701.8C1114.7 702.4 1115.5 702.8 1116.4 703.5C1117.3 704.2 1118.2 705.2 1119.0 706.1C1119.8 706.9 1120.6 707.5 1121.4 708.5C1122.3 709.5 1123.2 711.2 1124.4 711.9C1125.5 712.6 1127.7 712.7 1128.5 712.7C1129.3 712.8 1129.2 713.2 1129.0 712.4Z" fill="#707070" fill-opacity="0.07" stroke="#666" stroke-opacity="0.21" stroke-width="0.7"/>
<path d="M1073.3 712.1C1074.3 711.8 1077.4 711.2 1078.8 709.8C1080.2 708.5 1081.1 706.1 1081.8 704.1C1082.4 702.2 1082.4 699.8 1083.0 698.2C1083.6 696.7 1084.7 696.6 1085.3 695.0C1085.9 693.4 1086.3 690.4 1086.7 688.5C1087.1 686.6 1087.6 685.5 1087.8 683.6C1087.9 681.8 1088.2 679.4 1087.5 677.5C1086.9 675.6 1084.3 673.0 1083.6 672.1C1082.8 671.3 1083.3 671.4 1083.0 672.3C1082.7 673.1 1081.9 675.7 1081.6 677.3C1081.3 678.8 1081.4 680.1 1081.0 681.8C1080.6 683.4 1079.6 685.6 1079.2 687.1C1078.8 688.7 1079.2 689.4 1078.6 691.1C1078.0 692.8 1076.1 695.3 1075.5 697.1C1074.9 698.8 1075.4 700.2 1075.2 701.7C1075.0 703.1 1074.7 704.3 1074.3 705.9C1074.0 707.6 1073.0 710.7 1072.9 711.7C1072.7 712.7 1072.3 712.4 1073.3 712.1Z" fill="#707070" fill-opacity="0.13" stroke="#666" stroke-opacity="0.20" stroke-width="0.7"/>
<path d="M1114.7 721.4C1114.8 722.4 1114.6 725.2 1115.3 726.5C1116.0 727.9 1117.7 728.7 1118.9 729.6C1120.2 730.4 1121.7 731.0 1123.0 731.7C1124.2 732.3 1125.3 732.8 1126.5 733.3C1127.7 733.8 1129.3 734.2 1130.2 734.7C1131.1 735.2 1131.1 735.7 1132.0 736.3C1132.9 736.9 1134.1 738.2 1135.6 738.4C1137.2 738.6 1140.4 737.8 1141.4 737.6C1142.4 737.3 1141.8 737.8 1141.7 737.0C1141.5 736.2 1141.0 733.9 1140.4 732.7C1139.7 731.5 1139.0 730.9 1137.9 729.8C1136.8 728.7 1135.2 726.9 1133.9 726.0C1132.7 725.1 1131.5 724.9 1130.3 724.4C1129.1 723.9 1127.8 723.3 1126.6 722.9C1125.5 722.5 1124.5 722.3 1123.4 722.0C1122.3 721.7 1121.7 721.2 1120.2 721.0C1118.8 720.8 1115.8 720.8 1114.9 720.9C1114.0 720.9 1114.7 720.5 1114.7 721.4Z" fill="#707070" fill-opacity="0.11" stroke="#666" stroke-opacity="0.18" stroke-width="0.7"/>
<path d="M1014.3 750.1C1014.9 751.3 1016.3 755.2 1017.8 757.2C1019.4 759.1 1021.3 760.7 1023.7 762.0C1026.1 763.2 1029.3 764.4 1032.2 764.4C1035.2 764.5 1038.7 763.3 1041.5 762.5C1044.2 761.7 1046.3 760.7 1048.6 759.6C1051.0 758.5 1053.2 757.4 1055.3 755.9C1057.5 754.3 1059.8 752.5 1061.3 750.2C1062.8 747.9 1063.8 743.7 1064.2 742.3C1064.6 741.0 1065.0 741.5 1063.8 741.9C1062.5 742.3 1058.8 743.6 1056.7 744.7C1054.7 745.7 1053.4 747.2 1051.5 748.2C1049.6 749.3 1047.3 750.2 1045.2 751.0C1043.1 751.9 1040.8 752.7 1038.9 753.5C1037.1 754.2 1035.9 755.2 1034.2 755.5C1032.4 755.7 1030.5 755.5 1028.5 754.9C1026.5 754.2 1024.7 752.5 1022.4 751.6C1020.1 750.7 1016.0 749.8 1014.6 749.5C1013.3 749.3 1013.8 748.8 1014.3 750.1Z" fill="#707070" fill-opacity="0.12" stroke="#666" stroke-opacity="0.25" stroke-width="0.7"/>
<path d="M1133.2 683.4C1133.8 684.1 1136.1 686.0 1137.6 687.0C1139.0 688.0 1140.5 688.6 1142.0 689.4C1143.5 690.2 1145.2 690.9 1146.7 691.7C1148.2 692.5 1149.4 693.4 1150.8 694.3C1152.2 695.2 1153.5 696.4 1155.3 696.9C1157.1 697.5 1159.6 697.6 1161.6 697.8C1163.5 698.0 1165.0 698.2 1166.7 698.1C1168.4 698.1 1171.1 697.7 1172.0 697.5C1172.9 697.3 1172.9 697.6 1172.1 696.9C1171.4 696.3 1169.0 694.6 1167.3 693.9C1165.7 693.1 1163.7 693.0 1162.2 692.7C1160.6 692.4 1159.5 692.8 1158.1 692.3C1156.7 691.7 1155.2 690.4 1153.7 689.5C1152.2 688.6 1150.5 687.5 1148.9 686.7C1147.3 685.9 1145.7 685.4 1144.1 684.8C1142.4 684.1 1140.8 683.2 1139.0 682.9C1137.3 682.6 1134.6 682.9 1133.6 683.0C1132.6 683.0 1132.5 682.7 1133.2 683.4Z" fill="#707070" fill-opacity="0.11" stroke="#666" stroke-opacity="0.16" stroke-width="0.7"/>
<path d="M1128.0 735.5C1128.9 735.3 1131.5 734.7 1132.6 733.9C1133.8 733.2 1134.1 732.0 1134.7 731.1C1135.4 730.3 1136.0 729.8 1136.6 728.7C1137.1 727.6 1137.7 725.7 1138.1 724.4C1138.5 723.1 1138.7 722.0 1138.8 720.8C1139.0 719.5 1138.9 717.9 1138.9 716.8C1139.0 715.7 1139.7 715.4 1139.1 714.2C1138.6 713.0 1136.3 710.4 1135.7 709.7C1135.0 708.9 1135.7 709.3 1135.1 709.7C1134.4 710.1 1132.7 710.9 1131.9 711.9C1131.0 713.0 1130.4 714.7 1130.0 715.8C1129.6 716.9 1129.6 717.7 1129.4 718.6C1129.2 719.6 1128.8 720.7 1128.6 721.6C1128.4 722.5 1128.5 722.9 1128.2 723.9C1127.9 724.8 1127.0 726.2 1126.6 727.3C1126.2 728.4 1125.7 729.3 1125.8 730.7C1126.0 732.0 1127.1 734.4 1127.5 735.2C1127.9 736.0 1127.2 735.7 1128.0 735.5Z" fill="#707070" fill-opacity="0.11" stroke="#666" stroke-opacity="0.32" stroke-width="0.7"/>
<path d="M1059.3 793.8C1058.6 794.4 1056.6 796.5 1055.6 797.3C1054.6 798.0 1054.2 797.7 1053.5 798.4C1052.7 799.0 1051.7 799.8 1051.0 801.3C1050.4 802.7 1050.0 805.7 1049.5 807.0C1049.1 808.3 1048.8 808.4 1048.4 809.2C1047.9 810.1 1047.2 810.7 1046.8 812.1C1046.5 813.4 1045.5 815.9 1046.1 817.6C1046.7 819.3 1049.6 821.4 1050.4 822.1C1051.2 822.9 1050.5 822.5 1051.0 822.0C1051.5 821.5 1052.9 819.9 1053.4 819.0C1054.0 818.2 1053.6 817.9 1054.2 817.0C1054.8 816.0 1056.2 814.7 1057.0 813.4C1057.8 812.0 1058.8 809.7 1059.2 808.6C1059.5 807.5 1058.6 807.6 1058.9 806.7C1059.2 805.8 1060.2 804.7 1060.9 803.3C1061.5 801.8 1063.2 799.5 1063.0 797.9C1062.9 796.3 1060.5 794.3 1059.9 793.6C1059.3 793.0 1060.1 793.2 1059.3 793.8Z" fill="#707070" fill-opacity="0.07" stroke="#666" stroke-opacity="0.21" stroke-width="0.7"/>
<path d="M1051.1 675.8C1052.2 676.6 1055.9 678.9 1057.6 680.4C1059.3 681.9 1060.1 683.1 1061.2 684.7C1062.3 686.4 1063.7 688.3 1064.3 690.1C1064.9 691.9 1065.0 693.8 1064.9 695.5C1064.7 697.3 1063.6 698.5 1063.3 700.7C1063.0 702.9 1062.7 706.0 1063.0 708.6C1063.3 711.3 1063.3 714.4 1064.8 716.7C1066.4 718.9 1071.0 721.2 1072.4 722.1C1073.7 722.9 1073.0 722.8 1072.8 721.7C1072.7 720.6 1072.0 717.6 1071.7 715.5C1071.5 713.5 1071.2 711.4 1071.2 709.2C1071.3 707.1 1071.5 705.3 1072.0 702.7C1072.4 700.2 1073.8 696.8 1073.8 693.8C1073.7 690.9 1072.8 687.6 1071.6 685.1C1070.4 682.5 1068.6 680.3 1066.5 678.4C1064.4 676.5 1061.5 674.1 1059.0 673.5C1056.4 673.0 1052.6 674.8 1051.2 675.2C1049.9 675.6 1050.1 674.9 1051.1 675.8Z" fill="#707070" fill-opacity="0.14" stroke="#666" stroke-opacity="0.13" stroke-width="0.7"/>
<path d="M1021.8 690.3C1022.3 689.1 1023.8 685.6 1024.4 683.3C1025.0 681.1 1024.9 679.0 1025.2 676.9C1025.5 674.7 1025.7 672.4 1026.1 670.3C1026.5 668.2 1027.7 666.8 1027.7 664.3C1027.6 661.8 1026.4 658.0 1025.7 655.5C1025.0 652.9 1024.5 651.0 1023.4 648.9C1022.2 646.7 1020.5 644.2 1018.9 642.4C1017.3 640.5 1014.6 638.4 1013.6 637.7C1012.7 636.9 1013.2 636.5 1013.1 637.9C1012.9 639.3 1012.5 643.7 1012.9 646.0C1013.3 648.2 1014.7 649.3 1015.4 651.3C1016.1 653.3 1016.5 656.0 1017.1 657.8C1017.6 659.6 1018.7 660.3 1018.7 662.2C1018.7 664.2 1017.5 667.2 1017.2 669.6C1016.9 672.0 1016.9 674.3 1016.9 676.7C1016.9 679.1 1016.7 681.6 1017.4 684.0C1018.1 686.3 1020.5 689.5 1021.3 690.6C1022.0 691.7 1021.3 691.5 1021.8 690.3Z" fill="#707070" fill-opacity="0.19" stroke="#666" stroke-opacity="0.23" stroke-width="0.7"/>
<path d="M1073.6 857.3C1074.5 856.8 1077.0 854.9 1078.6 854.0C1080.2 853.0 1081.7 852.7 1083.2 851.6C1084.8 850.4 1086.4 848.5 1087.9 847.1C1089.3 845.7 1090.6 844.2 1092.0 843.0C1093.4 841.8 1094.9 841.2 1096.4 840.0C1097.9 838.8 1099.4 837.1 1100.9 835.7C1102.3 834.4 1103.8 833.4 1105.1 831.9C1106.3 830.4 1107.9 827.5 1108.3 826.6C1108.8 825.6 1108.9 825.8 1107.9 826.1C1107.0 826.5 1104.2 827.6 1102.5 828.6C1100.7 829.6 1099.0 830.9 1097.5 832.0C1096.0 833.2 1094.9 834.4 1093.4 835.6C1091.8 836.8 1089.7 837.9 1088.1 839.2C1086.6 840.5 1085.3 842.0 1084.0 843.4C1082.7 844.8 1082.0 846.1 1080.6 847.4C1079.1 848.7 1076.6 849.7 1075.3 851.3C1074.1 852.9 1073.3 856.1 1073.0 857.1C1072.7 858.1 1072.7 857.8 1073.6 857.3Z" fill="#707070" fill-opacity="0.19" stroke="#666" stroke-opacity="0.24" stroke-width="0.7"/>
<path d="M1008.1 848.4C1007.7 849.1 1006.6 851.0 1006.7 852.3C1006.9 853.7 1008.5 855.3 1008.9 856.4C1009.3 857.4 1008.9 857.8 1009.0 858.8C1009.1 859.7 1009.0 860.9 1009.6 862.1C1010.2 863.4 1011.7 865.1 1012.5 866.2C1013.3 867.3 1013.9 867.9 1014.2 868.7C1014.6 869.6 1014.0 870.2 1014.7 871.1C1015.4 871.9 1017.7 873.6 1018.4 874.0C1019.1 874.5 1018.8 874.4 1019.0 873.8C1019.2 873.2 1019.6 871.8 1019.6 870.4C1019.7 869.1 1019.6 867.1 1019.2 865.8C1018.8 864.4 1017.9 863.1 1017.4 862.3C1016.8 861.5 1016.2 861.7 1015.9 860.9C1015.5 860.0 1015.4 858.6 1015.1 857.3C1014.7 856.0 1014.1 853.9 1013.5 852.9C1013.0 851.9 1012.3 852.0 1011.5 851.3C1010.7 850.5 1009.2 848.8 1008.7 848.3C1008.1 847.9 1008.4 847.7 1008.1 848.4Z" fill="#707070" fill-opacity="0.08" stroke="#666" stroke-opacity="0.29" stroke-width="0.7"/>
<path d="M1019.6 730.8C1018.7 730.1 1016.3 728.0 1014.5 727.4C1012.8 726.8 1010.8 727.3 1009.1 727.2C1007.4 727.0 1006.3 726.4 1004.5 726.7C1002.6 726.9 999.7 728.2 997.9 728.7C996.1 729.2 994.9 729.6 993.7 729.6C992.4 729.6 992.0 729.0 990.6 728.8C989.2 728.6 987.0 727.9 985.2 728.6C983.3 729.3 980.5 732.3 979.6 733.1C978.7 734.0 979.0 733.3 979.7 733.7C980.4 734.1 982.5 735.2 984.0 735.8C985.5 736.3 986.7 736.7 988.6 737.2C990.6 737.7 993.4 738.6 995.5 738.7C997.6 738.8 999.8 738.0 1001.3 737.6C1002.7 737.1 1002.8 736.3 1004.2 735.9C1005.6 735.6 1008.1 736.0 1009.8 735.7C1011.5 735.5 1012.8 735.4 1014.5 734.7C1016.1 733.9 1018.8 732.0 1019.6 731.4C1020.5 730.7 1020.4 731.4 1019.6 730.8Z" fill="#707070" fill-opacity="0.19" stroke="#666" stroke-opacity="0.20" stroke-width="0.7"/>
<path d="M1135.6 780.0C1135.1 780.8 1133.3 782.8 1133.2 784.5C1133.1 786.2 1134.2 788.4 1135.1 790.0C1136.0 791.7 1137.3 793.0 1138.6 794.2C1139.8 795.5 1141.7 796.4 1142.6 797.4C1143.5 798.5 1143.6 799.3 1144.1 800.4C1144.6 801.5 1145.0 802.8 1145.4 804.1C1145.9 805.4 1145.7 807.0 1146.8 808.2C1147.9 809.4 1150.9 811.0 1151.8 811.5C1152.8 812.0 1152.3 811.8 1152.3 811.1C1152.3 810.4 1152.0 808.6 1151.8 807.1C1151.6 805.6 1151.5 803.9 1151.2 802.2C1150.8 800.6 1150.4 798.9 1149.7 797.2C1148.9 795.5 1147.6 793.4 1146.6 792.2C1145.5 790.9 1144.3 790.6 1143.3 789.8C1142.3 789.0 1141.3 788.2 1140.5 787.3C1139.6 786.5 1139.0 785.9 1138.3 784.7C1137.6 783.4 1136.6 780.7 1136.2 780.0C1135.7 779.2 1136.1 779.2 1135.6 780.0Z" fill="#707070" fill-opacity="0.12" stroke="#666" stroke-opacity="0.22" stroke-width="0.7"/>
<path d="M1082.2 806.5C1081.3 805.9 1078.7 804.3 1076.9 803.5C1075.1 802.8 1073.5 801.9 1071.4 801.8C1069.4 801.7 1066.4 802.9 1064.6 802.8C1062.7 802.8 1061.5 802.1 1060.2 801.3C1058.9 800.5 1058.3 799.2 1056.8 798.1C1055.3 797.1 1053.1 796.0 1051.3 795.0C1049.6 794.0 1048.0 793.1 1046.3 792.2C1044.7 791.3 1042.2 790.0 1041.3 789.6C1040.4 789.2 1040.5 789.0 1040.9 790.0C1041.4 791.0 1042.7 794.2 1044.0 795.7C1045.4 797.3 1047.3 798.2 1048.8 799.3C1050.4 800.3 1051.7 800.9 1053.3 802.2C1055.0 803.4 1056.7 805.6 1058.8 806.5C1060.9 807.5 1063.8 808.0 1065.7 808.0C1067.6 808.0 1068.5 806.6 1070.2 806.6C1071.9 806.5 1074.1 807.6 1076.0 807.7C1078.0 807.7 1081.1 807.3 1082.1 807.1C1083.2 806.9 1083.1 807.0 1082.2 806.5Z" fill="#707070" fill-opacity="0.10" stroke="#666" stroke-opacity="0.28" stroke-width="0.7"/>
<path d="M1015.3 812.9C1014.4 812.9 1011.7 813.2 1010.5 813.6C1009.2 814.0 1008.7 814.6 1007.9 815.3C1007.0 816.0 1006.0 817.3 1005.3 817.7C1004.6 818.1 1004.4 817.7 1003.7 817.8C1003.0 818.0 1002.1 818.2 1001.1 818.6C1000.1 818.9 998.7 819.6 997.8 819.9C996.8 820.3 996.2 819.7 995.4 820.7C994.5 821.7 992.9 825.0 992.5 826.0C992.1 827.0 992.3 826.1 992.8 826.5C993.4 826.9 994.7 827.9 995.9 828.3C997.2 828.6 999.1 828.6 1000.4 828.5C1001.7 828.5 1002.4 828.2 1003.6 827.9C1004.9 827.6 1006.3 827.5 1007.7 826.9C1009.2 826.2 1011.4 825.1 1012.5 824.1C1013.6 823.2 1013.8 822.4 1014.5 821.4C1015.1 820.4 1016.3 819.4 1016.6 818.1C1016.8 816.7 1016.0 814.1 1015.8 813.2C1015.6 812.4 1016.2 812.8 1015.3 812.9Z" fill="#707070" fill-opacity="0.17" stroke="#666" stroke-opacity="0.27" stroke-width="0.7"/>
<path d="M1061.4 722.8C1061.7 722.1 1062.6 719.9 1062.8 718.6C1062.9 717.2 1062.6 716.2 1062.3 714.9C1062.1 713.7 1061.5 712.2 1061.3 711.1C1061.2 710.0 1061.5 709.5 1061.4 708.4C1061.4 707.3 1061.4 705.9 1061.0 704.5C1060.6 703.1 1059.2 701.2 1058.8 700.0C1058.3 698.9 1058.6 698.5 1058.3 697.6C1057.9 696.6 1057.0 694.9 1056.7 694.3C1056.3 693.7 1056.8 693.5 1056.1 694.1C1055.4 694.8 1053.2 696.6 1052.7 698.0C1052.2 699.5 1052.6 701.8 1052.8 703.0C1053.0 704.2 1053.7 704.2 1053.9 705.1C1054.1 706.1 1054.0 707.3 1054.1 708.7C1054.3 710.1 1054.3 712.1 1054.6 713.4C1054.9 714.7 1055.5 715.5 1055.9 716.6C1056.4 717.7 1056.6 719.0 1057.4 720.1C1058.2 721.2 1060.1 722.5 1060.8 723.0C1061.5 723.4 1061.0 723.6 1061.4 722.8Z" fill="#707070" fill-opacity="0.09" stroke="#666" stroke-opacity="0.23" stroke-width="0.7"/>
<path d="M1039.1 757.2C1038.5 758.0 1037.0 760.8 1035.9 762.2C1034.8 763.6 1033.4 764.1 1032.5 765.6C1031.6 767.2 1030.7 769.7 1030.3 771.7C1029.9 773.8 1030.2 776.0 1030.0 778.0C1029.9 779.9 1029.5 781.4 1029.3 783.2C1029.0 784.9 1028.5 786.7 1028.5 788.6C1028.6 790.6 1028.8 792.9 1029.6 794.8C1030.4 796.7 1032.6 799.0 1033.3 799.9C1034.0 800.7 1033.8 800.6 1033.8 799.6C1033.9 798.7 1033.6 796.0 1033.5 794.3C1033.4 792.6 1033.0 791.1 1033.1 789.4C1033.2 787.7 1033.9 785.8 1034.2 783.9C1034.5 782.0 1035.0 779.8 1035.1 778.1C1035.2 776.3 1034.9 774.7 1035.1 773.2C1035.2 771.6 1035.3 770.2 1036.1 768.6C1036.9 766.9 1039.1 765.1 1039.7 763.3C1040.3 761.5 1039.7 758.6 1039.6 757.6C1039.5 756.6 1039.7 756.4 1039.1 757.2Z" fill="#707070" fill-opacity="0.15" stroke="#666" stroke-opacity="0.24" stroke-width="0.7"/>
<path d="M1112.7 743.9C1112.2 744.5 1110.3 745.9 1109.9 747.2C1109.5 748.5 1109.8 750.4 1110.4 751.8C1110.9 753.3 1112.1 755.0 1113.4 756.1C1114.6 757.2 1116.7 757.9 1117.9 758.5C1119.0 759.2 1119.1 759.7 1120.2 760.2C1121.2 760.8 1122.8 761.5 1124.1 761.9C1125.5 762.3 1126.7 763.0 1128.1 762.7C1129.5 762.4 1131.9 760.7 1132.7 760.2C1133.4 759.7 1133.1 760.1 1132.6 759.6C1132.2 759.1 1130.8 758.0 1129.9 757.4C1129.0 756.7 1127.9 756.4 1127.0 755.9C1126.1 755.4 1125.4 755.1 1124.4 754.4C1123.4 753.7 1121.8 752.4 1120.8 751.8C1119.9 751.3 1119.4 751.6 1118.7 751.3C1118.0 751.0 1117.4 750.8 1116.8 750.2C1116.3 749.6 1116.1 748.8 1115.5 747.8C1114.9 746.7 1113.8 744.5 1113.3 743.8C1112.9 743.2 1113.3 743.4 1112.7 743.9Z" fill="#707070" fill-opacity="0.16" stroke="#666" stroke-opacity="0.24" stroke-width="0.7"/>
<path d="M1054.1 841.6C1053.7 842.3 1052.2 844.2 1052.3 845.4C1052.5 846.7 1054.4 848.1 1055.2 849.1C1056.0 850.0 1056.0 850.5 1057.1 851.2C1058.2 851.8 1060.3 852.6 1061.7 852.9C1063.1 853.2 1064.4 853.1 1065.5 853.1C1066.6 853.1 1067.4 853.1 1068.3 853.0C1069.2 853.0 1070.1 853.2 1071.1 852.7C1072.1 852.3 1073.8 850.7 1074.4 850.2C1074.9 849.6 1074.9 850.3 1074.5 849.6C1074.1 848.9 1072.9 846.7 1072.0 845.9C1071.1 845.1 1070.0 845.2 1069.0 844.9C1068.0 844.6 1066.8 844.4 1066.0 844.3C1065.1 844.2 1064.4 844.2 1063.9 844.2C1063.4 844.2 1063.4 844.8 1062.8 844.6C1062.3 844.3 1061.1 843.1 1060.4 842.8C1059.7 842.5 1059.6 843.0 1058.7 842.7C1057.7 842.5 1055.4 841.4 1054.6 841.2C1053.8 841.0 1054.5 840.9 1054.1 841.6Z" fill="#707070" fill-opacity="0.19" stroke="#666" stroke-opacity="0.28" stroke-width="0.7"/>
<path d="M1055.9 773.5C1055.6 774.0 1054.9 775.8 1054.6 776.7C1054.3 777.5 1054.3 778.0 1054.1 778.5C1053.8 779.0 1053.5 779.2 1053.2 779.8C1052.9 780.4 1052.4 781.0 1052.2 782.0C1052.1 783.1 1052.3 785.2 1052.3 786.1C1052.2 787.0 1051.9 786.7 1051.9 787.5C1051.9 788.3 1051.8 789.9 1052.2 790.9C1052.6 791.9 1053.8 793.1 1054.3 793.5C1054.7 794.0 1054.3 794.0 1054.9 793.6C1055.4 793.2 1057.0 791.8 1057.5 791.0C1058.0 790.3 1057.7 790.1 1057.9 789.2C1058.2 788.3 1058.8 786.4 1059.0 785.7C1059.1 784.9 1058.5 785.1 1058.6 784.5C1058.7 783.9 1059.3 782.9 1059.6 781.9C1059.8 780.9 1060.3 779.4 1060.3 778.3C1060.3 777.1 1060.2 775.8 1059.6 774.9C1058.9 774.1 1057.1 773.5 1056.5 773.2C1055.9 773.0 1056.2 772.9 1055.9 773.5Z" fill="#707070" fill-opacity="0.19" stroke="#666" stroke-opacity="0.26" stroke-width="0.7"/>
<path d="M1100.8 829.6C1101.6 829.8 1104.1 830.1 1105.1 830.3C1106.0 830.5 1106.0 830.8 1106.7 831.0C1107.4 831.1 1108.2 831.4 1109.3 831.1C1110.5 830.9 1112.6 829.9 1113.5 829.7C1114.5 829.4 1114.1 830.1 1115.1 829.7C1116.1 829.3 1118.3 828.1 1119.5 827.3C1120.6 826.6 1121.2 826.0 1121.8 825.2C1122.4 824.4 1122.9 823.0 1123.1 822.4C1123.3 821.9 1123.8 822.3 1123.0 821.8C1122.2 821.3 1119.5 819.7 1118.3 819.5C1117.0 819.2 1116.0 820.2 1115.4 820.5C1114.8 820.8 1115.4 821.0 1114.5 821.2C1113.6 821.3 1111.0 821.4 1110.1 821.6C1109.1 821.9 1109.5 822.3 1108.7 822.6C1107.9 822.8 1106.6 822.7 1105.3 823.1C1104.0 823.5 1101.8 823.9 1101.0 824.9C1100.1 826.0 1100.4 828.5 1100.4 829.3C1100.3 830.1 1100.1 829.5 1100.8 829.6Z" fill="#707070" fill-opacity="0.13" stroke="#666" stroke-opacity="0.20" stroke-width="0.7"/>
<path d="M1060.5 876.4C1059.7 876.8 1057.1 877.9 1056.3 879.0C1055.5 880.2 1055.9 882.2 1055.5 883.1C1055.2 884.1 1054.6 883.7 1054.3 884.7C1053.9 885.7 1053.5 887.6 1053.5 889.2C1053.5 890.8 1054.1 893.0 1054.2 894.1C1054.4 895.3 1054.2 895.3 1054.1 896.1C1054.1 896.9 1053.5 897.6 1054.0 898.8C1054.5 900.0 1056.5 902.6 1057.2 903.4C1057.8 904.2 1057.1 903.8 1057.8 903.4C1058.5 903.1 1060.5 902.2 1061.4 901.1C1062.4 900.1 1062.9 898.7 1063.3 897.2C1063.8 895.8 1064.0 893.5 1064.1 892.3C1064.1 891.2 1063.7 891.2 1063.6 890.5C1063.5 889.8 1063.4 889.3 1063.6 888.1C1063.8 886.9 1064.7 884.5 1064.8 883.2C1064.8 881.9 1064.6 881.6 1064.0 880.4C1063.4 879.2 1061.6 876.9 1061.1 876.2C1060.5 875.6 1061.3 875.9 1060.5 876.4Z" fill="#707070" fill-opacity="0.19" stroke="#666" stroke-opacity="0.25" stroke-width="0.7"/>
<path d="M1049.1 657.1C1049.9 656.1 1052.4 653.3 1053.0 650.9C1053.6 648.5 1052.4 645.2 1052.7 642.8C1052.9 640.4 1053.5 638.4 1054.5 636.5C1055.4 634.6 1056.8 632.7 1058.4 631.4C1060.0 630.1 1062.1 630.2 1064.0 628.7C1065.8 627.3 1067.9 624.9 1069.5 622.8C1071.0 620.7 1072.2 618.3 1073.2 616.0C1074.3 613.7 1075.4 610.2 1075.7 609.0C1076.0 607.8 1076.1 607.9 1075.2 608.7C1074.2 609.5 1071.5 612.2 1070.0 614.1C1068.5 615.9 1067.6 618.0 1066.2 619.8C1064.9 621.5 1063.8 623.1 1061.8 624.5C1059.8 626.0 1056.4 626.8 1054.4 628.6C1052.4 630.4 1050.9 632.9 1049.9 635.4C1048.9 637.8 1048.3 640.9 1048.3 643.2C1048.2 645.6 1049.4 647.3 1049.4 649.6C1049.5 652.0 1048.6 655.9 1048.5 657.2C1048.5 658.4 1048.4 658.2 1049.1 657.1Z" fill="#707070" fill-opacity="0.07" stroke="#666" stroke-opacity="0.32" stroke-width="0.7"/>
<path d="M1049.9 642.0C1051.0 642.4 1054.5 643.1 1056.6 643.6C1058.7 644.2 1060.4 644.8 1062.5 645.3C1064.6 645.8 1067.0 646.2 1069.2 646.6C1071.4 647.0 1073.4 647.5 1075.7 647.8C1078.0 648.0 1080.5 648.0 1082.8 648.1C1085.1 648.1 1087.3 648.1 1089.6 648.0C1091.8 647.9 1094.3 647.3 1096.4 647.4C1098.5 647.4 1101.2 648.3 1102.2 648.3C1103.2 648.4 1103.4 648.7 1102.4 647.8C1101.4 646.9 1098.4 643.6 1096.2 642.8C1094.1 641.9 1091.9 642.6 1089.7 642.6C1087.5 642.5 1085.2 642.3 1083.0 642.2C1080.9 642.1 1078.9 642.1 1076.7 641.9C1074.6 641.7 1072.3 641.1 1070.1 640.8C1067.9 640.5 1065.8 640.2 1063.5 639.9C1061.2 639.6 1058.6 638.8 1056.3 639.0C1054.0 639.3 1050.7 640.9 1049.7 641.4C1048.6 641.9 1048.7 641.6 1049.9 642.0Z" fill="#707070" fill-opacity="0.16" stroke="#666" stroke-opacity="0.20" stroke-width="0.7"/>
<path d="M1053.4 726.0C1052.6 726.2 1050.1 726.8 1048.8 727.7C1047.5 728.6 1046.6 730.1 1045.6 731.3C1044.6 732.4 1043.7 733.3 1042.8 734.6C1042.0 735.8 1041.4 737.9 1040.6 738.9C1039.8 740.0 1039.0 740.0 1038.0 740.8C1037.1 741.6 1035.8 742.6 1034.8 743.9C1033.9 745.1 1033.1 747.1 1032.4 748.5C1031.7 749.8 1031.0 751.5 1030.8 752.1C1030.6 752.8 1030.2 752.8 1031.2 752.6C1032.1 752.4 1035.3 751.7 1036.5 750.9C1037.7 750.2 1037.6 749.0 1038.5 748.1C1039.5 747.2 1040.6 746.5 1041.9 745.4C1043.2 744.3 1045.1 742.9 1046.1 741.7C1047.0 740.5 1047.0 739.4 1047.6 738.2C1048.3 737.0 1049.4 735.7 1050.2 734.6C1050.9 733.4 1051.5 732.4 1052.1 731.1C1052.7 729.7 1053.5 727.4 1053.7 726.6C1053.9 725.7 1054.2 725.9 1053.4 726.0Z" fill="#707070" fill-opacity="0.09" stroke="#666" stroke-opacity="0.28" stroke-width="0.7"/>
<path d="M1028.9 793.8C1028.0 793.3 1024.7 791.8 1022.7 791.1C1020.6 790.4 1018.5 790.2 1016.6 789.5C1014.7 788.8 1012.9 788.0 1011.3 786.9C1009.7 785.9 1008.4 784.6 1006.8 783.3C1005.3 782.0 1003.2 780.7 1001.9 779.3C1000.6 777.8 1000.6 776.0 999.0 774.6C997.5 773.1 994.7 771.5 992.5 770.7C990.3 769.9 986.9 769.6 985.7 769.5C984.6 769.4 984.7 769.2 985.5 770.0C986.2 770.8 988.8 773.1 990.3 774.3C991.9 775.5 993.4 775.6 994.8 777.1C996.1 778.6 997.1 781.7 998.5 783.4C1000.0 785.1 1001.7 786.2 1003.5 787.6C1005.3 789.0 1007.1 790.7 1009.1 791.8C1011.2 793.0 1013.5 793.8 1015.6 794.4C1017.8 795.0 1020.0 795.3 1022.1 795.3C1024.3 795.3 1027.5 794.5 1028.6 794.3C1029.7 794.0 1029.9 794.3 1028.9 793.8Z" fill="#707070" fill-opacity="0.18" stroke="#666" stroke-opacity="0.24" stroke-width="0.7"/>
<path d="M1102.1 700.9C1103.2 701.0 1106.8 700.8 1108.9 700.9C1111.0 701.1 1112.6 701.5 1114.6 701.7C1116.6 702.0 1118.9 702.1 1120.8 702.5C1122.8 702.9 1124.5 703.7 1126.5 704.2C1128.6 704.7 1131.1 704.9 1133.1 705.5C1135.1 706.1 1136.5 707.2 1138.6 707.6C1140.8 707.9 1143.8 707.5 1146.0 707.6C1148.2 707.7 1150.9 708.2 1151.9 708.2C1152.9 708.2 1153.1 708.5 1152.1 707.7C1151.2 706.8 1148.1 703.9 1146.2 703.0C1144.3 702.1 1142.7 703.0 1140.7 702.5C1138.7 702.0 1136.3 700.4 1134.2 699.8C1132.2 699.1 1130.3 699.0 1128.1 698.5C1126.0 698.0 1123.6 697.1 1121.4 696.7C1119.2 696.3 1117.1 696.3 1114.8 696.3C1112.5 696.2 1109.7 695.8 1107.6 696.5C1105.5 697.2 1103.0 699.6 1102.1 700.3C1101.2 701.0 1100.9 700.8 1102.1 700.9Z" fill="#707070" fill-opacity="0.12" stroke="#666" stroke-opacity="0.26" stroke-width="0.7"/>
<path d="M1066.0 792.8C1065.0 793.7 1062.1 797.2 1060.5 798.9C1058.9 800.6 1057.5 801.0 1056.2 803.0C1054.9 805.0 1053.4 808.2 1052.8 811.0C1052.1 813.9 1053.0 817.9 1052.5 820.1C1052.1 822.3 1050.6 822.1 1049.9 824.2C1049.2 826.3 1048.9 830.2 1048.4 832.7C1047.9 835.2 1047.2 836.8 1046.8 839.1C1046.4 841.3 1046.0 844.9 1045.9 846.1C1045.8 847.3 1045.0 847.2 1046.4 846.5C1047.7 845.7 1052.2 843.7 1054.1 841.8C1055.9 839.8 1056.7 836.7 1057.5 834.5C1058.2 832.3 1057.9 831.1 1058.8 828.7C1059.7 826.2 1062.1 822.2 1062.7 819.8C1063.3 817.4 1062.0 816.2 1062.1 814.3C1062.3 812.4 1062.5 810.8 1063.5 808.6C1064.5 806.4 1067.5 803.6 1068.0 801.0C1068.5 798.5 1066.8 794.6 1066.4 793.2C1066.1 791.8 1067.0 791.8 1066.0 792.8Z" fill="#707070" fill-opacity="0.11" stroke="#666" stroke-opacity="0.17" stroke-width="0.7"/>
<path d="M1060.5 698.9C1059.4 699.5 1055.9 701.3 1054.1 702.6C1052.4 703.9 1051.3 705.3 1049.8 706.7C1048.4 708.1 1046.9 709.5 1045.4 711.0C1043.9 712.4 1042.3 714.3 1040.9 715.3C1039.4 716.3 1038.0 716.8 1036.5 717.2C1035.0 717.6 1033.6 717.3 1031.7 717.8C1029.8 718.2 1027.1 718.5 1025.1 719.8C1023.1 721.2 1020.6 724.7 1019.8 725.8C1018.9 726.9 1018.9 726.1 1020.0 726.3C1021.2 726.6 1024.5 727.3 1026.6 727.4C1028.8 727.5 1030.3 727.2 1032.7 726.9C1035.0 726.7 1038.2 726.9 1040.8 726.2C1043.3 725.4 1046.0 723.9 1048.0 722.5C1050.0 721.1 1051.2 719.4 1052.7 717.7C1054.2 716.1 1055.6 714.4 1056.9 712.5C1058.3 710.7 1060.2 708.8 1060.8 706.6C1061.5 704.4 1061.1 700.5 1061.0 699.3C1061.0 698.0 1061.7 698.3 1060.5 698.9Z" fill="#707070" fill-opacity="0.18" stroke="#666" stroke-opacity="0.19" stroke-width="0.7"/>
<path d="M1074.7 777.1C1073.5 777.3 1069.9 777.5 1068.3 778.9C1066.6 780.3 1065.9 783.7 1064.8 785.3C1063.6 787.0 1062.7 787.8 1061.6 788.6C1060.4 789.5 1059.2 789.9 1057.8 790.4C1056.4 791.0 1055.0 790.9 1053.3 792.0C1051.6 793.1 1049.1 795.4 1047.6 797.2C1046.0 798.9 1045.0 800.9 1044.1 802.7C1043.1 804.5 1042.3 807.0 1042.0 807.9C1041.7 808.9 1041.0 808.6 1042.3 808.4C1043.6 808.3 1048.0 808.0 1049.9 807.2C1051.8 806.4 1052.4 804.7 1053.5 803.6C1054.6 802.5 1054.8 801.7 1056.4 800.9C1057.9 800.1 1060.8 799.7 1062.9 798.7C1065.0 797.6 1067.3 796.1 1069.0 794.4C1070.7 792.7 1072.2 790.2 1072.9 788.4C1073.7 786.7 1073.2 785.9 1073.6 784.0C1074.0 782.2 1075.0 778.6 1075.2 777.4C1075.4 776.3 1075.9 776.8 1074.7 777.1Z" fill="#707070" fill-opacity="0.09" stroke="#666" stroke-opacity="0.31" stroke-width="0.7"/>
<path d="M1007.8 654.2C1007.3 654.8 1006.0 656.9 1005.4 658.3C1004.9 659.6 1004.9 660.9 1004.6 662.2C1004.3 663.5 1004.0 664.8 1003.7 666.0C1003.4 667.3 1003.2 668.7 1002.8 669.9C1002.4 671.0 1001.8 671.8 1001.3 673.0C1000.8 674.2 1000.4 675.9 999.9 677.1C999.4 678.3 998.8 679.0 998.2 680.1C997.6 681.1 996.7 682.8 996.5 683.4C996.2 684.0 995.9 684.0 996.8 683.9C997.7 683.8 1000.6 683.6 1001.9 682.7C1003.3 681.9 1004.2 680.2 1005.0 679.0C1005.7 677.8 1005.9 676.8 1006.5 675.5C1007.1 674.2 1008.1 672.6 1008.6 671.2C1009.1 669.8 1009.2 668.4 1009.4 667.0C1009.7 665.6 1009.9 664.2 1010.0 662.8C1010.1 661.4 1010.3 660.0 1010.0 658.6C1009.8 657.2 1008.7 655.2 1008.3 654.5C1007.9 653.7 1008.3 653.6 1007.8 654.2Z" fill="#707070" fill-opacity="0.10" stroke="#666" stroke-opacity="0.14" stroke-width="0.7"/>
<path d="M1129.7 894.9C1129.9 895.8 1130.4 898.5 1131.2 899.8C1132.0 901.1 1133.0 902.0 1134.4 902.8C1135.9 903.6 1138.6 904.1 1140.0 904.7C1141.3 905.3 1141.0 906.0 1142.4 906.4C1143.8 906.8 1146.6 907.3 1148.6 907.1C1150.6 906.8 1152.7 905.5 1154.2 904.9C1155.8 904.2 1156.6 903.9 1157.8 903.2C1158.9 902.4 1160.5 900.8 1161.1 900.2C1161.6 899.6 1161.9 900.1 1161.1 899.6C1160.2 899.0 1157.5 897.2 1155.9 896.9C1154.2 896.5 1152.4 897.4 1151.3 897.7C1150.1 898.0 1149.8 898.5 1149.0 898.7C1148.2 898.9 1147.9 899.3 1146.7 899.0C1145.5 898.6 1143.0 896.9 1141.7 896.5C1140.5 896.0 1140.0 896.8 1138.9 896.5C1137.9 896.2 1136.7 894.9 1135.2 894.6C1133.7 894.2 1130.9 894.3 1129.9 894.3C1129.0 894.4 1129.5 893.9 1129.7 894.9Z" fill="#808080" fill-opacity="0.13" stroke="#777" stroke-opacity="0.23" stroke-width="0.7"/>
<path d="M1089.3 921.1C1090.0 920.6 1092.1 919.2 1092.9 918.3C1093.8 917.4 1094.2 916.8 1094.6 915.8C1095.1 914.7 1095.5 912.7 1095.9 911.9C1096.4 911.0 1096.9 911.1 1097.4 910.7C1098.0 910.4 1098.6 910.1 1099.3 909.9C1099.9 909.6 1100.6 909.5 1101.4 909.4C1102.2 909.2 1103.2 909.3 1104.2 908.8C1105.2 908.3 1107.1 906.9 1107.6 906.4C1108.2 905.9 1108.3 906.5 1107.7 905.8C1107.2 905.2 1105.5 903.0 1104.2 902.3C1102.9 901.7 1101.4 901.8 1099.9 901.9C1098.4 901.9 1096.6 902.1 1095.1 902.8C1093.5 903.4 1092.0 904.3 1090.8 905.5C1089.6 906.7 1088.4 908.7 1087.9 909.9C1087.3 911.2 1087.7 911.8 1087.5 912.9C1087.3 914.1 1086.4 915.6 1086.6 917.0C1086.8 918.4 1088.3 920.5 1088.7 921.2C1089.2 921.9 1088.6 921.6 1089.3 921.1Z" fill="#808080" fill-opacity="0.13" stroke="#777" stroke-opacity="0.17" stroke-width="0.7"/>
<path d="M1066.1 892.7C1066.9 892.7 1069.4 892.3 1070.8 892.3C1072.2 892.4 1073.0 893.0 1074.4 893.0C1075.8 893.1 1077.7 892.9 1079.3 892.7C1080.8 892.4 1082.4 892.3 1084.0 891.6C1085.5 890.9 1087.1 889.5 1088.4 888.6C1089.8 887.6 1090.9 887.1 1092.1 886.0C1093.2 884.9 1094.2 883.1 1095.2 881.9C1096.1 880.6 1097.3 879.1 1097.7 878.5C1098.1 877.8 1098.3 877.8 1097.4 878.0C1096.5 878.1 1093.5 878.7 1092.2 879.5C1090.9 880.2 1090.7 881.4 1089.6 882.3C1088.5 883.2 1086.8 883.9 1085.7 884.7C1084.5 885.4 1084.0 886.3 1082.8 886.9C1081.6 887.4 1080.1 887.6 1078.7 887.9C1077.3 888.2 1076.2 888.4 1074.6 888.6C1073.0 888.7 1070.7 888.2 1069.2 888.9C1067.7 889.5 1066.2 891.6 1065.7 892.3C1065.1 892.9 1065.2 892.7 1066.1 892.7Z" fill="#808080" fill-opacity="0.11" stroke="#777" stroke-opacity="0.15" stroke-width="0.7"/>
<path d="M1154.6 902.7C1153.9 902.1 1151.9 900.3 1150.4 899.7C1148.9 899.2 1147.1 899.5 1145.6 899.3C1144.1 899.1 1143.0 898.7 1141.5 898.7C1139.9 898.7 1137.9 898.8 1136.2 899.2C1134.5 899.7 1132.6 901.0 1131.1 901.6C1129.6 902.2 1128.5 902.7 1127.4 902.8C1126.3 903.0 1125.5 902.5 1124.4 902.5C1123.2 902.5 1121.0 902.5 1120.3 902.6C1119.6 902.6 1119.5 902.1 1120.0 903.0C1120.5 904.0 1121.9 907.1 1123.4 908.1C1124.9 909.2 1127.4 909.3 1129.2 909.3C1131.0 909.3 1132.9 908.6 1134.2 908.1C1135.5 907.7 1136.1 907.0 1137.2 906.6C1138.3 906.2 1139.5 906.0 1140.9 905.9C1142.3 905.8 1144.2 906.1 1145.7 906.0C1147.2 906.0 1148.4 905.9 1149.9 905.4C1151.4 905.0 1153.9 903.7 1154.7 903.3C1155.5 902.8 1155.3 903.3 1154.6 902.7Z" fill="#808080" fill-opacity="0.06" stroke="#777" stroke-opacity="0.22" stroke-width="0.7"/>
<path d="M1151.9 901.2C1150.8 901.4 1147.6 902.4 1145.7 902.6C1143.8 902.8 1142.2 902.7 1140.4 902.6C1138.5 902.4 1136.8 901.7 1134.7 901.9C1132.6 902.1 1129.8 903.5 1127.8 903.8C1125.7 904.2 1124.4 903.6 1122.4 903.8C1120.4 904.0 1118.0 904.6 1115.9 905.1C1113.8 905.7 1111.8 906.2 1109.9 907.1C1107.9 907.9 1105.2 909.5 1104.3 910.1C1103.4 910.7 1103.3 910.5 1104.4 910.7C1105.5 910.9 1108.9 911.2 1110.9 911.1C1113.0 911.0 1114.9 910.3 1116.8 909.9C1118.7 909.6 1120.3 909.2 1122.4 909.0C1124.5 908.9 1127.4 909.3 1129.4 909.0C1131.4 908.7 1132.3 907.4 1134.2 907.1C1136.2 906.9 1138.6 907.6 1140.8 907.5C1143.1 907.3 1145.9 907.2 1147.8 906.3C1149.7 905.3 1151.7 902.4 1152.4 901.6C1153.0 900.7 1153.0 901.1 1151.9 901.2Z" fill="#808080" fill-opacity="0.07" stroke="#777" stroke-opacity="0.17" stroke-width="0.7"/>
<path d="M1153.3 900.4C1153.8 899.7 1155.5 897.5 1155.8 895.9C1156.1 894.4 1155.6 892.5 1155.3 890.9C1154.9 889.2 1154.3 887.7 1153.8 886.2C1153.3 884.7 1152.8 883.4 1152.4 882.0C1151.9 880.6 1151.5 879.3 1151.2 878.0C1150.9 876.7 1150.8 875.5 1150.6 874.1C1150.4 872.8 1150.6 871.3 1150.0 869.9C1149.5 868.5 1147.9 866.2 1147.3 865.5C1146.8 864.8 1147.1 864.8 1146.7 865.6C1146.3 866.3 1145.2 868.6 1144.9 870.1C1144.5 871.6 1144.6 873.2 1144.6 874.8C1144.6 876.4 1144.7 878.1 1144.9 879.7C1145.2 881.3 1145.6 882.8 1146.1 884.3C1146.6 885.7 1147.2 887.2 1147.7 888.5C1148.2 889.8 1148.8 890.9 1149.3 892.1C1149.8 893.3 1150.1 894.4 1150.6 895.8C1151.2 897.1 1152.3 899.4 1152.8 900.2C1153.2 900.9 1152.8 901.1 1153.3 900.4Z" fill="#808080" fill-opacity="0.10" stroke="#777" stroke-opacity="0.15" stroke-width="0.7"/>
<path d="M1095.1 950.0C1094.5 949.7 1092.8 948.7 1091.6 948.6C1090.4 948.5 1088.9 949.1 1087.7 949.5C1086.5 950.0 1085.3 950.8 1084.2 951.4C1083.2 951.9 1082.3 952.1 1081.3 952.7C1080.3 953.4 1079.0 954.8 1078.1 955.2C1077.2 955.7 1076.6 955.6 1075.8 955.6C1075.0 955.5 1074.3 955.2 1073.5 955.0C1072.6 954.8 1071.1 954.4 1070.5 954.4C1069.9 954.4 1069.8 954.1 1070.1 954.8C1070.4 955.6 1071.3 957.9 1072.4 958.7C1073.5 959.6 1075.2 960.0 1076.7 960.0C1078.2 960.1 1080.1 959.5 1081.2 959.0C1082.3 958.5 1082.5 957.8 1083.4 957.2C1084.4 956.6 1085.7 956.1 1086.7 955.5C1087.7 955.0 1088.3 954.3 1089.2 953.8C1090.0 953.3 1090.8 953.0 1091.8 952.5C1092.8 951.9 1094.7 951.0 1095.2 950.6C1095.8 950.2 1095.7 950.4 1095.1 950.0Z" fill="#808080" fill-opacity="0.07" stroke="#777" stroke-opacity="0.17" stroke-width="0.7"/>
<path d="M1122.4 892.4C1123.3 892.5 1126.0 892.5 1127.7 892.2C1129.4 892.0 1131.0 890.9 1132.4 890.7C1133.9 890.5 1135.1 890.8 1136.4 891.1C1137.8 891.3 1139.3 891.7 1140.7 892.1C1142.0 892.6 1143.2 893.4 1144.7 893.9C1146.3 894.4 1148.4 894.5 1149.9 895.0C1151.5 895.5 1152.5 896.3 1154.0 896.7C1155.6 897.1 1158.2 897.4 1159.1 897.5C1159.9 897.5 1159.9 897.7 1159.3 897.0C1158.8 896.2 1157.2 894.1 1155.8 893.1C1154.4 892.0 1152.5 891.1 1151.0 890.5C1149.5 889.8 1148.3 889.8 1146.7 889.3C1145.2 888.7 1143.5 887.7 1141.8 887.1C1140.1 886.6 1138.3 886.2 1136.4 886.1C1134.6 885.9 1132.4 886.0 1130.7 886.4C1129.0 886.8 1127.6 887.6 1126.3 888.5C1124.9 889.4 1123.0 891.2 1122.4 891.8C1121.8 892.5 1121.6 892.4 1122.4 892.4Z" fill="#808080" fill-opacity="0.13" stroke="#777" stroke-opacity="0.16" stroke-width="0.7"/>
<path d="M1104.6 937.0C1105.4 936.4 1107.7 934.5 1108.7 932.9C1109.7 931.4 1110.4 929.8 1110.7 927.9C1111.1 926.0 1110.6 923.2 1111.0 921.7C1111.3 920.1 1112.2 919.8 1113.0 918.5C1113.7 917.3 1114.5 915.4 1115.3 914.1C1116.2 912.7 1117.1 911.5 1118.1 910.5C1119.1 909.5 1120.4 909.1 1121.5 908.1C1122.7 907.0 1124.6 904.9 1125.1 904.2C1125.7 903.4 1126.0 903.8 1124.9 903.6C1123.9 903.5 1120.7 903.0 1118.8 903.4C1116.8 903.9 1114.8 905.1 1113.2 906.4C1111.6 907.6 1110.4 909.3 1109.3 910.8C1108.2 912.3 1107.5 913.7 1106.6 915.5C1105.8 917.4 1104.4 920.1 1104.1 921.8C1103.8 923.6 1104.7 924.5 1104.6 926.1C1104.5 927.6 1103.7 929.3 1103.7 931.0C1103.6 932.8 1103.9 935.7 1104.1 936.7C1104.3 937.7 1103.9 937.7 1104.6 937.0Z" fill="#808080" fill-opacity="0.12" stroke="#777" stroke-opacity="0.25" stroke-width="0.7"/>
<path d="M1134.8 897.8C1135.2 896.6 1136.4 893.0 1136.9 890.8C1137.3 888.5 1137.1 886.4 1137.6 884.5C1138.1 882.6 1138.8 880.9 1139.8 879.5C1140.8 878.0 1142.1 877.2 1143.5 875.8C1144.8 874.4 1146.6 873.2 1147.9 871.1C1149.3 869.1 1150.8 866.3 1151.4 863.7C1151.9 861.0 1151.5 857.8 1151.4 855.3C1151.3 852.9 1151.1 850.2 1150.9 849.1C1150.8 848.0 1151.5 847.9 1150.4 848.9C1149.3 849.8 1145.6 853.2 1144.6 855.1C1143.5 857.0 1144.5 858.6 1144.1 860.3C1143.6 861.9 1143.0 863.4 1141.7 865.0C1140.5 866.7 1138.4 868.1 1136.7 870.0C1135.0 872.0 1132.8 874.3 1131.6 876.7C1130.4 879.1 1129.8 882.0 1129.5 884.5C1129.3 887.0 1129.4 889.5 1130.2 891.8C1131.0 894.1 1133.5 897.2 1134.3 898.2C1135.1 899.2 1134.4 899.0 1134.8 897.8Z" fill="#808080" fill-opacity="0.13" stroke="#777" stroke-opacity="0.25" stroke-width="0.7"/>
</g>
<path d="M1028.3 627.0C1034.8 627.0 1043.7 629.6 1050.5 631.6C1057.3 633.6 1062.8 636.5 1068.9 639.0C1075.1 641.5 1081.2 643.6 1087.4 646.4C1093.6 649.2 1099.7 652.0 1105.9 655.7C1112.1 659.4 1118.9 663.7 1124.4 668.6C1130.0 673.5 1134.6 679.7 1139.2 685.2C1143.8 690.8 1148.4 696.4 1152.1 701.9C1155.8 707.4 1158.9 712.6 1161.4 718.5C1163.9 724.4 1165.5 730.8 1166.9 737.0C1168.3 743.2 1168.8 748.7 1169.7 755.5C1170.6 762.3 1171.5 770.3 1172.4 777.7C1173.3 785.1 1174.4 791.1 1175.2 799.8C1176.0 808.5 1177.0 821.6 1177.1 830.0C1177.2 838.4 1176.9 844.5 1176.0 850.0C1175.1 855.5 1173.0 858.4 1171.5 863.0C1170.0 867.6 1169.0 872.8 1167.1 877.7C1165.1 882.6 1161.5 887.9 1159.8 892.3C1158.1 896.7 1158.4 899.6 1156.9 904.0C1155.4 908.4 1153.4 913.7 1151.0 918.6C1148.6 923.5 1145.7 928.8 1142.3 933.2C1138.9 937.6 1135.5 941.7 1130.6 944.9C1125.7 948.1 1118.5 950.8 1113.1 952.2C1107.7 953.7 1103.3 953.9 1098.4 953.6C1093.5 953.4 1088.7 952.2 1083.8 950.7C1078.9 949.2 1073.1 947.3 1069.2 944.9C1065.3 942.5 1062.5 940.0 1060.5 936.1C1058.5 932.2 1059.5 925.2 1057.5 921.5C1055.5 917.8 1050.4 916.6 1048.7 913.8C1047.0 911.0 1050.0 906.3 1047.2 904.5C1044.4 902.7 1035.6 903.5 1031.7 903.0C1027.8 902.5 1026.5 901.0 1023.9 901.4C1021.3 901.8 1019.0 904.8 1016.2 905.3C1013.4 905.8 1008.9 908.7 1006.9 904.5C1004.9 900.3 1004.3 894.1 1004.0 880.0C1003.7 865.9 1005.0 840.8 1005.2 820.0C1005.4 799.2 1005.1 771.2 1005.2 755.5C1005.4 739.8 1005.8 737.1 1006.1 726.0C1006.4 714.9 1007.0 701.3 1007.0 689.0C1007.0 676.7 1006.0 660.3 1006.1 652.0C1006.2 643.7 1007.0 642.4 1007.9 639.0C1008.8 635.6 1008.2 633.6 1011.6 631.6C1015.0 629.6 1021.8 627.0 1028.3 627.0Z" fill="none" stroke="#c8c8c8" stroke-width="0.9"/>
<rect x="996.5" y="756" width="8" height="110" fill="#e8e8e8" stroke="#cfcfcf" stroke-width="0.8"/><line x1="710.2" y1="774.9" x2="692.2" y2="778.5" stroke="#2a4fb0" stroke-width="0.8" stroke-opacity="0.85"/>
<line x1="710.2" y1="774.9" x2="699.8" y2="777.7" stroke="#3aa6d8" stroke-width="0.8" stroke-opacity="0.85"/>
<line x1="710.2" y1="774.9" x2="679.2" y2="804.5" stroke="#56c0e0" stroke-width="0.8" stroke-opacity="0.85"/>
<line x1="710.2" y1="774.9" x2="685.8" y2="803" stroke="#2f6cc0" stroke-width="0.8" stroke-opacity="0.85"/>
<line x1="710.2" y1="774.9" x2="697.6" y2="800.9" stroke="#1e3e9a" stroke-width="0.8" stroke-opacity="0.85"/>
<line x1="710.2" y1="774.9" x2="688.8" y2="817.8" stroke="#2a4fb0" stroke-width="0.8" stroke-opacity="0.85"/>
<line x1="710.2" y1="774.9" x2="680" y2="765.6" stroke="#3aa6d8" stroke-width="0.8" stroke-opacity="0.85"/>
<line x1="710.2" y1="774.9" x2="685.8" y2="764.6" stroke="#56c0e0" stroke-width="0.8" stroke-opacity="0.85"/>
<line x1="710.2" y1="774.9" x2="694.8" y2="761" stroke="#2f6cc0" stroke-width="0.8" stroke-opacity="0.85"/>
<line x1="710.2" y1="774.9" x2="671.2" y2="887.3" stroke="#a83a2a" stroke-width="0.8" stroke-opacity="0.85"/>
<line x1="692.2" y1="778.5" x2="699.8" y2="777.7" stroke="#2a4fb0" stroke-width="0.8" stroke-opacity="0.85"/>
<line x1="692.2" y1="778.5" x2="679.2" y2="804.5" stroke="#3aa6d8" stroke-width="0.8" stroke-opacity="0.85"/>
<line x1="692.2" y1="778.5" x2="685.8" y2="803" stroke="#56c0e0" stroke-width="0.8" stroke-opacity="0.85"/>
<line x1="692.2" y1="778.5" x2="697.6" y2="800.9" stroke="#2f6cc0" stroke-width="0.8" stroke-opacity="0.85"/>
<line x1="692.2" y1="778.5" x2="688.8" y2="817.8" stroke="#1e3e9a" stroke-width="0.8" stroke-opacity="0.85"/>
<line x1="692.2" y1="778.5" x2="680" y2="765.6" stroke="#2a4fb0" stroke-width="0.8" stroke-opacity="0.85"/>
<line x1="692.2" y1="778.5" x2="685.8" y2="764.6" stroke="#3aa6d8" stroke-width="0.8" stroke-opacity="0.85"/>
<line x1="692.2" y1="778.5" x2="694.8" y2="761" stroke="#56c0e0" stroke-width="0.8" stroke-opacity="0.85"/>
<line x1="692.2" y1="778.5" x2="671.2" y2="887.3" stroke="#c0502a" stroke-width="0.8" stroke-opacity="0.85"/>
<line x1="699.8" y1="777.7" x2="679.2" y2="804.5" stroke="#1e3e9a" stroke-width="0.8" stroke-opacity="0.85"/>
<line x1="699.8" y1="777.7" x2="685.8" y2="803" stroke="#2a4fb0" stroke-width="0.8" stroke-opacity="0.85"/>
<line x1="699.8" y1="777.7" x2="697.6" y2="800.9" stroke="#3aa6d8" stroke-width="0.8" stroke-opacity="0.85"/>
<line x1="699.8" y1="777.7" x2="688.8" y2="817.8" stroke="#56c0e0" stroke-width="0.8" stroke-opacity="0.85"/>
<line x1="699.8" y1="777.7" x2="680" y2="765.6" stroke="#2f6cc0" stroke-width="0.8" stroke-opacity="0.85"/>
<line x1="699.8" y1="777.7" x2="685.8" y2="764.6" stroke="#1e3e9a" stroke-width="0.8" stroke-opacity="0.85"/>
<line x1="699.8" y1="777.7" x2="694.8" y2="761" stroke="#2a4fb0" stroke-width="0.8" stroke-opacity="0.85"/>
<line x1="699.8" y1="777.7" x2="671.2" y2="887.3" stroke="#c0502a" stroke-width="0.8" stroke-opacity="0.85"/>
<line x1="679.2" y1="804.5" x2="685.8" y2="803" stroke="#56c0e0" stroke-width="0.8" stroke-opacity="0.85"/>
<line x1="679.2" y1="804.5" x2="697.6" y2="800.9" stroke="#2f6cc0" stroke-width="0.8" stroke-opacity="0.85"/>
<line x1="679.2" y1="804.5" x2="688.8" y2="817.8" stroke="#1e3e9a" stroke-width="0.8" stroke-opacity="0.85"/>
<line x1="679.2" y1="804.5" x2="680" y2="765.6" stroke="#2a4fb0" stroke-width="0.8" stroke-opacity="0.85"/>
<line x1="679.2" y1="804.5" x2="685.8" y2="764.6" stroke="#3aa6d8" stroke-width="0.8" stroke-opacity="0.85"/>
<line x1="679.2" y1="804.5" x2="694.8" y2="761" stroke="#56c0e0" stroke-width="0.8" stroke-opacity="0.85"/>
<line x1="679.2" y1="804.5" x2="671.2" y2="887.3" stroke="#a83a2a" stroke-width="0.8" stroke-opacity="0.85"/>
<line x1="685.8" y1="803" x2="697.6" y2="800.9" stroke="#1e3e9a" stroke-width="0.8" stroke-opacity="0.85"/>
<line x1="685.8" y1="803" x2="688.8" y2="817.8" stroke="#2a4fb0" stroke-width="0.8" stroke-opacity="0.85"/>
<line x1="685.8" y1="803" x2="680" y2="765.6" stroke="#3aa6d8" stroke-width="0.8" stroke-opacity="0.85"/>
<line x1="685.8" y1="803" x2="685.8" y2="764.6" stroke="#56c0e0" stroke-width="0.8" stroke-opacity="0.85"/>
<line x1="685.8" y1="803" x2="694.8" y2="761" stroke="#2f6cc0" stroke-width="0.8" stroke-opacity="0.85"/>
<line x1="685.8" y1="803" x2="671.2" y2="887.3" stroke="#a83a2a" stroke-width="0.8" stroke-opacity="0.85"/>
<line x1="697.6" y1="800.9" x2="688.8" y2="817.8" stroke="#2a4fb0" stroke-width="0.8" stroke-opacity="0.85"/>
<line x1="697.6" y1="800.9" x2="680" y2="765.6" stroke="#3aa6d8" stroke-width="0.8" stroke-opacity="0.85"/>
<line x1="697.6" y1="800.9" x2="685.8" y2="764.6" stroke="#56c0e0" stroke-width="0.8" stroke-opacity="0.85"/>
<line x1="697.6" y1="800.9" x2="694.8" y2="761" stroke="#2f6cc0" stroke-width="0.8" stroke-opacity="0.85"/>
<line x1="697.6" y1="800.9" x2="671.2" y2="887.3" stroke="#c0502a" stroke-width="0.8" stroke-opacity="0.85"/>
<line x1="688.8" y1="817.8" x2="680" y2="765.6" stroke="#2a4fb0" stroke-width="0.8" stroke-opacity="0.85"/>
<line x1="688.8" y1="817.8" x2="685.8" y2="764.6" stroke="#3aa6d8" stroke-width="0.8" stroke-opacity="0.85"/>
<line x1="688.8" y1="817.8" x2="694.8" y2="761" stroke="#56c0e0" stroke-width="0.8" stroke-opacity="0.85"/>
<line x1="688.8" y1="817.8" x2="671.2" y2="887.3" stroke="#c0502a" stroke-width="0.8" stroke-opacity="0.85"/>
<line x1="680" y1="765.6" x2="685.8" y2="764.6" stroke="#1e3e9a" stroke-width="0.8" stroke-opacity="0.85"/>
<line x1="680" y1="765.6" x2="694.8" y2="761" stroke="#2a4fb0" stroke-width="0.8" stroke-opacity="0.85"/>
<line x1="680" y1="765.6" x2="671.2" y2="887.3" stroke="#a83a2a" stroke-width="0.8" stroke-opacity="0.85"/>
<line x1="685.8" y1="764.6" x2="694.8" y2="761" stroke="#56c0e0" stroke-width="0.8" stroke-opacity="0.85"/>
<line x1="685.8" y1="764.6" x2="671.2" y2="887.3" stroke="#a83a2a" stroke-width="0.8" stroke-opacity="0.85"/>
<line x1="694.8" y1="761" x2="671.2" y2="887.3" stroke="#c0502a" stroke-width="0.8" stroke-opacity="0.85"/>
<line x1="690" y1="810" x2="673" y2="883.2" stroke="#9a2a1e" stroke-width="0.9" stroke-opacity="0.8"/>
<line x1="690" y1="810" x2="678.3" y2="879.8" stroke="#9a2a1e" stroke-width="0.9" stroke-opacity="0.8"/>
<line x1="690" y1="810" x2="667.7" y2="891.8" stroke="#9a2a1e" stroke-width="0.9" stroke-opacity="0.8"/>
<line x1="685" y1="815" x2="673" y2="883.2" stroke="#9a2a1e" stroke-width="0.9" stroke-opacity="0.8"/>
<line x1="685" y1="815" x2="678.3" y2="879.8" stroke="#9a2a1e" stroke-width="0.9" stroke-opacity="0.8"/>
<line x1="685" y1="815" x2="667.7" y2="891.8" stroke="#9a2a1e" stroke-width="0.9" stroke-opacity="0.8"/>
<line x1="695" y1="805" x2="673" y2="883.2" stroke="#9a2a1e" stroke-width="0.9" stroke-opacity="0.8"/>
<line x1="695" y1="805" x2="678.3" y2="879.8" stroke="#9a2a1e" stroke-width="0.9" stroke-opacity="0.8"/>
<line x1="695" y1="805" x2="667.7" y2="891.8" stroke="#9a2a1e" stroke-width="0.9" stroke-opacity="0.8"/>
<circle cx="673.8" cy="636.5" r="3.5" fill="url(#gr)"/>
<circle cx="673.9" cy="643.6" r="3.5" fill="url(#gr)"/>
<circle cx="673.9" cy="651" r="3.5" fill="url(#gr)"/>
<circle cx="675.8" cy="659.5" r="3.5" fill="url(#gr)"/>
<circle cx="672" cy="665.5" r="3.5" fill="url(#gr)"/>
<circle cx="671.5" cy="670" r="3.5" fill="url(#gr)"/>
<circle cx="671" cy="675.5" r="3.5" fill="url(#gr)"/>
<circle cx="671.5" cy="681" r="3.5" fill="url(#gr)"/>
<circle cx="672.5" cy="683.5" r="3.5" fill="url(#gr)"/>
<circle cx="672" cy="688" r="3.5" fill="url(#gr)"/>
<circle cx="671" cy="693.5" r="3.5" fill="url(#gr)"/>
<circle cx="672" cy="699" r="3.5" fill="url(#gr)"/>
<circle cx="669.4" cy="705.7" r="3.5" fill="url(#gr)" opacity="0.6"/>
<circle cx="670" cy="713" r="3.5" fill="url(#gr)" opacity="0.6"/>
<circle cx="668.5" cy="719" r="3.5" fill="url(#gr)" opacity="0.6"/>
<circle cx="668.5" cy="723.5" r="3.5" fill="url(#gr)" opacity="0.6"/>
<circle cx="667" cy="728" r="3.5" fill="url(#gr)" opacity="0.6"/>
<circle cx="665.2" cy="729" r="3.5" fill="url(#gr)" opacity="0.6"/>
<circle cx="676.5" cy="725.8" r="3.5" fill="url(#gr)"/>
<circle cx="683" cy="721" r="3.5" fill="url(#gr)" opacity="0.7"/>
<circle cx="692.4" cy="718.1" r="3.5" fill="url(#gr)"/>
<circle cx="700.3" cy="713.2" r="3.5" fill="url(#gr)"/>
<circle cx="705.6" cy="712" r="3.5" fill="url(#gr)"/>
<circle cx="710.8" cy="708.3" r="3.5" fill="url(#gr)" opacity="0.8"/>
<circle cx="716.4" cy="705" r="3.5" fill="url(#gr)" opacity="0.8"/>
<circle cx="693.4" cy="740.4" r="3.5" fill="url(#gr)"/>
<circle cx="697.5" cy="737" r="3.5" fill="url(#gr)"/>
<circle cx="703.8" cy="734.2" r="3.5" fill="url(#gr)"/>
<circle cx="712" cy="733" r="3.5" fill="url(#gr)"/>
<circle cx="718.8" cy="730" r="3.5" fill="url(#gr)"/>
<circle cx="723.5" cy="727" r="3.5" fill="url(#gr)"/>
<circle cx="737" cy="724.2" r="3.5" fill="url(#gr)"/>
<circle cx="746" cy="724.4" r="3.5" fill="url(#gr)"/>
<circle cx="756" cy="721.6" r="3.5" fill="url(#gr)"/>
<circle cx="651.8" cy="744.6" r="3.5" fill="url(#gr)"/>
<circle cx="655.7" cy="744.6" r="3.5" fill="url(#gr)"/>
<circle cx="662" cy="745.4" r="3.5" fill="url(#gr)"/>
<circle cx="669.6" cy="746" r="3.5" fill="url(#gr)"/>
<circle cx="675.4" cy="747.4" r="3.5" fill="url(#gr)" opacity="0.8"/>
<circle cx="682" cy="748" r="3.5" fill="url(#gr)" opacity="0.7"/>
<circle cx="688.5" cy="749.5" r="3.5" fill="url(#gr)" opacity="0.7"/>
<circle cx="694" cy="748" r="3.5" fill="url(#gr)"/>
<circle cx="692.7" cy="755.2" r="3.5" fill="url(#gr)" opacity="0.8"/>
<circle cx="699" cy="755.4" r="3.5" fill="url(#gr)"/>
<circle cx="705" cy="759.7" r="3.5" fill="url(#gr)"/>
<circle cx="711.6" cy="758.2" r="3.5" fill="url(#gr)"/>
<circle cx="720.5" cy="756.8" r="3.5" fill="url(#gr)"/>
<circle cx="728" cy="755.2" r="3.5" fill="url(#gr)"/>
<circle cx="733.2" cy="750.9" r="3.5" fill="url(#gr)"/>
<circle cx="743.9" cy="750.5" r="3.5" fill="url(#gr)"/>
<circle cx="749.8" cy="750" r="3.5" fill="url(#gr)" opacity="0.8"/>
<circle cx="759.6" cy="748.6" r="3.5" fill="url(#gr)"/>
<circle cx="667.5" cy="764.6" r="3.5" fill="url(#gr)" opacity="0.6"/>
<circle cx="674" cy="765" r="3.5" fill="url(#gr)" opacity="0.6"/>
<circle cx="724" cy="769.5" r="3.5" fill="url(#gr)"/>
<circle cx="740.6" cy="764" r="3.5" fill="url(#gr)" opacity="0.8"/>
<circle cx="720.5" cy="795.5" r="3.5" fill="url(#gr)"/>
<circle cx="645.5" cy="801.3" r="3.5" fill="url(#gr)"/>
<circle cx="649.5" cy="798" r="3.5" fill="url(#gr)"/>
<circle cx="654" cy="796" r="3.5" fill="url(#gr)"/>
<circle cx="658.7" cy="795.7" r="3.5" fill="url(#gr)"/>
<circle cx="663.5" cy="795" r="3.5" fill="url(#gr)"/>
<circle cx="668.5" cy="794.6" r="3.5" fill="url(#gr)"/>
<circle cx="673.5" cy="794" r="3.5" fill="url(#gr)"/>
<circle cx="707.2" cy="797.6" r="3.5" fill="url(#gr)"/>
<circle cx="704.6" cy="803.5" r="3.5" fill="url(#gr)"/>
<circle cx="703.8" cy="809.7" r="3.5" fill="url(#gr)"/>
<circle cx="704" cy="816" r="3.5" fill="url(#gr)"/>
<circle cx="704.5" cy="821.3" r="3.5" fill="url(#gr)"/>
<circle cx="702.6" cy="827.9" r="3.5" fill="url(#gr)"/>
<circle cx="703.6" cy="833" r="3.5" fill="url(#gr)"/>
<circle cx="704.4" cy="838.6" r="3.5" fill="url(#gr)"/>
<circle cx="705.1" cy="842.5" r="3.5" fill="url(#gr)"/>
<circle cx="694.6" cy="813" r="3.5" fill="url(#gr)"/>
<circle cx="696" cy="818" r="3.5" fill="url(#gr)"/>
<circle cx="694.8" cy="824.6" r="3.5" fill="url(#gr)"/>
<circle cx="695.8" cy="828.8" r="3.5" fill="url(#gr)"/>
<circle cx="696" cy="832.2" r="3.5" fill="url(#gr)"/>
<circle cx="692" cy="847.3" r="3.5" fill="url(#gr)" opacity="0.8"/>
<circle cx="689.2" cy="853.7" r="3.5" fill="url(#gr)"/>
<circle cx="686" cy="857.3" r="3.5" fill="url(#gr)"/>
<circle cx="681.8" cy="861.7" r="3.5" fill="url(#gr)"/>
<circle cx="680.1" cy="867.6" r="3.5" fill="url(#gr)"/>
<circle cx="681.4" cy="874.5" r="3.5" fill="url(#gr)"/>
<circle cx="678.3" cy="879.8" r="3.5" fill="url(#gr)"/>
<circle cx="673" cy="883.2" r="3.5" fill="url(#gr)"/>
<circle cx="667.7" cy="891.8" r="3.5" fill="url(#gr)"/>
<circle cx="663.6" cy="895.8" r="3.5" fill="url(#gr)"/>
<circle cx="662.5" cy="899.4" r="3.5" fill="url(#gr)"/>
<circle cx="717.2" cy="825" r="3.5" fill="url(#gr)"/>
<circle cx="731.1" cy="822.6" r="3.5" fill="url(#gr)"/>
<circle cx="740.7" cy="820.1" r="3.5" fill="url(#gr)"/>
<circle cx="700" cy="790" r="3.5" fill="url(#gr)"/>
<circle cx="703" cy="785" r="3.5" fill="url(#gr)"/>
<circle cx="710.2" cy="774.9" r="3.5" fill="url(#gg)"/>
<circle cx="692.2" cy="778.5" r="3.5" fill="url(#gg)"/>
<circle cx="699.8" cy="777.7" r="3.5" fill="url(#gg)"/>
<circle cx="679.2" cy="804.5" r="3.5" fill="url(#gg)"/>
<circle cx="685.8" cy="803" r="3.5" fill="url(#gg)"/>
<circle cx="697.6" cy="800.9" r="3.5" fill="url(#gg)"/>
<circle cx="688.8" cy="817.8" r="3.5" fill="url(#gg)"/>
<circle cx="680" cy="765.6" r="3.5" fill="url(#gy)"/>
<circle cx="685.8" cy="764.6" r="3.5" fill="url(#gy)"/>
<circle cx="694.8" cy="761" r="3.5" fill="url(#gy)"/>
<circle cx="671.2" cy="887.3" r="3.5" fill="url(#gy)"/>
<circle cx="1059" cy="802.4" r="4.8" fill="url(#gy)"/>
<line x1="1111.6" y1="871.8" x2="1097.7" y2="876.2" stroke="#2a4fb0" stroke-width="0.9" stroke-opacity="0.85"/>
<line x1="1111.6" y1="871.8" x2="1088.2" y2="877.7" stroke="#3aa6d8" stroke-width="0.9" stroke-opacity="0.85"/>
<line x1="1111.6" y1="871.8" x2="1070" y2="889.4" stroke="#56c0e0" stroke-width="0.9" stroke-opacity="0.85"/>
<line x1="1111.6" y1="871.8" x2="1078.7" y2="889.4" stroke="#2f6cc0" stroke-width="0.9" stroke-opacity="0.85"/>
<line x1="1111.6" y1="871.8" x2="1094.8" y2="893" stroke="#1e3e9a" stroke-width="0.9" stroke-opacity="0.85"/>
<line x1="1111.6" y1="871.8" x2="1083.1" y2="901" stroke="#2a4fb0" stroke-width="0.9" stroke-opacity="0.85"/>
<line x1="1111.6" y1="871.8" x2="1071.4" y2="863.1" stroke="#3aa6d8" stroke-width="0.9" stroke-opacity="0.85"/>
<line x1="1111.6" y1="871.8" x2="1078.7" y2="861.6" stroke="#56c0e0" stroke-width="0.9" stroke-opacity="0.85"/>
<line x1="1111.6" y1="871.8" x2="1091.1" y2="860.1" stroke="#2f6cc0" stroke-width="0.9" stroke-opacity="0.85"/>
<line x1="1097.7" y1="876.2" x2="1088.2" y2="877.7" stroke="#1e3e9a" stroke-width="0.9" stroke-opacity="0.85"/>
<line x1="1097.7" y1="876.2" x2="1070" y2="889.4" stroke="#2a4fb0" stroke-width="0.9" stroke-opacity="0.85"/>
<line x1="1097.7" y1="876.2" x2="1078.7" y2="889.4" stroke="#3aa6d8" stroke-width="0.9" stroke-opacity="0.85"/>
<line x1="1097.7" y1="876.2" x2="1094.8" y2="893" stroke="#56c0e0" stroke-width="0.9" stroke-opacity="0.85"/>
<line x1="1097.7" y1="876.2" x2="1083.1" y2="901" stroke="#2f6cc0" stroke-width="0.9" stroke-opacity="0.85"/>
<line x1="1097.7" y1="876.2" x2="1071.4" y2="863.1" stroke="#1e3e9a" stroke-width="0.9" stroke-opacity="0.85"/>
<line x1="1097.7" y1="876.2" x2="1078.7" y2="861.6" stroke="#2a4fb0" stroke-width="0.9" stroke-opacity="0.85"/>
<line x1="1097.7" y1="876.2" x2="1091.1" y2="860.1" stroke="#3aa6d8" stroke-width="0.9" stroke-opacity="0.85"/>
<line x1="1088.2" y1="877.7" x2="1070" y2="889.4" stroke="#56c0e0" stroke-width="0.9" stroke-opacity="0.85"/>
<line x1="1088.2" y1="877.7" x2="1078.7" y2="889.4" stroke="#2f6cc0" stroke-width="0.9" stroke-opacity="0.85"/>
<line x1="1088.2" y1="877.7" x2="1094.8" y2="893" stroke="#1e3e9a" stroke-width="0.9" stroke-opacity="0.85"/>
<line x1="1088.2" y1="877.7" x2="1083.1" y2="901" stroke="#2a4fb0" stroke-width="0.9" stroke-opacity="0.85"/>
<line x1="1088.2" y1="877.7" x2="1071.4" y2="863.1" stroke="#3aa6d8" stroke-width="0.9" stroke-opacity="0.85"/>
<line x1="1088.2" y1="877.7" x2="1078.7" y2="861.6" stroke="#56c0e0" stroke-width="0.9" stroke-opacity="0.85"/>
<line x1="1088.2" y1="877.7" x2="1091.1" y2="860.1" stroke="#2f6cc0" stroke-width="0.9" stroke-opacity="0.85"/>
<line x1="1070" y1="889.4" x2="1078.7" y2="889.4" stroke="#1e3e9a" stroke-width="0.9" stroke-opacity="0.85"/>
<line x1="1070" y1="889.4" x2="1094.8" y2="893" stroke="#2a4fb0" stroke-width="0.9" stroke-opacity="0.85"/>
<line x1="1070" y1="889.4" x2="1083.1" y2="901" stroke="#3aa6d8" stroke-width="0.9" stroke-opacity="0.85"/>
<line x1="1070" y1="889.4" x2="1071.4" y2="863.1" stroke="#56c0e0" stroke-width="0.9" stroke-opacity="0.85"/>
<line x1="1070" y1="889.4" x2="1078.7" y2="861.6" stroke="#2f6cc0" stroke-width="0.9" stroke-opacity="0.85"/>
<line x1="1070" y1="889.4" x2="1091.1" y2="860.1" stroke="#1e3e9a" stroke-width="0.9" stroke-opacity="0.85"/>
<line x1="1078.7" y1="889.4" x2="1094.8" y2="893" stroke="#2a4fb0" stroke-width="0.9" stroke-opacity="0.85"/>
<line x1="1078.7" y1="889.4" x2="1083.1" y2="901" stroke="#3aa6d8" stroke-width="0.9" stroke-opacity="0.85"/>
<line x1="1078.7" y1="889.4" x2="1071.4" y2="863.1" stroke="#56c0e0" stroke-width="0.9" stroke-opacity="0.85"/>
<line x1="1078.7" y1="889.4" x2="1078.7" y2="861.6" stroke="#2f6cc0" stroke-width="0.9" stroke-opacity="0.85"/>
<line x1="1078.7" y1="889.4" x2="1091.1" y2="860.1" stroke="#1e3e9a" stroke-width="0.9" stroke-opacity="0.85"/>
<line x1="1094.8" y1="893" x2="1083.1" y2="901" stroke="#2a4fb0" stroke-width="0.9" stroke-opacity="0.85"/>
<line x1="1094.8" y1="893" x2="1071.4" y2="863.1" stroke="#3aa6d8" stroke-width="0.9" stroke-opacity="0.85"/>
<line x1="1094.8" y1="893" x2="1078.7" y2="861.6" stroke="#56c0e0" stroke-width="0.9" stroke-opacity="0.85"/>
<line x1="1094.8" y1="893" x2="1091.1" y2="860.1" stroke="#2f6cc0" stroke-width="0.9" stroke-opacity="0.85"/>
<line x1="1083.1" y1="901" x2="1071.4" y2="863.1" stroke="#1e3e9a" stroke-width="0.9" stroke-opacity="0.85"/>
<line x1="1083.1" y1="901" x2="1078.7" y2="861.6" stroke="#2a4fb0" stroke-width="0.9" stroke-opacity="0.85"/>
<line x1="1083.1" y1="901" x2="1091.1" y2="860.1" stroke="#3aa6d8" stroke-width="0.9" stroke-opacity="0.85"/>
<line x1="1071.4" y1="863.1" x2="1078.7" y2="861.6" stroke="#56c0e0" stroke-width="0.9" stroke-opacity="0.85"/>
<line x1="1071.4" y1="863.1" x2="1091.1" y2="860.1" stroke="#2f6cc0" stroke-width="0.9" stroke-opacity="0.85"/>
<line x1="1078.7" y1="861.6" x2="1091.1" y2="860.1" stroke="#1e3e9a" stroke-width="0.9" stroke-opacity="0.85"/>
<line x1="1061" y1="815" x2="1111.6" y2="871.8" stroke="#c0502a" stroke-width="0.8" stroke-opacity="0.6"/>
<line x1="1061" y1="815" x2="1097.7" y2="876.2" stroke="#c0502a" stroke-width="0.8" stroke-opacity="0.6"/>
<line x1="1061" y1="815" x2="1088.2" y2="877.7" stroke="#c0502a" stroke-width="0.8" stroke-opacity="0.6"/>
<line x1="1061" y1="815" x2="1070" y2="889.4" stroke="#c0502a" stroke-width="0.8" stroke-opacity="0.6"/>
<line x1="1061" y1="815" x2="1078.7" y2="889.4" stroke="#c0502a" stroke-width="0.8" stroke-opacity="0.6"/>
<line x1="1061" y1="815" x2="1094.8" y2="893" stroke="#c0502a" stroke-width="0.8" stroke-opacity="0.6"/>
<line x1="1062" y1="825" x2="1111.6" y2="871.8" stroke="#c0502a" stroke-width="0.8" stroke-opacity="0.6"/>
<line x1="1062" y1="825" x2="1097.7" y2="876.2" stroke="#c0502a" stroke-width="0.8" stroke-opacity="0.6"/>
<line x1="1062" y1="825" x2="1088.2" y2="877.7" stroke="#c0502a" stroke-width="0.8" stroke-opacity="0.6"/>
<line x1="1062" y1="825" x2="1070" y2="889.4" stroke="#c0502a" stroke-width="0.8" stroke-opacity="0.6"/>
<line x1="1062" y1="825" x2="1078.7" y2="889.4" stroke="#c0502a" stroke-width="0.8" stroke-opacity="0.6"/>
<line x1="1062" y1="825" x2="1094.8" y2="893" stroke="#c0502a" stroke-width="0.8" stroke-opacity="0.6"/>
<line x1="1065" y1="812" x2="1111.6" y2="871.8" stroke="#c0502a" stroke-width="0.8" stroke-opacity="0.6"/>
<line x1="1065" y1="812" x2="1097.7" y2="876.2" stroke="#c0502a" stroke-width="0.8" stroke-opacity="0.6"/>
<line x1="1065" y1="812" x2="1088.2" y2="877.7" stroke="#c0502a" stroke-width="0.8" stroke-opacity="0.6"/>
<line x1="1065" y1="812" x2="1070" y2="889.4" stroke="#c0502a" stroke-width="0.8" stroke-opacity="0.6"/>
<line x1="1065" y1="812" x2="1078.7" y2="889.4" stroke="#c0502a" stroke-width="0.8" stroke-opacity="0.6"/>
<line x1="1065" y1="812" x2="1094.8" y2="893" stroke="#c0502a" stroke-width="0.8" stroke-opacity="0.6"/>
<line x1="1065" y1="812" x2="1090" y2="845" stroke="#8a1e14" stroke-width="1" stroke-opacity="0.8"/>
<line x1="1065" y1="812" x2="1088" y2="830" stroke="#8a1e14" stroke-width="1" stroke-opacity="0.8"/>
<circle cx="1101.8" cy="665.8" r="4.8" fill="url(#gr)"/>
<circle cx="1095.1" cy="669" r="4.8" fill="url(#gr)"/>
<circle cx="1091.3" cy="675.6" r="4.8" fill="url(#gr)"/>
<circle cx="1083.4" cy="680.4" r="4.8" fill="url(#gr)" opacity="0.85"/>
<circle cx="1072.6" cy="686.6" r="4.8" fill="url(#gr)" opacity="0.85"/>
<circle cx="1064.4" cy="693.1" r="4.8" fill="url(#gr)"/>
<circle cx="1056.5" cy="700.9" r="4.8" fill="url(#gr)" opacity="0.85"/>
<circle cx="1106.8" cy="679" r="4.8" fill="url(#gr)"/>
<circle cx="1101.4" cy="684.4" r="4.8" fill="url(#gr)" opacity="0.8"/>
<circle cx="1092.6" cy="687.4" r="4.8" fill="url(#gr)" opacity="0.8"/>
<circle cx="1084.6" cy="695.3" r="4.8" fill="url(#gr)"/>
<circle cx="1076.5" cy="700.4" r="4.8" fill="url(#gr)" opacity="0.85"/>
<circle cx="1069.5" cy="707.5" r="4.8" fill="url(#gr)"/>
<circle cx="1061.9" cy="715.1" r="4.8" fill="url(#gr)"/>
<circle cx="1060.4" cy="720.2" r="4.8" fill="url(#gr)"/>
<circle cx="1053.6" cy="718" r="4.8" fill="url(#gr)"/>
<circle cx="1048.3" cy="724.6" r="4.8" fill="url(#gr)"/>
<circle cx="1041.4" cy="729.7" r="4.8" fill="url(#gr)" opacity="0.8"/>
<circle cx="1035.6" cy="737" r="4.8" fill="url(#gr)" opacity="0.7"/>
<circle cx="1029" cy="746.5" r="4.8" fill="url(#gr)" opacity="0.7"/>
<circle cx="1024.6" cy="750.9" r="4.8" fill="url(#gr)" opacity="0.7"/>
<circle cx="1034.1" cy="755.3" r="4.8" fill="url(#gr)" opacity="0.7"/>
<circle cx="1038.5" cy="755.6" r="4.8" fill="url(#gr)" opacity="0.7"/>
<circle cx="1059.7" cy="729.7" r="4.8" fill="url(#gr)"/>
<circle cx="1058.3" cy="737" r="4.8" fill="url(#gr)"/>
<circle cx="1058.3" cy="745" r="4.8" fill="url(#gr)"/>
<circle cx="1056.8" cy="752.4" r="4.8" fill="url(#gr)"/>
<circle cx="1058.3" cy="757.5" r="4.8" fill="url(#gr)"/>
<circle cx="1055.3" cy="761.9" r="4.8" fill="url(#gr)"/>
<circle cx="1054.6" cy="767" r="4.8" fill="url(#gr)"/>
<circle cx="1055.3" cy="771.4" r="4.8" fill="url(#gr)"/>
<circle cx="1053.9" cy="777.2" r="4.8" fill="url(#gr)" opacity="0.85"/>
<circle cx="1054.6" cy="787.4" r="4.8" fill="url(#gr)" opacity="0.8"/>
<circle cx="1047.3" cy="771.4" r="4.8" fill="url(#gr)" opacity="0.7"/>
<circle cx="1048.7" cy="779.4" r="4.8" fill="url(#gr)" opacity="0.8"/>
<circle cx="1050.2" cy="740.7" r="4.8" fill="url(#gr)"/>
<circle cx="1067" cy="738.5" r="4.8" fill="url(#gr)"/>
<circle cx="1074.3" cy="738.5" r="4.8" fill="url(#gr)"/>
<circle cx="1087.5" cy="735.5" r="4.8" fill="url(#gr)"/>
<circle cx="1098.5" cy="732.6" r="4.8" fill="url(#gr)"/>
<circle cx="1105" cy="729" r="4.8" fill="url(#gr)"/>
<circle cx="1113.1" cy="727.5" r="4.8" fill="url(#gr)"/>
<circle cx="1120.4" cy="730.1" r="4.8" fill="url(#gr)"/>
<circle cx="1047.3" cy="752.4" r="4.8" fill="url(#gr)"/>
<circle cx="1064.8" cy="749.4" r="4.8" fill="url(#gr)"/>
<circle cx="1073.6" cy="749.1" r="4.8" fill="url(#gr)"/>
<circle cx="1083.1" cy="749.1" r="4.8" fill="url(#gr)"/>
<circle cx="1094.5" cy="779" r="4.8" fill="url(#gr)"/>
<circle cx="1091.2" cy="782.3" r="4.8" fill="url(#gr)"/>
<circle cx="1090.4" cy="787.4" r="4.8" fill="url(#gr)"/>
<circle cx="1096.3" cy="794" r="4.8" fill="url(#gr)"/>
<circle cx="1089.7" cy="799.1" r="4.8" fill="url(#gr)"/>
<circle cx="1097" cy="799.9" r="4.8" fill="url(#gr)"/>
<circle cx="1078" cy="801.3" r="4.8" fill="url(#gr)"/>
<circle cx="1062.9" cy="805" r="4.8" fill="url(#gr)"/>
<circle cx="1062.6" cy="804.6" r="4.8" fill="url(#gr)"/>
<circle cx="1061.2" cy="815.6" r="4.8" fill="url(#gr)"/>
<circle cx="1060.5" cy="820.7" r="4.8" fill="url(#gr)"/>
<circle cx="1060.5" cy="825.8" r="4.8" fill="url(#gr)"/>
<circle cx="1060.5" cy="830.2" r="4.8" fill="url(#gr)"/>
<circle cx="1061.9" cy="832.4" r="4.8" fill="url(#gr)"/>
<circle cx="1067.8" cy="813.4" r="4.8" fill="url(#gr)"/>
<circle cx="1071.4" cy="809" r="4.8" fill="url(#gr)"/>
<circle cx="1075" cy="804.6" r="4.8" fill="url(#gr)"/>
<circle cx="1078.7" cy="800.2" r="4.8" fill="url(#gr)"/>
<circle cx="1083.8" cy="796.6" r="4.8" fill="url(#gr)"/>
<circle cx="1089.7" cy="795.8" r="4.8" fill="url(#gr)"/>
<circle cx="1095.5" cy="794.4" r="4.8" fill="url(#gr)"/>
<circle cx="1089.7" cy="798.8" r="4.8" fill="url(#gr)"/>
<circle cx="1091.1" cy="804.6" r="4.8" fill="url(#gr)"/>
<circle cx="1089.7" cy="810.5" r="4.8" fill="url(#gr)"/>
<circle cx="1091.1" cy="816.3" r="4.8" fill="url(#gr)"/>
<circle cx="1091.9" cy="822.1" r="4.8" fill="url(#gr)"/>
<circle cx="1092.6" cy="828" r="4.8" fill="url(#gr)"/>
<circle cx="1094.1" cy="833.8" r="4.8" fill="url(#gr)"/>
<circle cx="1093.3" cy="839.7" r="4.8" fill="url(#gr)"/>
<circle cx="1094.8" cy="845.5" r="4.8" fill="url(#gr)"/>
<circle cx="1091.1" cy="851.4" r="4.8" fill="url(#gr)"/>
<circle cx="1097.7" cy="797.3" r="4.8" fill="url(#gr)"/>
<circle cx="1098.4" cy="806.1" r="4.8" fill="url(#gr)"/>
<circle cx="1099.2" cy="813.4" r="4.8" fill="url(#gr)"/>
<circle cx="1101.4" cy="819.2" r="4.8" fill="url(#gr)"/>
<circle cx="1102.8" cy="825.1" r="4.8" fill="url(#gr)"/>
<circle cx="1104.3" cy="832.4" r="4.8" fill="url(#gr)"/>
<circle cx="1104.3" cy="838.2" r="4.8" fill="url(#gr)"/>
<circle cx="1102.8" cy="844.1" r="4.8" fill="url(#gr)"/>
<circle cx="1101.4" cy="851.4" r="4.8" fill="url(#gr)"/>
<circle cx="1102.8" cy="857.2" r="4.8" fill="url(#gr)"/>
<circle cx="1103.6" cy="862.3" r="4.8" fill="url(#gr)"/>
<circle cx="1113.1" cy="855.8" r="4.8" fill="url(#gr)" opacity="0.8"/>
<circle cx="1114.5" cy="861.6" r="4.8" fill="url(#gr)" opacity="0.8"/>
<circle cx="1123.3" cy="860.1" r="4.8" fill="url(#gr)"/>
<circle cx="1129.9" cy="856.5" r="4.8" fill="url(#gr)"/>
<circle cx="1130.6" cy="863.1" r="4.8" fill="url(#gr)"/>
<circle cx="1135.7" cy="852.8" r="4.8" fill="url(#gr)"/>
<circle cx="1142.3" cy="852.8" r="4.8" fill="url(#gr)"/>
<circle cx="1148.1" cy="848.4" r="4.8" fill="url(#gr)"/>
<circle cx="1156.9" cy="844.8" r="4.8" fill="url(#gr)"/>
<circle cx="1160.5" cy="841.1" r="4.8" fill="url(#gr)"/>
<circle cx="1164.9" cy="836" r="4.8" fill="url(#gr)"/>
<circle cx="1174.1" cy="842.6" r="4.8" fill="url(#gr)"/>
<circle cx="1178.5" cy="833.1" r="4.8" fill="url(#gr)"/>
<circle cx="1152.5" cy="862.3" r="4.8" fill="url(#gr)"/>
<circle cx="1126.2" cy="883.5" r="4.8" fill="url(#gr)"/>
<circle cx="1107.5" cy="890.8" r="4.8" fill="url(#gr)" opacity="0.8"/>
<circle cx="1104.6" cy="909.1" r="4.8" fill="url(#gr)"/>
<circle cx="1121.1" cy="909.8" r="4.8" fill="url(#gr)"/>
<circle cx="1140.1" cy="907.6" r="4.8" fill="url(#gr)"/>
<circle cx="1152.8" cy="902.5" r="4.8" fill="url(#gr)"/>
<circle cx="1111.6" cy="871.8" r="4.8" fill="url(#gg)"/>
<circle cx="1097.7" cy="876.2" r="4.8" fill="url(#gg)"/>
<circle cx="1088.2" cy="877.7" r="4.8" fill="url(#gg)"/>
<circle cx="1070" cy="889.4" r="4.8" fill="url(#gg)"/>
<circle cx="1078.7" cy="889.4" r="4.8" fill="url(#gg)"/>
<circle cx="1094.8" cy="893" r="4.8" fill="url(#gg)"/>
<circle cx="1083.1" cy="901" r="4.8" fill="url(#gg)"/>
<circle cx="1071.4" cy="863.1" r="4.8" fill="url(#gy)"/>
<circle cx="1078.7" cy="861.6" r="4.8" fill="url(#gy)"/>
<circle cx="1091.1" cy="860.1" r="4.8" fill="url(#gy)"/>
<path d="M102 61V457.5H604" fill="none" stroke="#a3a3a3" stroke-width="1.1"/><path d="M102 457.5h5" stroke="#a3a3a3" stroke-width="1.1"/><path d="M102 417.85h5" stroke="#a3a3a3" stroke-width="1.1"/><path d="M102 378.2h5" stroke="#a3a3a3" stroke-width="1.1"/><path d="M102 338.55h5" stroke="#a3a3a3" stroke-width="1.1"/><path d="M102 298.9h5" stroke="#a3a3a3" stroke-width="1.1"/><path d="M102 259.25h5" stroke="#a3a3a3" stroke-width="1.1"/><path d="M102 219.6h5" stroke="#a3a3a3" stroke-width="1.1"/><path d="M102 179.95h5" stroke="#a3a3a3" stroke-width="1.1"/><path d="M102 140.3h5" stroke="#a3a3a3" stroke-width="1.1"/><path d="M102 100.64999999999998h5" stroke="#a3a3a3" stroke-width="1.1"/><path d="M102 61.0h5" stroke="#a3a3a3" stroke-width="1.1"/><path d="M227 457.5v-5" stroke="#a3a3a3" stroke-width="1.1"/><path d="M352.6 457.5v-5" stroke="#a3a3a3" stroke-width="1.1"/><path d="M478.2 457.5v-5" stroke="#a3a3a3" stroke-width="1.1"/><path d="M227 61V61M227 457.5V457.5M216.5 61h21M216.5 457.5h21" stroke="#4a4a4a" stroke-width="1.4" fill="none"/><rect x="206.0" y="61" width="42" height="396.5" fill="#1e72b5" stroke="#555" stroke-width="0.8"/><path d="M206.0 156.4h42" stroke="#111" stroke-width="1.8"/><path d="M352.6 61.2V133M352.6 314.7V399M342.1 61.2h21M342.1 399h21" stroke="#4a4a4a" stroke-width="1.4" fill="none"/><rect x="331.6" y="133" width="42" height="181.7" fill="#d85426" stroke="#555" stroke-width="0.8"/><path d="M331.6 217.9h42" stroke="#111" stroke-width="1.8"/><path d="M478.2 61.2V140.3M478.2 373.3V457.3M467.7 61.2h21M467.7 457.3h21" stroke="#4a4a4a" stroke-width="1.4" fill="none"/><rect x="457.2" y="140.3" width="42" height="233.0" fill="#eab120" stroke="#555" stroke-width="0.8"/><path d="M457.2 205.2h42" stroke="#111" stroke-width="1.8"/><path d="M791 61.3V457.3H1293" fill="none" stroke="#a3a3a3" stroke-width="1.1"/><path d="M791 457.3h5" stroke="#a3a3a3" stroke-width="1.1"/><path d="M791 391.3h5" stroke="#a3a3a3" stroke-width="1.1"/><path d="M791 325.3h5" stroke="#a3a3a3" stroke-width="1.1"/><path d="M791 259.3h5" stroke="#a3a3a3" stroke-width="1.1"/><path d="M791 193.3h5" stroke="#a3a3a3" stroke-width="1.1"/><path d="M791 127.30000000000001h5" stroke="#a3a3a3" stroke-width="1.1"/><path d="M791 61.30000000000001h5" stroke="#a3a3a3" stroke-width="1.1"/><path d="M916.4 457.3v-5" stroke="#a3a3a3" stroke-width="1.1"/><path d="M1041.4 457.3v-5" stroke="#a3a3a3" stroke-width="1.1"/><path d="M1167.4 457.3v-5" stroke="#a3a3a3" stroke-width="1.1"/><path d="M916.4 264.3V307.3M916.4 392.7V448.6M905.9 264.3h21M905.9 448.6h21" stroke="#4a4a4a" stroke-width="1.4" fill="none"/><rect x="895.4" y="307.3" width="42" height="85.39999999999998" fill="#1e72b5" stroke="#555" stroke-width="0.8"/><path d="M895.4 342.6h42" stroke="#111" stroke-width="1.8"/><path d="M1041.4 288V308.6M1041.4 418.2V432.1M1030.9 288h21M1030.9 432.1h21" stroke="#4a4a4a" stroke-width="1.4" fill="none"/><rect x="1020.4000000000001" y="308.6" width="42" height="109.59999999999997" fill="#d85426" stroke="#555" stroke-width="0.8"/><path d="M1020.4000000000001 366.8h42" stroke="#111" stroke-width="1.8"/><path d="M1167.4 178.5V241.5M1167.4 364.1V416.9M1156.9 178.5h21M1156.9 416.9h21" stroke="#4a4a4a" stroke-width="1.4" fill="none"/><rect x="1146.4" y="241.5" width="42" height="122.60000000000002" fill="#eab120" stroke="#555" stroke-width="0.8"/><path d="M1146.4 283.6h42" stroke="#111" stroke-width="1.8"/><path d="M1161.5 76.3l4 4M1165.5 76.3l-4 4" stroke="#e0533a" stroke-width="1"/><path d="M1489.2 61V457.4H1991" fill="none" stroke="#a3a3a3" stroke-width="1.1"/><path d="M1489.2 457.4h5" stroke="#a3a3a3" stroke-width="1.1"/><path d="M1489.2 400.77142857142854h5" stroke="#a3a3a3" stroke-width="1.1"/><path d="M1489.2 344.1428571428571h5" stroke="#a3a3a3" stroke-width="1.1"/><path d="M1489.2 287.51428571428573h5" stroke="#a3a3a3" stroke-width="1.1"/><path d="M1489.2 230.88571428571427h5" stroke="#a3a3a3" stroke-width="1.1"/><path d="M1489.2 174.2571428571428h5" stroke="#a3a3a3" stroke-width="1.1"/><path d="M1489.2 117.62857142857143h5" stroke="#a3a3a3" stroke-width="1.1"/><path d="M1489.2 61.0h5" stroke="#a3a3a3" stroke-width="1.1"/><path d="M1614.6 457.4v-5" stroke="#a3a3a3" stroke-width="1.1"/><path d="M1740 457.4v-5" stroke="#a3a3a3" stroke-width="1.1"/><path d="M1865.2 457.4v-5" stroke="#a3a3a3" stroke-width="1.1"/><path d="M1614.6 271.4V313M1614.6 400.6V400.6M1604.1 271.4h21M1604.1 400.6h21" stroke="#4a4a4a" stroke-width="1.4" fill="none"/><rect x="1593.6" y="313" width="42" height="87.60000000000002" fill="#1e72b5" stroke="#555" stroke-width="0.8"/><path d="M1593.6 369.3h42" stroke="#111" stroke-width="1.8"/><path d="M1740 291.5V304M1740 397.5V400.6M1729.5 291.5h21M1729.5 400.6h21" stroke="#4a4a4a" stroke-width="1.4" fill="none"/><rect x="1719.0" y="304" width="42" height="93.5" fill="#d85426" stroke="#555" stroke-width="0.8"/><path d="M1719.0 355.5h42" stroke="#111" stroke-width="1.8"/><path d="M1865.2 106V232M1865.2 400.6V404.2M1854.7 106h21M1854.7 404.2h21" stroke="#4a4a4a" stroke-width="1.4" fill="none"/><rect x="1844.2" y="232" width="42" height="168.60000000000002" fill="#eab120" stroke="#555" stroke-width="0.8"/><path d="M1844.2 329.5h42" stroke="#111" stroke-width="1.8"/><text x="4.04" y="48.6" font-size="65.02" fill="#231f20" color="#231f20" style="stroke-width:1.1px" textLength="41.98" lengthAdjust="spacingAndGlyphs">A</text><text x="288.73" y="38.1" font-size="48.29" fill="#231f20" color="#231f20" textLength="85.34" lengthAdjust="spacingAndGlyphs">SOZ</text><text x="385.26" y="38.1" font-size="48.29" fill="#231f20" color="#231f20" textLength="53.16" lengthAdjust="spacingAndGlyphs">RR</text><text x="685.23" y="48.8" font-size="62.25" fill="#231f20" color="#231f20" style="stroke-width:1.1px" textLength="41.84" lengthAdjust="spacingAndGlyphs">B</text><text x="863.03" y="38.1" font-size="47.85" fill="#231f20" color="#231f20" textLength="85.45" lengthAdjust="spacingAndGlyphs">SOZ</text><text x="959.26" y="38.1" font-size="47.85" fill="#231f20" color="#231f20" textLength="137.51" lengthAdjust="spacingAndGlyphs">Radius</text><text x="1107.45" y="38.1" font-size="47.85" fill="#231f20" color="#231f20" textLength="110.08" lengthAdjust="spacingAndGlyphs">(mm)</text><text x="1342.35" y="49.3" font-size="64.73" fill="#231f20" color="#231f20" style="stroke-width:1.1px" textLength="41.22" lengthAdjust="spacingAndGlyphs">C</text><text x="1405.43" y="38.1" font-size="48.58" fill="#231f20" color="#231f20" textLength="235.51" lengthAdjust="spacingAndGlyphs">Unresected</text><text x="1652.35" y="38.1" font-size="48.58" fill="#231f20" color="#231f20" textLength="84.72" lengthAdjust="spacingAndGlyphs">SOZ</text><text x="1748.27" y="38.1" font-size="48.58" fill="#231f20" color="#231f20" textLength="137.09" lengthAdjust="spacingAndGlyphs">Radius</text><text x="1899.33" y="38.1" font-size="48.58" fill="#231f20" color="#231f20" textLength="107.23" lengthAdjust="spacingAndGlyphs">(mm)</text><text x="431.21" y="626.6" font-size="64.73" fill="#231f20" color="#231f20" style="stroke-width:1.1px" textLength="45.46" lengthAdjust="spacingAndGlyphs">D</text><text x="774.0" y="634.8" font-size="58.18" fill="#231f20" color="#231f20" textLength="59.26" lengthAdjust="spacingAndGlyphs">E4</text><text x="55.92" y="108.62" font-size="28.13" fill="#111" color="#111" style="stroke-width:0.35px" textLength="37.50" lengthAdjust="spacingAndGlyphs">0.9</text><text x="55.72" y="226.52" font-size="27.70" fill="#111" color="#111" style="stroke-width:0.35px" textLength="37.64" lengthAdjust="spacingAndGlyphs">0.6</text><text x="55.96" y="347.12" font-size="28.41" fill="#111" color="#111" style="stroke-width:0.35px" textLength="36.26" lengthAdjust="spacingAndGlyphs">0.3</text><text x="76.81" y="466.83" font-size="27.00" fill="#111" color="#111" style="stroke-width:0.35px" textLength="16.54" lengthAdjust="spacingAndGlyphs">0</text><text x="738.77" y="68.24" font-size="26.29" fill="#111" color="#111" style="stroke-width:0.35px" textLength="45.07" lengthAdjust="spacingAndGlyphs">120</text><text x="753.30" y="201.14" font-size="26.15" fill="#111" color="#111" style="stroke-width:0.35px" textLength="31.43" lengthAdjust="spacingAndGlyphs">80</text><text x="753.28" y="333.92" font-size="27.99" fill="#111" color="#111" style="stroke-width:0.35px" textLength="30.83" lengthAdjust="spacingAndGlyphs">40</text><text x="768.80" y="467.72" font-size="28.13" fill="#111" color="#111" style="stroke-width:0.35px" textLength="15.26" lengthAdjust="spacingAndGlyphs">0</text><text x="1437.65" y="68.73" font-size="27.28" fill="#111" color="#111" style="stroke-width:0.35px" textLength="45.60" lengthAdjust="spacingAndGlyphs">120</text><text x="1452.00" y="184.14" font-size="26.43" fill="#111" color="#111" style="stroke-width:0.35px" textLength="31.32" lengthAdjust="spacingAndGlyphs">80</text><text x="1451.97" y="297.03" font-size="27.28" fill="#111" color="#111" style="stroke-width:0.35px" textLength="31.36" lengthAdjust="spacingAndGlyphs">40</text><text x="1467.24" y="408.33" font-size="27.42" fill="#111" color="#111" style="stroke-width:0.35px" textLength="16.07" lengthAdjust="spacingAndGlyphs">0</text><text x="199.37" y="499.2" font-size="46.4" fill="#231f20" color="#231f20" textLength="52.29" lengthAdjust="spacingAndGlyphs">E1</text><text x="317.46" y="499.2" font-size="46.4" fill="#231f20" color="#231f20" textLength="88.26" lengthAdjust="spacingAndGlyphs">E2,3</text><text x="451.91" y="499.2" font-size="46.4" fill="#231f20" color="#231f20" textLength="53.21" lengthAdjust="spacingAndGlyphs">E4</text><text x="892.55" y="499.2" font-size="46.4" fill="#231f20" color="#231f20" textLength="52.62" lengthAdjust="spacingAndGlyphs">E1</text><text x="1010.96" y="499.2" font-size="46.4" fill="#231f20" color="#231f20" textLength="88.36" lengthAdjust="spacingAndGlyphs">E2,3</text><text x="1144.9" y="499.2" font-size="46.4" fill="#231f20" color="#231f20" textLength="53.43" lengthAdjust="spacingAndGlyphs">E4</text><text x="1589.37" y="499.2" font-size="46.4" fill="#231f20" color="#231f20" textLength="52.4" lengthAdjust="spacingAndGlyphs">E1</text><text x="1707.46" y="499.2" font-size="46.4" fill="#231f20" color="#231f20" textLength="88.26" lengthAdjust="spacingAndGlyphs">E2,3</text><text x="1841.91" y="499.2" font-size="46.4" fill="#231f20" color="#231f20" textLength="53.21" lengthAdjust="spacingAndGlyphs">E4</text><circle cx="1243.9" cy="652.8" r="16.1" fill="#e0292b"/><circle cx="1243.9" cy="698" r="16.1" fill="#0aa25a"/><circle cx="1243.9" cy="742.4" r="16.1" fill="#f5dc22"/><text x="1277.1" y="667.9" font-size="46.25" fill="#231f20" color="#231f20" textLength="121.12" lengthAdjust="spacingAndGlyphs">NSOZ</text><text x="1411.75" y="667.9" font-size="42.65" fill="#231f20" color="#231f20" textLength="119.07" lengthAdjust="spacingAndGlyphs">nodes</text><text x="1458.99" y="713.6" font-size="46.25" fill="#231f20" color="#231f20" textLength="87.21" lengthAdjust="spacingAndGlyphs">SOZ</text><text x="1277.32" y="713.6" font-size="42.46" fill="#231f20" color="#231f20" textLength="169.05" lengthAdjust="spacingAndGlyphs">resected</text><text x="1559.74" y="713.6" font-size="42.46" fill="#231f20" color="#231f20" textLength="119.38" lengthAdjust="spacingAndGlyphs">nodes</text><text x="1509.28" y="759.5" font-size="46.25" fill="#231f20" color="#231f20" textLength="87.52" lengthAdjust="spacingAndGlyphs">SOZ</text><text x="1277.41" y="759.6" font-size="42.46" fill="#231f20" color="#231f20" textLength="219.68" lengthAdjust="spacingAndGlyphs">unresected</text><text x="1609.92" y="759.6" font-size="42.46" fill="#231f20" color="#231f20" textLength="120.1" lengthAdjust="spacingAndGlyphs">nodes</text><defs><linearGradient id="cbg" x1="0" x2="1" y1="0" y2="0"><stop offset="0.00000" stop-color="#3b3991"/><stop offset="0.01562" stop-color="#3b3991"/><stop offset="0.01562" stop-color="#3b3c98"/><stop offset="0.03125" stop-color="#3b3c98"/><stop offset="0.03125" stop-color="#3a3ea2"/><stop offset="0.04688" stop-color="#3a3ea2"/><stop offset="0.04688" stop-color="#3b44a4"/><stop offset="0.06250" stop-color="#3b44a4"/><stop offset="0.06250" stop-color="#3b49a6"/><stop offset="0.07812" stop-color="#3b49a6"/><stop offset="0.07812" stop-color="#3c4ba7"/><stop offset="0.09375" stop-color="#3c4ba7"/><stop offset="0.09375" stop-color="#3c4ea7"/><stop offset="0.10938" stop-color="#3c4ea7"/><stop offset="0.10938" stop-color="#3d50a8"/><stop offset="0.12500" stop-color="#3d50a8"/><stop offset="0.12500" stop-color="#3e52a8"/><stop offset="0.14062" stop-color="#3e52a8"/><stop offset="0.14062" stop-color="#3f54a8"/><stop offset="0.15625" stop-color="#3f54a8"/><stop offset="0.15625" stop-color="#4056a8"/><stop offset="0.17188" stop-color="#4056a8"/><stop offset="0.17188" stop-color="#4059a9"/><stop offset="0.18750" stop-color="#4059a9"/><stop offset="0.18750" stop-color="#3f5caa"/><stop offset="0.20312" stop-color="#3f5caa"/><stop offset="0.20312" stop-color="#3f60ab"/><stop offset="0.21875" stop-color="#3f60ab"/><stop offset="0.21875" stop-color="#4066ae"/><stop offset="0.23438" stop-color="#4066ae"/><stop offset="0.23438" stop-color="#426eb3"/><stop offset="0.25000" stop-color="#426eb3"/><stop offset="0.25000" stop-color="#4488c0"/><stop offset="0.26562" stop-color="#4488c0"/><stop offset="0.26562" stop-color="#4894c7"/><stop offset="0.28125" stop-color="#4894c7"/><stop offset="0.28125" stop-color="#4ca0ce"/><stop offset="0.29688" stop-color="#4ca0ce"/><stop offset="0.29688" stop-color="#54acd6"/><stop offset="0.31250" stop-color="#54acd6"/><stop offset="0.31250" stop-color="#59b5db"/><stop offset="0.32812" stop-color="#59b5db"/><stop offset="0.32812" stop-color="#5ebcdf"/><stop offset="0.34375" stop-color="#5ebcdf"/><stop offset="0.34375" stop-color="#63c0dc"/><stop offset="0.35938" stop-color="#63c0dc"/><stop offset="0.35938" stop-color="#68c3d6"/><stop offset="0.37500" stop-color="#68c3d6"/><stop offset="0.37500" stop-color="#6dc5cb"/><stop offset="0.39062" stop-color="#6dc5cb"/><stop offset="0.39062" stop-color="#71c6bd"/><stop offset="0.40625" stop-color="#71c6bd"/><stop offset="0.40625" stop-color="#74c6af"/><stop offset="0.42188" stop-color="#74c6af"/><stop offset="0.42188" stop-color="#7ac69b"/><stop offset="0.43750" stop-color="#7ac69b"/><stop offset="0.43750" stop-color="#81c689"/><stop offset="0.45312" stop-color="#81c689"/><stop offset="0.45312" stop-color="#8ac877"/><stop offset="0.46875" stop-color="#8ac877"/><stop offset="0.46875" stop-color="#93ca67"/><stop offset="0.48438" stop-color="#93ca67"/><stop offset="0.48438" stop-color="#9dcc59"/><stop offset="0.50000" stop-color="#9dcc59"/><stop offset="0.50000" stop-color="#a8ce4f"/><stop offset="0.51562" stop-color="#a8ce4f"/><stop offset="0.51562" stop-color="#b2d146"/><stop offset="0.53125" stop-color="#b2d146"/><stop offset="0.53125" stop-color="#bdd53e"/><stop offset="0.54688" stop-color="#bdd53e"/><stop offset="0.54688" stop-color="#c7d936"/><stop offset="0.56250" stop-color="#c7d936"/><stop offset="0.56250" stop-color="#d2dd2d"/><stop offset="0.57812" stop-color="#d2dd2d"/><stop offset="0.57812" stop-color="#dce02a"/><stop offset="0.59375" stop-color="#dce02a"/><stop offset="0.59375" stop-color="#e5e02e"/><stop offset="0.60938" stop-color="#e5e02e"/><stop offset="0.60938" stop-color="#ece02f"/><stop offset="0.62500" stop-color="#ece02f"/><stop offset="0.62500" stop-color="#f0e02d"/><stop offset="0.64062" stop-color="#f0e02d"/><stop offset="0.64062" stop-color="#f4dd26"/><stop offset="0.65625" stop-color="#f4dd26"/><stop offset="0.65625" stop-color="#f9d71b"/><stop offset="0.67188" stop-color="#f9d71b"/><stop offset="0.67188" stop-color="#f9cf13"/><stop offset="0.68750" stop-color="#f9cf13"/><stop offset="0.68750" stop-color="#f8be1e"/><stop offset="0.70312" stop-color="#f8be1e"/><stop offset="0.70312" stop-color="#f7b025"/><stop offset="0.71875" stop-color="#f7b025"/><stop offset="0.71875" stop-color="#f5a628"/><stop offset="0.73438" stop-color="#f5a628"/><stop offset="0.73438" stop-color="#f3a029"/><stop offset="0.75000" stop-color="#f3a029"/><stop offset="0.75000" stop-color="#f09b2a"/><stop offset="0.76562" stop-color="#f09b2a"/><stop offset="0.76562" stop-color="#ef932a"/><stop offset="0.78125" stop-color="#ef932a"/><stop offset="0.78125" stop-color="#ee8b2a"/><stop offset="0.79688" stop-color="#ee8b2a"/><stop offset="0.79688" stop-color="#ec7d29"/><stop offset="0.81250" stop-color="#ec7d29"/><stop offset="0.81250" stop-color="#ea6f28"/><stop offset="0.82812" stop-color="#ea6f28"/><stop offset="0.82812" stop-color="#e86128"/><stop offset="0.84375" stop-color="#e86128"/><stop offset="0.84375" stop-color="#e65328"/><stop offset="0.85938" stop-color="#e65328"/><stop offset="0.85938" stop-color="#e54929"/><stop offset="0.87500" stop-color="#e54929"/><stop offset="0.87500" stop-color="#e43e2a"/><stop offset="0.89062" stop-color="#e43e2a"/><stop offset="0.89062" stop-color="#e3342a"/><stop offset="0.90625" stop-color="#e3342a"/><stop offset="0.90625" stop-color="#e22b2a"/><stop offset="0.92188" stop-color="#e22b2a"/><stop offset="0.92188" stop-color="#e02629"/><stop offset="0.93750" stop-color="#e02629"/><stop offset="0.93750" stop-color="#d92328"/><stop offset="0.95312" stop-color="#d92328"/><stop offset="0.95312" stop-color="#c62228"/><stop offset="0.96875" stop-color="#c62228"/><stop offset="0.96875" stop-color="#a91d23"/><stop offset="0.98438" stop-color="#a91d23"/><stop offset="0.98438" stop-color="#8c171c"/><stop offset="1.00000" stop-color="#8c171c"/></linearGradient></defs><rect x="641.6" y="1015.0" width="452.2" height="33.2" fill="url(#cbg)"/><rect x="641.6" y="1015.0" width="452.2" height="33.2" fill="none" stroke="#111" stroke-width="1.5"/><text x="592.85" y="1087.6" font-size="28.55" fill="#111" color="#111" textLength="98.74" lengthAdjust="spacingAndGlyphs" font-family="DejaVu Sans, sans-serif">2.8354</text><text x="1035.47" y="1087.7" font-size="29.59" fill="#111" color="#111" textLength="116.9" lengthAdjust="spacingAndGlyphs" font-family="DejaVu Sans, sans-serif">70.8683</text><text x="570.7" y="1149.4" font-size="47.13" fill="#231f20" color="#231f20" textLength="185.44" lengthAdjust="spacingAndGlyphs">SOZ:SOZ</text><text x="1058.08" y="1149.4" font-size="47.13" fill="#231f20" color="#231f20" textLength="108.81" lengthAdjust="spacingAndGlyphs">(mm)</text><text x="769.06" y="1149.4" font-size="42.09" fill="#231f20" color="#231f20" textLength="96.17" lengthAdjust="spacingAndGlyphs">edge</text><text x="876.99" y="1149.4" font-size="42.09" fill="#231f20" color="#231f20" textLength="167.52" lengthAdjust="spacingAndGlyphs">distance</text>
</svg>
</body></html>
